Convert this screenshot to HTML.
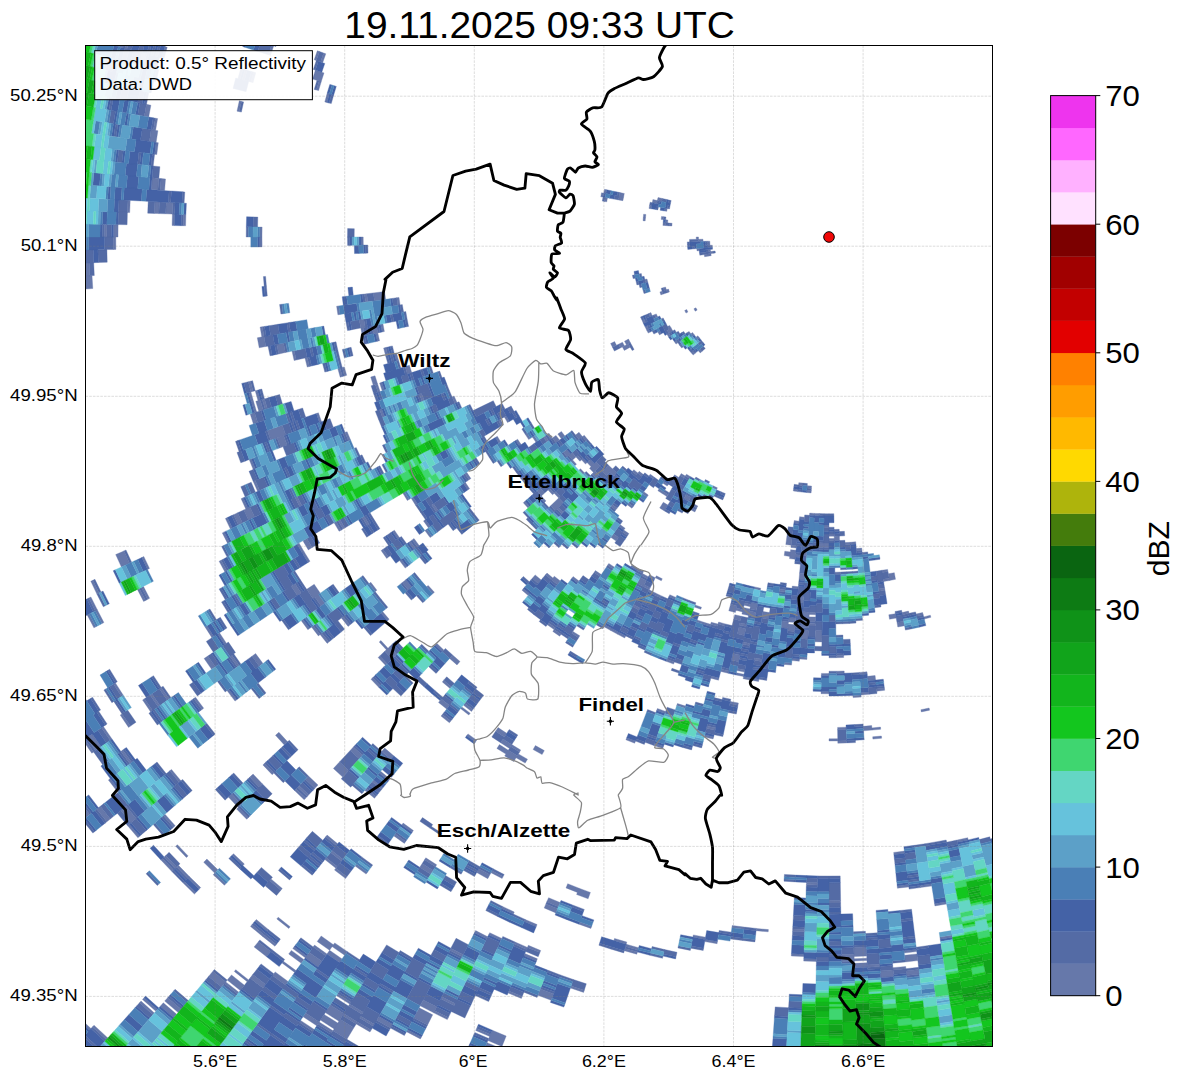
<!DOCTYPE html>
<html><head><meta charset="utf-8"><title>Radar 19.11.2025 09:33 UTC</title>
<style>html,body{margin:0;padding:0;background:#fff;font-family:"Liberation Sans",sans-serif}svg{display:block}</style>
</head><body>
<svg width="1184" height="1081" viewBox="0 0 1184 1081" font-family="Liberation Sans, sans-serif" fill="#000">
<rect width="1184" height="1081" fill="#fff"/>
<defs><clipPath id="c"><rect x="85.5" y="45.5" width="907.0" height="1001.0"/></clipPath></defs>
<g clip-path="url(#c)">
<g stroke-width="0.35" stroke-linejoin="miter"><path fill="#6678AA" stroke="#6678AA" d="M1011.9 835.2l0.6 2.1 -10.5 3.1 -0.6 -2.1zM930.3 615.2l0.6 2.1 -6.6 1.8 -0.6 -2.2zM922.6 612.5l0.6 2.2 -6.6 1.6 -0.5 -2.2zM967.7 837.7l0.5 2.2 -10.6 2.3 -0.4 -2.2zM908.5 611.1l0.5 2.2 -6.6 1.4 -0.4 -2.2zM929.1 708l0.5 2.2 -8.3 1.7 -0.4 -2.2zM894.3 572.7l1.2 6.6 -5.9 1.2 -1.2 -6.7zM903.7 621.3l0.9 4.4 -6.8 1.3 -0.8 -4.4zM887.6 569.4l0.4 2.2 -5.9 1 -0.3 -2.3zM889.2 578.2l0.4 2.3 -6 1 -0.4 -2.3zM895.4 613.7l0.8 4.4 -6.7 1.1 -0.7 -4.4zM946.2 901.7l0.4 2.3 -11.7 1.9 -0.3 -2.2zM952.1 935l0.4 2.2 -12.3 2 -0.3 -2.2zM884.6 588.1l0.4 2.2 -6.2 1 -0.3 -2.3zM931.4 883.7l0.4 2.2 -11.4 1.7 -0.3 -2.2zM884.4 688.1l0.3 2.2 -8 0.9 -0.2 -2.2zM904.4 851.1l0.3 2.3 -10.8 1.2 -0.2 -2.2zM908.5 884.6l0.3 2.3 -11.4 1.3 -0.2 -2.3zM916.5 949.4l0.2 2.2 -12.4 1.5 -0.3 -2.3zM917 953.9l0.8 6.7 -12.6 1.4 -0.7 -6.7zM918.9 969.5l0.6 4.5 -12.9 1.4 -0.5 -4.4zM861.7 548l0.2 2.3 -5.4 0.5 -0.2 -2.2zM875.1 675.6l0.5 4.5 -7.8 0.7 -0.4 -4.5zM880.5 727.1l0.2 2.2 -8.6 0.8 -0.2 -2.2zM881.4 736l0.3 2.2 -8.8 0.9 -0.2 -2.3zM905.7 966.5l0.2 2.2 -12.8 1.3 -0.2 -2.3zM855.7 541.8l0.2 2.3 -5.4 0.4 -0.2 -2.2zM867 671.8l0.2 2.3 -7.6 0.6 -0.2 -2.3zM868.8 692l0.2 2.3 -8 0.6 -0.1 -2.3zM871.7 725.6l0.4 4.5 -8.6 0.7 -0.3 -4.5zM893.1 970l0.6 6.7 -12.9 1 -0.5 -6.7zM850.3 542.3l0.2 2.2 -5.4 0.3 -0.1 -2.2zM861 694.9l0.2 2.2 -8.1 0.5 -0.1 -2.2zM879.9 964.2l0.1 2.3 -12.7 0.7 -0.1 -2.2zM866.2 947l0.5 9 -12.6 0.6 -0.3 -9zM866.8 958.3l0.1 2.2 -12.6 0.6 -0.1 -2.3zM867 962.8l0.3 4.4 -12.8 0.6 -0.1 -4.5zM839.4 536.1l0.2 4.5 -5.3 0.1 -0.1 -4.5zM840.7 572l0.1 2.3 -5.9 0.1 0 -2.2zM843.6 655.2l0.1 2.3 -7.4 0.2 0 -2.3zM844.2 671l0 2.2 -7.6 0.2 0 -2.2zM846.1 727.2l0.1 2.2 -8.6 0.3 0 -2.3zM846.6 740.7l0.1 2.2 -8.9 0.3 0 -2.3zM854 954.3l0.3 6.8 -12.7 0.3 -0.1 -6.8zM834.2 534l0 2.2 -5.2 0 0 -2.2zM834.3 538.5l0 2.2 -5.3 0.1 0 -2.3zM837.8 738.7l0 2.2 -8.8 0.1 0 -2.2zM840.6 900.6l0 2.3 -11.6 0.1 0 -2.2zM829 525l0 2.2 -5.1 0 0.1 -2.2zM829 543l0 4.5 -5.4 0 0.1 -4.5zM829 673.5l0 2.3 -7.7 -0.1 0.1 -2.3zM829 691.5l0 2.3 -8 -0.1 0.1 -2.3zM823.7 543l-0.1 4.5 -5.4 -0.2 0.1 -4.5zM822.1 630.7l-0.2 11.2 -7 -0.1 0.4 -11.3zM817.7 882.7l0 2.2 -11.3 -0.3 0.1 -2.2zM816.4 959.1l0 2.3 -12.7 -0.3 0.1 -2.3zM819.3 513.6l0 2.2 -4.9 -0.2 0.1 -2.2zM815.9 612.5l-0.1 2.3 -6.6 -0.3 0.1 -2.3zM815.7 617l-0.1 4.5 -6.7 -0.3 0.2 -4.5zM815.5 623.8l-0.1 2.2 -6.8 -0.3 0.1 -2.2zM804.8 929.6l-0.1 2.2 -12.1 -0.5 0.1 -2.2zM804 954.3l-0.1 2.3 -12.6 -0.6 0.1 -2.2zM814.5 513.4l-0.1 2.2 -4.9 -0.3 0.2 -2.2zM812.9 544.8l-0.2 2.3 -5.4 -0.4 0.2 -2.2zM809.3 612.2l-0.3 6.8 -6.7 -0.4 0.5 -6.8zM808.9 621.2l-0.4 6.8 -6.8 -0.5 0.5 -6.7zM808.4 630.2l-0.5 9 -7 -0.4 0.6 -9zM807 657.2l-0.1 2.2 -7.4 -0.4 0.1 -2.3zM811.6 486.1l-0.2 2.3 -4.4 -0.4 0.2 -2.2zM811.3 490.6l-0.2 2.3 -4.5 -0.4 0.2 -2.2zM807 551.2l-0.3 4.5 -5.5 -0.4 0.3 -4.5zM805.5 573.7l-0.5 6.7 -6 -0.5 0.6 -6.7zM803.9 596.1l-0.5 6.8 -6.4 -0.5 0.6 -6.8zM801.8 625.3l-0.1 2.2 -6.8 -0.5 0.2 -2.2zM799.5 659l-0.2 2.2 -7.4 -0.6 0.2 -2.2zM804.5 517.2l-0.2 2.2 -4.9 -0.5 0.2 -2.2zM801.2 555.3l-0.2 2.2 -5.6 -0.5 0.2 -2.3zM798.4 586.7l-0.2 2.2 -6.1 -0.6 0.2 -2.2zM795.7 618l-0.4 4.5 -6.8 -0.6 0.5 -4.5zM795.1 624.8l-0.6 6.7 -6.9 -0.7 0.7 -6.7zM791.7 662.9l-0.2 2.2 -7.4 -0.7 0.2 -2.2zM768.4 929.6l-0.2 2.2 -12.1 -1.1 0.2 -2.3zM803.1 483.1l-0.2 2.3 -4.3 -0.5 0.2 -2.2zM799.1 521.2l-0.2 2.2 -5 -0.5 0.3 -2.3zM796.5 545.8l-0.2 2.2 -5.4 -0.6 0.3 -2.2zM796.1 550.3l-1 8.9 -5.6 -0.6 1.1 -8.9zM788.5 621.9l-0.7 6.7 -6.8 -0.8 0.8 -6.7zM798 489.4l-0.3 2.2 -4.4 -0.6 0.3 -2.2zM792.3 536.3l-1.1 8.9 -5.4 -0.7 1.2 -8.9zM790.3 551.9l-0.5 4.5 -5.6 -0.8 0.6 -4.4zM785.7 589.9l-0.3 2.2 -6.2 -0.8 0.3 -2.3zM744.3 927.1l-0.3 2.2 -12.1 -1.6 0.3 -2.2zM769.5 612.6l-1 6.6 -6.7 -1.1 1.2 -6.6zM762.1 659.2l-0.3 2.3 -7.4 -1.3 0.4 -2.2zM759 679.2l-0.4 2.3 -7.7 -1.3 0.3 -2.3zM717.4 941.5l-0.3 2.2 -12.3 -2.1 0.3 -2.2zM751.2 677.9l-0.3 2.3 -7.8 -1.5 0.5 -2.2zM705.5 937.2l-0.4 2.2 -12.2 -2.3 0.4 -2.2zM760.7 588.2l-0.4 2.2 -6.1 -1.3 0.4 -2.2zM757.7 603.6l-1.3 6.7 -6.5 -1.4 1.4 -6.6zM756 612.5l-0.8 4.4 -6.7 -1.4 1 -4.4zM750 643.4l-0.4 2.2 -7.1 -1.4 0.4 -2.2zM744.9 669.9l-0.5 2.2 -7.6 -1.5 0.5 -2.2zM744 674.3l-0.4 2.2 -7.7 -1.5 0.5 -2.2zM738.4 703l-0.4 2.2 -8.2 -1.6 0.5 -2.2zM750.9 604.5l-0.5 2.2 -6.4 -1.4 0.5 -2.2zM749.9 608.9l-1.4 6.6 -6.6 -1.4 1.6 -6.6zM746.7 624.3l-0.5 2.2 -6.8 -1.5 0.5 -2.1zM745.7 628.7l-1.4 6.7 -6.9 -1.6 1.5 -6.6zM740.1 655.2l-1.4 6.6 -7.4 -1.7 1.5 -6.6zM743 609.7l-0.5 2.2 -6.6 -1.6 0.6 -2.2zM741.4 616.3l-1 4.4 -6.7 -1.6 1.1 -4.4zM728.8 671.1l-0.5 2.2 -7.6 -1.9 0.5 -2.1zM715.6 728.1l-0.5 2.2 -8.6 -2.1 0.6 -2.2zM713.6 736.9l-0.5 2.1 -8.8 -2.1 0.6 -2.1zM737 606l-1.6 6.5 -6.6 -1.7 1.8 -6.5zM719 678l-0.5 2.2 -7.7 -2 0.6 -2.2zM725.3 623.9l-0.5 2.1 -6.8 -1.9 0.6 -2.1zM638.6 947.7l-0.6 2.2 -12.4 -3.5 0.6 -2.2zM637.4 952l-0.6 2.2 -12.5 -3.5 0.7 -2.1zM718 624.1l-0.6 2.2 -6.8 -2 0.6 -2.1zM626.8 942.1l-0.6 2.1 -12.3 -3.6 0.6 -2.2zM710.6 624.3l-0.7 2.2 -6.7 -2.2 0.6 -2.1zM685.6 706.1l-0.7 2.1 -8.2 -2.6 0.7 -2.1zM703.8 622.2l-0.6 2.1 -6.8 -2.2 0.7 -2.2zM663.5 746.3l-0.7 2.1 -8.9 -2.9 0.8 -2.2zM584.3 990.2l-0.7 2.2 -13.2 -4.4 0.8 -2.1zM701.5 607.2l-0.7 2.1 -6.5 -2.3 0.8 -2.1zM665.6 711.4l-0.7 2.1 -8.3 -2.9 0.8 -2.1zM591.7 926.3l-0.8 2.1 -12 -4.2 0.8 -2.2zM674.3 662l-0.7 2.1 -7.5 -2.8 0.8 -2.1zM590.4 892.4l-2.3 6.4 -11.5 -4.3 2.4 -6.3zM553.5 993.9l-2.3 6.4 -13.3 -5 2.4 -6.3zM635.5 741.1l-0.8 2.1 -8.8 -3.4 0.8 -2.1zM579 888.2l-1.6 4.2 -11.4 -4.5 1.7 -4.2zM512.1 1062.5l-0.8 2.1 -14.4 -5.7 0.9 -2zM560.1 902.5l-1.7 4.2 -11.6 -4.9 1.8 -4.1zM557.6 908.7l-1.7 4.2 -11.7 -4.9 1.7 -4.1zM540.7 950.5l-0.8 2.1 -12.4 -5.2 0.8 -2.1zM537.4 958.8l-0.9 2.1 -12.6 -5.2 0.9 -2.1zM522.2 996.4l-0.8 2 -13.3 -5.4 0.9 -2.1zM506.2 1036l-4.2 10.4 -14.1 -5.8 4.4 -10.4zM501.1 1048.5l-1.7 4.2 -14.1 -5.9 1.7 -4.1zM676 597.4l-0.9 2 -6.3 -2.7 1 -2zM537.1 924.6l-0.9 2.1 -11.9 -5.2 0.9 -2.1zM527.5 947.4l-0.9 2.1 -12.4 -5.4 0.9 -2.1zM490.5 1034.4l-0.8 2.1 -14 -6.1 1 -2zM717.4 487.8l-1 2 -4.4 -2 1 -2zM661.6 595.9l-0.9 2 -6.3 -3 1 -2zM514.3 912l-1 2 -11.8 -5.6 1 -2zM501.9 938.5l-1 2 -12.2 -5.8 1 -2zM697.8 506l-1 2 -4.7 -2.4 1 -2zM695.8 510l-0.9 2 -4.8 -2.4 1 -2zM662.3 578.8l-1 2 -6 -3 1.1 -2zM655.4 592.9l-1 2 -6.2 -3.1 1 -2zM487.7 936.7l-1 2 -12.2 -6 1.1 -2.1zM455.2 1003.4l-1 2.1 -13.4 -6.7 1.1 -2zM448.3 1017.6l-1 2 -13.6 -6.8 1 -2zM689.1 511.7l-1.1 2 -4.8 -2.5 1.1 -2zM655.3 577.8l-1 2 -5.9 -3.1 1 -2zM650.2 587.8l-1 2 -6.1 -3.2 1 -1.9zM640 607.9l-1 2 -6.5 -3.4 1.1 -2zM625.7 635.9l-1 2.1 -7 -3.7 1.1 -2zM503.1 876.5l-1 2 -11.1 -5.8 1 -2zM463.3 954.7l-1 2 -12.5 -6.5 1 -2zM436.8 1006.8l-3.1 6 -13.5 -7 3.2 -5.9zM432.7 1014.8l-5.1 10.1 -13.7 -7.2 5.3 -9.9zM421.4 1036.9l-1 2 -13.9 -7.2 1 -2zM690.6 497.2l-2.1 4 -4.6 -2.5 2.2 -3.9zM648.4 576.7l-1.1 2 -5.9 -3.2 1.1 -2zM646.3 580.7l-3.2 5.9 -6.1 -3.3 3.3 -5.9zM618.8 632.3l-1.1 2 -6.9 -3.7 1.1 -2zM489.9 874.7l-2.1 4 -11.1 -6.1 2.1 -3.9zM643.6 571.5l-1.1 2 -5.9 -3.3 1.2 -1.9zM611.9 628.6l-1.1 2 -6.8 -3.9 1.1 -1.9zM544.3 750.6l-2.2 4 -9 -5.1 2.3 -3.9zM392.7 1024.2l-2.2 3.9 -13.8 -7.8 2.3 -3.9zM690.6 476.7l-1.1 1.9 -4.2 -2.5 1.2 -1.9zM682.8 490.3l-1.2 2 -4.4 -2.6 1.2 -2zM637.8 568.3l-1.2 1.9 -5.8 -3.4 1.2 -1.9zM527.5 759.2l-2.3 3.9 -9.1 -5.4 2.3 -3.8zM374.5 1024.2l-1.1 2 -13.7 -8.1 1.1 -1.9zM371.1 1030.1l-1.1 1.9 -13.8 -8.1 1.2 -1.9zM685.3 476.1l-1.2 2 -4.1 -2.6 1.2 -1.9zM667.9 505.1l-3.5 5.8 -4.7 -2.9 3.6 -5.8zM520.7 750l-1.1 1.9 -8.9 -5.4 1.1 -1.9zM517.3 755.8l-3.5 5.8 -9.1 -5.6 3.6 -5.7zM363.1 1012.3l-1.1 1.9 -13.5 -8.2 1.2 -1.9zM357.4 1022l-1.2 1.9 -13.7 -8.4 1.2 -1.9zM353.9 1027.7l-7 11.6 -13.9 -8.5 7.1 -11.5zM678.8 477.4l-1.2 1.9 -4.2 -2.6 1.2 -1.9zM668 494.6l-1.2 1.9 -4.5 -2.9 1.3 -1.9zM579.8 635.8l-1.2 1.9 -6.9 -4.4 1.2 -1.9zM511.8 744.6l-2.3 3.8 -8.9 -5.7 2.4 -3.8zM508.3 750.3l-2.4 3.8 -9 -5.7 2.5 -3.8zM436.7 864.8l-1.2 1.9 -10.9 -7 1.2 -1.9zM433.2 870.5l-2.4 3.8 -11.1 -7 2.5 -3.8zM350.9 1002.2l-1.2 1.9 -13.3 -8.5 1.2 -1.9zM343.7 1013.6l-4.7 7.6 -13.7 -8.6 4.9 -7.6zM337.8 1023.1l-3.6 5.8 -13.8 -8.8 3.7 -5.7zM333 1030.8l-1.2 1.9 -13.8 -8.8 1.2 -1.9zM668.5 484.2l-1.3 1.9 -4.3 -2.9 1.3 -1.8zM663.6 491.7l-1.3 1.9 -4.4 -2.9 1.2 -1.9zM614.5 567.2l-1.2 1.9 -5.7 -3.8 1.2 -1.9zM506.7 733.3l-2.4 3.8 -8.7 -5.8 2.5 -3.7zM319.2 1022l-2.4 3.8 -13.7 -9.1 2.5 -3.7zM314.3 1029.5l-1.2 1.9 -13.8 -9.1 1.3 -1.9zM628.9 533.6l-1.2 1.9 -5.2 -3.6 1.3 -1.8zM601.3 574.6l-1.3 1.9 -5.9 -4.1 1.3 -1.8zM561 634.3l-1.3 1.9 -6.9 -4.8 1.3 -1.8zM347.1 951.4l-2.5 3.8 -12.5 -8.6 2.6 -3.7zM342.1 958.9l-2.5 3.7 -12.6 -8.6 2.6 -3.7zM648.3 495l-1.3 1.9 -4.5 -3.2 1.3 -1.9zM625.1 528.2l-1.3 1.9 -5.1 -3.7 1.3 -1.8zM618.6 537.4l-2.5 3.7 -5.3 -3.8 2.6 -3.6zM555.4 627.7l-1.3 1.9 -6.8 -4.9 1.3 -1.8zM476.7 740.2l-1.3 1.8 -8.8 -6.2 1.4 -1.9zM413.4 830.5l-1.2 1.8 -10.4 -7.3 1.3 -1.9zM405.7 841.5l-1.3 1.9 -10.5 -7.5 1.3 -1.8zM333.4 944.7l-3.8 5.6 -12.4 -8.8 4 -5.5zM327 954l-1.3 1.8 -12.5 -8.9 1.3 -1.8zM321.8 961.3l-3.9 5.6 -12.6 -9.1 4 -5.4zM654.4 477.3l-1.3 1.8 -4.2 -3.1 1.4 -1.8zM633.3 506.4l-1.4 1.8 -4.7 -3.5 1.4 -1.8zM579 581l-1.3 1.9 -6 -4.5 1.4 -1.8zM367.4 872.3l-1.3 1.8 -11 -8.2 1.3 -1.8zM306.6 956l-1.3 1.8 -12.5 -9.2 1.3 -1.8zM304 959.7l-2.7 3.6 -12.6 -9.3 2.7 -3.6zM296 970.6l-1.3 1.8 -12.7 -9.4 1.3 -1.8zM288.1 981.5l-2.7 3.6 -12.9 -9.6 2.7 -3.6zM472.9 709.6l-1.4 1.8 -8.2 -6.3 1.4 -1.8zM470.2 713.2l-1.4 1.8 -8.3 -6.4 1.4 -1.7zM346.9 876.7l-1.3 1.8 -11.1 -8.5 1.4 -1.8zM265.7 984.5l-2.7 3.6 -13 -10 2.7 -3.5zM643.4 474.6l-1.4 1.8 -4.2 -3.3 1.5 -1.8zM617.1 508.3l-1.4 1.7 -4.8 -3.7 1.5 -1.8zM560.3 581l-2.8 3.5 -6 -4.8 2.8 -3.5zM450.8 721l-1.4 1.8 -8.4 -6.7 1.4 -1.7zM342.8 859.3l-1.4 1.8 -10.8 -8.6 1.4 -1.7zM337.2 866.4l-1.3 1.8 -11 -8.7 1.4 -1.8zM290.1 926.7l-1.3 1.8 -12 -9.6 1.4 -1.7zM276.3 944.4l-1.4 1.8 -12.3 -9.8 1.4 -1.7zM270.7 951.5l-4.1 5.3 -12.5 -9.9 4.3 -5.2zM248.6 979.9l-1.4 1.8 -12.9 -10.3 1.4 -1.7zM244.4 985.2l-4.1 5.3 -13.1 -10.4 4.3 -5.2zM238.9 992.3l-1.4 1.8 -13.1 -10.5 1.4 -1.7zM637.8 473.1l-1.4 1.7 -4.1 -3.4 1.5 -1.7zM552.9 578l-1.4 1.7 -6 -4.9 1.5 -1.7zM449.5 705.6l-2.8 3.5 -8.2 -6.7 2.9 -3.5zM390 779.1l-1.4 1.7 -9.4 -7.8 1.5 -1.7zM383 787.8l-1.4 1.8 -9.6 -7.9 1.4 -1.8zM375.9 796.5l-1.4 1.8 -9.8 -8 1.5 -1.7zM337.7 843.8l-1.5 1.7 -10.5 -8.7 1.4 -1.7zM268.3 929.4l-1.4 1.8 -12.1 -9.9 1.5 -1.8zM264 934.7l-1.4 1.7 -12.1 -10 1.4 -1.7zM225.8 981.9l-4.3 5.2 -13 -10.7 4.4 -5.1zM541.2 580l-2.9 3.4 -6 -5.1 2.9 -3.4zM529.6 593.8l-1.4 1.7 -6.2 -5.3 1.4 -1.7zM451.5 686.9l-1.4 1.7 -7.8 -6.7 1.4 -1.7zM393.7 755.8l-2.9 3.5 -9.1 -7.8 3 -3.4zM282.3 888.5l-1.4 1.7 -11.4 -9.6 1.5 -1.7zM181.1 1009.2l-2.9 3.4 -13.5 -11.5 3 -3.4zM176.7 1014.3l-2.9 3.5 -13.5 -11.6 3 -3.4zM460 661.5l-3 3.4 -7.4 -6.5 3 -3.4zM157.4 1009.6l-1.5 1.7 -13.4 -11.8 1.5 -1.7zM154.4 1013l-1.5 1.7 -13.4 -11.9 1.5 -1.7zM616.7 472.8l-3 3.3 -4.1 -3.8 3 -3.3zM362.3 755.3l-3 3.4 -9.1 -8.3 3.1 -3.3zM348.7 770.4l-6 6.7 -9.3 -8.6 6.1 -6.6zM107.8 1037.9l-1.5 1.7 -13.9 -12.7 1.6 -1.7zM86.8 1061.3l-4.5 5 -14.4 -13.1 4.6 -4.9zM612.6 469l-6.1 6.6 -4.1 -3.9 6.2 -6.5zM443.8 650l-1.5 1.7 -7.2 -6.8 1.6 -1.7zM318 785l-3.1 3.3 -9.5 -9.1 3.1 -3.2zM308.8 794.8l-1.5 1.7 -9.7 -9.2 1.5 -1.6zM305.7 798.1l-1.5 1.7 -9.7 -9.3 1.5 -1.6zM244.4 864l-1.6 1.6 -10.9 -10.3 1.6 -1.6zM225.9 883.7l-1.5 1.6 -11.2 -10.6 1.5 -1.6zM90.9 1028.5l-1.5 1.7 -13.8 -13.1 1.6 -1.6zM599.2 474.9l-3.1 3.3 -4.2 -4.1 3.2 -3.2zM563.3 512.1l-1.6 1.7 -4.8 -4.7 1.6 -1.6zM217.9 869.8l-3.2 3.3 -11 -10.8 3.2 -3.2zM200.7 887.6l-1.6 1.7 -11.3 -11.1 1.6 -1.6zM196 892.5l-1.6 1.6 -11.3 -11.2 1.5 -1.5zM599.9 466.1l-6.4 6.4 -4 -4.2 6.4 -6.2zM563.3 502.7l-8 8 -4.7 -4.9 8.1 -7.8zM380.3 685.7l-1.6 1.6 -7.7 -8 1.6 -1.5zM248.3 817.7l-1.6 1.6 -10.1 -10.2 1.6 -1.6zM189.4 876.6l-1.6 1.6 -11.1 -11.3 1.7 -1.6zM594.3 463.6l-3.2 3.2 -4 -4.2 3.3 -3.1zM584.6 473l-1.6 1.6 -4.1 -4.4 1.6 -1.5zM560.3 496.5l-1.6 1.5 -4.5 -4.7 1.6 -1.6zM396.9 654.3l-4.9 4.7 -7.3 -7.7 4.9 -4.6zM387.1 663.7l-1.6 1.6 -7.4 -7.8 1.7 -1.6zM273.8 773.1l-1.6 1.6 -9.3 -9.8 1.7 -1.6zM262.5 784l-3.2 3.2 -9.5 -10.1 3.3 -3zM241.5 804.4l-3.3 3.1 -9.8 -10.4 3.3 -3.1zM188.1 855.9l-1.7 1.6 -10.7 -11.3 1.7 -1.5zM176.7 866.9l-1.6 1.5 -10.9 -11.5 1.6 -1.5zM173.5 870l-1.6 1.6 -11 -11.6 1.7 -1.5zM587.1 462.6l-1.6 1.5 -4 -4.3 1.7 -1.5zM554.2 493.3l-1.7 1.5 -4.4 -4.9 1.7 -1.5zM546 500.9l-1.7 1.6 -4.6 -5 1.7 -1.5zM388 648.2l-1.7 1.6 -7.1 -7.8 1.7 -1.5zM287.6 741.8l-3.3 3.1 -8.8 -9.6 3.4 -3zM701.9 351.4l-1.6 1.5 -2.1 -2.2 1.7 -1.5zM581.5 459.8l-1.6 1.5 -3.9 -4.4 1.7 -1.4zM576.5 464.3l-1.7 1.5 -3.9 -4.4 1.7 -1.5zM544.7 492.9l-3.3 3.1 -4.5 -5.1 3.4 -3zM529.7 506.5l-1.7 1.5 -4.7 -5.3 1.7 -1.5zM434.4 592.3l-1.7 1.5 -6.1 -7 1.6 -1.4zM175.2 825.7l-1.7 1.5 -10.2 -11.6 1.7 -1.4zM694.9 353.6l-1.7 1.5 -2.1 -2.4 1.7 -1.4zM576 456.9l-3.4 3 -3.9 -4.5 3.5 -2.9zM389.2 619.3l-1.7 1.5 -6.6 -7.8 1.7 -1.4zM139.6 836.3l-1.7 1.5 -10.4 -12.2 1.7 -1.4zM587.7 439.5l-1.7 1.4 -3.5 -4.2 1.7 -1.5zM570.5 453.9l-3.5 2.9 -3.8 -4.6 3.5 -2.8zM530.8 487.2l-1.7 1.5 -4.4 -5.3 1.8 -1.4zM411.9 587l-3.5 2.9 -6.1 -7.4 3.5 -2.8zM180.9 780.8l-1.7 1.4 -9.4 -11.4 1.7 -1.4zM136.1 818.4l-5.2 4.3 -10.1 -12.2 5.3 -4.3zM582.5 436.7l-3.5 2.8 -3.5 -4.4 3.5 -2.8zM526.5 482l-1.8 1.4 -4.2 -5.4 1.8 -1.4zM349.9 625l-1.8 1.4 -6.7 -8.5 1.8 -1.3zM328.9 642l-1.7 1.4 -7.1 -8.8 1.8 -1.4zM110.3 819l-3.5 2.8 -10.1 -12.7 3.6 -2.8zM699.6 338.1l-1.8 1.4 -1.8 -2.3 1.8 -1.4zM407 566.7l-1.8 1.4 -5.7 -7.5 1.8 -1.3zM376.9 590.2l-1.8 1.4 -6.1 -8 1.8 -1.3zM320.1 634.6l-1.7 1.3 -6.9 -8.9 1.8 -1.4zM236.8 699.7l-1.8 1.4 -8 -10.5 1.8 -1.3zM119.8 791.1l-1.8 1.4 -9.6 -12.5 1.8 -1.4zM89.6 814.6l-7 5.6 -10.1 -13.1 7.2 -5.4zM683.4 346.7l-1.7 1.3 -2 -2.6 1.9 -1.3zM564.9 436.1l-3.6 2.7 -3.5 -4.7 3.6 -2.7zM559.5 440.1l-3.6 2.7 -3.6 -4.8 3.7 -2.6zM431.9 536.3l-1.8 1.3 -5.2 -7 1.8 -1.3zM419.3 545.7l-1.8 1.4 -5.3 -7.2 1.8 -1.4zM415.7 548.4l-1.8 1.4 -5.4 -7.3 1.8 -1.3zM309.7 628.3l-1.8 1.4 -6.8 -9.2 1.8 -1.3zM263 663.5l-3.6 2.7 -7.4 -10 3.6 -2.6zM203.7 708.2l-1.8 1.4 -8.2 -11 1.8 -1.4zM131.8 762.4l-1.8 1.3 -9.1 -12.2 1.8 -1.4zM694.3 334.9l-1.8 1.3 -1.7 -2.4 1.8 -1.3zM552.3 438l-1.8 1.3 -3.5 -4.8 1.9 -1.3zM548.7 440.7l-1.8 1.3 -3.6 -5 1.9 -1.3zM430.4 526.6l-1.9 1.4 -5 -7.1 1.9 -1.3zM388.5 557l-1.8 1.4 -5.6 -7.8 1.9 -1.3zM324.8 603.3l-3.7 2.7 -6.3 -8.9 3.7 -2.6zM239.2 665.5l-1.8 1.3 -7.4 -10.4 1.8 -1.3zM690.8 333.8l-1.9 1.3 -1.7 -2.5 1.9 -1.2zM677.9 342.8l-1.9 1.3 -1.8 -2.7 1.8 -1.2zM537.8 440.9l-1.9 1.3 -3.5 -5.1 1.9 -1.3zM469.6 488.7l-1.8 1.2 -4.4 -6.3 1.9 -1.3zM438.3 510.6l-1.9 1.3 -4.7 -6.9 1.8 -1.3zM399.6 537.7l-1.9 1.3 -5.2 -7.6 1.9 -1.2zM320.3 593.2l-7.4 5.2 -6.2 -9.1 7.5 -5zM215.3 666.8l-3.7 2.5 -7.5 -10.8 3.7 -2.5zM169.2 699l-1.9 1.3 -8 -11.6 1.9 -1.3zM160 705.5l-1.9 1.3 -8.1 -11.8 1.9 -1.3zM152.6 710.6l-1.9 1.3 -8.1 -11.9 1.8 -1.2zM130.5 726.1l-1.9 1.3 -8.4 -12.3 1.8 -1.2zM112 739l-1.8 1.3 -8.7 -12.6 1.9 -1.3zM101 746.8l-5.6 3.8 -8.8 -12.8 5.6 -3.8zM93.6 751.9l-1.8 1.3 -8.9 -12.9 1.8 -1.3zM530.5 438.3l-1.8 1.3 -3.5 -5.3 1.9 -1.2zM521.2 444.6l-1.8 1.3 -3.6 -5.5 1.8 -1.2zM470.9 478.6l-1.9 1.2 -4.2 -6.3 1.9 -1.2zM301.1 593.1l-3.7 2.5 -6.2 -9.4 3.8 -2.4zM226.5 643.4l-1.9 1.3 -7 -10.7 1.9 -1.2zM71.7 747.8l-1.9 1.3 -8.8 -13.3 1.9 -1.3zM417.6 504.1l-1.9 1.3 -4.6 -7.3 1.9 -1.2zM213.8 636.5l-1.9 1.2 -6.9 -10.8 2 -1.2zM123.3 695.3l-1.9 1.2 -7.9 -12.4 1.9 -1.2zM670.6 336l-1.9 1.2 -1.7 -2.9 1.9 -1.1zM500.8 442.1l-1.9 1.2 -3.6 -5.8 2 -1.2zM409.2 499.3l-1.9 1.2 -4.5 -7.4 1.9 -1.2zM369.1 524.3l-1.9 1.2 -4.9 -8.1 1.9 -1.1zM310 561.3l-1.9 1.2 -5.6 -9.1 1.9 -1.2zM86.7 700.8l-1.9 1.2 -8 -13.1 2 -1.1zM672.8 330.9l-3.9 2.3 -1.6 -2.8 3.9 -2.3zM344.9 527.9l-1.9 1.1 -5 -8.5 1.9 -1.1zM341.1 530.2l-2 1.1 -5 -8.5 1.9 -1.2zM312.1 547.6l-3.8 2.3 -5.4 -9.1 3.9 -2.3zM304.4 552.2l-1.9 1.2 -5.5 -9.3 2 -1.1zM671.2 328.1l-2 1.2 -1.6 -2.9 2 -1zM661.4 333.8l-1.9 1.1 -1.7 -3 2 -1.1zM509.4 421.5l-1.9 1.1 -3.2 -5.6 2 -1.1zM503.6 424.9l-2 1.1 -3.2 -5.7 2 -1.1zM697.2 310.1l-2 1.1 -1.3 -2.4 2 -1zM630.2 347.2l-5.9 3.2 -1.9 -3.5 6 -3.2zM226.8 570.8l-1.9 1.1 -5.8 -10.6 2 -1.1zM687.9 312l-1.9 1.1 -1.3 -2.6 2 -1zM650.2 332.1l-2 1 -1.6 -3.1 2 -1.1zM630.3 342.6l-3.9 2.1 -1.9 -3.5 4 -2.1zM624.4 345.8l-4 2.1 -1.9 -3.6 4 -2.1zM149.6 598.3l-2 1 -6.2 -11.9 2 -1.1zM145.6 600.4l-2 1 -6.2 -12 2 -1zM103.9 622.6l-2 1 -6.6 -12.7 2 -1.1zM95.9 626.8l-2 1 -6.7 -12.9 2 -1zM648.6 328.9l-2 1.1 -1.6 -3.2 2 -1zM616.5 345.3l-4 2 -1.9 -3.8 4 -1.9zM301.7 505.6l-2 1.1 -4.6 -9.3 2 -1zM229.6 542.4l-2 1 -5.3 -10.5 2 -1zM97.3 609.8l-2 1.1 -6.5 -12.9 2.1 -1zM81.2 618l-2 1 -6.5 -13.1 2 -1zM71.2 623.1l-2 1 -6.6 -13.3 2 -1zM254.7 517.1l-6.1 3 -4.8 -10.2 6.1 -2.8zM242.5 523l-4 2 -4.9 -10.3 4 -1.9zM232.4 528l-2 1 -5 -10.5 2 -1zM149.5 568.4l-2 1 -5.7 -11.9 2 -1zM99 593.1l-2.1 1 -6.1 -12.9 2.1 -0.9zM657.7 316.9l-2 0.9 -1.4 -3 2 -0.9zM645.5 322.6l-2.1 0.9 -1.4 -3.2 2 -0.9zM247.8 508l-2 1 -4.7 -10.3 2.1 -0.9zM129.6 563.2l-8.2 3.8 -5.7 -12.4 8.3 -3.7zM652.2 315.7l-2 0.9 -1.4 -3.1 2.1 -0.9zM457 402.6l-2.1 1 -2.8 -6.6 2 -0.9zM259.6 490.5l-2 0.9 -4.4 -10 2.1 -0.9zM350.6 440.1l-2.1 0.9 -3.5 -8.5 2.1 -0.8zM424.3 400.5l-2.1 0.9 -2.8 -7.2 2.1 -0.8zM384.6 416.5l-2 0.9 -3.1 -7.8 2.1 -0.9zM255.3 468.8l-2.1 0.8 -4 -10.1 2.1 -0.8zM287.1 445l-6.3 2.5 -3.6 -9.6 6.3 -2.4zM321.6 421.7l-2.1 0.8 -3.2 -9 2.1 -0.7zM285.6 434.8l-14.8 5.4 -3.4 -9.8 14.9 -5.1zM669.4 291.9l-2.1 0.8 -0.9 -2.9 2.1 -0.7zM663.1 294.1l-2.2 0.8 -1 -3 2.2 -0.7zM384.4 390.1l-2.2 0.7 -2.6 -7.8 2.2 -0.7zM380.1 391.6l-2.1 0.7 -2.7 -7.9 2.2 -0.7zM666.4 289.8l-2.2 0.7 -0.9 -2.8 2.2 -0.7zM411.7 372.6l-4.3 1.4 -2.3 -7.4 4.3 -1.3zM377.5 383.7l-4.3 1.4 -2.5 -8 4.3 -1.3zM257.7 422.6l-4.3 1.4 -3.2 -10 4.3 -1.4zM267.4 408.7l-2.1 0.7 -3 -9.9 2.2 -0.6zM263.1 410l-4.3 1.3 -3 -10 4.4 -1.2zM256.7 412l-2.2 0.6 -3 -10 2.2 -0.6zM398.6 360.4l-2.2 0.6 -2.1 -7.5 2.2 -0.6zM346.7 375.3l-2.2 0.6 -2.3 -8.5 2.1 -0.5zM342.4 376.5l-2.2 0.7 -2.4 -8.6 2.2 -0.6zM260.2 400.1l-2.2 0.6 -2.8 -10 2.2 -0.5zM253.7 402l-2.2 0.6 -2.8 -10.1 2.2 -0.6zM387.8 355.2l-2.2 0.6 -2 -7.8 2.2 -0.5zM253.1 391.3l-2.2 0.6 -2.6 -10.1 2.2 -0.6zM647.8 282.2l-2.2 0.5 -0.8 -3.2 2.2 -0.5zM309.4 366.5l-2.2 0.6 -2.2 -9.1 2.2 -0.5zM379.6 340.8l-2.2 0.5 -1.8 -7.9 2.2 -0.5zM296.3 360l-2.2 0.5 -2.1 -9.4 2.2 -0.4zM384.4 331.5l-2.2 0.5 -1.6 -7.8 2.3 -0.5zM377.8 332.9l-4.4 0.9 -1.6 -7.9 4.4 -0.9zM364.6 335.7l-2.2 0.5 -1.6 -8.2 2.2 -0.4zM285.4 352.5l-6.6 1.5 -2 -9.7 6.7 -1.3zM365.2 327.2l-4.4 0.8 -1.6 -8.2 4.5 -0.8zM265.8 346.5l-6.6 1.3 -1.9 -10 6.7 -1.2zM264 336.6l-2.2 0.4 -1.7 -9.9 2.2 -0.3zM711.2 255.7l-6.6 1 -0.4 -2.2 6.7 -0.9zM400.1 304.9l-2.2 0.4 -1.2 -7.6 2.3 -0.3zM340.1 314.4l-2.2 0.4 -1.3 -8.6 2.2 -0.3zM713.1 253.3l-2.2 0.3 -0.3 -2.1 2.3 -0.2zM385.6 299.3l-11.1 1.6 -1.1 -8 11.2 -1.3zM367.8 301.8l-2.2 0.3 -1.1 -8.1 2.2 -0.2zM710.6 251.5l-2.2 0.3 -0.2 -2.1 2.2 -0.2zM699.2 250.6l-2.2 0.3 -0.2 -2.3 2.2 -0.2zM712.4 247.2l-2.2 0.2 -0.2 -2.1 2.3 -0.1zM710 245.3l-2.2 0.2 -0.1 -2.1 2.2 -0.2zM92.8 288.5l-22.4 1.5 -0.9 -13.2 22.5 -1.2zM68.1 290.2l-2.2 0.2 -0.9 -13.4 2.3 -0.1zM709.9 243.2l-2.2 0.2 -0.1 -2.2 2.2 0zM89.8 275.7l-4.5 0.3 -0.6 -13 4.5 -0.2zM703.1 241.4l-4.5 0.2 -0.1 -2.3 4.5 -0.1zM698.5 239.3l-2.2 0 -0.1 -2.3 2.3 0zM363.3 245.1l-2.2 0.1 -0.1 -8.2 2.2 0zM262.1 246.9l-2.3 0 0 -9.9 2.2 0zM115.9 249.4l-2.3 0.1 -0.1 -12.5 2.3 0zM262 237l-2.2 0 0 -9.9 2.3 0zM118 237l-4.5 0 0.1 -12.5 4.5 0.1zM106.8 237l-2.3 0 0.1 -12.6 2.3 0zM185.6 225.8l-2.3 -0.1 0.3 -11.2 2.3 0zM174.3 225.6l-2.2 -0.1 0.3 -11.4 2.2 0zM172.4 214.1l-6.7 -0.3 0.5 -11.5 6.7 0.3zM158.9 213.6l-4.5 -0.2 0.5 -11.7 4.5 0.2zM129.7 212.6l-2.3 -0.1 0.6 -12.2 2.2 0.1zM671.9 226l-2.3 -0.1 0.3 -2.8 2.2 0.2zM665.2 225.5l-2.3 -0.1 0.2 -2.9 2.3 0.2zM164.6 190.5l-4.5 -0.3 1 -11.6 4.4 0.4zM157.9 190.1l-6.7 -0.5 0.9 -11.8 6.7 0.6zM667.6 222.9l-2.2 -0.2 0.2 -2.9 2.3 0.3zM645.2 220.9l-2.2 -0.2 0.3 -3.2 2.2 0.2zM663.4 219.6l-2.2 -0.2 0.3 -3 2.2 0.3zM645.5 217.7l-2.2 -0.2 0.3 -3.3 2.3 0.3zM156.8 154.5l-2.2 -0.3 1.5 -11.8 2.2 0.3zM156.1 142.4l-6.7 -0.9 1.8 -11.9 6.7 1.1zM666.8 211.3l-2.3 -0.3 0.5 -2.9 2.2 0.4zM651.2 208.8l-2.2 -0.3 0.5 -3.1 2.2 0.3zM606.8 201.8l-2.3 -0.3 0.7 -4 2.2 0.4zM155.6 130.4l-2.2 -0.4 2 -11.8 2.2 0.4zM622.9 200.7l-4.4 -0.8 0.7 -3.7 4.4 0.9zM603 197.1l-2.2 -0.3 0.7 -4 2.2 0.4zM148.7 117.1l-4.4 -0.8 2.2 -12 4.4 0.9zM656.7 203.5l-4.4 -0.8 0.6 -3.1 4.4 0.9zM623.6 197.1l-4.4 -0.9 0.7 -3.6 4.4 0.9zM605.9 193.6l-2.2 -0.4 0.8 -3.9 2.2 0.5zM661.7 201.4l-4.4 -0.9 0.7 -3 4.4 1zM239.2 111.6l-2.2 -0.4 2.3 -10.4 2.2 0.6zM156 81.6l-2.2 -0.5 2.8 -11.8 2.2 0.6zM143.5 66.1l-4.4 -1.1 3.1 -12 4.4 1.1zM327 102.5l-2.2 -0.6 2.4 -8.8 2.2 0.6zM253.1 82.7l-2.2 -0.6 2.8 -10.1 2.1 0.7zM164 58.8l-2.2 -0.6 3.2 -11.6 2.2 0.6zM127 48.9l-2.2 -0.6 3.4 -12.2 2.2 0.6zM122.7 47.7l-4.4 -1.1 3.5 -12.4 4.3 1.2zM318.6 90.6l-2.2 -0.6 2.7 -8.9 2.1 0.7zM165 46.6l-2.2 -0.6 3.5 -11.6 2.1 0.6zM321.2 81.8l-8.6 -2.7 2.8 -9 8.6 2.8zM270.5 55.5l-2.1 -0.7 3.2 -9.7 2.1 0.7zM322.7 62.7l-2.2 -0.8 3.2 -8.8 2.1 0.7zM316.3 60.5l-2.1 -0.8 3.1 -8.9 2.2 0.7z"/><path fill="#546BA5" stroke="#546BA5" d="M1000.8 836.1l0.6 2.2 -10.5 2.9 -0.6 -2.2zM989.7 836.8l1.2 4.4 -10.6 2.7 -1.1 -4.3zM923.2 614.7l0.5 2.2 -6.6 1.6 -0.5 -2.2zM915.5 611.9l0.6 2.2 -6.6 1.4 -0.5 -2.2zM909 613.3l0.5 2.2 -6.7 1.4 -0.4 -2.2zM911.8 626.5l0.5 2.2 -6.9 1.4 -0.4 -2.2zM957.2 840l0.9 4.4 -10.6 2.2 -0.9 -4.4zM901.6 610.3l0.4 2.2 -6.6 1.2 -0.4 -2.2zM902.4 614.7l1.3 6.6 -6.7 1.3 -1.2 -6.7zM946.2 840l0.4 2.2 -10.5 1.9 -0.4 -2.2zM888 571.6l1.2 6.6 -6 1 -1.1 -6.6zM935.7 841.9l0.4 2.2 -10.7 1.8 -0.3 -2.2zM881.8 570.3l1.8 11.2 -6.1 0.9 -1.5 -11.2zM883.9 583.7l0.7 4.4 -6.1 0.9 -0.7 -4.4zM885 590.3l0.7 4.5 -6.3 0.9 -0.6 -4.4zM925.1 843.7l0.3 2.2 -10.6 1.6 -0.3 -2.2zM876.6 575.7l0.6 4.4 -6 0.8 -0.5 -4.4zM879.1 593.5l0.6 4.5 -6.3 0.8 -0.5 -4.5zM880.7 604.6l0.3 2.3 -6.5 0.8 -0.3 -2.2zM915.4 852l1 6.6 -10.9 1.5 -0.8 -6.7zM918.6 874.2l0.3 2.3 -11.2 1.4 -0.3 -2.2zM919.2 878.7l0.3 2.2 -11.3 1.5 -0.2 -2.2zM920.1 885.4l0.3 2.2 -11.3 1.5 -0.3 -2.2zM928.6 945.5l0.3 2.3 -12.4 1.6 -0.3 -2.2zM929.8 954.4l1.3 9 -12.7 1.6 -1.1 -8.9zM867.7 551.9l0.2 2.2 -5.5 0.6 -0.2 -2.2zM884.1 685.9l0.3 2.2 -7.9 0.9 -0.2 -2.2zM905.2 857.8l0.6 4.5 -10.9 1.2 -0.5 -4.4zM911.5 909.2l0.3 2.2 -11.8 1.4 -0.2 -2.3zM912.6 918.1l0.3 2.3 -11.9 1.3 -0.3 -2.2zM914.8 936l0.3 2.2 -12.3 1.4 -0.2 -2.2zM918.7 967.3l0.2 2.2 -12.8 1.5 -0.2 -2.3zM919.5 974l0.3 2.2 -13 1.5 -0.2 -2.3zM861.9 550.3l0.3 2.2 -5.5 0.5 -0.2 -2.2zM875.8 682.3l0.2 2.2 -7.8 0.8 -0.2 -2.3zM876.3 686.8l0.7 6.7 -8 0.8 -0.6 -6.8zM905 959.8l0.2 2.2 -12.7 1.2 -0.2 -2.2zM905.9 968.7l0.5 4.5 -12.9 1.2 -0.4 -4.4zM858.2 571l0.2 2.2 -5.9 0.5 -0.1 -2.3zM862.3 618l0.2 2.3 -6.7 0.5 -0.1 -2.2zM890.4 938.6l0.8 8.9 -12.4 1 -0.7 -9zM892.7 965.5l0.4 4.5 -12.8 1 -0.3 -4.5zM850.5 544.5l0.3 4.5 -5.4 0.3 -0.3 -4.5zM852.4 571.4l0.1 2.3 -5.8 0.3 -0.2 -2.2zM855.8 620.8l0.2 2.3 -6.7 0.4 -0.2 -2.3zM859.4 672.4l0.2 2.3 -7.6 0.4 -0.2 -2.2zM863.1 724.1l0.1 2.2 -8.5 0.5 -0.1 -2.2zM877.7 932.8l0.1 2.2 -12.2 0.8 -0.1 -2.3zM878 937.3l0.1 2.2 -12.2 0.8 -0.2 -2.3zM879.1 953l0.8 11.2 -12.7 0.8 -0.6 -11.2zM880 966.5l0.2 2.2 -12.8 0.8 -0.1 -2.3zM844.4 531.3l0.3 4.5 -5.3 0.3 -0.1 -4.5zM844.9 540.3l0.4 6.8 -5.5 0.2 -0.2 -6.7zM846.3 567.3l0.1 2.2 -5.8 0.3 -0.1 -2.3zM846.5 571.8l0.2 2.2 -5.9 0.3 -0.1 -2.3zM849.1 621.2l0.2 2.3 -6.8 0.3 -0.1 -2.3zM850.1 639.2l0.2 4.5 -7.1 0.3 -0.1 -4.5zM855.4 740.3l0.1 2.3 -8.8 0.3 -0.1 -2.2zM865.4 931.3l0.1 2.2 -12.2 0.6 0 -2.3zM866.1 944.8l0.1 2.2 -12.4 0.6 -0.1 -2.3zM839.2 529.3l0.1 2.3 -5.2 0.1 0 -2.2zM839.4 533.8l0 2.3 -5.2 0.1 0 -2.2zM842.4 621.5l0.1 2.3 -6.7 0.1 -0.1 -2.2zM842.9 635l0.1 2.3 -7 0.1 0 -2.2zM843.5 653l0.1 2.2 -7.3 0.2 0 -2.2zM846.2 729.4l0.4 11.3 -8.8 0.2 -0.2 -11.2zM853.8 947.6l0.2 6.7 -12.5 0.3 -0.1 -6.7zM854.3 961.1l0.1 2.2 -12.7 0.3 -0.1 -2.2zM833.8 513.7l0.1 2.3 -4.9 0 0 -2.2zM834.1 527.2l0 2.3 -5.1 0 0 -2.3zM834.1 531.7l0.1 2.3 -5.2 0 0 -2.2zM834.3 540.7l0 2.3 -5.3 0 0 -2.2zM835.6 614.9l0.1 6.8 -6.7 0.1 0 -6.8zM836.1 646.4l0.2 6.8 -7.3 0 0 -6.7zM836.3 655.4l0 2.3 -7.3 0.1 0 -2.3zM836.6 671.2l0 2.2 -7.6 0.1 0 -2.3zM840.2 875.9l0 2.3 -11.2 0 0 -2.2zM840.3 882.7l0.3 17.9 -11.6 0.2 0 -18zM840.6 902.9l0.1 4.5 -11.7 0.1 0 -4.5zM840.8 911.9l0 2.2 -11.8 0.1 0 -2.2zM841.3 941.1l0.1 4.5 -12.4 0.2 0 -4.6zM841.5 954.6l0.1 2.3 -12.6 0.1 0 -2.2zM829 513.8l0 2.2 -4.9 0 0.1 -2.3zM829 527.2l0 4.6 -5.1 -0.1 0 -4.5zM829 534l0 9 -5.3 0 0.1 -9zM829 547.5l0 2.3 -5.5 -0.1 0.1 -2.2zM829 635.2l0 15.8 -7.2 -0.1 0.2 -15.7zM829 876l0 2.2 -11.2 0 0 -2.3zM829 957l0 4.5 -12.6 -0.1 0 -4.5zM824.2 513.7l-0.1 2.3 -4.8 -0.2 0 -2.2zM823.7 540.7l0 2.3 -5.4 -0.2 0.1 -2.2zM823.6 547.5l-0.1 2.2 -5.4 -0.1 0.1 -2.3zM822.6 603.7l-0.2 9 -6.5 -0.2 0.3 -9zM822.3 621.7l-0.2 9 -6.8 -0.2 0.3 -9zM821.9 646.4l-0.1 4.5 -7.2 -0.2 0.1 -4.4zM817.8 878.2l-0.1 4.5 -11.2 -0.3 0.1 -4.5zM817.7 884.9l0 2.3 -11.4 -0.3 0.1 -2.3zM818.3 542.8l-0.2 6.8 -5.5 -0.3 0.4 -6.7zM816.1 605.8l-0.2 6.7 -6.6 -0.3 0.4 -6.7zM815.6 621.5l-0.1 2.3 -6.8 -0.3 0.2 -2.3zM815.4 626l-0.4 11.3 -7 -0.3 0.6 -11.3zM805.3 916.1l-0.2 4.5 -11.9 -0.5 0.2 -4.5zM804.9 927.3l-0.1 2.3 -12.1 -0.5 0.1 -2.3zM804.7 931.8l-0.1 4.5 -12.2 -0.5 0.2 -4.5zM802.3 1001.5l-0.2 6.8 -13.5 -0.6 0.4 -6.7zM812.7 547.1l-0.2 4.5 -5.5 -0.4 0.3 -4.5zM810.9 583l-0.4 6.8 -6.1 -0.4 0.4 -6.7zM810.4 592l-0.5 9 -6.3 -0.4 0.6 -9zM809.6 607.7l-0.3 4.5 -6.5 -0.4 0.3 -4.5zM809 619l-0.1 2.2 -6.7 -0.4 0.1 -2.2zM808.5 628l-0.1 2.2 -6.9 -0.4 0.2 -2.3zM807.9 639.2l-0.4 9 -7.2 -0.5 0.6 -8.9zM795.6 875.1l-0.2 2.3 -11.1 -0.7 0.1 -2.3zM795.3 879.6l-0.1 2.3 -11.2 -0.7 0.1 -2.3zM788.6 1007.7l-0.5 9 -13.6 -0.9 0.7 -8.9zM785.8 1061.6l-0.3 4.5 -14.4 -0.9 0.3 -4.5zM811.4 488.4l-0.1 2.2 -4.5 -0.3 0.2 -2.3zM809.5 515.3l-0.4 6.8 -5 -0.4 0.6 -6.8zM807.7 542.3l-0.7 8.9 -5.5 -0.4 0.8 -9zM806.7 555.7l-1.2 18 -5.9 -0.5 1.6 -17.9zM804.8 582.7l-0.1 2.2 -6.1 -0.5 0.2 -2.2zM804.5 587.1l-0.6 9 -6.3 -0.5 0.8 -8.9zM803.4 602.9l-0.3 4.4 -6.5 -0.5 0.4 -4.4zM802.8 611.8l-1 13.5 -6.7 -0.5 1.2 -13.5zM801.7 627.5l-0.2 2.3 -6.8 -0.5 0.2 -2.3zM799.8 654.5l-0.2 2.2 -7.3 -0.6 0.2 -2.2zM807.4 483.6l-0.2 2.2 -4.3 -0.4 0.2 -2.3zM802.5 539.6l-0.2 2.2 -5.3 -0.5 0.2 -2.2zM802.1 544.1l-0.2 2.2 -5.4 -0.5 0.3 -2.2zM801.3 553l-0.1 2.3 -5.6 -0.6 0.2 -2.2zM800.6 562l-0.2 2.2 -5.7 -0.5 0.2 -2.2zM797.6 595.6l-0.4 4.5 -6.3 -0.6 0.5 -4.5zM794.5 631.5l-0.2 2.2 -6.9 -0.6 0.2 -2.3zM793.1 647.2l-1 11.2 -7.3 -0.7 1.2 -11.2zM802.9 485.4l-0.2 2.2 -4.4 -0.5 0.3 -2.2zM802.4 489.9l-0.2 2.2 -4.5 -0.5 0.3 -2.2zM797.2 539.1l-0.7 6.7 -5.3 -0.6 0.8 -6.7zM788.8 619.6l-0.3 2.3 -6.7 -0.8 0.3 -2.2zM756.3 928.4l-0.2 2.3 -12.1 -1.4 0.3 -2.2zM755.2 939.6l-0.3 2.3 -12.3 -1.4 0.3 -2.3zM798.6 484.9l-0.3 2.2 -4.4 -0.6 0.3 -2.2zM793.4 527.3l-1.1 9 -5.3 -0.7 1.3 -8.9zM786.5 583.2l-0.3 2.2 -6 -0.8 0.3 -2.2zM785.9 587.6l-0.2 2.3 -6.2 -0.9 0.3 -2.2zM785.4 592.1l-0.3 2.2 -6.2 -0.8 0.3 -2.2zM742.9 938.2l-0.3 2.3 -12.2 -1.6 0.3 -2.3zM776.7 609.1l-1.2 8.9 -6.7 -1 1.4 -8.9zM768.9 664.8l-0.6 4.5 -7.6 -1.2 0.7 -4.4zM767 678.2l-0.3 2.2 -7.7 -1.2 0.3 -2.2zM731.3 932.2l-0.3 2.2 -12.2 -1.8 0.4 -2.2zM774.1 583.7l-0.4 2.2 -6 -1 0.3 -2.2zM768.5 619.2l-0.7 4.5 -6.8 -1.1 0.8 -4.5zM762.8 654.8l-0.7 4.4 -7.3 -1.2 0.7 -4.4zM761.8 661.5l-0.7 4.4 -7.5 -1.2 0.8 -4.5zM760.7 668.1l-0.3 2.2 -7.6 -1.2 0.4 -2.2zM763.8 607l-1.6 8.9 -6.6 -1.2 1.7 -8.9zM761 622.6l-0.4 2.2 -6.7 -1.3 0.4 -2.2zM760.2 627l-2.3 13.3 -7 -1.3 2.5 -13.3zM757.5 642.5l-0.4 2.2 -7.1 -1.3 0.4 -2.2zM755.5 653.6l-1.1 6.6 -7.4 -1.3 1.3 -6.7zM703.6 948.3l-0.4 2.2 -12.4 -2.3 0.4 -2.2zM756.4 610.3l-0.4 2.2 -6.5 -1.4 0.4 -2.2zM755.2 616.9l-0.5 2.2 -6.6 -1.4 0.4 -2.2zM753 627.9l-1.3 6.7 -6.9 -1.5 1.4 -6.6zM750.9 639l-0.9 4.4 -7.1 -1.4 1 -4.4zM749.6 645.6l-0.5 2.2 -7.1 -1.4 0.5 -2.2zM748.7 650l-0.4 2.2 -7.2 -1.4 0.4 -2.2zM747.9 654.4l-0.5 2.2 -7.3 -1.4 0.5 -2.2zM747 658.9l-0.4 2.2 -7.4 -1.5 0.4 -2.2zM745.7 665.5l-0.8 4.4 -7.6 -1.5 0.9 -4.4zM738 705.2l-0.4 2.2 -8.2 -1.6 0.4 -2.2zM736.7 711.9l-0.4 2.2 -8.3 -1.7 0.4 -2.2zM690.8 948.2l-0.5 2.2 -12.4 -2.5 0.5 -2.2zM751.3 602.3l-0.4 2.2 -6.4 -1.4 0.5 -2.2zM748.1 617.7l-1.4 6.6 -6.8 -1.4 1.5 -6.6zM746.2 626.5l-0.5 2.2 -6.8 -1.5 0.5 -2.2zM744.3 635.4l-0.9 4.4 -7 -1.6 1 -4.4zM740.6 653l-0.5 2.2 -7.3 -1.7 0.5 -2.1zM738.7 661.8l-0.9 4.4 -7.5 -1.7 1 -4.4zM730.8 699.2l-0.5 2.2 -8.1 -1.8 0.5 -2.2zM723.3 734.4l-0.5 2.2 -8.7 -1.9 0.5 -2.2zM677 952.3l-1 4.4 -12.5 -2.8 1 -4.4zM745 600.9l-2 8.8 -6.5 -1.6 2.1 -8.7zM740.4 620.7l-4 17.5 -7 -1.7 4.3 -17.4zM729.3 668.9l-0.5 2.2 -7.6 -1.8 0.6 -2.2zM722.2 699.6l-0.5 2.2 -8.1 -2 0.5 -2.2zM716.1 725.9l-0.5 2.2 -8.5 -2.1 0.5 -2.2zM715.1 730.3l-1 4.4 -8.7 -2.1 1.1 -4.4zM664.5 949.5l-0.5 2.2 -12.4 -3 0.5 -2.2zM663 956.1l-0.5 2.2 -12.6 -3 0.6 -2.2zM737.6 603.8l-0.6 2.2 -6.4 -1.7 0.6 -2.2zM732.1 625.6l-0.5 2.2 -6.8 -1.8 0.5 -2.1zM730.5 632.2l-0.6 2.1 -6.9 -1.8 0.6 -2.1zM728.3 640.9l-0.5 2.2 -7.1 -1.9 0.6 -2.1zM702.2 745.7l-0.6 2.2 -8.9 -2.3 0.6 -2.2zM735.2 586.9l-1.7 6.5 -6.2 -1.7 1.9 -6.5zM732.9 595.6l-0.6 2.2 -6.3 -1.8 0.7 -2.1zM724.8 626l-1.2 4.4 -6.9 -1.9 1.3 -4.4zM722.4 634.7l-0.6 2.2 -6.9 -1.9 0.6 -2.2zM711.4 676l-1.2 4.4 -7.7 -2.2 1.2 -4.3zM703.8 704.3l-0.6 2.1 -8.2 -2.2 0.7 -2.2zM692.1 747.7l-0.5 2.2 -9 -2.5 0.7 -2.1zM638 949.9l-0.6 2.1 -12.4 -3.4 0.6 -2.2zM717.4 626.3l-0.7 2.2 -6.8 -2 0.7 -2.2zM704.3 671.7l-0.6 2.2 -7.6 -2.3 0.7 -2.1zM624.3 950.7l-0.6 2.2 -12.4 -3.7 0.6 -2.1zM611.9 947.1l-0.6 2.1 -12.4 -3.9 0.7 -2.1zM701.1 630.7l-0.7 2.2 -6.9 -2.3 0.7 -2.2zM697.6 641.4l-0.7 2.2 -7.1 -2.4 0.8 -2.1zM675.3 709.9l-2 6.4 -8.4 -2.8 2.2 -6.3zM586.3 983.8l-2 6.4 -13.1 -4.3 2.1 -6.4zM699.3 613.6l-0.7 2.1 -6.6 -2.4 0.8 -2.1zM694.9 626.3l-2.2 6.4 -6.8 -2.4 2.3 -6.4zM683.2 660.4l-1.4 4.2 -7.5 -2.6 1.6 -4.3zM679.6 671l-0.8 2.1 -7.6 -2.7 0.8 -2.1zM656.9 736.9l-0.8 2.2 -8.7 -3.1 0.8 -2.1zM655.4 741.2l-1.5 4.3 -8.8 -3.2 1.5 -4.2zM573.3 979.5l-0.7 2.1 -12.9 -4.6 0.7 -2.1zM695.9 602.8l-0.8 2.1 -6.4 -2.4 0.8 -2.1zM680.5 645.1l-0.8 2.1 -7.1 -2.7 0.8 -2.1zM675.1 659.9l-0.8 2.1 -7.4 -2.8 0.8 -2.1zM655.9 712.7l-0.8 2.1 -8.3 -3.1 0.8 -2.1zM645.1 742.3l-0.8 2.1 -8.8 -3.3 0.8 -2.1zM584.3 909.4l-0.8 2.1 -11.7 -4.4 0.8 -2.1zM560.4 974.9l-0.7 2.1 -12.9 -4.8 0.8 -2.1zM554.3 991.8l-0.8 2.1 -13.2 -4.9 0.8 -2.1zM689.5 600.4l-0.8 2.1 -6.4 -2.5 0.9 -2.1zM537.9 995.3l-0.8 2.1 -13.2 -5.2 0.8 -2.1zM511.3 1064.6l-0.8 2.1 -14.4 -5.7 0.8 -2.1zM725.3 493.6l-0.8 2.1 -4.5 -1.9 0.9 -2.1zM723.6 497.8l-0.8 2.1 -4.6 -1.9 0.9 -2.1zM668.9 633.4l-1.7 4.1 -7 -2.8 1.8 -4.2zM558.4 906.7l-0.8 2 -11.7 -4.8 0.9 -2.1zM539.9 952.6l-1.7 4.1 -12.5 -5.2 1.8 -4.1zM523.9 992.2l-1.7 4.2 -13.2 -5.5 1.7 -4.1zM499.4 1052.7l-1.6 4.2 -14.3 -5.9 1.8 -4.2zM719.1 495.9l-0.9 2.1 -4.5 -2 0.9 -2.1zM674.3 601.5l-2.7 6.2 -6.4 -2.8 2.7 -6.1zM669.9 611.9l-0.9 2 -6.6 -2.8 1 -2.1zM664.6 624.3l-3.5 8.3 -6.9 -3 3.7 -8.2zM652.3 653.3l-0.9 2.1 -7.3 -3.2 1 -2zM526.6 949.5l-0.9 2 -12.4 -5.4 0.9 -2zM491.4 1032.3l-0.9 2.1 -13.8 -6 0.9 -2.1zM488.8 1038.5l-0.9 2.1 -14 -6.1 0.9 -2zM483.5 1051l-0.9 2 -14.2 -6.1 0.9 -2.1zM713.7 496l-0.9 2 -4.6 -2 1 -2.1zM667.9 598.8l-0.9 2 -6.3 -2.9 0.9 -2zM661.5 613.2l-2.7 6.1 -6.7 -3 2.9 -6.1zM657 623.4l-2.8 6.2 -6.8 -3.1 2.8 -6.1zM646 648.1l-0.9 2.1 -7.2 -3.3 0.9 -2.1zM525.2 919.4l-0.9 2.1 -11.9 -5.4 0.9 -2.1zM515.1 942l-0.9 2.1 -12.3 -5.6 0.9 -2.1zM492.2 993.4l-0.9 2.1 -13.2 -6 1 -2.1zM489.5 999.6l-0.9 2 -13.3 -6 0.9 -2.1zM708.2 496l-0.9 2 -4.6 -2.1 1 -2.1zM660.7 597.9l-1.9 4.1 -6.4 -3 2 -4.1zM656.9 606.1l-2.9 6.1 -6.5 -3.1 3 -6.1zM648.3 624.4l-2.8 6.2 -6.9 -3.3 3 -6.1zM641.7 638.7l-1 2.1 -7 -3.4 1 -2zM500 942.6l-5.7 12.2 -12.5 -6 5.9 -12.1zM479.1 987.4l-1.9 4.1 -13.1 -6.3 1.9 -4zM474.3 997.6l-2.8 6.1 -13.4 -6.3 3 -6.1zM470.5 1005.8l-5.7 12.2 -13.6 -6.5 6 -12.1zM709.7 481.7l-1 2 -4.3 -2.1 1 -2zM696.8 508l-1 2 -4.7 -2.4 1 -2zM649.5 605.1l-1 2 -6.4 -3.2 1 -2zM647.5 609.1l-1 2 -6.5 -3.2 1 -2zM643.6 617.2l-1 2 -6.7 -3.3 1.1 -2zM637.7 629.3l-1 2 -6.9 -3.4 1 -2zM633.7 637.4l-1 2 -7 -3.5 1 -2zM502.5 906.4l-1 2 -11.6 -5.8 1 -2zM498.6 914.5l-1 2 -11.8 -5.9 1 -2zM457.2 999.4l-2 4 -13.3 -6.6 2 -4zM454.2 1005.5l-3 6 -13.4 -6.7 3 -6zM450.2 1013.6l-1.9 4 -13.6 -6.8 2.1 -4zM696.2 497.6l-3.1 6 -4.6 -2.4 3.2 -5.9zM652.3 583.8l-2.1 4 -6.1 -3.1 2.2 -4zM649.2 589.8l-2 4 -6.2 -3.2 2.1 -4zM642.1 603.9l-2.1 4 -6.4 -3.4 2.1 -3.9zM639 609.9l-2 4 -6.6 -3.4 2.1 -4zM628.8 629.9l-2.1 4 -6.8 -3.5 2.1 -4zM504.2 874.5l-1.1 2 -11.1 -5.8 1.1 -2zM468.4 944.7l-5.1 10 -12.5 -6.5 5.3 -9.9zM462.3 956.7l-1 2 -12.6 -6.5 1.1 -2zM439.8 1000.8l-3 6 -13.4 -6.9 3.1 -6zM427.6 1024.9l-1.1 2 -13.7 -7.2 1.1 -2zM700.1 479.4l-1 2 -4.3 -2.3 1.1 -2zM691.7 495.3l-1.1 1.9 -4.5 -2.4 1.1 -2zM683.2 511.2l-1 1.9 -4.8 -2.6 1.1 -1.9zM647.3 578.7l-1 2 -6 -3.3 1.1 -1.9zM643.1 586.6l-1.1 2 -6.1 -3.3 1.1 -2zM491 872.7l-1.1 2 -11.1 -6 1.1 -2zM446.6 956.2l-3.2 5.9 -12.5 -6.8 3.2 -5.9zM430.8 986l-10.6 19.8 -13.3 -7.2 10.9 -19.7zM411.8 1021.7l-2.2 4 -13.7 -7.4 2.2 -4zM405.4 1033.6l-1 2 -13.9 -7.5 1.1 -2zM686.1 494.8l-3.3 5.9 -4.6 -2.6 3.4 -5.8zM642.5 573.5l-1.1 2 -5.9 -3.3 1.1 -2zM479.9 866.7l-1.1 2 -10.9 -6.2 1.1 -2zM477.8 870.7l-1.1 1.9 -11.1 -6.2 1.1 -2zM475.6 874.6l-1.1 2 -11.1 -6.3 1.1 -2zM425.4 965.1l-7.6 13.8 -12.9 -7.3 7.8 -13.6zM390.5 1028.1l-1.1 2 -13.8 -7.8 1.1 -2zM689.5 478.6l-1.1 2 -4.3 -2.5 1.2 -2zM685 486.4l-2.2 3.9 -4.4 -2.6 2.3 -3.8zM681.6 492.3l-1.1 1.9 -4.5 -2.6 1.2 -1.9zM674.9 504l-2.3 3.8 -4.7 -2.7 2.3 -3.9zM670.4 511.7l-1.2 2 -4.8 -2.8 1.2 -2zM604 626.7l-1.1 2 -6.8 -4 1.1 -2zM462.2 872.2l-1.1 2 -11 -6.5 1.1 -2zM456.6 882l-2.2 3.9 -11.3 -6.7 2.3 -3.8zM452.1 889.8l-1.1 1.9 -11.4 -6.7 1.2 -1.9zM412.7 958l-1.1 1.9 -12.5 -7.4 1.1 -1.9zM393.6 991.1l-1.1 1.9 -13.1 -7.7 1.1 -1.9zM380.1 1014.5l-5.6 9.7 -13.7 -8 5.8 -9.7zM373.4 1026.2l-2.3 3.9 -13.7 -8.1 2.3 -3.9zM361 1047.6l-1.1 1.9 -14.1 -8.3 1.1 -1.9zM356.5 1055.4l-1.1 1.9 -14.3 -8.3 1.2 -2zM684.1 478.1l-5.7 9.6 -4.4 -2.6 6 -9.6zM676 491.6l-5.8 9.6 -4.5 -2.8 5.9 -9.5zM608.8 603.4l-1.1 2 -6.4 -4 1.2 -1.9zM577.5 655.5l-1.1 1.9 -7.3 -4.4 1.2 -1.9zM519.6 751.9l-2.3 3.9 -9 -5.5 2.4 -3.8zM399.1 952.5l-4.7 7.7 -12.5 -7.7 4.7 -7.6zM388.6 969.9l-5.8 9.6 -12.8 -7.9 5.9 -9.5zM379.4 985.3l-3.5 5.8 -13.1 -8 3.6 -5.8zM370.1 1000.7l-7 11.6 -13.4 -8.2 7.1 -11.5zM362 1014.2l-4.6 7.8 -13.7 -8.4 4.8 -7.6zM356.2 1023.9l-2.3 3.8 -13.8 -8.4 2.4 -3.8zM346.9 1039.3l-2.3 3.9 -14 -8.6 2.4 -3.8zM676.4 481.2l-3.6 5.8 -4.3 -2.8 3.6 -5.7zM669.2 492.7l-1.2 1.9 -4.4 -2.9 1.2 -1.8zM584.6 628.2l-1.2 1.9 -6.8 -4.4 1.2 -1.9zM578.6 637.7l-2.4 3.8 -7 -4.5 2.5 -3.7zM573.8 645.3l-1.1 1.9 -7.2 -4.5 1.3 -1.9zM517.8 735l-1.2 1.9 -8.7 -5.5 1.3 -1.9zM514.2 740.7l-2.4 3.9 -8.8 -5.7 2.5 -3.7zM435.5 866.7l-2.3 3.8 -11 -7 2.4 -3.8zM430.8 874.3l-2.4 3.8 -11.1 -7.1 2.4 -3.7zM367.6 975.4l-1.2 1.9 -12.9 -8.1 1.3 -1.9zM352.1 1000.2l-1.2 2 -13.3 -8.5 1.2 -1.9zM348.5 1006l-2.4 3.8 -13.4 -8.6 2.4 -3.7zM344.9 1011.7l-1.2 1.9 -13.5 -8.6 1.3 -1.9zM331.8 1032.7l-1.2 1.9 -13.8 -8.8 1.2 -1.9zM670.9 480.4l-1.2 1.9 -4.3 -2.8 1.3 -1.9zM613.3 569.1l-1.2 1.9 -5.8 -3.8 1.3 -1.9zM574.1 629.5l-3.7 5.7 -6.9 -4.6 3.8 -5.6zM569.2 637l-1.2 1.9 -7 -4.6 1.3 -1.8zM504.3 737.1l-3.7 5.6 -8.8 -5.8 3.8 -5.6zM441.8 833.3l-1.3 1.9 -10.3 -6.9 1.2 -1.9zM359.7 959.7l-1.3 1.9 -12.5 -8.3 1.2 -1.9zM326.6 1010.7l-7.4 11.3 -13.6 -9 7.5 -11.2zM313.1 1031.4l-1.2 1.9 -13.9 -9.1 1.3 -1.9zM665.4 479.5l-1.2 1.9 -4.3 -3 1.3 -1.8zM627.7 535.5l-1.3 1.8 -5.2 -3.6 1.3 -1.8zM625.2 539.2l-5.1 7.4 -5.3 -3.6 5.1 -7.4zM600 576.5l-2.5 3.7 -6 -4.1 2.6 -3.7zM564.8 628.7l-1.3 1.9 -6.8 -4.7 1.3 -1.9zM562.3 632.5l-1.3 1.8 -6.9 -4.7 1.3 -1.9zM432.7 824.6l-2.5 3.7 -10.3 -7 2.6 -3.7zM329.5 977.5l-1.3 1.9 -12.8 -8.8 1.3 -1.9zM310.6 1005.5l-2.5 3.7 -13.4 -9.2 2.6 -3.6zM299.3 1022.3l-2.5 3.7 -13.7 -9.4 2.6 -3.7zM285.5 1042.8l-1.3 1.9 -14 -9.6 1.3 -1.9zM658.6 480.3l-5.1 7.4 -4.4 -3.1 5.3 -7.3zM622.5 531.9l-3.9 5.5 -5.2 -3.7 4 -5.5zM589 579.8l-2.6 3.7 -6 -4.3 2.6 -3.6zM556.7 625.9l-1.3 1.8 -6.8 -4.8 1.3 -1.8zM407 839.7l-1.3 1.8 -10.5 -7.4 1.3 -1.9zM325.7 955.8l-3.9 5.5 -12.5 -8.9 3.9 -5.5zM298.6 994.5l-2.6 3.7 -13.2 -9.4 2.6 -3.7zM284.4 1014.8l-1.3 1.8 -13.5 -9.6 1.3 -1.8zM271.5 1033.2l-1.3 1.9 -13.8 -9.9 1.3 -1.8zM259.9 1049.8l-1.3 1.8 -14.2 -10 1.4 -1.9zM634.6 504.6l-1.3 1.8 -4.7 -3.5 1.3 -1.8zM622.7 521l-1.3 1.8 -5 -3.7 1.4 -1.8zM547.3 624.7l-1.3 1.8 -6.8 -5 1.4 -1.8zM388.6 843.2l-1.3 1.8 -10.6 -7.8 1.4 -1.8zM372.7 865l-1.3 1.8 -10.9 -8.1 1.3 -1.8zM313.2 946.9l-1.3 1.8 -12.3 -9.1 1.3 -1.8zM285.4 985.1l-2.6 3.7 -13 -9.7 2.7 -3.6zM277.5 996.1l-2.6 3.6 -13.3 -9.8 2.7 -3.6zM648.9 476l-1.3 1.8 -4.2 -3.2 1.4 -1.8zM642.1 485l-4 5.4 -4.4 -3.4 4.1 -5.3zM544.6 614.4l-4 5.3 -6.7 -5 4.2 -5.4zM483.7 695.2l-2.7 3.6 -8 -6.1 2.8 -3.6zM479.6 700.6l-2.7 3.6 -8.1 -6.2 2.8 -3.6zM474.2 707.8l-1.3 1.8 -8.2 -6.3 1.4 -1.8zM351 871.3l-4.1 5.4 -11 -8.5 4.1 -5.3zM284.7 959.4l-1.4 1.8 -12.6 -9.7 1.4 -1.7zM273.8 973.7l-1.3 1.8 -12.8 -9.8 1.4 -1.8zM269.8 979.1l-4.1 5.4 -13 -9.9 4.2 -5.3zM263 988.1l-8.1 10.8 -13.2 -10.1 8.3 -10.7zM642 476.4l-2.8 3.5 -4.2 -3.3 2.8 -3.5zM637.8 481.7l-5.5 7.1 -4.4 -3.5 5.7 -7zM618.4 506.5l-1.3 1.8 -4.7 -3.8 1.4 -1.7zM615.7 510l-1.4 1.8 -4.8 -3.8 1.4 -1.7zM557.5 584.5l-1.4 1.8 -6 -4.8 1.4 -1.8zM535.3 612.9l-1.4 1.8 -6.5 -5.3 1.4 -1.7zM477.1 687.3l-1.3 1.8 -7.9 -6.2 1.4 -1.8zM473 692.7l-1.4 1.7 -7.9 -6.3 1.4 -1.7zM459.1 710.4l-1.3 1.8 -8.3 -6.6 1.4 -1.7zM452.2 719.3l-1.4 1.7 -8.4 -6.6 1.5 -1.8zM346.9 854l-4.1 5.3 -10.8 -8.5 4.2 -5.3zM341.4 861.1l-4.2 5.3 -10.9 -8.7 4.3 -5.2zM280.4 939.1l-1.3 1.8 -12.2 -9.7 1.4 -1.8zM277.7 942.7l-1.4 1.7 -12.3 -9.7 1.4 -1.8zM272.1 949.8l-1.4 1.7 -12.3 -9.8 1.4 -1.8zM237.5 994.1l-1.4 1.8 -13.1 -10.5 1.4 -1.8zM636.4 474.8l-1.4 1.8 -4.1 -3.5 1.4 -1.7zM578.4 546.5l-1.4 1.7 -5.4 -4.4 1.4 -1.7zM551.5 579.7l-2.9 3.5 -6 -4.9 2.9 -3.5zM452.4 702.1l-2.9 3.5 -8.1 -6.7 2.9 -3.4zM381.6 789.6l-2.9 3.4 -9.6 -7.9 2.9 -3.4zM377.3 794.8l-1.4 1.7 -9.7 -7.9 1.4 -1.8zM336.2 845.5l-1.4 1.8 -10.5 -8.8 1.4 -1.7zM323.5 861.2l-1.4 1.8 -10.9 -9 1.5 -1.7zM320.7 864.7l-1.4 1.8 -11 -9 1.5 -1.7zM313.6 873.5l-1.4 1.7 -11.1 -9.1 1.5 -1.7zM265.4 932.9l-1.4 1.8 -12.1 -10 1.5 -1.7zM227.2 980.1l-1.4 1.8 -12.9 -10.6 1.4 -1.8zM221.5 987.1l-2.8 3.5 -13 -10.7 2.8 -3.5zM622.2 483.5l-2.9 3.4 -4.3 -3.7 2.9 -3.4zM568.7 547.2l-1.5 1.8 -5.4 -4.6 1.5 -1.7zM538.3 583.4l-1.4 1.8 -6.1 -5.2 1.5 -1.7zM454.4 683.4l-2.9 3.5 -7.8 -6.7 3 -3.4zM442.8 697.2l-1.4 1.7 -8 -6.8 1.5 -1.7zM390.8 759.3l-1.5 1.7 -9 -7.8 1.4 -1.7zM363.3 792l-1.4 1.7 -9.7 -8.2 1.5 -1.7zM322.8 840.3l-5.8 6.9 -10.6 -9.1 6 -6.8zM315.6 848.9l-1.5 1.7 -10.6 -9.1 1.5 -1.7zM311.2 854l-2.9 3.5 -10.7 -9.2 2.9 -3.4zM291 878.2l-1.5 1.7 -11.1 -9.5 1.5 -1.7zM280.9 890.2l-4.4 5.2 -11.4 -9.7 4.4 -5.1zM188.3 1000.6l-1.4 1.7 -13.3 -11.3 1.5 -1.7zM182.5 1007.4l-1.4 1.8 -13.4 -11.5 1.5 -1.7zM626.8 469.6l-1.5 1.7 -4.1 -3.6 1.5 -1.6zM619.4 478.1l-4.4 5.1 -4.3 -3.7 4.5 -5.1zM560.3 546.1l-1.4 1.7 -5.4 -4.8 1.5 -1.7zM529.3 581.7l-1.4 1.7 -6 -5.3 1.5 -1.7zM381.7 751.5l-1.4 1.7 -9 -7.9 1.5 -1.7zM377.3 756.6l-1.5 1.7 -9 -8 1.5 -1.6zM358.1 778.7l-7.4 8.5 -9.5 -8.4 7.5 -8.4zM272.5 877.2l-4.4 5.1 -11.2 -9.9 4.5 -5zM152.9 1014.7l-2.9 3.4 -13.6 -11.9 3.1 -3.4zM105.7 1069.1l-1.5 1.7 -14.4 -12.8 1.5 -1.7zM619.7 469.4l-3 3.4 -4.1 -3.8 3.1 -3.3zM613.7 476.1l-4.5 5 -4.2 -3.9 4.6 -4.9zM452.6 655l-3 3.4 -7.3 -6.7 3.1 -3.3zM437.6 671.7l-1.5 1.7 -7.6 -6.9 1.5 -1.7zM427 683.4l-3 3.4 -7.8 -7.1 3.1 -3.3zM363.8 753.7l-1.5 1.6 -9 -8.2 1.5 -1.6zM359.3 758.7l-10.6 11.7 -9.2 -8.5 10.7 -11.5zM106.3 1039.6l-1.5 1.7 -13.9 -12.8 1.5 -1.6zM98.8 1048l-1.5 1.6 -14.1 -12.9 1.6 -1.6zM91.3 1056.3l-4.5 5 -14.3 -13 4.6 -5zM82.3 1066.3l-3.1 3.4 -14.4 -13.2 3.1 -3.3zM606.5 475.6l-3.1 3.3 -4.2 -4 3.2 -3.2zM413.2 682.9l-1.6 1.7 -7.7 -7.4 1.5 -1.6zM403.9 692.8l-3 3.3 -8 -7.5 3.2 -3.3zM314.9 788.3l-1.5 1.6 -9.6 -9.1 1.6 -1.6zM311.9 791.5l-3.1 3.3 -9.7 -9.1 3.2 -3.3zM307.3 796.5l-1.6 1.6 -9.7 -9.2 1.6 -1.6zM241.3 867.2l-1.5 1.7 -11 -10.4 1.6 -1.6zM608.6 465.2l-3.1 3.2 -4 -3.9 3.2 -3.2zM603.9 470.1l-4.7 4.8 -4.1 -4 4.8 -4.8zM596.1 478.2l-1.5 1.6 -4.2 -4.2 1.5 -1.5zM566.4 508.9l-3.1 3.2 -4.8 -4.6 3.2 -3.2zM561.7 513.8l-1.5 1.6 -4.9 -4.7 1.6 -1.6zM428.9 651.3l-1.6 1.7 -7.2 -7.1 1.6 -1.6zM408.6 672.4l-7.9 8.1 -7.6 -7.6 7.9 -7.9zM397.6 683.7l-4.7 4.9 -7.8 -7.7 4.8 -4.8zM308.5 776l-1.5 1.6 -9.4 -9.2 1.6 -1.6zM606.3 459.7l-6.4 6.4 -4 -4 6.5 -6.3zM590.4 475.6l-1.6 1.6 -4.2 -4.2 1.6 -1.6zM566.5 499.5l-3.2 3.2 -4.6 -4.7 3.2 -3.1zM555.3 510.7l-1.5 1.5 -4.8 -4.8 1.6 -1.6zM537.8 528.2l-1.5 1.5 -5.1 -5.1 1.6 -1.6zM402.6 663.4l-1.6 1.6 -7.4 -7.6 1.6 -1.5zM381.9 684.1l-1.6 1.6 -7.7 -7.9 1.6 -1.6zM284.9 781.1l-1.6 1.6 -9.5 -9.6 1.7 -1.6zM272.2 793.8l-6.4 6.4 -9.8 -9.9 6.5 -6.3zM249.9 816.1l-1.6 1.6 -10.1 -10.2 1.7 -1.6zM187.8 878.2l-1.6 1.6 -11.1 -11.4 1.6 -1.5zM184.6 881.4l-1.5 1.5 -11.2 -11.3 1.6 -1.6zM565.2 491.8l-4.9 4.7 -4.5 -4.8 5 -4.6zM549 507.4l-1.6 1.6 -4.7 -5 1.6 -1.5zM532.8 523l-1.6 1.6 -5 -5.3 1.7 -1.5zM403.3 648.1l-1.6 1.5 -7.1 -7.5 1.6 -1.5zM400.1 651.2l-3.2 3.1 -7.3 -7.6 3.3 -3.1zM392 659l-4.9 4.7 -7.3 -7.8 4.9 -4.6zM298.1 749.7l-1.6 1.5 -8.9 -9.4 1.7 -1.5zM291.7 755.9l-1.7 1.6 -9 -9.5 1.7 -1.5zM281.9 765.3l-4.8 4.7 -9.2 -9.7 4.9 -4.6zM275.5 771.5l-1.7 1.6 -9.2 -9.8 1.6 -1.5zM259.3 787.2l-1.6 1.5 -9.6 -10 1.7 -1.6zM243.1 802.8l-1.6 1.6 -9.8 -10.4 1.6 -1.5zM180 863.8l-3.3 3.1 -10.9 -11.5 3.3 -3.1zM175.1 868.4l-1.6 1.6 -10.9 -11.5 1.6 -1.6zM158.9 884.1l-1.6 1.5 -11.2 -11.8 1.6 -1.5zM590.4 459.5l-1.6 1.5 -3.9 -4.2 1.6 -1.5zM555.8 491.7l-1.6 1.6 -4.4 -4.9 1.6 -1.5zM529.5 516.3l-1.6 1.5 -4.9 -5.3 1.7 -1.5zM243.2 783.3l-1.7 1.5 -9.4 -10.3 1.6 -1.5zM226.7 798.6l-1.6 1.6 -9.8 -10.7 1.7 -1.5zM705.3 348.4l-3.4 3 -2 -2.2 3.4 -3zM583.2 458.3l-1.7 1.5 -3.8 -4.3 1.7 -1.5zM549.8 488.4l-5.1 4.5 -4.4 -5 5.1 -4.4zM541.4 496l-5 4.5 -4.6 -5.2 5.1 -4.4zM424.4 601.3l-1.7 1.5 -6.3 -7.1 1.7 -1.5zM173.5 827.2l-1.6 1.5 -10.3 -11.6 1.7 -1.5zM165.2 834.7l-1.7 1.5 -10.3 -11.7 1.7 -1.5zM696.5 352.1l-1.6 1.5 -2.1 -2.3 1.8 -1.5zM591.3 443.7l-1.7 1.4 -3.6 -4.2 1.7 -1.4zM579.4 454l-3.4 2.9 -3.8 -4.4 3.4 -2.9zM572.6 459.9l-1.7 1.5 -3.9 -4.6 1.7 -1.4zM535.2 492.4l-1.7 1.4 -4.4 -5.1 1.7 -1.5zM413 598.7l-1.7 1.4 -6.3 -7.3 1.7 -1.5zM372.2 634.1l-1.7 1.5 -6.9 -8.1 1.8 -1.5zM192.2 790.5l-1.7 1.5 -9.6 -11.2 1.8 -1.4zM187.1 795l-3.4 2.9 -9.7 -11.3 3.5 -2.9zM146.4 830.4l-5.1 4.4 -10.4 -12.1 5.2 -4.3zM703.2 342.6l-3.5 2.9 -1.8 -2.3 3.5 -2.8zM692.8 351.3l-1.7 1.4 -2 -2.4 1.8 -1.4zM586 440.9l-1.8 1.5 -3.5 -4.3 1.8 -1.4zM567 456.8l-1.7 1.5 -3.8 -4.7 1.7 -1.4zM420.5 579.8l-1.7 1.4 -6 -7.2 1.8 -1.4zM408.4 589.9l-1.7 1.4 -6.1 -7.4 1.7 -1.4zM387.8 607.2l-1.8 1.5 -6.4 -7.8 1.8 -1.4zM179.2 782.2l-3.4 2.9 -9.5 -11.4 3.5 -2.9zM137.8 817l-1.7 1.4 -10 -12.2 1.7 -1.4zM130.9 822.7l-3.4 2.9 -10.2 -12.3 3.5 -2.8zM579 439.5l-1.8 1.4 -3.5 -4.4 1.8 -1.4zM528.2 480.5l-1.7 1.5 -4.2 -5.4 1.7 -1.3zM479.3 520.2l-1.8 1.4 -4.9 -6.2 1.8 -1.4zM463.5 532.9l-1.7 1.5 -5.1 -6.5 1.7 -1.4zM426.8 562.7l-1.7 1.4 -5.7 -7.1 1.8 -1.4zM381.4 599.5l-1.8 1.4 -6.3 -7.9 1.8 -1.4zM351.6 623.6l-1.7 1.4 -6.7 -8.4 1.8 -1.4zM344.6 629.2l-3.5 2.9 -6.8 -8.6 3.6 -2.8zM334.2 637.7l-1.8 1.4 -6.9 -8.7 1.7 -1.4zM330.7 640.6l-1.8 1.4 -7 -8.8 1.8 -1.4zM266 692.9l-1.8 1.5 -7.9 -10 1.8 -1.4zM260.7 697.2l-1.7 1.4 -8 -10 1.8 -1.4zM215.2 734l-1.7 1.4 -8.6 -10.8 1.8 -1.4zM166.3 773.7l-1.8 1.4 -9.2 -11.7 1.7 -1.4zM127.8 804.8l-5.2 4.3 -9.9 -12.5 5.3 -4.1zM113.8 816.1l-3.5 2.9 -10 -12.7 3.5 -2.7zM106.8 821.8l-1.7 1.4 -10.1 -12.7 1.7 -1.4zM94.6 831.7l-1.8 1.4 -10.2 -12.9 1.7 -1.4zM575.5 435.1l-1.8 1.4 -3.5 -4.5 1.8 -1.4zM563 444.8l-1.7 1.4 -3.6 -4.7 1.8 -1.4zM522.3 476.6l-1.8 1.4 -4.2 -5.4 1.8 -1.3zM474.4 514l-1.8 1.4 -4.8 -6.2 1.8 -1.4zM458.4 526.5l-1.7 1.4 -5.1 -6.5 1.8 -1.4zM454.9 529.3l-1.8 1.4 -5 -6.6 1.7 -1.4zM423 554.2l-1.8 1.4 -5.5 -7.2 1.8 -1.3zM343.2 616.6l-8.9 6.9 -6.6 -8.7 8.9 -6.8zM321.9 633.2l-1.8 1.4 -6.8 -9 1.8 -1.3zM91.4 813.3l-1.8 1.3 -9.9 -12.9 1.8 -1.4zM82.6 820.2l-3.6 2.8 -10.1 -13.2 3.6 -2.7zM555.9 442.8l-1.8 1.4 -3.6 -4.9 1.8 -1.3zM518.1 471.3l-1.8 1.3 -4 -5.5 1.8 -1.3zM457 517.3l-12.5 9.5 -5 -6.8 12.7 -9.2zM442.7 528.1l-5.4 4.1 -5.1 -6.9 5.4 -4zM417.5 547.1l-1.8 1.3 -5.4 -7.2 1.9 -1.3zM369 583.6l-1.8 1.4 -6 -8.1 1.8 -1.3zM259.4 666.2l-3.6 2.8 -7.5 -10.1 3.7 -2.7zM227 690.6l-1.8 1.4 -7.8 -10.6 1.8 -1.4zM201.9 709.6l-1.8 1.3 -8.2 -11 1.8 -1.3zM133.6 761l-1.8 1.4 -9.1 -12.3 1.8 -1.3zM130 763.7l-1.8 1.4 -9.1 -12.3 1.8 -1.3zM681.6 344.1l-1.9 1.3 -1.8 -2.6 1.8 -1.3zM550.5 439.3l-1.8 1.4 -3.5 -5 1.8 -1.2zM546.9 442l-3.7 2.6 -3.6 -5 3.7 -2.6zM537.8 448.6l-5.5 4 -3.7 -5.2 5.5 -3.9zM437.6 521.3l-3.6 2.7 -5 -7 3.7 -2.5zM406.7 543.8l-1.8 1.3 -5.3 -7.4 1.8 -1.3zM403.1 546.5l-5.5 3.9 -5.4 -7.5 5.5 -3.9zM392.1 554.4l-3.6 2.6 -5.5 -7.7 3.7 -2.6zM339.3 592.8l-1.8 1.3 -6.1 -8.7 1.8 -1.2zM321.1 606l-1.8 1.3 -6.4 -8.9 1.9 -1.3zM317.5 608.6l-5.5 4 -6.4 -9.1 5.5 -3.9zM290.2 628.5l-1.8 1.3 -6.8 -9.5 1.8 -1.3zM241 664.2l-1.8 1.3 -7.4 -10.4 1.9 -1.3zM237.4 666.8l-1.8 1.3 -7.4 -10.4 1.8 -1.3zM201 693.3l-3.6 2.6 -8 -11.1 3.7 -2.6zM162.8 721l-1.8 1.4 -8.4 -11.8 1.8 -1.3zM159.1 723.7l-1.8 1.3 -8.4 -11.8 1.8 -1.3zM106.3 762l-3.6 2.7 -9.1 -12.8 3.7 -2.6zM679.7 341.5l-1.8 1.3 -1.9 -2.6 1.9 -1.3zM502.8 465.4l-1.9 1.3 -3.9 -5.7 1.8 -1.3zM447.5 504.1l-9.2 6.5 -4.8 -6.9 9.4 -6.3zM436.4 511.9l-1.8 1.3 -4.8 -6.9 1.9 -1.3zM427.2 518.3l-1.8 1.3 -4.9 -7.1 1.9 -1.2zM395.9 540.3l-3.7 2.6 -5.3 -7.7 3.7 -2.5zM390.3 544.2l-1.8 1.2 -5.3 -7.7 1.9 -1.3zM312.9 598.4l-7.3 5.1 -6.4 -9.2 7.5 -5zM235.5 652.6l-5.5 3.8 -7.2 -10.5 5.6 -3.8zM218.9 664.2l-3.6 2.6 -7.5 -10.8 3.8 -2.5zM171 697.7l-1.8 1.3 -8 -11.6 1.9 -1.2zM167.3 700.3l-7.3 5.2 -8.1 -11.8 7.4 -5zM158.1 706.8l-5.5 3.8 -8.2 -11.8 5.6 -3.8zM136 722.2l-5.5 3.9 -8.5 -12.2 5.6 -3.8zM110.2 740.3l-3.7 2.6 -8.7 -12.7 3.7 -2.5zM95.4 750.6l-1.8 1.3 -8.9 -12.9 1.9 -1.2zM685.4 333.9l-1.9 1.2 -1.7 -2.5 1.9 -1.2zM495.1 462.2l-1.9 1.3 -3.9 -5.9 1.9 -1.2zM469 479.8l-1.9 1.3 -4.2 -6.4 1.9 -1.2zM433.5 503.7l-3.7 2.6 -4.6 -7.1 3.8 -2.4zM422.4 511.3l-1.9 1.2 -4.8 -7.1 1.9 -1.3zM306.7 589.3l-1.9 1.2 -6 -9.2 1.8 -1.2zM303 591.8l-1.9 1.3 -6.1 -9.3 1.9 -1.2zM297.4 595.6l-7.5 5 -6.2 -9.4 7.5 -5zM280.6 606.9l-3.7 2.5 -6.5 -9.7 3.8 -2.4zM219 648.4l-5.6 3.8 -7.1 -10.8 5.6 -3.7zM161.2 687.4l-1.9 1.3 -7.7 -11.8 1.9 -1.2zM123.9 712.6l-1.9 1.3 -8.2 -12.5 1.9 -1.2zM107.1 723.9l-1.8 1.3 -8.5 -12.7 1.9 -1.3zM84.7 739l-3.7 2.5 -8.7 -13.1 3.8 -2.5zM75.4 745.3l-3.7 2.5 -8.8 -13.3 3.7 -2.4zM679.9 333.8l-1.9 1.2 -1.6 -2.6 1.9 -1.2zM534.6 428.2l-1.9 1.2 -3.3 -5.2 1.9 -1.2zM527.1 433.1l-1.9 1.2 -3.4 -5.3 1.9 -1.2zM491.2 456.4l-1.9 1.2 -3.8 -6 1.9 -1.2zM479.9 463.7l-1.9 1.2 -3.9 -6.1 1.9 -1.2zM379.9 528.7l-1.9 1.2 -5 -7.9 1.9 -1.2zM374.2 532.3l-1.9 1.3 -5.1 -8.1 1.9 -1.2zM368.6 536l-1.9 1.2 -5.2 -8.1 1.9 -1.2zM300.6 580.1l-1.8 1.2 -6 -9.3 1.9 -1.2zM293.1 585l-7.6 4.9 -6 -9.5 7.6 -4.8zM227 627.9l-1.8 1.2 -6.8 -10.6 1.9 -1.2zM121.4 696.5l-3.8 2.5 -8 -12.5 3.9 -2.4zM113.8 701.4l-1.9 1.3 -8 -12.6 1.9 -1.2zM100.6 710l-1.9 1.2 -8.1 -12.8 1.9 -1.2zM81.7 722.3l-9.4 6.1 -8.5 -13.3 9.6 -5.9zM676.4 332.4l-2 1.2 -1.6 -2.7 1.9 -1.2zM672.5 334.8l-1.9 1.2 -1.7 -2.8 2 -1.2zM487.4 450.4l-1.9 1.2 -3.7 -6 2 -1.2zM374.9 520.8l-1.9 1.2 -4.9 -8 1.9 -1.2zM371.1 523.2l-2 1.1 -4.9 -8 1.9 -1.2zM367.2 525.5l-1.9 1.2 -5 -8.1 2 -1.2zM300.5 567.3l-2 1.2 -5.7 -9.3 2 -1.2zM289 574.4l-9.5 6 -5.9 -9.7 9.6 -5.7zM241.3 604.2l-1.9 1.2 -6.3 -10.3 1.9 -1.2zM229.9 611.4l-2 1.2 -6.4 -10.6 1.9 -1.1zM216.5 619.7l-1.9 1.2 -6.6 -10.8 1.9 -1.1zM117.3 681.7l-1.9 1.2 -7.7 -12.5 1.9 -1.2zM668.9 333.2l-1.9 1.1 -1.7 -2.8 2 -1.1zM487.6 442.1l-1.9 1.2 -3.5 -6 1.9 -1.2zM348.8 525.6l-3.9 2.3 -5 -8.5 3.9 -2.3zM343 529l-1.9 1.2 -5.1 -8.6 2 -1.1zM319.8 542.9l-1.9 1.2 -5.3 -9 2 -1.1zM316 545.3l-3.9 2.3 -5.3 -9.1 3.9 -2.2zM227.3 598.6l-2 1.1 -6.2 -10.6 2 -1.1zM669.2 329.3l-3.9 2.2 -1.6 -2.9 3.9 -2.2zM634.1 349.5l-1.9 1.1 -2 -3.4 2 -1.1zM517.2 417l-1.9 1.1 -3.1 -5.5 1.9 -1.1zM501.6 426l-1.9 1.1 -3.3 -5.8 2 -1zM486.1 435l-3.9 2.3 -3.5 -6.1 4 -2.2zM334.1 522.8l-3.9 2.2 -5 -8.7 4 -2.2zM667.6 326.4l-3.9 2.2 -1.6 -2.9 4 -2.1zM655.8 333l-1.9 1.1 -1.7 -3.1 2 -1zM632.2 346.1l-2 1.1 -1.8 -3.5 1.9 -1.1zM514.1 411.5l-3.9 2.2 -3 -5.6 3.9 -2.1zM506.3 415.9l-5.9 3.3 -3.2 -5.8 6 -3.2zM490.5 424.6l-1.9 1.1 -3.3 -6 2 -1zM325.2 516.3l-5.9 3.2 -4.8 -8.9 5.9 -3.2zM228.8 569.7l-2 1.1 -5.7 -10.6 2 -1zM620.4 347.9l-6 3.2 -1.9 -3.8 6 -3zM505.2 409.2l-2 1 -3 -5.7 2 -1zM495.2 414.5l-1.9 1 -3.1 -5.9 2 -1zM388 471.5l-2 1.1 -4.1 -7.8 2 -1zM384 473.6l-2 1.1 -4.1 -7.9 2 -1zM318.4 508.5l-3.9 2.1 -4.7 -9 4 -2.1zM229 556l-1.9 1.1 -5.5 -10.6 2 -1zM147.6 599.3l-2 1.1 -6.2 -12 2 -1zM664.6 320.8l-2 1 -1.4 -2.9 2 -1zM650.6 327.9l-2 1 -1.6 -3.1 2 -1zM496.2 406.6l-20 10.2 -3.1 -6.2 20.2 -9.9zM305.8 503.6l-4.1 2 -4.6 -9.2 4.1 -2zM299.7 506.7l-4 2 -4.6 -9.3 4 -2zM105.3 605.8l-2 1 -6.4 -12.7 2.1 -1zM95.3 610.9l-2 1 -6.5 -12.9 2 -1zM85.2 616l-4 2 -6.5 -13.1 4 -2zM79.2 619l-8 4.1 -6.6 -13.3 8.1 -3.9zM473.1 410.6l-2 1 -3 -6.3 2 -0.9zM388.1 452l-2 1 -3.7 -7.8 2.1 -0.9zM365.9 462.9l-2 1 -3.9 -8.2 2 -0.9zM295.1 497.4l-2 1 -4.5 -9.4 2.1 -1zM260.7 514.2l-6 2.9 -4.8 -10 6.1 -2.9zM248.6 520.1l-6.1 2.9 -4.9 -10.2 6.2 -2.9zM238.5 525l-2 1 -5 -10.4 2.1 -0.9zM101 592.1l-2 1 -6.1 -12.8 2 -1zM655.7 317.8l-2.1 1 -1.4 -3.1 2.1 -0.9zM647.5 321.6l-2 1 -1.5 -3.2 2.1 -1zM461.9 408.2l-2 0.9 -2.9 -6.5 2 -0.9zM360 455.7l-2.1 1 -3.7 -8.3 2 -0.9zM131.6 562.2l-2 1 -5.6 -12.3 2 -0.9zM650.2 316.6l-4.1 1.8 -1.4 -3.2 4.1 -1.7zM644 319.4l-2 0.9 -1.5 -3.3 2.1 -0.9zM454.9 403.6l-4.1 1.8 -2.9 -6.6 4.2 -1.8zM438.5 410.9l-4.2 1.8 -3 -6.9 4.2 -1.8zM290.5 476.8l-2.1 0.9 -4.1 -9.5 2.1 -0.9zM267.9 486.8l-8.3 3.7 -4.3 -10 8.3 -3.5zM255.5 492.3l-4.1 1.9 -4.4 -10.2 4.2 -1.7zM249.4 495.1l-4.2 1.8 -4.4 -10.2 4.1 -1.8zM452.1 397l-2.1 0.9 -2.8 -6.7 2.1 -0.8zM445.8 399.6l-2 0.9 -2.8 -6.7 2.1 -0.9zM385.8 425.1l-4.2 1.8 -3.2 -7.8 4.2 -1.7zM348.5 441l-2.1 0.8 -3.5 -8.4 2.1 -0.9zM257.4 479.6l-4.2 1.8 -4.2 -10.1 4.2 -1.7zM449.3 390.4l-2.1 0.8 -2.6 -6.6 2.1 -0.8zM432.6 397.1l-8.3 3.4 -2.8 -7.1 8.4 -3.2zM422.2 401.4l-2.1 0.8 -2.8 -7.2 2.1 -0.8zM382.6 417.4l-4.2 1.7 -3.1 -7.9 4.2 -1.6zM297 451.9l-10.4 4.2 -3.7 -9.5 10.5 -4zM429.9 390.2l-10.5 4 -2.7 -7.1 10.6 -3.9zM333.3 427.3l-6.3 2.4 -3.3 -8.8 6.3 -2.3zM289.2 444.2l-2.1 0.8 -3.6 -9.5 2.1 -0.7zM280.8 447.5l-2.1 0.8 -3.6 -9.7 2.1 -0.7zM270.3 451.5l-2.1 0.8 -3.7 -9.8 2.1 -0.8zM245 461.2l-4.2 1.6 -3.8 -10.3 4.2 -1.6zM442.1 377.8l-2.1 0.8 -2.4 -6.8 2.1 -0.7zM382.9 399.4l-2.1 0.7 -2.8 -7.8 2.1 -0.7zM378.7 400.9l-2.2 0.8 -2.8 -7.9 2.2 -0.8zM300.4 429.4l-2.1 0.8 -3.3 -9.3 2.1 -0.8zM296.2 430.9l-2.1 0.8 -3.3 -9.4 2.1 -0.7zM292 432.5l-6.4 2.3 -3.3 -9.5 6.3 -2.2zM270.8 440.2l-2.1 0.7 -3.5 -9.8 2.2 -0.7zM241.2 450.9l-2.1 0.8 -3.6 -10.3 2.1 -0.8zM667.3 292.7l-4.2 1.4 -1 -2.9 4.3 -1.4zM433.3 373.3l-2.1 0.7 -2.4 -7 2.2 -0.7zM424.8 376.2l-2.1 0.7 -2.4 -7.1 2.1 -0.7zM414.2 379.8l-2.2 0.8 -2.4 -7.3 2.1 -0.7zM409.9 381.3l-6.4 2.2 -2.5 -7.4 6.4 -2.1zM378 392.3l-4.3 1.5 -2.6 -8 4.2 -1.4zM305.7 417.2l-4.3 1.5 -3.1 -9.3 4.3 -1.4zM295 420.9l-2.1 0.7 -3.1 -9.4 2.1 -0.7zM290.8 422.3l-2.2 0.8 -3.1 -9.5 2.1 -0.7zM664.2 290.5l-2.1 0.7 -0.9 -2.9 2.1 -0.6zM407.4 374l-2.1 0.7 -2.3 -7.4 2.1 -0.7zM264.1 420.6l-6.4 2 -3.2 -10 6.5 -1.9zM646.1 292.9l-2.1 0.7 -1 -3.3 2.2 -0.6zM400.8 367.9l-2.1 0.7 -2.3 -7.6 2.2 -0.6zM282.5 404.1l-4.3 1.3 -2.9 -9.6 4.3 -1.3zM271.7 407.4l-4.3 1.3 -2.9 -9.8 4.3 -1.3zM265.3 409.4l-2.2 0.6 -2.9 -9.9 2.1 -0.6zM394.3 361.7l-2.2 0.6 -2.1 -7.7 2.2 -0.5zM389.9 362.9l-2.1 0.6 -2.2 -7.7 2.2 -0.6zM344.5 375.9l-2.1 0.6 -2.4 -8.5 2.2 -0.6zM264.5 398.9l-2.2 0.6 -2.7 -9.9 2.2 -0.6zM642.1 287.1l-2.2 0.6 -0.8 -3.3 2.1 -0.6zM394.3 353.5l-2.1 0.6 -2 -7.7 2.2 -0.5zM390 354.6l-2.2 0.6 -2 -7.7 2.2 -0.5zM342.2 367.4l-2.2 0.6 -2.2 -8.5 2.2 -0.6zM327 371.5l-2.2 0.6 -2.3 -8.8 2.2 -0.6zM255.2 390.7l-2.1 0.6 -2.6 -10.1 2.1 -0.5zM250.9 391.9l-4.4 1.2 -2.6 -10.2 4.4 -1.1zM645.6 282.7l-2.2 0.6 -0.7 -3.3 2.1 -0.5zM639.1 284.4l-2.2 0.5 -0.8 -3.4 2.2 -0.5zM353.1 355.7l-2.2 0.5 -2 -8.4 2.2 -0.5zM346.5 357.3l-2.2 0.5 -2 -8.4 2.2 -0.5zM340 358.9l-2.2 0.6 -2.1 -8.6 2.2 -0.5zM311.6 366l-2.2 0.5 -2.2 -9 2.2 -0.5zM366.4 343.8l-2.2 0.5 -1.8 -8.1 2.2 -0.5zM337.9 350.4l-2.2 0.5 -1.9 -8.6 2.2 -0.5zM313.8 355.9l-2.2 0.5 -2 -9 2.2 -0.5zM307.2 357.5l-10.9 2.5 -2.1 -9.3 11 -2.4zM641.9 276.8l-2.2 0.4 -0.6 -3.3 2.2 -0.4zM635.3 278.2l-2.2 0.4 -0.7 -3.4 2.2 -0.4zM408.6 326.4l-2.2 0.4 -1.5 -7.4 2.2 -0.4zM380 332.4l-2.2 0.5 -1.6 -7.9 2.2 -0.4zM373.4 333.8l-2.2 0.5 -1.6 -8 2.2 -0.4zM369 334.8l-4.4 0.9 -1.6 -8.1 4.4 -0.9zM287.6 352.1l-2.2 0.4 -1.9 -9.5 2.2 -0.4zM278.8 354l-2.2 0.4 -2 -9.6 2.2 -0.5zM272.2 355.4l-2.2 0.4 -2 -9.8 2.2 -0.4zM407.1 319l-2.2 0.4 -1.3 -7.4 2.2 -0.4zM393.9 321.6l-2.2 0.4 -1.4 -7.6 2.2 -0.4zM367.4 326.7l-2.2 0.5 -1.5 -8.2 2.2 -0.3zM360.8 328l-8.9 1.7 -1.5 -8.3 8.8 -1.6zM349.7 330.2l-2.2 0.4 -1.5 -8.4 2.2 -0.4zM274.6 344.8l-8.8 1.7 -1.8 -9.9 8.8 -1.5zM403.6 312l-2.3 0.4 -1.2 -7.5 2.2 -0.3zM290.6 331.9l-2.3 0.4 -1.5 -9.4 2.2 -0.4zM279.5 333.9l-8.9 1.6 -1.6 -9.8 8.9 -1.4zM266.2 336.2l-2.2 0.4 -1.7 -9.8 2.2 -0.4zM397.9 305.3l-4.5 0.7 -1.1 -7.6 4.4 -0.7zM715.4 253l-2.3 0.3 -0.2 -2 2.2 -0.3zM710.9 253.6l-11.1 1.6 -0.3 -2.3 11.1 -1.4zM374.5 300.9l-6.7 0.9 -1.1 -8 6.7 -0.9zM365.6 302.1l-2.3 0.3 -1 -8.1 2.2 -0.3zM283.1 313.7l-2.2 0.3 -1.3 -9.5 2.3 -0.3zM708.4 251.8l-2.2 0.3 -0.3 -2.2 2.3 -0.2zM267.3 296l-2.2 0.3 -0.9 -9.9 2.2 -0.2zM710.2 247.4l-2.2 0.2 -0.2 -2.1 2.2 -0.2zM694.5 248.8l-2.2 0.2 -0.2 -2.4 2.2 -0.2zM266.4 286.2l-2.2 0.2 -0.8 -9.8 2.2 -0.2zM707.8 245.5l-2.2 0.1 -0.2 -2.1 2.3 -0.1zM689.8 246.7l-2.2 0.2 -0.2 -2.5 2.3 -0.1zM70.4 290l-2.3 0.2 -0.8 -13.3 2.2 -0.1zM707.7 243.4l-2.3 0.1 -0.1 -2.2 2.3 -0.1zM689.7 244.3l-2.3 0.1 -0.1 -2.5 2.3 0zM94.3 275.5l-4.5 0.2 -0.6 -12.9 4.5 -0.1zM85.3 276l-4.5 0.2 -0.6 -13.1 4.5 -0.1zM78.5 276.3l-2.2 0.1 -0.6 -13.1 2.3 -0.1zM698.6 241.6l-9 0.3 -0.1 -2.5 9 -0.1zM368 253.1l-2.2 0.1 -0.2 -8.1 2.2 -0.1zM107.2 262.2l-9 0.3 -0.3 -12.7 9 -0.2zM93.7 262.7l-9 0.3 -0.3 -13 9 -0.2zM349.8 245.4l-2.2 0 -0.1 -8.4 2.3 0zM113.6 249.5l-9 0.1 -0.1 -12.6 9 0zM354.2 237l-6.7 0 0.1 -8.4 6.7 0.1zM248.5 237l-2.3 0 0.1 -10.2 2.3 0.1zM111.2 237l-4.4 0 0.1 -12.6 4.5 0.1zM104.5 237l-2.3 0 0.2 -12.7 2.2 0.1zM257.6 227l-4.5 -0.1 0.3 -10 4.4 0.2zM183.3 225.7l-2.2 0 0.3 -11.3 2.2 0.1zM127.1 224.7l-9 -0.1 0.3 -12.4 9 0.3zM174.6 214.1l-2.2 0 0.5 -11.5 2.2 0.1zM165.7 213.8l-6.8 -0.2 0.5 -11.7 6.8 0.4zM154.4 213.4l-6.7 -0.2 0.5 -11.9 6.7 0.4zM127.4 212.5l-9 -0.3 0.6 -12.4 9 0.5zM184.1 203.2l-2.2 -0.1 0.7 -11.3 2.2 0.2zM170.7 202.5l-2.3 -0.1 0.7 -11.5 2.3 0.1zM669.6 225.9l-4.4 -0.4 0.2 -2.8 4.5 0.4zM160.1 190.2l-2.2 -0.1 0.9 -11.7 2.3 0.2zM158.8 178.4l-6.7 -0.6 1.1 -11.8 6.7 0.7zM665.6 219.8l-2.2 -0.2 0.3 -2.9 2.3 0.3zM153.2 166l-2.2 -0.3 1.3 -11.8 2.3 0.3zM139.8 164.6l-2.2 -0.3 1.3 -12 2.3 0.2zM121.9 162.7l-4.5 -0.5 1.4 -12.4 4.5 0.6zM149.4 141.5l-8.9 -1.3 1.8 -12 8.9 1.4zM116 136.8l-2.2 -0.3 1.8 -12.5 2.3 0.4zM657.9 209.9l-2.2 -0.4 0.5 -3 2.2 0.4zM604.5 201.5l-2.2 -0.4 0.7 -4 2.2 0.4zM153.4 130l-2.2 -0.4 2 -11.8 2.2 0.4zM113.4 123.7l-4.4 -0.7 2.1 -12.6 4.4 0.8zM669.5 208.9l-2.3 -0.4 0.6 -2.8 2.2 0.4zM651.7 205.7l-2.2 -0.3 0.6 -3.2 2.2 0.5zM618.5 199.9l-4.4 -0.8 0.7 -3.7 4.4 0.8zM144.3 116.3l-6.6 -1.2 2.2 -12 6.6 1.2zM111.1 110.4l-2.2 -0.4 2.3 -12.5 2.2 0.4zM658.9 203.9l-2.2 -0.4 0.6 -3 2.2 0.5zM619.2 196.2l-2.2 -0.4 0.7 -3.7 2.2 0.5zM146.5 104.3l-2.2 -0.4 2.4 -11.9 2.2 0.4zM142.1 103.5l-4.4 -0.9 2.4 -12 4.4 0.9zM126.6 100.5l-6.6 -1.3 2.5 -12.4 6.6 1.4zM670.5 203.3l-2.2 -0.4 0.7 -2.8 2.2 0.5zM666.1 202.4l-4.4 -1 0.7 -2.9 4.4 1zM241.4 112.1l-2.2 -0.5 2.3 -10.2 2.1 0.5zM151.1 92.9l-2.2 -0.5 2.7 -11.8 2.2 0.5zM112.1 71.5l-4.4 -1 3 -12.6 4.4 1.1zM145.7 66.6l-2.2 -0.5 3.1 -12 2.1 0.6zM139.1 65l-8.7 -2.2 3.1 -12.1 8.7 2.3zM126 61.7l-4.3 -1.1 3.1 -12.3 4.4 1.2zM331.3 103.6l-2.2 -0.5 2.4 -8.7 2.2 0.6zM250.9 82.1l-2.2 -0.6 2.8 -10.1 2.2 0.6zM244.4 80.3l-2.2 -0.5 2.8 -10.2 2.2 0.6zM240 79.2l-2.1 -0.6 2.8 -10.3 2.2 0.6zM157.4 57.1l-2.1 -0.6 3.2 -11.8 2.2 0.7zM153.1 55.9l-2.2 -0.6 3.3 -11.8 2.2 0.6zM148.7 54.7l-2.1 -0.6 3.3 -11.8 2.1 0.6zM142.2 53l-4.3 -1.2 3.3 -12 4.3 1.2zM131.4 50.1l-4.4 -1.2 3.4 -12.2 4.3 1.2zM124.8 48.3l-2.1 -0.6 3.4 -12.3 2.1 0.7zM118.3 46.6l-4.3 -1.2 3.4 -12.4 4.4 1.2zM316.4 90l-2.2 -0.6 2.7 -9 2.2 0.7zM162.8 46l-4.3 -1.3 3.5 -11.6 4.3 1.3zM156.4 44.1l-10.9 -3.1 3.6 -11.9 10.7 3.3zM130.4 36.7l-6.5 -1.9 3.7 -12.3 6.4 2zM315.4 70.1l-2.1 -0.7 3 -8.9 2.1 0.7zM268.4 54.8l-10.7 -3.4 3.3 -10 10.6 3.7zM320.5 61.9l-4.2 -1.4 3.2 -9 4.2 1.6zM248.2 37l-2.1 -0.7 3.6 -10.2 2.1 0.8z"/><path fill="#4462A6" stroke="#4462A6" d="M1012.5 837.3l0.7 2.2 -10.5 3.1 -0.7 -2.2zM1001.4 838.3l0.6 2.1 -10.5 3 -0.6 -2.2zM1007.6 859.9l1.3 4.3 -11 3.1 -1.2 -4.4zM923.7 616.9l0.6 2.2 -6.7 1.6 -0.5 -2.2zM925.3 623.4l0.6 2.2 -6.8 1.6 -0.5 -2.2zM978.7 837.4l0.5 2.2 -10.5 2.5 -0.5 -2.2zM916.1 614.1l0.5 2.2 -6.7 1.4 -0.4 -2.2zM968.2 839.9l0.5 2.2 -10.6 2.3 -0.5 -2.2zM909.5 615.5l0.4 2.2 -6.6 1.4 -0.5 -2.2zM958.1 844.4l0.5 2.2 -10.7 2.2 -0.4 -2.2zM959 848.8l1.5 6.6 -10.9 2.2 -1.2 -6.6zM902 612.5l0.4 2.2 -6.6 1.2 -0.4 -2.2zM946.6 842.2l0.9 4.4 -10.7 2 -0.7 -4.5zM936.1 844.1l0.7 4.5 -10.7 1.8 -0.7 -4.5zM941.9 877.4l0.8 4.4 -11.3 1.9 -0.7 -4.5zM945.4 897.3l0.8 4.4 -11.6 2 -0.7 -4.5zM952.5 937.2l0.4 2.2 -12.3 2.1 -0.4 -2.3zM879.7 557l0.3 2.2 -5.6 0.9 -0.3 -2.3zM883.6 581.5l0.3 2.2 -6.1 0.9 -0.3 -2.2zM885.7 594.8l1.4 8.9 -6.4 0.9 -1.3 -8.9zM931.1 881.5l0.3 2.2 -11.3 1.7 -0.3 -2.3zM940.9 943.7l1.8 11.1 -12.6 1.9 -1.5 -11.2zM874.1 557.8l0.3 2.3 -5.6 0.7 -0.3 -2.2zM876 571.2l0.6 4.5 -5.9 0.8 -0.6 -4.5zM877.2 580.1l0.3 2.3 -6 0.8 -0.3 -2.3zM878.8 591.3l0.3 2.2 -6.2 0.8 -0.3 -2.2zM879.7 598l1 6.6 -6.5 0.9 -0.8 -6.7zM914.5 845.3l0.3 2.2 -10.7 1.4 -0.2 -2.2zM915.1 849.7l0.3 2.3 -10.7 1.4 -0.3 -2.3zM918.2 872l0.4 2.2 -11.2 1.5 -0.3 -2.2zM918.9 876.5l0.3 2.2 -11.2 1.5 -0.3 -2.3zM919.8 883.1l0.3 2.3 -11.3 1.5 -0.3 -2.3zM928.9 947.8l0.9 6.6 -12.5 1.7 -0.8 -6.7zM931.1 963.4l0.6 4.4 -12.8 1.7 -0.5 -4.5zM868.2 556.4l0.3 2.2 -5.6 0.6 -0.3 -2.2zM874.8 609.9l0.3 2.3 -6.6 0.7 -0.2 -2.2zM883.3 679.2l0.3 2.2 -7.8 0.9 -0.2 -2.2zM883.8 683.6l0.3 2.3 -7.8 0.9 -0.3 -2.3zM904.7 853.4l0.5 4.4 -10.8 1.3 -0.5 -4.5zM905.8 862.3l0.3 2.2 -11 1.3 -0.2 -2.3zM906.9 871.2l1.1 9 -11.3 1.3 -0.9 -9zM908.2 882.4l0.3 2.2 -11.3 1.3 -0.2 -2.2zM911.8 911.4l0.8 6.7 -11.9 1.4 -0.7 -6.7zM912.9 920.4l1.9 15.6 -12.2 1.4 -1.6 -15.7zM915.1 938.2l0.5 4.5 -12.3 1.4 -0.5 -4.5zM916.2 947.2l0.3 2.2 -12.5 1.4 -0.2 -2.2zM862.2 552.5l0.2 2.2 -5.6 0.6 -0.1 -2.3zM868.5 612.9l0.2 2.3 -6.6 0.6 -0.2 -2.2zM875.6 680.1l0.2 2.2 -7.8 0.7 -0.2 -2.2zM876 684.5l0.3 2.3 -7.9 0.7 -0.2 -2.2zM899.8 910.5l0.2 2.3 -11.8 1.1 -0.2 -2.2zM903.3 944.1l0.7 6.7 -12.4 1.2 -0.6 -6.7zM906.4 973.2l0.2 2.2 -12.9 1.3 -0.2 -2.3zM855.9 544.1l0.9 11.2 -5.5 0.4 -0.8 -11.2zM857.8 566.5l0.2 2.2 -5.8 0.5 -0.1 -2.3zM867.2 674.1l0.4 4.5 -7.7 0.6 -0.3 -4.5zM868.4 687.5l0.4 4.5 -7.9 0.6 -0.4 -4.5zM887.8 909.4l0.2 2.3 -11.8 0.9 -0.1 -2.2zM889.6 929.6l0.2 2.2 -12.1 1 -0.2 -2.2zM890 934.1l0.4 4.5 -12.3 0.9 -0.3 -4.5zM891.2 947.5l0.4 4.5 -12.5 1 -0.3 -4.5zM891.8 954.3l0.3 4.4 -12.6 1 -0.3 -4.5zM892.5 963.2l0.2 2.3 -12.7 1 -0.1 -2.3zM893.7 976.7l0.4 4.5 -13 1 -0.3 -4.5zM850.8 549l0.2 2.2 -5.5 0.4 -0.1 -2.3zM859.6 674.7l0.3 4.5 -7.7 0.4 -0.2 -4.5zM863.2 726.3l0.2 2.2 -8.6 0.6 -0.1 -2.3zM863.5 730.8l0.2 2.2 -8.7 0.6 -0.1 -2.3zM864 737.5l0.2 2.3 -8.8 0.5 -0.1 -2.2zM877.8 935l0.2 2.3 -12.3 0.7 -0.1 -2.2zM878.1 939.5l0.5 6.8 -12.4 0.7 -0.3 -6.7zM878.8 948.5l0.3 4.5 -12.5 0.8 -0.3 -4.5zM880.2 968.7l0.1 2.3 -12.8 0.7 -0.1 -2.2zM880.5 973.2l0.3 4.5 -12.9 0.8 -0.3 -4.5zM845.3 547.1l0.1 2.2 -5.5 0.3 -0.1 -2.3zM850.3 643.7l0.1 2.2 -7.1 0.4 -0.1 -2.3zM850.7 650.4l0.2 4.5 -7.3 0.3 -0.2 -4.5zM851.8 672.9l0.5 9 -7.8 0.3 -0.3 -9zM852.9 693.1l0.1 2.3 -8 0.3 -0.1 -2.2zM854.6 724.6l0.2 4.5 -8.6 0.3 -0.2 -4.4zM855.3 738.1l0.1 2.2 -8.8 0.4 -0.1 -2.3zM865.9 940.3l0.2 4.5 -12.4 0.5 -0.1 -4.5zM867.3 967.2l0.2 4.5 -12.8 0.6 -0.2 -4.5zM867.6 974l0.1 2.2 -12.9 0.6 0 -2.2zM839.3 531.6l0.1 2.2 -5.2 0.2 -0.1 -2.3zM839.6 540.6l0.1 2.2 -5.4 0.2 0 -2.3zM840.8 574.3l0.2 6.7 -6 0.2 -0.1 -6.8zM843.2 644l0.1 2.3 -7.2 0.1 0 -2.2zM843.4 648.5l0.1 4.5 -7.2 0.2 -0.1 -4.5zM844.2 673.2l0.1 2.3 -7.6 0.2 -0.1 -2.3zM844.5 680l0.1 4.5 -7.8 0.2 -0.1 -4.5zM844.9 693.5l0.1 2.2 -8 0.2 0 -2.2zM852.6 913.8l0.3 6.8 -12 0.3 -0.1 -6.8zM853 925.1l0.1 2.2 -12 0.3 -0.1 -2.2zM853.7 945.3l0.1 2.3 -12.4 0.3 0 -2.3zM854.7 972.3l0.2 6.7 -12.9 0.4 -0.2 -6.8zM833.9 516l0.1 6.7 -5 0.1 0 -6.8zM834.1 529.5l0 2.2 -5.1 0.1 0 -2.3zM834.3 543l0.2 6.7 -5.5 0.1 0 -6.8zM834.8 567.7l0.1 6.7 -5.9 0.1 0 -6.7zM835.7 621.7l0.1 6.7 -6.8 0.1 0 -6.7zM836.1 644.2l0 2.2 -7.1 0.1 0 -2.3zM836.3 653.2l0 2.2 -7.3 0.1 0 -2.3zM836.9 686.9l0 2.3 -7.9 0 0 -2.2zM836.9 691.4l0.1 4.5 -8 0.1 0 -4.5zM840.2 878.2l0.1 4.5 -11.3 0.1 0 -4.6zM840.7 907.4l0.1 4.5 -11.8 0.1 0 -4.5zM840.8 914.1l0.3 13.5 -12.1 0.2 0 -13.6zM841.1 932.1l0.1 2.3 -12.2 0.1 0 -2.3zM841.3 938.9l0 2.2 -12.3 0.1 0 -2.2zM841.4 945.6l0 2.3 -12.4 0.1 0 -2.2zM841.4 950.1l0.1 4.5 -12.5 0.2 0 -4.6zM841.6 956.9l0 4.5 -12.6 0.1 0 -4.5zM829 516l0 9 -5 0 0.1 -9zM829 531.8l0 2.2 -5.2 0 0.1 -2.3zM829 549.8l0 2.2 -5.5 0 0 -2.3zM829 608.2l0 6.8 -6.6 -0.1 0.1 -6.7zM829 621.8l0 13.4 -7 0 0.3 -13.5zM829 653.2l0 2.3 -7.3 -0.1 0 -2.2zM829 675.8l0 2.2 -7.7 -0.1 0 -2.2zM829 687l0 4.5 -7.9 -0.1 0 -4.5zM829 878.2l0 13.6 -11.4 -0.1 0.2 -13.5zM829 903l0 2.2 -11.7 -0.1 0.1 -2.2zM829 952.5l0 4.5 -12.6 -0.1 0.1 -4.5zM829 961.5l0 4.5 -12.7 -0.1 0.1 -4.5zM824.1 516l0 2.2 -4.9 -0.1 0.1 -2.3zM824 522.7l0 2.3 -5.1 -0.2 0.1 -2.2zM823.8 536.2l-0.1 4.5 -5.3 -0.1 0.2 -4.5zM823.5 549.7l0 2.3 -5.5 -0.2 0.1 -2.2zM822.7 599.2l-0.1 4.5 -6.4 -0.2 0.2 -4.5zM822.4 612.7l-0.1 9 -6.7 -0.2 0.3 -9zM821.3 677.9l0 2.3 -7.8 -0.2 0.1 -2.3zM821.1 689.2l0 2.2 -8 -0.2 0.1 -2.2zM817.8 875.9l0 2.3 -11.2 -0.3 0.1 -2.3zM817.7 887.2l-0.1 4.5 -11.5 -0.3 0.2 -4.5zM817.3 909.6l-0.1 2.3 -11.8 -0.3 0.1 -2.3zM816.5 952.4l-0.1 6.7 -12.6 -0.3 0.2 -6.7zM816 983.9l-0.2 9 -13.2 -0.4 0.3 -9zM819.3 515.8l-0.3 6.8 -5 -0.2 0.4 -6.8zM818.6 536.1l-0.3 6.7 -5.3 -0.2 0.3 -6.8zM818.1 549.6l-0.1 2.2 -5.5 -0.2 0.1 -2.3zM816.7 590l-0.3 9 -6.4 -0.2 0.5 -9zM816.3 601.3l-0.2 4.5 -6.4 -0.3 0.2 -4.5zM815 637.3l-0.1 2.2 -7 -0.3 0.1 -2.2zM814.8 644l-0.1 2.3 -7.1 -0.4 0.1 -2.2zM814.6 648.5l-0.1 4.5 -7.3 -0.3 0.3 -4.5zM806.7 875.6l-0.1 2.3 -11.2 -0.5 0.2 -2.3zM806.5 880.1l0 2.3 -11.3 -0.5 0.1 -2.3zM805.9 898.1l-0.1 2.2 -11.5 -0.5 0.1 -2.2zM805.7 904.8l-0.4 11.3 -11.9 -0.5 0.6 -11.3zM805.1 920.6l-0.2 6.7 -12.1 -0.5 0.4 -6.7zM804.6 936.3l-0.2 4.5 -12.3 -0.5 0.3 -4.5zM804.3 945.3l-0.3 9 -12.6 -0.5 0.5 -9zM802.5 994.8l0 2.2 -13.3 -0.5 0.1 -2.3zM802.1 1008.3l-0.1 2.2 -13.5 -0.6 0.1 -2.2zM814.4 515.6l-0.1 2.3 -4.9 -0.3 0.1 -2.3zM813 542.6l-0.1 2.2 -5.4 -0.3 0.2 -2.2zM810.5 589.8l-0.1 2.2 -6.2 -0.4 0.2 -2.2zM809.9 601l-0.3 6.7 -6.5 -0.4 0.5 -6.7zM807.5 648.2l-0.4 6.7 -7.3 -0.4 0.5 -6.8zM788.1 1016.7l-0.1 2.2 -13.6 -0.8 0.1 -2.3zM787 1039.1l-0.7 13.5 -14.3 -0.8 1 -13.5zM785.9 1059.4l-0.1 2.2 -14.4 -0.9 0.2 -2.2zM809.1 522.1l-0.2 2.2 -5 -0.4 0.2 -2.2zM808.8 526.5l-0.2 2.3 -5.1 -0.4 0.2 -2.3zM807.8 540l-0.1 2.3 -5.4 -0.5 0.2 -2.2zM805 580.4l-0.2 2.3 -6 -0.5 0.2 -2.3zM804.7 584.9l-0.2 2.2 -6.1 -0.4 0.2 -2.3zM803.1 607.3l-0.3 4.5 -6.5 -0.5 0.3 -4.5zM801.5 629.8l-0.3 4.5 -6.9 -0.6 0.4 -4.4zM800.7 641l-0.1 2.3 -7.1 -0.6 0.2 -2.2zM800.3 647.7l-0.5 6.8 -7.3 -0.6 0.6 -6.7zM799.6 656.7l-0.1 2.3 -7.4 -0.6 0.2 -2.3zM806.8 490.3l-0.2 2.2 -4.4 -0.4 0.2 -2.2zM804.3 519.4l-1 11.2 -5.1 -0.5 1.2 -11.2zM803.1 532.9l-0.6 6.7 -5.3 -0.5 0.8 -6.7zM802.3 541.8l-0.2 2.3 -5.3 -0.5 0.2 -2.3zM801.9 546.3l-0.6 6.7 -5.5 -0.5 0.7 -6.7zM801 557.5l-0.4 4.5 -5.7 -0.5 0.5 -4.5zM798.2 588.9l-0.6 6.7 -6.2 -0.6 0.7 -6.7zM797.2 600.1l-0.4 4.5 -6.4 -0.6 0.5 -4.5zM796.1 613.6l-0.4 4.4 -6.7 -0.6 0.5 -4.5zM794.3 633.7l-0.2 2.3 -7 -0.7 0.3 -2.2zM793.9 638.2l-0.8 9 -7.1 -0.7 0.9 -9zM802.7 487.6l-0.3 2.3 -4.4 -0.5 0.3 -2.3zM798.9 523.4l-0.2 2.3 -5.1 -0.6 0.3 -2.2zM798.2 530.1l-1 9 -5.2 -0.6 1.1 -8.9zM792.1 588.3l-0.3 2.3 -6.1 -0.7 0.2 -2.3zM791.4 595l-0.5 4.5 -6.3 -0.7 0.5 -4.5zM790.2 606.2l-0.2 2.3 -6.5 -0.8 0.3 -2.2zM789 617.4l-0.2 2.2 -6.7 -0.7 0.3 -2.3zM787.8 628.6l-1.4 13.4 -7 -0.8 1.6 -13.4zM785.5 651l-0.7 6.7 -7.4 -0.9 0.9 -6.7zM784.1 664.4l-0.3 2.2 -7.4 -0.8 0.2 -2.3zM756.1 930.7l-0.5 4.5 -12.2 -1.4 0.6 -4.5zM798.3 487.1l-0.3 2.3 -4.4 -0.6 0.3 -2.3zM786.2 585.4l-0.3 2.2 -6.1 -0.8 0.4 -2.2zM783.5 607.7l-1.1 8.9 -6.6 -0.8 1.2 -8.9zM778.8 645.7l-0.3 2.2 -7.1 -0.9 0.3 -2.3zM775.8 670.2l-0.3 2.3 -7.6 -1 0.4 -2.2zM743.4 933.8l-0.5 4.4 -12.2 -1.6 0.6 -4.4zM780.2 584.6l-0.4 2.2 -6.1 -0.9 0.4 -2.2zM777 606.9l-0.3 2.2 -6.5 -1 0.4 -2.2zM775.5 618l-0.4 2.2 -6.6 -1 0.3 -2.2zM774.2 626.9l-0.6 4.5 -6.9 -1.1 0.7 -4.4zM772.6 638.1l-0.6 4.4 -7.1 -1 0.7 -4.5zM770.4 653.7l-1.5 11.1 -7.5 -1.1 1.8 -11.1zM768.3 669.3l-1.3 8.9 -7.7 -1.2 1.4 -8.9zM731 934.4l-0.3 2.2 -12.2 -1.8 0.3 -2.2zM773.7 585.9l-0.3 2.2 -6.1 -1 0.4 -2.2zM770.6 605.9l-0.4 2.2 -6.4 -1.1 0.3 -2.2zM767.8 623.7l-1.8 11.1 -6.9 -1.2 1.9 -11zM761.1 665.9l-0.4 2.2 -7.5 -1.2 0.4 -2.2zM760.4 670.3l-1.4 8.9 -7.8 -1.3 1.6 -8.8zM718.8 932.6l-1.4 8.9 -12.3 -2.1 1.6 -8.8zM764.1 604.8l-0.3 2.2 -6.5 -1.2 0.4 -2.2zM762.2 615.9l-1.2 6.7 -6.7 -1.3 1.3 -6.6zM760.6 624.8l-0.4 2.2 -6.8 -1.3 0.5 -2.2zM757.9 640.3l-0.4 2.2 -7.1 -1.3 0.5 -2.2zM757.1 644.7l-1.6 8.9 -7.2 -1.4 1.7 -8.8zM754.4 660.2l-3.2 17.7 -7.6 -1.4 3.4 -17.6zM705.1 939.4l-1.5 8.9 -12.4 -2.3 1.7 -8.9zM758.2 601.4l-0.5 2.2 -6.4 -1.3 0.5 -2.2zM753.4 625.7l-0.4 2.2 -6.8 -1.4 0.5 -2.2zM751.7 634.6l-0.8 4.4 -7 -1.4 0.9 -4.5zM749.1 647.8l-0.4 2.2 -7.2 -1.4 0.5 -2.2zM748.3 652.2l-0.4 2.2 -7.3 -1.4 0.5 -2.2zM747.4 656.6l-0.4 2.3 -7.4 -1.5 0.5 -2.2zM746.6 661.1l-0.9 4.4 -7.5 -1.5 1 -4.4zM737.6 707.4l-0.9 4.5 -8.3 -1.7 1 -4.4zM692.9 937.1l-0.4 2.3 -12.3 -2.5 0.5 -2.2zM754.6 586.9l-0.4 2.2 -6.2 -1.3 0.5 -2.2zM752.7 595.7l-1.4 6.6 -6.3 -1.4 1.5 -6.5zM743.4 639.8l-0.9 4.4 -7.1 -1.6 1 -4.4zM741.5 648.6l-0.9 4.4 -7.3 -1.6 1.1 -4.4zM736.4 672.8l-0.5 2.2 -7.6 -1.7 0.5 -2.2zM730.3 701.4l-1.9 8.8 -8.2 -1.8 2 -8.8zM726.1 721.2l-2.8 13.2 -8.7 -1.9 3 -13.2zM676 956.7l-0.4 2.2 -12.6 -2.8 0.5 -2.2zM748.5 585.6l-0.5 2.2 -6.1 -1.5 0.6 -2.2zM745.5 598.7l-0.5 2.2 -6.4 -1.5 0.6 -2.2zM736.4 638.2l-0.5 2.2 -7.1 -1.7 0.6 -2.2zM734.4 647l-5.1 21.9 -7.5 -1.8 5.4 -21.8zM721.7 701.8l-1 4.4 -8.2 -2 1.1 -4.4zM716.6 723.7l-0.5 2.2 -8.5 -2.1 0.6 -2.1zM714.1 734.7l-0.5 2.2 -8.7 -2.1 0.5 -2.2zM740.8 590.7l-1.1 4.3 -6.2 -1.6 1.2 -4.3zM738.1 601.6l-0.5 2.2 -6.4 -1.7 0.5 -2.2zM731.6 627.8l-1.1 4.4 -6.9 -1.8 1.2 -4.4zM729.9 634.3l-1.6 6.6 -7 -1.8 1.7 -6.6zM727.8 643.1l-2.8 10.9 -7.2 -1.9 2.9 -10.9zM720.7 671.4l-1.7 6.6 -7.6 -2 1.7 -6.5zM715.2 693.3l-0.5 2.2 -8 -2.1 0.6 -2.2zM713.6 699.8l-0.5 2.2 -8.1 -2.1 0.5 -2.2zM710.9 710.7l-1.7 6.6 -8.3 -2.2 1.7 -6.5zM708.7 719.5l-3.3 13.1 -8.6 -2.3 3.5 -13zM702.7 743.5l-0.5 2.2 -8.9 -2.3 0.6 -2.2zM651.6 948.7l-0.6 2.2 -12.4 -3.2 0.6 -2.2zM650.5 953.1l-0.6 2.2 -12.5 -3.3 0.6 -2.1zM735.8 584.7l-0.6 2.2 -6 -1.7 0.6 -2.1zM733.5 593.4l-0.6 2.2 -6.2 -1.7 0.6 -2.2zM723.6 630.4l-1.2 4.3 -6.9 -1.9 1.2 -4.3zM721.8 636.9l-0.5 2.2 -7 -2 0.6 -2.1zM713.1 669.5l-1.7 6.5 -7.7 -2.1 1.9 -6.5zM710.2 680.4l-0.6 2.1 -7.7 -2.1 0.6 -2.2zM709 684.7l-0.5 2.2 -7.9 -2.2 0.6 -2.2zM701.5 713l-0.6 2.1 -8.3 -2.3 0.6 -2.1zM692.7 745.6l-0.6 2.1 -8.8 -2.4 0.6 -2.2zM716.7 628.5l-3.1 10.8 -7 -2.1 3.3 -10.7zM705 669.6l-0.7 2.1 -7.5 -2.2 0.6 -2.2zM703.7 673.9l-0.6 2.2 -7.6 -2.3 0.6 -2.2zM700 686.9l-0.6 2.1 -7.9 -2.3 0.7 -2.1zM694.4 706.3l-0.6 2.2 -8.2 -2.4 0.6 -2.2zM683.3 745.3l-0.7 2.1 -8.8 -2.6 0.6 -2.2zM626.2 944.2l-1.9 6.5 -12.4 -3.6 2 -6.5zM709.9 626.5l-0.6 2.1 -6.8 -2.1 0.7 -2.2zM707.3 635.1l-2 6.4 -7 -2.2 2.1 -6.4zM704.7 643.7l-0.7 2.1 -7.1 -2.2 0.7 -2.2zM694.1 678.1l-1.3 4.3 -7.7 -2.4 1.4 -4.3zM673.8 744.8l-0.7 2.1 -8.9 -2.7 0.7 -2.2zM613.9 940.6l-2 6.5 -12.3 -3.9 2 -6.5zM701.8 628.6l-0.7 2.1 -6.9 -2.3 0.7 -2.1zM700.4 632.9l-2.8 8.5 -7 -2.3 2.9 -8.5zM696.9 643.6l-0.7 2.1 -7.1 -2.4 0.7 -2.1zM689.2 667.1l-2 6.4 -7.6 -2.5 2.2 -6.4zM686.5 675.7l-0.7 2.1 -7.7 -2.6 0.7 -2.1zM664.2 744.2l-0.7 2.1 -8.8 -3 0.7 -2.1zM698.6 615.7l-1.5 4.2 -6.6 -2.3 1.5 -4.3zM696.4 622.1l-1.5 4.2 -6.7 -2.4 1.5 -4.2zM692.7 632.7l-0.7 2.1 -6.9 -2.4 0.8 -2.1zM690.6 639.1l-1.5 4.2 -7.1 -2.5 1.6 -4.2zM684.7 656.1l-1.5 4.3 -7.3 -2.7 1.5 -4.2zM664.9 713.5l-0.7 2.2 -8.3 -3 0.7 -2.1zM660.5 726.3l-3.6 10.6 -8.7 -3 3.8 -10.6zM656.1 739.1l-0.7 2.1 -8.8 -3.1 0.8 -2.1zM593.9 919.9l-0.8 2.1 -11.9 -4.2 0.8 -2.1zM570.4 988l-5.1 14.9 -13.3 -4.7 5.4 -14.8zM564.6 1005l-0.8 2.1 -13.4 -4.7 0.8 -2.1zM688.9 621.8l-1.5 4.2 -6.8 -2.5 1.6 -4.2zM684.3 634.5l-3.8 10.6 -7.1 -2.7 4 -10.5zM679.7 647.2l-3.1 8.4 -7.3 -2.7 3.3 -8.4zM675.9 657.7l-0.8 2.2 -7.4 -2.8 0.8 -2.1zM646.6 738.1l-1.5 4.2 -8.8 -3.3 1.6 -4.2zM583.5 911.5l-1.5 4.2 -11.8 -4.4 1.6 -4.2zM579.7 922l-0.8 2.2 -12 -4.5 0.8 -2.1zM559.7 977l-0.8 2.1 -12.9 -4.8 0.8 -2.1zM556.6 985.5l-0.8 2.1 -13 -4.9 0.8 -2.1zM555 989.7l-0.7 2.1 -13.2 -4.9 0.8 -2.1zM676.6 634l-4 10.5 -7.1 -2.8 4.2 -10.4zM666.9 659.2l-0.8 2.1 -7.4 -2.9 0.9 -2.1zM637.1 736.9l-1.6 4.2 -8.8 -3.4 1.7 -4.2zM572.6 905l-0.8 2.1 -11.7 -4.6 0.9 -2.1zM567.7 917.6l-0.8 2.1 -11.8 -4.7 0.8 -2.1zM547.6 970.1l-0.8 2.1 -12.8 -5 0.8 -2.1zM510.5 1066.7l-0.8 2.1 -14.5 -5.7 0.9 -2.1zM724.5 495.7l-0.9 2.1 -4.5 -1.9 0.9 -2.1zM681.5 602.1l-0.8 2.1 -6.4 -2.7 0.8 -2.1zM673.9 620.9l-5 12.5 -6.9 -2.9 5.2 -12.4zM536.5 960.9l-0.8 2.1 -12.6 -5.2 0.8 -2.1zM524.7 990.1l-0.8 2.1 -13.2 -5.4 0.9 -2.1zM497.8 1056.9l-0.9 2 -14.3 -5.9 0.9 -2zM720.9 491.7l-1.8 4.2 -4.5 -2 1.8 -4.1zM675.1 599.4l-0.8 2.1 -6.4 -2.7 0.9 -2.1zM671.6 607.7l-1.7 4.2 -6.5 -2.9 1.8 -4.1zM669 613.9l-4.4 10.4 -6.7 -2.9 4.5 -10.3zM661.1 632.6l-0.9 2.1 -6.9 -3 0.9 -2.1zM536.2 926.7l-2.6 6.2 -12.1 -5.3 2.8 -6.1zM525.7 951.5l-5.3 12.5 -12.6 -5.5 5.5 -12.4zM510.7 986.8l-3.5 8.2 -13.1 -5.7 3.6 -8.2zM492.3 1030.2l-0.9 2.1 -13.8 -6 0.9 -2.1zM487.9 1040.6l-0.9 2.1 -14 -6.1 0.9 -2.1zM484.4 1048.9l-0.9 2.1 -14.2 -6.2 1 -2.1zM667 600.8l-0.9 2.1 -6.4 -2.9 1 -2.1zM663.4 609l-1.9 4.2 -6.5 -3 1.9 -4.1zM658.8 619.3l-1.8 4.1 -6.8 -3 1.9 -4.1zM654.2 629.6l-1.8 4.1 -6.9 -3.1 1.9 -4.1zM646.9 646l-0.9 2.1 -7.2 -3.3 1 -2zM522.4 925.6l-0.9 2 -12 -5.4 1 -2.1zM511.4 950.3l-0.9 2 -12.4 -5.7 0.9 -2zM496.8 983.1l-0.9 2.1 -13 -5.9 0.9 -2.1zM495 987.2l-2.8 6.2 -13.1 -6 2.8 -6.1zM491.3 995.5l-1.8 4.1 -13.3 -6.1 1.9 -4zM658.8 602l-1.9 4.1 -6.4 -3.1 1.9 -4zM654 612.2l-1.9 4.1 -6.6 -3.2 2 -4zM645.5 630.6l-1 2 -6.8 -3.3 0.9 -2zM640.7 640.8l-1.9 4 -7.1 -3.3 2 -4.1zM513.3 914l-0.9 2.1 -11.8 -5.7 0.9 -2zM510.5 920.1l-1 2.1 -11.9 -5.7 1 -2zM500.9 940.5l-0.9 2.1 -12.3 -5.9 1 -2zM494.3 954.8l-1 2 -12.5 -5.9 1 -2.1zM477.2 991.5l-2.9 6.1 -13.2 -6.3 3 -6.1zM471.5 1003.7l-1 2.1 -13.3 -6.4 0.9 -2zM702.7 495.9l-0.9 2 -4.6 -2.3 1.1 -2zM654.4 594.9l-1 2.1 -6.2 -3.2 1 -2zM650.5 603l-1 2.1 -6.4 -3.2 1 -2zM648.5 607.1l-1 2 -6.5 -3.2 1.1 -2zM646.5 611.1l-2.9 6.1 -6.6 -3.3 3 -6zM642.6 619.2l-1 2 -6.7 -3.3 1 -2zM639.6 625.3l-1.9 4 -6.9 -3.4 2.1 -4zM636.7 631.3l-3 6.1 -7 -3.5 3.1 -6zM500.6 910.4l-2 4.1 -11.8 -5.9 2 -4zM486.7 938.7l-0.9 2.1 -12.3 -6.1 1 -2zM479.8 952.9l-3.9 8.1 -12.6 -6.3 4.1 -8zM459.1 995.4l-1 2 -13.2 -6.6 1 -2zM451.2 1011.5l-1 2.1 -13.4 -6.8 1 -2zM690.1 509.6l-1 2.1 -4.8 -2.5 1 -2zM654.3 579.8l-2 4 -6 -3.1 2.1 -4zM647.2 593.8l-2.1 4.1 -6.2 -3.3 2.1 -4zM644.1 599.9l-2 4 -6.4 -3.3 2.1 -4zM637 613.9l-3.1 6 -6.7 -3.5 3.2 -5.9zM629.8 627.9l-1 2 -6.8 -3.5 1 -2zM626.7 633.9l-1 2 -6.9 -3.6 1.1 -1.9zM461.3 958.7l-1.1 2 -12.5 -6.5 1 -2zM443.9 992.8l-4.1 8 -13.3 -6.9 4.3 -7.9zM426.5 1026.9l-1 2 -13.7 -7.2 1 -2zM422.5 1034.9l-1.1 2 -13.9 -7.2 1.1 -2zM688.5 501.2l-2.1 4 -4.7 -2.5 2.2 -4zM641 590.6l-1.1 2 -6.2 -3.3 1.1 -2zM622 626.4l-3.2 5.9 -6.9 -3.7 3.3 -5.9zM493.1 868.7l-1.1 2 -11 -5.9 1.1 -2zM450.8 948.2l-1 2 -12.4 -6.7 1.1 -2zM448.7 952.2l-2.1 4 -12.5 -6.8 2.2 -4zM443.4 962.1l-2.1 4 -12.6 -6.9 2.2 -3.9zM440.3 968.1l-1.1 2 -12.7 -6.9 1.1 -2zM431.8 984l-1 2 -13 -7.1 1.1 -2zM417 1011.8l-2.1 4 -13.5 -7.4 2.2 -3.9zM413.9 1017.7l-2.1 4 -13.7 -7.4 2.2 -3.9zM409.6 1025.7l-1 2 -13.7 -7.5 1 -1.9zM406.5 1031.7l-1.1 1.9 -13.8 -7.5 1.1 -1.9zM694.8 479.1l-1.1 1.9 -4.2 -2.4 1.1 -1.9zM687.2 492.8l-1.1 2 -4.5 -2.5 1.2 -2zM682.8 500.7l-2.2 3.9 -4.6 -2.6 2.2 -3.9zM676.3 512.5l-1.1 2 -4.8 -2.8 1.1 -1.9zM613 626.6l-1.1 2 -6.8 -3.8 1.1 -2zM478.8 868.7l-1 2 -11.1 -6.3 1.2 -1.9zM476.7 872.6l-1.1 2 -11.1 -6.3 1.1 -1.9zM430.9 955.3l-1.1 1.9 -12.6 -7 1.2 -2zM427.6 961.2l-2.2 3.9 -12.7 -7.1 2.3 -3.9zM417.8 978.9l-1.1 2 -13 -7.3 1.2 -2zM413.4 986.8l-6.5 11.8 -13.3 -7.5 6.8 -11.7zM393.8 1022.2l-1.1 2 -13.7 -7.8 1.1 -1.9zM389.4 1030.1l-3.3 5.9 -13.9 -7.9 3.4 -5.8zM688.4 480.6l-3.4 5.8 -4.3 -2.5 3.4 -5.8zM680.5 494.2l-2.3 3.9 -4.5 -2.7 2.3 -3.8zM677.1 500.1l-2.2 3.9 -4.7 -2.8 2.4 -3.8zM672.6 507.8l-2.2 3.9 -4.8 -2.8 2.3 -3.8zM636.6 570.2l-1.1 2 -5.8 -3.5 1.1 -1.9zM583.8 661.8l-1.2 1.9 -7.4 -4.3 1.2 -2zM454.4 885.9l-2.3 3.9 -11.3 -6.7 2.3 -3.9zM411.6 959.9l-1.1 2 -12.6 -7.5 1.2 -1.9zM404.9 971.6l-5.7 9.7 -12.9 -7.6 5.8 -9.6zM395.9 987.2l-2.3 3.9 -13.1 -7.7 2.3 -3.9zM392.5 993l-1.1 2 -13.2 -7.8 1.2 -1.9zM386.9 1002.8l-6.8 11.7 -13.5 -8 7 -11.5zM359.9 1049.5l-3.4 5.9 -14.2 -8.4 3.5 -5.8zM355.4 1057.3l-2.3 3.9 -14.3 -8.4 2.3 -3.8zM349.7 1067.1l-2.2 3.9 -14.5 -8.5 2.3 -3.9zM678.4 487.7l-2.4 3.9 -4.4 -2.7 2.4 -3.8zM630.8 566.8l-1.1 1.9 -5.8 -3.5 1.2 -1.9zM610 601.5l-1.2 1.9 -6.3 -3.9 1.2 -1.9zM607.7 605.4l-1.2 1.9 -6.4 -3.9 1.2 -2zM576.4 657.4l-1.2 2 -7.3 -4.5 1.2 -1.9zM451.2 865.7l-1.1 2 -11 -6.7 1.2 -2zM438.5 886.9l-1.2 2 -11.3 -7 1.2 -1.9zM394.4 960.2l-2.3 3.9 -12.6 -7.7 2.4 -3.9zM391 966l-2.4 3.9 -12.7 -7.8 2.4 -3.8zM382.8 979.5l-3.4 5.8 -13 -8 3.6 -5.7zM375.9 991.1l-1.2 1.9 -13.1 -8 1.2 -1.9zM372.4 996.9l-2.3 3.8 -13.3 -8.1 2.4 -3.8zM344.6 1043.2l-1.2 1.9 -14 -8.6 1.2 -1.9zM341.1 1049l-1.1 1.9 -14.2 -8.7 1.2 -1.9zM677.6 479.3l-1.2 1.9 -4.3 -2.7 1.3 -1.8zM622.7 567.1l-1.2 1.9 -5.7 -3.7 1.2 -1.8zM609.6 588.1l-1.2 1.9 -6.1 -3.9 1.2 -1.9zM601.3 601.4l-1.2 2 -6.4 -4.1 1.2 -1.9zM516.6 736.9l-2.4 3.8 -8.7 -5.5 2.4 -3.8zM375.9 962.1l-4.8 7.6 -12.7 -8.1 4.9 -7.5zM368.8 973.5l-1.2 1.9 -12.8 -8.1 1.2 -1.9zM366.4 977.3l-2.4 3.9 -12.9 -8.3 2.4 -3.7zM353.3 998.3l-1.2 1.9 -13.3 -8.4 1.3 -1.9zM346.1 1009.8l-1.2 1.9 -13.4 -8.6 1.2 -1.9zM330.6 1034.6l-1.2 1.9 -13.9 -8.8 1.3 -1.9zM328.2 1038.4l-2.4 3.8 -13.9 -8.9 2.4 -3.8zM318.7 1053.7l-1.2 1.9 -14.2 -9.1 1.2 -1.9zM313.9 1061.3l-1.2 1.9 -14.3 -9.1 1.2 -1.9zM669.7 482.3l-1.2 1.9 -4.3 -2.8 1.2 -1.9zM666 488l-1.2 1.9 -4.4 -2.9 1.3 -1.9zM575.3 627.6l-1.2 1.9 -6.8 -4.5 1.3 -1.9zM570.4 635.2l-1.2 1.8 -6.9 -4.5 1.2 -1.9zM419.7 867.3l-1.2 1.8 -11 -7.2 1.3 -1.9zM416 872.9l-1.2 1.9 -11.1 -7.3 1.3 -1.9zM353.5 969.2l-4.9 7.5 -12.8 -8.5 5 -7.5zM327.8 1008.8l-1.2 1.9 -13.5 -8.9 1.3 -1.9zM311.9 1033.3l-2.5 3.8 -13.9 -9.2 2.5 -3.7zM299.6 1052.2l-2.4 3.8 -14.3 -9.4 2.6 -3.8zM292.3 1063.5l-3.7 5.7 -14.5 -9.6 3.8 -5.6zM661.7 485.1l-2.6 3.7 -4.3 -3 2.6 -3.7zM626.4 537.3l-1.2 1.9 -5.3 -3.6 1.3 -1.9zM597.5 580.2l-2.5 3.8 -6 -4.2 2.5 -3.7zM566 626.9l-1.2 1.8 -6.8 -4.7 1.3 -1.8zM563.5 630.6l-1.2 1.9 -6.9 -4.8 1.3 -1.8zM339.6 962.6l-10.1 14.9 -12.8 -8.8 10.3 -14.7zM328.2 979.4l-2.5 3.7 -12.9 -8.9 2.6 -3.6zM323.2 986.9l-7.5 11.2 -13.2 -9.1 7.7 -11.1zM313.1 1001.8l-2.5 3.7 -13.3 -9.1 2.6 -3.7zM308.1 1009.2l-1.2 1.9 -13.5 -9.2 1.3 -1.9zM303.1 1016.7l-1.3 1.9 -13.5 -9.3 1.3 -1.9zM300.6 1020.4l-1.3 1.9 -13.6 -9.4 1.3 -1.8zM296.8 1026l-3.8 5.6 -13.8 -9.4 3.9 -5.6zM288 1039.1l-2.5 3.7 -14 -9.6 2.6 -3.7zM284.2 1044.7l-7.5 11.2 -14.3 -9.8 7.8 -11zM272.9 1061.5l-1.3 1.8 -14.3 -9.8 1.3 -1.9zM644.5 500.6l-1.3 1.8 -4.6 -3.3 1.3 -1.8zM623.8 530.1l-1.3 1.8 -5.1 -3.7 1.3 -1.8zM586.4 583.5l-1.3 1.8 -6.1 -4.3 1.4 -1.8zM558 624l-1.3 1.9 -6.8 -4.8 1.4 -1.8zM475.4 742l-1.3 1.9 -8.8 -6.3 1.3 -1.8zM412.2 832.3l-1.3 1.9 -10.4 -7.4 1.3 -1.8zM317.9 966.9l-1.2 1.8 -12.7 -9 1.3 -1.9zM310.2 977.9l-3.9 5.6 -12.9 -9.3 3.9 -5.4zM299.9 992.7l-1.3 1.8 -13.2 -9.4 1.4 -1.8zM287 1011.1l-2.6 3.7 -13.5 -9.6 2.6 -3.7zM283.1 1016.6l-11.6 16.6 -13.8 -9.8 11.9 -16.4zM266.3 1040.6l-2.6 3.7 -14 -10 2.7 -3.7zM261.2 1048l-1.3 1.8 -14.1 -10.1 1.3 -1.8zM258.6 1051.6l-1.3 1.9 -14.2 -10.1 1.3 -1.8zM248.3 1066.4l-2.6 3.7 -14.5 -10.3 2.7 -3.7zM653.1 479.1l-4 5.5 -4.3 -3.2 4.1 -5.4zM646.5 488.2l-2.7 3.6 -4.4 -3.2 2.7 -3.6zM621.4 522.8l-1.4 1.8 -4.9 -3.7 1.3 -1.8zM608.1 541l-1.3 1.8 -5.3 -3.9 1.4 -1.8zM604.2 546.4l-1.4 1.9 -5.3 -4 1.3 -1.8zM577.7 582.9l-1.3 1.8 -6 -4.5 1.3 -1.8zM552.6 617.4l-5.3 7.3 -6.7 -5 5.4 -7.1zM401.8 825l-1.3 1.8 -10.2 -7.6 1.3 -1.8zM399.2 828.6l-2.7 3.6 -10.3 -7.6 2.7 -3.6zM391.2 839.5l-2.6 3.7 -10.5 -7.8 2.7 -3.6zM311.9 948.7l-1.3 1.9 -12.4 -9.2 1.4 -1.8zM307.9 954.2l-1.3 1.8 -12.5 -9.2 1.4 -1.8zM282.8 988.8l-5.3 7.3 -13.2 -9.8 5.5 -7.2zM274.9 999.7l-4 5.5 -13.3 -9.9 4 -5.4zM647.6 477.8l-5.5 7.2 -4.3 -3.3 5.6 -7.1zM638.1 490.4l-1.4 1.8 -4.4 -3.4 1.4 -1.8zM627.2 504.7l-1.3 1.8 -4.7 -3.5 1.4 -1.8zM596.1 546.1l-1.4 1.8 -5.3 -4.2 1.3 -1.7zM567.7 583.8l-1.4 1.8 -6 -4.6 1.3 -1.8zM548.7 609l-4.1 5.4 -6.5 -5.1 4.2 -5.3zM481 698.8l-1.4 1.8 -8 -6.2 1.4 -1.7zM476.9 704.2l-2.7 3.6 -8.1 -6.3 2.7 -3.5zM361.8 856.9l-1.3 1.8 -10.8 -8.2 1.4 -1.8zM353.7 867.7l-2.7 3.6 -11 -8.4 2.8 -3.6zM283.3 961.2l-4.1 5.4 -12.6 -9.8 4.1 -5.3zM272.5 975.5l-2.7 3.6 -12.9 -9.8 2.8 -3.6zM254.9 998.9l-1.4 1.8 -13.2 -10.2 1.4 -1.7zM639.2 479.9l-1.4 1.8 -4.2 -3.4 1.4 -1.7zM632.3 488.8l-1.4 1.7 -4.4 -3.5 1.4 -1.7zM621.2 503l-2.8 3.5 -4.6 -3.7 2.8 -3.5zM588 545.5l-1.4 1.8 -5.4 -4.3 1.4 -1.7zM556.1 586.3l-1.4 1.8 -6.1 -4.9 1.5 -1.7zM545 600.5l-4.1 5.3 -6.4 -5.1 4.2 -5.2zM539.5 607.6l-4.2 5.3 -6.5 -5.2 4.3 -5.2zM475.8 689.1l-2.8 3.6 -7.9 -6.3 2.8 -3.5zM457.8 712.2l-2.8 3.5 -8.3 -6.6 2.8 -3.5zM453.6 717.5l-1.4 1.8 -8.3 -6.7 1.4 -1.7zM349.7 850.5l-2.8 3.5 -10.7 -8.5 2.9 -3.5zM279.1 940.9l-1.4 1.8 -12.3 -9.8 1.5 -1.7zM635 476.6l-2.8 3.5 -4.2 -3.5 2.9 -3.5zM629.3 483.5l-4.2 5.3 -4.4 -3.6 4.4 -5.2zM548.6 583.2l-7 8.8 -6.2 -5.1 7.2 -8.6zM537.3 597.2l-1.4 1.8 -6.3 -5.2 1.5 -1.7zM530.2 606l-1.4 1.7 -6.4 -5.3 1.4 -1.7zM469.3 681.1l-4.2 5.3 -7.8 -6.4 4.3 -5.2zM453.8 700.4l-1.4 1.7 -8.1 -6.6 1.4 -1.7zM402.8 763.3l-2.8 3.5 -9.2 -7.5 2.9 -3.5zM394.3 773.8l-2.8 3.5 -9.4 -7.7 2.9 -3.5zM388.6 780.8l-1.4 1.8 -9.4 -7.8 1.4 -1.8zM385.8 784.3l-2.8 3.5 -9.6 -7.9 2.9 -3.4zM378.7 793l-1.4 1.8 -9.7 -8 1.5 -1.7zM334.8 847.3l-2.8 3.5 -10.6 -8.8 2.9 -3.5zM326.3 857.7l-2.8 3.5 -10.8 -8.9 2.9 -3.4zM322.1 863l-1.4 1.7 -10.9 -8.9 1.4 -1.8zM319.3 866.5l-1.5 1.7 -10.9 -9 1.4 -1.7zM316.4 870l-2.8 3.5 -11 -9.1 2.8 -3.5zM266.9 931.2l-1.5 1.7 -12 -9.9 1.4 -1.7zM218.7 990.6l-1.4 1.8 -13.1 -10.8 1.5 -1.7zM632.3 471.4l-2.9 3.5 -4.1 -3.6 2.9 -3.4zM623.6 481.8l-1.4 1.7 -4.3 -3.7 1.5 -1.7zM619.3 486.9l-1.5 1.7 -4.3 -3.7 1.5 -1.7zM536.9 585.2l-2.9 3.4 -6.1 -5.2 2.9 -3.4zM531.1 592.1l-1.5 1.7 -6.2 -5.3 1.5 -1.7zM441.4 698.9l-1.4 1.7 -8.1 -6.8 1.5 -1.7zM377.8 774.8l-1.5 1.7 -9.3 -8 1.4 -1.7zM317 847.2l-1.4 1.7 -10.6 -9.1 1.4 -1.7zM314.1 850.6l-2.9 3.4 -10.7 -9.1 3 -3.4zM308.3 857.5l-7.2 8.6 -10.9 -9.3 7.4 -8.5zM292.4 876.5l-1.4 1.7 -11.1 -9.5 1.5 -1.7zM184 1005.7l-1.5 1.7 -13.3 -11.4 1.4 -1.6zM173.8 1017.8l-1.4 1.7 -13.6 -11.6 1.5 -1.7zM620.9 476.4l-1.5 1.7 -4.2 -3.7 1.5 -1.6zM615 483.2l-3 3.4 -4.3 -3.8 3 -3.3zM527.9 583.4l-1.5 1.7 -6 -5.3 1.5 -1.7zM434.9 690.4l-3 3.4 -7.9 -7 3 -3.4zM378.8 754.9l-1.5 1.7 -9 -7.9 1.5 -1.7zM375.8 758.3l-2.9 3.4 -9.1 -8 3 -3.4zM359.6 777l-1.5 1.7 -9.4 -8.3 1.5 -1.7zM268.1 882.3l-4.5 5.1 -11.2 -10 4.5 -5zM158.8 1007.9l-1.4 1.7 -13.4 -11.8 1.5 -1.7zM150 1018.1l-1.5 1.7 -13.6 -12 1.5 -1.6zM142.6 1026.6l-4.4 5.1 -13.8 -12.2 4.5 -5zM104.2 1070.8l-1.5 1.7 -14.4 -12.8 1.5 -1.7zM609.2 481.1l-3 3.4 -4.3 -4 3.1 -3.3zM550.5 546.3l-1.5 1.7 -5.4 -4.9 1.5 -1.7zM445.1 663.4l-4.5 5 -7.5 -6.8 4.6 -5zM439.1 670.1l-1.5 1.6 -7.6 -6.9 1.6 -1.6zM371.3 745.3l-1.5 1.7 -8.8 -8.1 1.5 -1.7zM365.3 752l-1.5 1.7 -9 -8.2 1.6 -1.7zM253.9 875.7l-3 3.4 -11.1 -10.2 3 -3.3zM104.8 1041.3l-6 6.7 -14 -12.9 6.1 -6.6zM97.3 1049.6l-3 3.4 -14.1 -13 3 -3.3zM79.2 1069.7l-3 3.3 -14.4 -13.2 3 -3.3zM603.4 478.9l-1.5 1.6 -4.2 -4 1.5 -1.6zM569.7 515.1l-4.6 4.9 -4.9 -4.6 4.7 -4.9zM442.3 651.7l-1.5 1.6 -7.2 -6.8 1.5 -1.6zM437.7 656.6l-1.5 1.7 -7.3 -7 1.5 -1.6zM420.8 674.7l-4.6 5 -7.6 -7.3 4.6 -4.9zM407 689.5l-3.1 3.3 -7.8 -7.5 3.1 -3.2zM313.4 789.9l-1.5 1.6 -9.6 -9.1 1.5 -1.6zM242.8 865.6l-1.5 1.6 -10.9 -10.3 1.5 -1.6zM89.4 1030.2l-1.6 1.6 -13.7 -13.1 1.5 -1.6zM77.1 1043.3l-4.6 5 -14 -13.4 4.6 -4.8zM605.5 468.4l-1.6 1.7 -4 -4 1.6 -1.6zM578.9 496l-6.2 6.4 -4.6 -4.5 6.3 -6.3zM568 507.3l-1.6 1.6 -4.7 -4.6 1.6 -1.6zM560.2 515.4l-1.6 1.6 -4.8 -4.8 1.5 -1.5zM538.3 538l-1.6 1.7 -5.2 -5.2 1.6 -1.6zM410.1 670.8l-1.5 1.6 -7.6 -7.4 1.6 -1.6zM400.7 680.5l-3.1 3.2 -7.7 -7.6 3.2 -3.2zM392.9 688.6l-3.1 3.2 -7.9 -7.7 3.2 -3.2zM388.2 693.4l-1.5 1.6 -8 -7.7 1.6 -1.6zM300.7 784.1l-6.2 6.4 -9.6 -9.4 6.3 -6.3zM199.1 889.3l-3.1 3.2 -11.4 -11.1 3.2 -3.2zM574.4 491.6l-1.5 1.5 -4.5 -4.5 1.6 -1.5zM571.3 494.7l-4.8 4.8 -4.6 -4.6 4.9 -4.7zM404.2 661.8l-1.6 1.6 -7.4 -7.5 1.7 -1.6zM401 665l-6.3 6.3 -7.6 -7.6 6.5 -6.3zM391.5 674.5l-4.8 4.8 -7.6 -7.8 4.8 -4.7zM383.5 682.5l-1.6 1.6 -7.7 -7.9 1.6 -1.6zM296 770l-6.3 6.3 -9.4 -9.4 6.5 -6.3zM265.8 800.2l-3.2 3.2 -9.8 -10 3.2 -3.1zM186.2 879.8l-1.6 1.6 -11.1 -11.4 1.6 -1.6zM604 454.3l-9.7 9.3 -3.9 -4.1 9.9 -9.2zM570 487.1l-4.8 4.7 -4.4 -4.7 4.9 -4.6zM534.4 521.5l-1.6 1.5 -4.9 -5.2 1.6 -1.5zM401.7 649.6l-1.6 1.6 -7.2 -7.6 1.7 -1.5zM296.5 751.2l-4.8 4.7 -9 -9.4 4.9 -4.7zM290 757.5l-3.2 3.1 -9.1 -9.5 3.3 -3.1zM283.6 763.7l-1.7 1.6 -9.1 -9.6 1.7 -1.6zM277.1 770l-1.6 1.5 -9.3 -9.7 1.7 -1.5zM257.7 788.7l-1.7 1.6 -9.5 -10.1 1.6 -1.5zM600.3 450.3l-1.7 1.5 -3.7 -4 1.7 -1.5zM592 458l-1.6 1.5 -3.9 -4.2 1.7 -1.5zM588.8 461l-1.7 1.6 -3.9 -4.3 1.7 -1.5zM559.1 488.7l-3.3 3 -4.4 -4.8 3.4 -3zM544.3 502.5l-1.6 1.5 -4.6 -5 1.6 -1.5zM241.5 784.8l-3.3 3.1 -9.5 -10.4 3.4 -3zM231.7 794l-5 4.6 -9.7 -10.6 5 -4.5zM164.2 856.9l-3.3 3.1 -10.8 -11.7 3.4 -3.1zM594.9 447.8l-1.7 1.5 -3.6 -4.2 1.7 -1.4zM586.5 455.3l-3.3 3 -3.8 -4.3 3.4 -3zM553.1 485.4l-3.3 3 -4.4 -4.9 3.4 -2.9zM536.4 500.5l-3.4 3 -4.6 -5.2 3.4 -3zM531.4 505l-1.7 1.5 -4.7 -5.3 1.7 -1.4zM171.9 828.7l-1.7 1.5 -10.3 -11.6 1.7 -1.5zM705 344.8l-1.7 1.4 -1.8 -2.2 1.7 -1.4zM698.2 350.7l-1.7 1.4 -1.9 -2.3 1.7 -1.4zM581.1 452.5l-1.7 1.5 -3.8 -4.4 1.8 -1.4zM548.8 480.6l-10.2 8.8 -4.3 -5.1 10.3 -8.7zM536.9 490.9l-1.7 1.5 -4.4 -5.2 1.7 -1.4zM416.4 595.7l-3.4 3 -6.3 -7.4 3.5 -2.9zM387.5 620.8l-15.3 13.3 -6.8 -8.1 15.5 -13zM190.5 792l-3.4 3 -9.6 -11.3 3.4 -2.9zM183.7 797.9l-1.7 1.5 -9.7 -11.4 1.7 -1.4zM173.5 806.8l-6.8 5.9 -9.9 -11.7 6.9 -5.7zM148.1 828.9l-1.7 1.5 -10.3 -12 1.7 -1.4zM141.3 834.8l-1.7 1.5 -10.4 -12.1 1.7 -1.5zM694.6 349.8l-1.8 1.5 -1.9 -2.4 1.7 -1.5zM584.2 442.4l-1.7 1.4 -3.5 -4.3 1.7 -1.4zM572.2 452.5l-1.7 1.4 -3.8 -4.5 1.8 -1.4zM534.3 484.3l-3.5 2.9 -4.3 -5.2 3.5 -2.9zM413.6 585.6l-1.7 1.4 -6.1 -7.3 1.8 -1.5zM363.6 627.5l-1.7 1.4 -6.8 -8.2 1.8 -1.4zM175.8 785.1l-1.8 1.5 -9.5 -11.5 1.8 -1.4zM144.7 811.2l-6.9 5.8 -10 -12.2 7 -5.7zM701.4 340.4l-1.8 1.4 -1.8 -2.3 1.8 -1.4zM690.9 348.9l-1.8 1.4 -1.9 -2.5 1.7 -1.4zM531.7 477.7l-3.5 2.8 -4.2 -5.2 3.6 -2.8zM472.3 525.9l-8.8 7 -5.1 -6.4 8.9 -6.9zM432.1 558.4l-1.8 1.4 -5.5 -7 1.7 -1.4zM428.6 561.3l-1.8 1.4 -5.6 -7.1 1.8 -1.4zM353.4 622.1l-1.8 1.5 -6.6 -8.4 1.7 -1.4zM341.1 632.1l-6.9 5.6 -7 -8.7 7.1 -5.5zM332.4 639.1l-1.7 1.5 -7 -8.8 1.8 -1.4zM213.5 735.4l-5.2 4.3 -8.7 -10.9 5.3 -4.2zM164.5 775.1l-3.5 2.8 -9.3 -11.7 3.6 -2.8zM122.6 809.1l-7 5.6 -10 -12.5 7.1 -5.6zM105.1 823.2l-3.5 2.8 -10.2 -12.7 3.6 -2.8zM96.3 830.3l-1.7 1.4 -10.3 -12.9 1.8 -1.4zM687.2 347.8l-1.8 1.4 -2 -2.5 1.8 -1.4zM570.1 439.2l-1.7 1.4 -3.5 -4.5 1.7 -1.4zM566.6 442l-3.6 2.8 -3.5 -4.7 3.6 -2.7zM561.3 446.2l-1.8 1.4 -3.6 -4.8 1.8 -1.3zM524 475.3l-1.7 1.3 -4.2 -5.3 1.8 -1.4zM460.2 525.1l-1.8 1.4 -5 -6.5 1.8 -1.4zM456.7 527.9l-1.8 1.4 -5.1 -6.6 1.8 -1.3zM428.3 550.1l-5.3 4.1 -5.5 -7.1 5.4 -4.1zM408.8 565.3l-1.8 1.4 -5.7 -7.4 1.8 -1.4zM345 615.2l-1.8 1.4 -6.6 -8.6 1.8 -1.3zM334.3 623.5l-1.7 1.4 -6.7 -8.8 1.8 -1.3zM275.8 669.2l-1.8 1.4 -7.4 -9.8 1.8 -1.3zM265.2 677.5l-7.1 5.5 -7.7 -10 7.2 -5.4zM238.6 698.3l-1.8 1.4 -8 -10.4 1.8 -1.4zM146.4 770.3l-3.6 2.8 -9.2 -12.1 3.6 -2.7zM121.6 789.7l-1.8 1.4 -9.6 -12.5 1.8 -1.3zM98.5 807.7l-1.8 1.4 -9.8 -12.9 1.8 -1.3zM93.2 811.9l-1.8 1.4 -9.9 -13 1.8 -1.4zM79 823l-1.8 1.3 -10.1 -13.2 1.8 -1.3zM73.7 827.1l-1.8 1.4 -10.2 -13.3 1.8 -1.4zM696 337.2l-1.8 1.4 -1.7 -2.4 1.8 -1.3zM554.1 444.2l-1.8 1.3 -3.6 -4.8 1.8 -1.4zM471.4 506.5l-1.8 1.3 -4.7 -6.3 1.9 -1.3zM458.8 515.9l-1.8 1.4 -4.8 -6.5 1.8 -1.4zM444.5 526.8l-1.8 1.3 -5.1 -6.8 1.9 -1.3zM413.9 549.8l-1.8 1.3 -5.4 -7.3 1.8 -1.3zM401.3 559.3l-5.4 4 -5.6 -7.6 5.5 -3.9zM358.2 591.8l-7.2 5.4 -6.2 -8.4 7.3 -5.3zM325.9 616.1l-3.6 2.8 -6.6 -9 3.6 -2.6zM311.5 627l-1.8 1.3 -6.8 -9.1 1.9 -1.3zM255.8 669l-3.6 2.7 -7.5 -10.2 3.6 -2.6zM200.1 710.9l-1.8 1.4 -8.2 -11.1 1.8 -1.3zM135.4 759.7l-1.8 1.3 -9.1 -12.2 1.9 -1.3zM128.2 765.1l-1.8 1.3 -9.1 -12.3 1.8 -1.3zM112 777.3l-1.8 1.3 -9.3 -12.6 1.8 -1.3zM543.2 444.6l-5.4 4 -3.7 -5.1 5.5 -3.9zM512.3 467.1l-1.9 1.3 -3.9 -5.6 1.8 -1.2zM466.8 500.2l-1.9 1.3 -4.5 -6.4 1.8 -1.3zM455.8 508.1l-5.4 4 -4.8 -6.7 5.6 -3.8zM443.1 517.4l-1.8 1.3 -4.9 -6.8 1.9 -1.3zM439.5 520l-1.9 1.3 -4.9 -6.8 1.9 -1.3zM434 524l-3.6 2.6 -5 -7 3.6 -2.6zM423.1 531.9l-3.7 2.7 -5.1 -7.2 3.7 -2.6zM404.9 545.1l-1.8 1.4 -5.4 -7.5 1.9 -1.3zM395.8 551.8l-3.7 2.6 -5.4 -7.7 3.6 -2.5zM337.5 594.1l-3.6 2.6 -6.2 -8.7 3.7 -2.6zM319.3 607.3l-1.8 1.3 -6.4 -9 1.8 -1.2zM312 612.6l-1.8 1.3 -6.5 -9.1 1.9 -1.3zM297.5 623.2l-7.3 5.3 -6.8 -9.5 7.4 -5.2zM235.6 668.1l-1.8 1.4 -7.5 -10.5 1.9 -1.3zM228.3 673.4l-1.8 1.4 -7.6 -10.6 1.9 -1.3zM204.6 690.6l-3.6 2.7 -7.9 -11.1 3.7 -2.5zM182.8 706.5l-1.8 1.3 -8.1 -11.4 1.8 -1.3zM166.4 718.4l-1.8 1.3 -8.3 -11.7 1.8 -1.2zM161 722.4l-1.9 1.3 -8.4 -11.8 1.9 -1.3zM120.9 751.5l-1.8 1.3 -8.9 -12.5 1.8 -1.3zM108.2 760.7l-1.9 1.3 -9 -12.7 1.8 -1.2zM688.9 335.1l-1.8 1.3 -1.7 -2.5 1.8 -1.3zM681.6 340.2l-1.9 1.3 -1.8 -2.6 1.9 -1.2zM528.6 447.4l-7.4 5.1 -3.7 -5.4 7.5 -5zM467.8 489.9l-3.7 2.6 -4.4 -6.4 3.7 -2.5zM449.3 502.9l-1.8 1.2 -4.6 -6.7 1.8 -1.2zM434.6 513.2l-7.4 5.1 -4.8 -7 7.4 -5zM397.7 539l-1.8 1.3 -5.3 -7.6 1.9 -1.3zM392.2 542.9l-1.9 1.3 -5.2 -7.8 1.8 -1.2zM305.6 603.5l-5.6 3.9 -6.4 -9.3 5.6 -3.8zM281.6 620.3l-1.8 1.3 -6.7 -9.7 1.9 -1.2zM220.8 662.9l-1.9 1.3 -7.3 -10.7 1.8 -1.3zM206 673.2l-1.8 1.3 -7.5 -11 1.8 -1.2zM195 680.9l-1.9 1.3 -7.6 -11.1 1.8 -1.3zM106.5 742.9l-5.5 3.9 -8.8 -12.8 5.6 -3.8zM683.5 335.1l-3.7 2.6 -1.8 -2.7 3.8 -2.4zM676 340.2l-1.8 1.2 -1.8 -2.7 1.9 -1.2zM534.3 435.8l-1.9 1.3 -3.4 -5.3 1.9 -1.2zM519.4 445.9l-1.9 1.2 -3.6 -5.5 1.9 -1.2zM467.1 481.1l-1.8 1.2 -4.3 -6.3 1.9 -1.3zM441 498.7l-7.5 5 -4.5 -6.9 7.5 -4.9zM429.8 506.3l-3.7 2.5 -4.7 -7.1 3.8 -2.5zM304.8 590.5l-1.8 1.3 -6.1 -9.2 1.9 -1.3zM289.9 600.6l-1.8 1.3 -6.3 -9.5 1.9 -1.2zM276.9 609.4l-1.9 1.3 -6.4 -9.7 1.8 -1.3zM239.6 634.6l-1.9 1.2 -6.9 -10.3 1.9 -1.3zM224.6 644.7l-1.8 1.2 -7.1 -10.6 1.9 -1.3zM159.3 688.7l-1.8 1.2 -7.8 -11.7 1.9 -1.3zM150 695l-3.7 2.5 -7.9 -12 3.7 -2.4zM125.8 711.3l-1.9 1.3 -8.2 -12.4 1.9 -1.2zM105.3 725.2l-3.8 2.5 -8.4 -12.8 3.7 -2.4zM94.1 732.7l-9.4 6.3 -8.6 -13.1 9.4 -6.1zM81 741.5l-5.6 3.8 -8.8 -13.2 5.7 -3.7zM672.4 338.7l-1.9 1.2 -1.8 -2.7 1.9 -1.2zM508.2 445.3l-1.9 1.2 -3.6 -5.6 1.9 -1.2zM478 464.9l-1.9 1.3 -3.9 -6.2 1.9 -1.2zM474.2 467.4l-1.8 1.2 -4 -6.3 1.9 -1.1zM421.4 501.7l-3.8 2.4 -4.6 -7.2 3.8 -2.4zM378 529.9l-3.8 2.4 -5.1 -8 3.9 -2.3zM372.3 533.6l-3.7 2.4 -5.2 -8.1 3.8 -2.4zM296.9 582.6l-3.8 2.4 -6 -9.4 3.8 -2.4zM285.5 589.9l-1.8 1.3 -6.1 -9.6 1.9 -1.2zM249.7 613.2l-3.8 2.5 -6.5 -10.3 3.8 -2.4zM232.7 624.2l-1.9 1.3 -6.7 -10.5 1.9 -1.2zM225.2 629.1l-1.9 1.3 -6.8 -10.7 1.9 -1.2zM221.4 631.6l-1.9 1.2 -6.8 -10.7 1.9 -1.2zM217.6 634l-3.8 2.5 -6.8 -10.8 3.8 -2.4zM117.6 699l-1.9 1.2 -8 -12.5 1.9 -1.2zM98.7 711.2l-3.7 2.5 -8.3 -12.9 3.9 -2.4zM72.3 728.4l-1.9 1.2 -8.5 -13.3 1.9 -1.2zM674.4 333.6l-1.9 1.2 -1.6 -2.8 1.9 -1.1zM531.3 423l-1.9 1.2 -3.2 -5.3 1.9 -1.1zM525.6 426.6l-1.9 1.2 -3.3 -5.4 1.9 -1.1zM498.9 443.3l-7.6 4.7 -3.7 -5.9 7.7 -4.6zM489.4 449.2l-2 1.2 -3.6 -6 1.9 -1.1zM485.5 451.6l-1.9 1.2 -3.7 -6.1 1.9 -1.1zM373 522l-1.9 1.2 -5 -8.1 2 -1.1zM365.3 526.7l-1.9 1.2 -5 -8.1 1.9 -1.2zM308.1 562.5l-7.6 4.8 -5.7 -9.3 7.7 -4.6zM298.5 568.5l-3.8 2.3 -5.7 -9.3 3.8 -2.3zM292.8 572l-3.8 2.4 -5.8 -9.4 3.9 -2.4zM279.5 580.4l-1.9 1.2 -6 -9.7 2 -1.2zM239.4 605.4l-1.9 1.2 -6.4 -10.4 2 -1.1zM231.8 610.2l-1.9 1.2 -6.5 -10.5 1.9 -1.2zM115.4 682.9l-1.9 1.2 -7.7 -12.5 1.9 -1.2zM84.8 702l-1.9 1.2 -8 -13.1 1.9 -1.2zM667 334.3l-1.9 1.2 -1.7 -2.9 1.9 -1.1zM522.3 421.3l-5.7 3.4 -3.3 -5.4 5.9 -3.4zM485.7 443.3l-1.9 1.1 -3.6 -6 2 -1.1zM370 512.8l-5.8 3.5 -4.8 -8.2 5.8 -3.3zM352.6 523.2l-1.9 1.2 -4.9 -8.4 1.9 -1.1zM317.9 544.1l-1.9 1.2 -5.3 -9 1.9 -1.2zM302.5 553.4l-3.9 2.3 -5.5 -9.3 3.9 -2.3zM229.2 597.4l-1.9 1.2 -6.2 -10.6 1.9 -1.1zM665.3 331.5l-3.9 2.3 -1.6 -3 3.9 -2.2zM519.2 415.9l-2 1.1 -3.1 -5.5 2 -1.1zM515.3 418.1l-5.9 3.4 -3.1 -5.6 5.9 -3.3zM499.7 427.1l-13.6 7.9 -3.4 -6 13.7 -7.7zM449 456.4l-5.8 3.4 -3.8 -6.8 5.9 -3.3zM361.3 507l-1.9 1.1 -4.7 -8.2 2 -1.1zM330.2 525l-2 1.1 -4.9 -8.8 1.9 -1zM322.4 529.5l-13.7 7.9 -5.1 -9.2 13.7 -7.6zM232.7 581.3l-1.9 1.1 -5.9 -10.5 1.9 -1.1zM226.9 584.6l-2 1.2 -5.9 -10.6 1.9 -1.1zM663.7 328.6l-3.9 2.2 -1.7 -3 4 -2.1zM657.8 331.9l-2 1.1 -1.6 -3 2 -1.1zM510.2 413.7l-3.9 2.2 -3.1 -5.7 4 -2.1zM500.4 419.2l-2 1.1 -3.2 -5.8 2 -1.1zM492.5 423.5l-2 1.1 -3.2 -5.9 2 -1.1zM488.6 425.7l-5.9 3.3 -3.3 -6.1 5.9 -3.2zM331.1 513l-5.9 3.3 -4.8 -8.9 6 -3.2zM319.3 519.5l-2 1.1 -4.8 -9 2 -1zM232.7 567.5l-3.9 2.2 -5.7 -10.5 4 -2.1zM666.1 323.6l-2 1.1 -1.5 -2.9 2 -1zM652.2 331l-2 1.1 -1.6 -3.2 2 -1zM503.2 410.2l-8 4.3 -3 -5.9 8 -4.1zM493.3 415.5l-2 1.1 -3.1 -5.9 2 -1.1zM487.3 418.7l-9.9 5.3 -3.2 -6.2 10 -5.1zM382 474.7l-2 1 -4.1 -7.8 2 -1.1zM320.4 507.4l-2 1.1 -4.6 -9 2 -1zM314.5 510.6l-2 1 -4.7 -9 2 -1zM308.5 513.8l-6 3.1 -4.8 -9.2 6.1 -3.1zM652.6 326.9l-2 1 -1.6 -3.1 2 -1zM476.2 416.8l-2 1 -3.1 -6.2 2 -1zM388 461.7l-2.1 1 -3.8 -7.7 2 -1zM371.9 469.9l-2 1 -4 -8 2 -1zM307.8 502.6l-2 1 -4.6 -9.2 2 -1zM295.7 508.7l-2 1 -4.7 -9.3 2.1 -1zM267.7 523l-10.1 5.1 -5 -10 10.2 -4.9zM255.6 529.1l-2 1.1 -5 -10.1 2 -1zM231.6 541.4l-2 1 -5.3 -10.5 2.1 -1zM109.3 603.7l-2 1 -6.3 -12.6 2 -1zM93.3 611.9l-8.1 4.1 -6.5 -13.1 8.1 -3.9zM661.2 318.9l-2.1 1 -1.4 -3 2 -1zM655.1 321.8l-10.1 5 -1.6 -3.3 10.2 -4.7zM444.8 424.4l-14.2 6.9 -3.3 -7 14.3 -6.6zM363.9 463.9l-4.1 1.9 -3.9 -8.2 4.1 -1.9zM293.1 498.4l-4.1 2 -4.5 -9.5 4.1 -1.9zM262.8 513.2l-2.1 1 -4.7 -10 2 -1zM236.5 526l-4.1 2 -5 -10.5 4.1 -1.9zM147.5 569.4l-4.1 2 -5.7 -12 4.1 -1.9zM121.2 582.2l-2 1 -6 -12.4 2.1 -1zM653.6 318.8l-6.1 2.8 -1.4 -3.2 6.1 -2.7zM459.9 409.1l-2 1 -3 -6.5 2.1 -1zM439.5 418.6l-2 1 -3.2 -6.9 2.1 -0.9zM388.5 442.4l-2 0.9 -3.5 -7.7 2 -0.9zM264.1 500.4l-4 1.9 -4.6 -10 4.1 -1.8zM249.9 507.1l-2.1 0.9 -4.6 -10.2 2 -0.9zM646.1 318.4l-2.1 1 -1.4 -3.3 2.1 -0.9zM450.8 405.4l-12.3 5.5 -3 -6.9 12.4 -5.2zM434.3 412.7l-2 0.9 -3 -6.9 2 -0.9zM387.1 433.8l-2.1 0.9 -3.4 -7.8 2.1 -0.9zM311 467.6l-2 0.9 -4 -9.1 2.1 -0.9zM294.6 474.9l-4.1 1.9 -4.1 -9.5 4.1 -1.7zM288.4 477.7l-2 0.9 -4.2 -9.5 2.1 -0.9zM269.9 485.9l-2 0.9 -4.3 -9.8 2.1 -0.9zM447.9 398.8l-2.1 0.8 -2.7 -6.7 2 -0.8zM443.8 400.5l-10.4 4.4 -2.9 -6.9 10.5 -4.2zM346.4 441.8l-2 0.9 -3.6 -8.5 2.1 -0.8zM288.4 466.5l-6.2 2.6 -3.9 -9.6 6.2 -2.5zM259.4 478.8l-2 0.8 -4.2 -10 2.1 -0.8zM434.7 396.3l-2.1 0.8 -2.7 -6.9 2.1 -0.8zM420.1 402.2l-2.1 0.8 -2.8 -7.2 2.1 -0.8zM386.7 415.7l-2.1 0.8 -3 -7.8 2.1 -0.8zM345 432.5l-2.1 0.9 -3.3 -8.5 2.1 -0.8zM338.8 435.1l-6.3 2.5 -3.4 -8.7 6.3 -2.4zM299.1 451.1l-2.1 0.8 -3.6 -9.3 2.1 -0.8zM276.2 460.4l-2.1 0.8 -3.8 -9.7 2.1 -0.8zM257.4 467.9l-2.1 0.9 -4 -10.1 2.1 -0.8zM446.7 383.8l-4.2 1.6 -2.5 -6.8 4.2 -1.5zM432 389.4l-2.1 0.8 -2.6 -7 2.1 -0.8zM419.4 394.2l-2.1 0.8 -2.7 -7.2 2.1 -0.7zM381.6 408.7l-4.2 1.7 -3 -7.9 4.3 -1.6zM327 429.7l-4.2 1.6 -3.3 -8.8 4.2 -1.6zM320.7 432.1l-2.1 0.8 -3.4 -8.9 2.1 -0.8zM312.3 435.4l-2.1 0.8 -3.4 -9.1 2.1 -0.8zM291.3 443.4l-2.1 0.8 -3.6 -9.4 2.1 -0.8zM272.4 450.7l-2.1 0.8 -3.7 -9.8 2.1 -0.8zM268.2 452.3l-2.1 0.8 -3.7 -9.9 2.1 -0.7zM249.2 459.5l-4.2 1.7 -3.8 -10.3 4.3 -1.5zM425.2 384l-2.1 0.8 -2.6 -7.2 2.2 -0.7zM420.9 385.5l-4.2 1.6 -2.5 -7.3 4.2 -1.4zM380.8 400.1l-2.1 0.8 -2.8 -7.9 2.1 -0.7zM319.5 422.5l-12.7 4.6 -3.3 -9.2 12.8 -4.4zM304.7 427.8l-4.3 1.6 -3.3 -9.3 4.3 -1.4zM298.3 430.2l-2.1 0.7 -3.3 -9.3 2.1 -0.7zM294.1 431.7l-2.1 0.8 -3.4 -9.4 2.2 -0.8zM268.7 440.9l-10.6 3.9 -3.5 -10 10.6 -3.7zM243.3 450.2l-2.1 0.7 -3.6 -10.3 2.1 -0.7zM429 374.7l-4.2 1.5 -2.4 -7.1 4.3 -1.4zM422.7 376.9l-8.5 2.9 -2.5 -7.2 8.6 -2.8zM412 380.6l-2.1 0.7 -2.5 -7.3 2.2 -0.7zM403.5 383.5l-4.2 1.5 -2.6 -7.6 4.3 -1.3zM386.5 389.4l-2.1 0.7 -2.6 -7.8 2.1 -0.7zM301.4 418.7l-6.4 2.2 -3.1 -9.4 6.4 -2.1zM292.9 421.6l-2.1 0.7 -3.2 -9.4 2.2 -0.7zM267.4 430.4l-8.5 2.9 -3.4 -10 8.6 -2.7zM405.3 374.7l-19.3 6.2 -2.4 -7.7 19.4 -5.9zM294 410.8l-6.4 2.1 -3 -9.5 6.5 -1.9zM266.2 419.9l-2.1 0.7 -3.1 -9.9 2.1 -0.7zM396.5 369.2l-10.7 3.3 -2.3 -7.7 10.8 -3.1zM278.2 405.4l-6.5 2 -2.9 -9.8 6.5 -1.8zM254.5 412.6l-2.2 0.7 -2.9 -10.1 2.1 -0.6zM248 414.6l-2.1 0.7 -3 -10.2 2.1 -0.7zM649.5 288.5l-2.2 0.6 -0.9 -3.2 2.2 -0.6zM396.4 361l-2.1 0.7 -2.1 -7.6 2.1 -0.6zM392.1 362.3l-2.2 0.6 -2.1 -7.7 2.2 -0.6zM262.3 399.5l-2.1 0.6 -2.8 -9.9 2.2 -0.6zM251.5 402.6l-2.1 0.6 -2.9 -10.1 2.2 -0.6zM648.6 285.3l-2.2 0.6 -0.8 -3.2 2.2 -0.5zM392.2 354.1l-2.2 0.5 -2 -7.6 2.2 -0.6zM329.1 370.9l-2.1 0.6 -2.3 -8.8 2.2 -0.5zM246.5 393.1l-2.1 0.6 -2.7 -10.3 2.2 -0.5zM643.4 283.3l-4.3 1.1 -0.8 -3.4 4.4 -1zM350.9 356.2l-2.2 0.6 -2 -8.4 2.2 -0.6zM318.1 364.4l-6.5 1.6 -2.2 -9 6.6 -1.6zM644.8 279.5l-2.1 0.5 -0.8 -3.2 2.2 -0.5zM638.3 281l-2.2 0.5 -0.8 -3.3 2.2 -0.5zM377.4 341.3l-2.2 0.5 -1.8 -8 2.2 -0.4zM368.6 343.3l-2.2 0.5 -1.8 -8.1 2.2 -0.5zM335.7 350.9l-2.2 0.5 -1.9 -8.7 2.2 -0.4zM318.2 354.9l-4.4 1 -2 -9 4.4 -0.9zM311.6 356.4l-4.4 1.1 -2 -9.2 4.4 -0.9zM406.4 326.8l-2.2 0.5 -1.5 -7.4 2.2 -0.5zM399.8 328.2l-2.2 0.5 -1.5 -7.6 2.2 -0.4zM382.2 332l-2.2 0.4 -1.6 -7.8 2.2 -0.4zM371.2 334.3l-2.2 0.5 -1.6 -8.1 2.2 -0.4zM276.6 354.4l-4.4 1 -2 -9.8 4.4 -0.8zM639.1 273.9l-4.5 0.9 -0.6 -3.4 4.4 -0.8zM402.7 319.9l-8.8 1.7 -1.4 -7.6 8.8 -1.6zM391.7 322l-4.4 0.9 -1.5 -7.8 4.5 -0.7zM371.8 325.9l-4.4 0.8 -1.5 -8 4.4 -0.8zM351.9 329.7l-2.2 0.5 -1.5 -8.4 2.2 -0.4zM325.4 334.9l-2.2 0.4 -1.6 -8.8 2.2 -0.4zM290.1 341.8l-2.2 0.4 -1.8 -9.5 2.2 -0.4zM279 343.9l-4.4 0.9 -1.8 -9.7 4.5 -0.8zM401.3 312.4l-2.2 0.4 -1.2 -7.5 2.2 -0.4zM361.5 319.4l-2.3 0.4 -1.3 -8.2 2.2 -0.3zM357 320.2l-2.2 0.4 -1.4 -8.3 2.3 -0.3zM352.6 321l-6.6 1.2 -1.5 -8.5 6.7 -1zM297.2 330.8l-6.6 1.1 -1.6 -9.4 6.6 -1zM288.3 332.3l-8.8 1.6 -1.6 -9.6 8.9 -1.4zM270.6 335.5l-4.4 0.7 -1.7 -9.8 4.5 -0.7zM393.4 306l-2.2 0.3 -1.1 -7.6 2.2 -0.3zM384.5 307.4l-2.2 0.3 -1.1 -7.8 2.2 -0.3zM357.9 311.6l-13.4 2.1 -1.2 -8.4 13.3 -1.9zM363.3 302.4l-2.2 0.4 -1.1 -8.2 2.3 -0.3zM347.7 304.6l-4.4 0.7 -1.1 -8.5 4.4 -0.6zM706.2 252.1l-6.7 0.8 -0.3 -2.3 6.7 -0.7zM353.3 295.4l-4.4 0.6 -1 -8.4 4.5 -0.5zM712.6 249.2l-13.4 1.4 -0.2 -2.2 13.4 -1.2zM265.1 296.3l-2.2 0.2 -1 -9.9 2.3 -0.2zM708 247.6l-4.5 0.4 -0.2 -2.2 4.5 -0.3zM696.8 248.6l-2.3 0.2 -0.2 -2.4 2.3 -0.1zM692.3 249l-4.5 0.4 -0.2 -2.5 4.5 -0.3zM705.6 245.6l-2.3 0.2 -0.1 -2.2 2.2 -0.1zM696.6 246.3l-6.8 0.4 -0.1 -2.4 6.7 -0.4zM705.4 243.5l-2.2 0.1 -0.1 -2.2 2.2 -0.1zM700.9 243.7l-11.2 0.6 -0.1 -2.4 11.2 -0.4zM80.8 276.2l-2.3 0.1 -0.5 -13.1 2.2 -0.1zM76.3 276.4l-6.8 0.4 -0.5 -13.3 6.7 -0.2zM365.8 253.2l-2.3 0.1 -0.2 -8.2 2.3 0zM359 253.4l-4.5 0.2 -0.2 -8.3 4.5 -0.1zM98.2 262.5l-4.5 0.2 -0.3 -12.9 4.5 0zM84.7 263l-2.2 0.1 -0.4 -13.1 2.3 0zM75.7 263.3l-6.7 0.2 -0.4 -13.2 6.8 -0.1zM361.1 245.2l-2.3 0 0 -8.2 2.2 0zM352.1 245.3l-2.3 0.1 0 -8.4 2.2 0zM259.8 246.9l-2.2 0.1 -0.1 -10 2.3 0zM104.6 249.6l-15.7 0.3 -0.1 -12.9 15.7 0zM86.6 250l-20.2 0.3 -0.2 -13.3 20.3 0zM113.5 237l-2.3 0 0.2 -12.5 2.2 0zM102.2 237l-2.2 0 0.1 -12.7 2.3 0zM253.1 226.9l-6.8 -0.1 0.3 -10.1 6.8 0.2zM181.1 225.7l-6.8 -0.1 0.3 -11.5 6.8 0.3zM118.1 224.6l-2.2 0 0.3 -12.5 2.2 0.1zM106.9 224.4l-4.5 -0.1 0.3 -12.7 4.5 0.2zM185.9 214.5l-2.3 0 0.5 -11.3 2.3 0.1zM179.1 214.3l-4.5 -0.2 0.5 -11.4 4.5 0.3zM118.4 212.2l-4.5 -0.2 0.6 -12.4 4.5 0.2zM181.9 203.1l-11.2 -0.6 0.7 -11.5 11.2 0.8zM168.4 202.4l-22.5 -1.2 0.8 -11.9 22.4 1.6zM141.4 201l-17.9 -1 0.7 -12.3 18 1.3zM121.2 199.9l-6.7 -0.3 0.7 -12.5 6.8 0.5zM110 199.3l-2.3 -0.1 0.8 -12.6 2.3 0.2zM151.2 189.6l-2.3 -0.2 0.9 -11.8 2.3 0.2zM137.7 188.7l-11.2 -0.8 0.9 -12.3 11.2 1zM99.5 186l-6.7 -0.5 1 -12.8 6.7 0.6zM665.4 222.7l-2.3 -0.2 0.3 -2.9 2.2 0.2zM152.1 177.8l-2.3 -0.2 1.2 -11.9 2.2 0.3zM136.4 176.4l-11.2 -1 1.2 -12.2 11.2 1.1zM151 165.7l-2.3 -0.2 1.4 -11.9 2.2 0.3zM142 164.8l-2.2 -0.2 1.4 -12.1 2.2 0.3zM137.6 164.3l-9 -0.9 1.4 -12.2 8.9 1.1zM124.1 162.9l-2.2 -0.2 1.4 -12.3 2.2 0.2zM117.4 162.2l-2.2 -0.2 1.4 -12.5 2.2 0.3zM154.6 154.2l-2.3 -0.3 1.6 -11.8 2.2 0.3zM150.1 153.6l-15.6 -1.9 1.6 -12.1 15.6 2.2zM140.5 140.2l-8.9 -1.2 1.8 -12.2 8.9 1.4zM118.2 137.1l-2.2 -0.3 1.9 -12.4 2.2 0.3zM113.8 136.5l-2.2 -0.3 1.8 -12.5 2.2 0.3zM664.5 211l-4.4 -0.8 0.5 -2.9 4.4 0.8zM655.7 209.5l-4.5 -0.7 0.5 -3.1 4.5 0.8zM151.2 129.6l-4.4 -0.7 1.9 -11.8 4.5 0.7zM126.8 125.8l-2.3 -0.4 2.1 -12.3 2.2 0.4zM115.6 124l-2.2 -0.3 2.1 -12.5 2.2 0.4zM667.2 208.5l-2.2 -0.4 0.6 -2.9 2.2 0.5zM658.4 206.9l-6.7 -1.2 0.6 -3 6.6 1.2zM614.1 199.1l-4.5 -0.8 0.7 -3.8 4.5 0.9zM605.2 197.5l-2.2 -0.4 0.7 -3.9 2.2 0.4zM137.7 115.1l-2.3 -0.4 2.3 -12.1 2.2 0.5zM126.6 113.1l-4.4 -0.7 2.2 -12.4 4.5 0.9zM117.7 111.6l-6.6 -1.2 2.3 -12.5 6.6 1.3zM108.9 110l-2.3 -0.4 2.4 -12.6 2.2 0.5zM670 206.1l-4.4 -0.9 0.5 -2.8 4.4 0.9zM661.1 204.4l-2.2 -0.5 0.6 -2.9 2.2 0.4zM617 195.8l-4.4 -0.9 0.7 -3.7 4.4 0.9zM610.3 194.5l-4.4 -0.9 0.8 -3.8 4.4 0.9zM144.3 103.9l-2.2 -0.4 2.4 -12 2.2 0.5zM137.7 102.6l-11.1 -2.1 2.5 -12.3 11 2.4zM120 99.2l-4.4 -0.9 2.5 -12.4 4.4 0.9zM668.3 202.9l-2.2 -0.5 0.7 -2.9 2.2 0.6zM142.3 91l-4.4 -0.9 2.7 -12 4.4 1zM113.7 85l-8.8 -1.9 2.8 -12.6 8.8 2zM145 79.1l-4.4 -1 2.9 -12 4.4 1.1zM116.5 72.5l-4.4 -1 3 -12.5 4.4 1.1zM107.7 70.5l-2.2 -0.5 3.1 -12.6 2.1 0.5zM246.1 91.7l-13.1 -3.3 2.7 -10.4 13 3.5zM156.6 69.3l-10.9 -2.7 3 -11.9 10.9 2.9zM130.4 62.8l-4.4 -1.1 3.2 -12.2 4.3 1.2zM121.7 60.6l-4.4 -1 3.2 -12.4 4.3 1.1zM115.1 59l-4.4 -1.1 3.3 -12.5 4.3 1.2zM329.1 103.1l-2.1 -0.6 2.4 -8.8 2.1 0.7zM248.7 81.5l-4.3 -1.2 2.8 -10.1 4.3 1.2zM242.2 79.8l-2.2 -0.6 2.9 -10.3 2.1 0.7zM161.8 58.2l-4.4 -1.1 3.3 -11.7 4.3 1.2zM155.3 56.5l-2.2 -0.6 3.3 -11.8 2.1 0.6zM150.9 55.3l-2.2 -0.6 3.3 -11.8 2.2 0.6zM146.6 54.1l-4.4 -1.1 3.3 -12 4.4 1.3zM137.9 51.8l-6.5 -1.7 3.3 -12.2 6.5 1.9zM114 45.4l-10.9 -2.9 3.5 -12.6 10.8 3.1zM333.7 95l-2.2 -0.6 2.6 -8.7 2.2 0.7zM329.4 93.7l-2.2 -0.6 2.6 -8.7 2.2 0.6zM158.5 44.7l-2.1 -0.6 3.4 -11.7 2.2 0.7zM145.5 41l-15.1 -4.3 3.6 -12.2 15.1 4.6zM123.9 34.8l-8.6 -2.5 3.6 -12.4 8.7 2.6zM166.3 34.4l-4.3 -1.3 3.6 -11.6 4.3 1.4zM321.8 72.2l-6.4 -2.1 3 -8.9 6.4 2.2zM257.7 51.4l-4.3 -1.4 3.3 -10.1 4.3 1.5zM244.8 47.2l-2.1 -0.7 3.4 -10.2 2.1 0.7zM275.9 46.5l-2.2 -0.7 3.5 -9.7 2.1 0.8zM269.5 44.3l-4.3 -1.4 3.5 -9.8 4.2 1.5zM252.5 38.5l-4.3 -1.5 3.6 -10.1 4.2 1.6zM246.1 36.3l-4.3 -1.5 3.7 -10.2 4.2 1.5zM275.1 35.4l-2.2 -0.8 3.7 -9.7 2.1 0.8zM266.6 32.3l-4.2 -1.5 3.7 -9.9 4.2 1.6z"/><path fill="#4A7FB6" stroke="#4A7FB6" d="M1002 840.4l0.7 2.2 -10.6 2.9 -0.6 -2.1zM1008.9 864.2l0.6 2.2 -11 3 -0.6 -2.1zM1010.1 868.5l1.2 4.4 -11.1 3.1 -1.2 -4.4zM990.9 841.2l0.6 2.2 -10.6 2.7 -0.6 -2.2zM924.3 619.1l1 4.3 -6.7 1.6 -1 -4.3zM916.6 616.3l0.5 2.2 -6.7 1.4 -0.5 -2.2zM918.6 625l0.5 2.2 -6.8 1.5 -0.5 -2.2zM968.7 842.1l0.5 2.2 -10.6 2.3 -0.5 -2.2zM911.3 624.3l0.5 2.2 -6.8 1.4 -0.4 -2.2zM958.6 846.6l0.4 2.2 -10.6 2.2 -0.5 -2.2zM960.5 855.4l0.9 4.4 -10.9 2.3 -0.9 -4.5zM947.5 846.6l0.4 2.2 -10.7 2 -0.4 -2.2zM941.5 875.2l0.4 2.2 -11.2 1.8 -0.3 -2.2zM942.7 881.8l2.7 15.5 -11.5 1.9 -2.5 -15.5zM930.7 879.2l0.4 2.3 -11.3 1.6 -0.3 -2.2zM943 957l0.4 2.2 -12.6 1.9 -0.3 -2.2zM873.5 553.4l0.3 2.2 -5.6 0.8 -0.3 -2.3zM877.5 582.4l1.3 8.9 -6.2 0.8 -1.1 -8.9zM914.8 847.5l0.3 2.2 -10.7 1.4 -0.3 -2.2zM916.4 858.6l0.6 4.5 -10.9 1.4 -0.6 -4.4zM917.9 869.8l0.3 2.2 -11.1 1.5 -0.2 -2.3zM919.5 880.9l0.3 2.2 -11.3 1.5 -0.3 -2.2zM934.5 987.9l0.7 4.4 -13.2 1.8 -0.6 -4.5zM867.9 554.1l0.3 2.3 -5.6 0.6 -0.2 -2.3zM868.5 558.6l1.6 13.4 -5.8 0.7 -1.4 -13.5zM870.4 574.2l0.3 2.3 -6 0.6 -0.2 -2.2zM871 578.7l0.2 2.2 -6 0.7 -0.2 -2.2zM871.5 583.2l0.3 2.2 -6.1 0.7 -0.2 -2.3zM874.5 607.7l0.3 2.2 -6.5 0.8 -0.3 -2.2zM883.6 681.4l0.2 2.2 -7.8 0.9 -0.2 -2.2zM906.1 864.5l0.8 6.7 -11.1 1.3 -0.7 -6.7zM908 880.2l0.2 2.2 -11.2 1.3 -0.3 -2.2zM915.9 944.9l0.3 2.3 -12.4 1.4 -0.2 -2.3zM919.8 976.2l0.2 2.2 -12.9 1.5 -0.3 -2.2zM862.4 554.7l0.2 2.3 -5.6 0.5 -0.2 -2.2zM901.9 930.7l0.5 4.5 -12.2 1.1 -0.4 -4.5zM904 950.8l1 9 -12.7 1.2 -0.7 -9zM906.6 975.4l0.2 2.3 -12.9 1.2 -0.2 -2.2zM856.8 555.3l0.2 2.2 -5.6 0.5 -0.1 -2.3zM867.6 678.6l0.8 8.9 -7.9 0.6 -0.6 -8.9zM888.6 918.4l1 11.2 -12.1 1 -0.8 -11.3zM889.8 931.8l0.2 2.3 -12.2 0.9 -0.1 -2.2zM891.6 952l0.2 2.3 -12.6 0.9 -0.1 -2.2zM892.1 958.7l0.4 4.5 -12.6 1 -0.4 -4.5zM852.1 566.9l0.1 2.3 -5.8 0.3 -0.1 -2.2zM855.7 618.6l0.1 2.2 -6.7 0.4 -0.1 -2.2zM859.9 679.2l0.2 2.2 -7.8 0.5 -0.1 -2.3zM860.9 692.6l0.1 2.3 -8 0.5 -0.1 -2.3zM863.4 728.5l0.1 2.3 -8.6 0.5 -0.1 -2.2zM863.7 733l0.3 4.5 -8.7 0.6 -0.3 -4.5zM878.6 946.3l0.2 2.2 -12.5 0.8 -0.1 -2.3zM880.3 971l0.2 2.2 -12.9 0.8 -0.1 -2.3zM845.4 549.3l0.1 2.3 -5.5 0.2 -0.1 -2.2zM849 619l0.1 2.2 -6.7 0.3 -0.1 -2.2zM850.4 645.9l0.3 4.5 -7.3 0.3 -0.1 -4.4zM852.3 681.9l0.1 2.2 -7.8 0.4 -0.1 -2.3zM852.8 690.9l0.1 2.2 -8 0.4 0 -2.3zM854.8 729.1l0.1 2.2 -8.6 0.4 -0.1 -2.3zM855 733.6l0.3 4.5 -8.8 0.3 -0.1 -4.5zM865.6 935.8l0.3 4.5 -12.3 0.5 -0.2 -4.5zM867.5 971.7l0.1 2.3 -12.8 0.6 -0.1 -2.3zM867.7 976.2l0.2 2.3 -13 0.5 -0.1 -2.2zM839.7 542.8l0.1 4.5 -5.4 0.2 -0.1 -4.5zM840.5 565.3l0 2.2 -5.7 0.2 -0.1 -2.3zM841 581l0.1 2.3 -6.1 0.1 0 -2.2zM842.3 619.3l0.1 2.2 -6.7 0.2 0 -2.3zM843 637.3l0.2 6.7 -7.1 0.2 -0.1 -6.8zM843.3 646.3l0.1 2.2 -7.2 0.2 -0.1 -2.3zM844.6 684.5l0.1 2.2 -7.8 0.2 -0.1 -2.2zM852.9 920.6l0.1 4.5 -12 0.3 -0.1 -4.5zM853.1 927.3l0.3 9 -12.2 0.3 -0.1 -9zM853.6 940.8l0.1 4.5 -12.3 0.3 -0.1 -4.5zM854.4 963.3l0 2.3 -12.7 0.3 0 -2.3zM854.6 970.1l0.1 2.2 -12.9 0.3 0 -2.2zM854.9 979l0.1 2.3 -13 0.3 0 -2.2zM834.7 565.4l0.1 2.3 -5.8 0.1 0 -2.3zM834.9 574.4l0.2 11.3 -6.1 0.1 0 -11.3zM835.6 612.7l0 2.2 -6.6 0.1 0 -2.2zM835.8 628.4l0.2 9 -7 0.1 0 -9zM836.1 641.9l0 2.3 -7.1 0 0 -2.2zM836.6 673.4l0.1 2.3 -7.7 0.1 0 -2.3zM836.8 682.4l0.1 4.5 -7.9 0.1 0 -4.5zM836.9 689.2l0 2.2 -7.9 0.1 0 -2.3zM841.1 927.6l0 4.5 -12.1 0.1 0 -4.4zM841.2 934.4l0.1 4.5 -12.3 0.1 0 -4.5zM841.4 947.9l0 2.2 -12.4 0.1 0 -2.2zM841.6 961.4l0.1 4.5 -12.7 0.1 0 -4.5zM841.9 977.1l0.1 6.8 -13 0.1 0 -6.8zM829 567.8l0 4.4 -5.9 0 0.1 -4.5zM829 603.8l0 4.4 -6.5 0 0.1 -4.5zM829 615l0 6.8 -6.7 -0.1 0.1 -6.8zM829 651l0 2.2 -7.3 0 0.1 -2.3zM829 678l0 9 -7.9 -0.1 0.2 -9zM829 891.8l0 2.2 -11.5 -0.1 0.1 -2.2zM829 898.5l0 4.5 -11.6 -0.1 0.1 -4.5zM829 909.8l0 2.2 -11.8 -0.1 0.1 -2.3zM829 950.2l0 2.3 -12.5 -0.1 0.1 -2.3zM829 966l0 4.5 -12.8 -0.1 0.1 -4.5zM824.1 518.2l-0.1 4.5 -5 -0.1 0.2 -4.5zM824 525l-0.2 11.2 -5.2 -0.1 0.3 -11.3zM822.7 596.9l0 2.3 -6.3 -0.2 0 -2.2zM821.3 680.2l-0.1 2.2 -7.7 -0.2 0 -2.2zM817.6 891.7l-0.1 4.4 -11.5 -0.3 0.1 -4.4zM817.4 902.9l-0.1 2.2 -11.6 -0.3 0.1 -2.2zM817.3 907.4l0 2.2 -11.8 -0.3 0.1 -2.2zM817.2 911.9l0 2.2 -11.8 -0.3 0 -2.2zM815.8 992.9l0 2.2 -13.3 -0.3 0.1 -2.3zM819 522.6l-0.3 9 -5.1 -0.3 0.4 -8.9zM817.9 554.1l-0.1 2.2 -5.5 -0.2 0.1 -2.3zM817.2 574.3l-0.1 2.2 -5.9 -0.2 0.1 -2.3zM816.4 599l-0.1 2.3 -6.4 -0.3 0.1 -2.2zM814.9 639.5l-0.1 4.5 -7.1 -0.3 0.2 -4.5zM814.7 646.3l-0.1 2.2 -7.1 -0.3 0.1 -2.3zM806.6 877.9l-0.1 2.2 -11.2 -0.5 0.1 -2.2zM805.8 902.6l-0.1 2.2 -11.7 -0.5 0.1 -2.2zM804.4 940.8l-0.1 4.5 -12.4 -0.5 0.2 -4.5zM802.5 997l-0.2 4.5 -13.3 -0.5 0.2 -4.5zM802 1010.5l-0.1 2.3 -13.5 -0.6 0.1 -2.3zM800.7 1048.8l-0.2 4.5 -14.2 -0.7 0.2 -4.5zM800.3 1057.7l-0.1 4.5 -14.4 -0.6 0.2 -4.5zM800.1 1064.5l-0.1 2.2 -14.5 -0.6 0.2 -2.2zM814.3 517.9l-1.1 20.2 -5.2 -0.3 1.4 -20.2zM813.1 540.3l-0.1 2.3 -5.3 -0.3 0.1 -2.3zM812.5 551.6l-0.2 4.5 -5.6 -0.4 0.3 -4.5zM811 580.8l-0.1 2.2 -6.1 -0.3 0.2 -2.3zM807.1 654.9l-0.1 2.3 -7.4 -0.5 0.2 -2.2zM795.4 877.4l-0.1 2.2 -11.2 -0.7 0.2 -2.2zM788 1018.9l-0.8 15.8 -13.9 -0.9 1.1 -15.7zM787.1 1036.9l-0.1 2.2 -14 -0.8 0.1 -2.3zM786.1 1054.9l-0.2 4.5 -14.3 -0.9 0.3 -4.5zM808.9 524.3l-0.1 2.2 -5.1 -0.4 0.2 -2.2zM808.6 528.8l-0.2 2.2 -5.1 -0.4 0.2 -2.2zM808 537.8l-0.2 2.2 -5.3 -0.4 0.2 -2.2zM801.2 634.3l-0.5 6.7 -7 -0.5 0.6 -6.8zM800.6 643.3l-0.3 4.4 -7.2 -0.5 0.4 -4.5zM807.2 485.8l-0.4 4.5 -4.4 -0.4 0.5 -4.5zM803.3 530.6l-0.2 2.3 -5.1 -0.5 0.2 -2.3zM796.8 604.6l-0.4 4.5 -6.4 -0.6 0.4 -4.5zM796.3 611.3l-0.2 2.3 -6.6 -0.7 0.2 -2.2zM794.1 636l-0.2 2.2 -7 -0.7 0.2 -2.2zM792.1 658.4l-0.4 4.5 -7.4 -0.7 0.5 -4.5zM798.7 525.7l-0.5 4.4 -5.1 -0.5 0.5 -4.5zM791.6 592.8l-0.2 2.2 -6.3 -0.7 0.3 -2.2zM790.9 599.5l-0.2 2.2 -6.4 -0.7 0.3 -2.2zM790 608.5l-1 8.9 -6.6 -0.8 1.1 -8.9zM786.4 642l-0.2 2.3 -7.1 -0.9 0.3 -2.2zM785.7 648.7l-0.2 2.3 -7.2 -0.9 0.2 -2.2zM784.8 657.7l-0.7 6.7 -7.5 -0.9 0.8 -6.7zM755.6 935.2l-0.4 4.4 -12.3 -1.4 0.5 -4.4zM785.1 594.3l-0.2 2.2 -6.3 -0.8 0.3 -2.2zM782.4 616.6l-1.1 9 -6.8 -0.9 1.3 -8.9zM779.6 639l-0.8 6.7 -7.1 -1 0.9 -6.6zM778.5 647.9l-0.5 4.5 -7.2 -1 0.6 -4.4zM777.7 654.6l-0.5 4.5 -7.4 -1 0.6 -4.4zM776.9 661.3l-1.1 8.9 -7.5 -0.9 1.2 -9zM744 929.3l-0.6 4.5 -12.1 -1.6 0.6 -4.5zM779.8 586.8l-0.9 6.7 -6.2 -0.9 1 -6.7zM775.1 620.2l-0.3 2.3 -6.7 -1 0.4 -2.3zM774.5 624.7l-0.3 2.2 -6.8 -1 0.4 -2.2zM773.6 631.4l-1 6.7 -7 -1.1 1.1 -6.7zM772 642.5l-0.3 2.2 -7.1 -1 0.3 -2.2zM770.8 651.4l-0.4 2.3 -7.2 -1.1 0.3 -2.3zM730.7 936.6l-0.7 4.5 -12.2 -1.9 0.7 -4.4zM773.4 588.1l-0.4 2.2 -6.1 -1 0.4 -2.2zM766 634.8l-1.1 6.7 -7 -1.2 1.2 -6.7zM764.2 645.9l-0.3 2.2 -7.2 -1.2 0.4 -2.2zM763.5 650.3l-0.7 4.5 -7.3 -1.2 0.8 -4.5zM766.5 591.5l-0.4 2.2 -6.2 -1.1 0.4 -2.2zM754.7 619.1l-0.4 2.2 -6.7 -1.4 0.5 -2.2zM753.9 623.5l-0.5 2.2 -6.7 -1.4 0.4 -2.2zM692 941.6l-0.4 2.2 -12.3 -2.5 0.5 -2.2zM753.2 593.5l-0.5 2.2 -6.2 -1.3 0.5 -2.2zM742.5 644.2l-1 4.4 -7.1 -1.6 1 -4.4zM737.8 666.2l-1.4 6.6 -7.6 -1.7 1.5 -6.6zM728.4 710.2l-0.4 2.2 -8.3 -1.9 0.5 -2.1zM727 716.8l-0.9 4.4 -8.5 -1.9 1.1 -4.4zM747 592.2l-1.5 6.5 -6.3 -1.5 1.6 -6.5zM735.9 640.4l-1.5 6.6 -7.2 -1.7 1.6 -6.6zM720.7 706.2l-2.5 10.9 -8.4 -2 2.7 -10.9zM717.6 719.3l-1 4.4 -8.4 -2 1 -4.4zM742.5 584.1l-0.6 2.2 -6.1 -1.6 0.6 -2.1zM741.4 588.5l-0.6 2.2 -6.1 -1.6 0.5 -2.2zM739.7 595l-1.6 6.6 -6.4 -1.7 1.8 -6.5zM724.5 656.2l-0.6 2.2 -7.3 -1.9 0.6 -2.2zM722.3 664.9l-1.6 6.5 -7.6 -1.9 1.8 -6.5zM714.7 695.5l-1.1 4.3 -8.1 -2.1 1.2 -4.3zM713.1 702l-1.1 4.4 -8.2 -2.1 1.2 -4.4zM711.4 708.6l-0.5 2.1 -8.3 -2.1 0.6 -2.2zM709.2 717.3l-0.5 2.2 -8.4 -2.2 0.6 -2.2zM703.3 741.3l-0.6 2.2 -8.8 -2.3 0.6 -2.2zM651 950.9l-0.5 2.2 -12.5 -3.2 0.6 -2.2zM721.3 639.1l-0.6 2.1 -7.1 -1.9 0.7 -2.2zM713.7 667.3l-0.6 2.2 -7.5 -2.1 0.6 -2.2zM709.6 682.5l-0.6 2.2 -7.8 -2.2 0.7 -2.1zM703.2 706.4l-1.7 6.6 -8.3 -2.3 1.8 -6.5zM700.9 715.1l-1.2 4.4 -8.4 -2.3 1.3 -4.4zM694.5 739l-1.8 6.6 -8.8 -2.5 1.8 -6.5zM713.6 639.3l-3.1 10.8 -7.1 -2.1 3.2 -10.8zM705.6 667.4l-0.6 2.2 -7.6 -2.3 0.7 -2.1zM703.1 676.1l-0.6 2.1 -7.7 -2.3 0.7 -2.1zM693.8 708.5l-1.2 4.3 -8.3 -2.4 1.3 -4.3zM684.5 740.9l-1.2 4.4 -8.9 -2.7 1.3 -4.3zM709.3 628.6l-2 6.5 -6.9 -2.2 2.1 -6.4zM705.3 641.5l-0.6 2.2 -7.1 -2.3 0.7 -2.1zM697.4 667.3l-1.3 4.3 -7.5 -2.3 1.3 -4.3zM695.5 673.8l-1.4 4.3 -7.6 -2.4 1.4 -4.3zM683.6 712.5l-0.6 2.2 -8.4 -2.6 0.7 -2.2zM703.2 624.3l-1.4 4.3 -6.9 -2.3 1.5 -4.2zM696.2 645.7l-0.7 2.2 -7.1 -2.4 0.7 -2.2zM694.1 652.1l-2.1 6.5 -7.3 -2.5 2.2 -6.4zM689.9 665l-0.7 2.1 -7.4 -2.5 0.7 -2.1zM687.2 673.5l-0.7 2.2 -7.7 -2.6 0.8 -2.1zM665.6 739.9l-1.4 4.3 -8.8 -3 1.5 -4.3zM697.1 619.9l-0.7 2.2 -6.7 -2.4 0.8 -2.1zM692 634.8l-1.4 4.3 -7 -2.5 1.5 -4.2zM689.1 643.3l-1.5 4.3 -7.1 -2.5 1.5 -4.3zM686.2 651.8l-1.5 4.3 -7.3 -2.6 1.5 -4.2zM661.3 724.2l-0.8 2.1 -8.5 -3 0.8 -2.1zM593.1 922l-1.4 4.3 -12 -4.3 1.5 -4.2zM572.6 981.6l-0.7 2.1 -13 -4.6 0.8 -2.1zM571.2 985.9l-0.8 2.1 -13 -4.6 0.7 -2.2zM565.3 1002.9l-0.7 2.1 -13.4 -4.7 0.8 -2.1zM690.5 617.6l-1.6 4.2 -6.7 -2.5 1.7 -4.2zM687.4 626l-3.1 8.5 -6.9 -2.6 3.2 -8.4zM676.6 655.6l-0.7 2.1 -7.4 -2.7 0.8 -2.1zM655.1 714.8l-5.4 14.8 -8.6 -3.2 5.7 -14.7zM648.2 733.9l-1.6 4.2 -8.7 -3.3 1.6 -4.2zM582 915.7l-2.3 6.3 -12 -4.4 2.5 -6.3zM558.9 979.1l-2.3 6.4 -13 -4.9 2.4 -6.3zM555.8 987.6l-0.8 2.1 -13.1 -4.9 0.9 -2.1zM683.1 617.2l-6.5 16.8 -6.9 -2.7 6.7 -16.7zM571.8 907.1l-0.8 2.1 -11.7 -4.6 0.8 -2.1zM568.6 915.5l-0.9 2.1 -11.8 -4.7 0.9 -2.1zM546.8 972.2l-1.6 4.2 -12.9 -5.1 1.7 -4.1zM539.5 991.1l-1.6 4.2 -13.2 -5.2 1.7 -4.2zM683.2 597.9l-0.9 2.1 -6.3 -2.6 0.9 -2.1zM680.7 604.2l-0.9 2.1 -6.4 -2.7 0.9 -2.1zM677.3 612.5l-3.4 8.4 -6.7 -2.8 3.6 -8.3zM667.2 637.5l-0.9 2.1 -7 -2.9 0.9 -2zM659.6 656.3l-0.9 2.1 -7.3 -3 0.9 -2.1zM535.7 963l-1.7 4.2 -12.7 -5.3 1.8 -4.1zM533.2 969.2l-0.9 2.1 -12.8 -5.3 0.9 -2zM525.6 988l-0.9 2.1 -13.1 -5.4 0.9 -2.1zM496.9 1058.9l-0.8 2.1 -14.4 -5.9 0.9 -2.1zM660.2 634.7l-0.9 2 -6.9 -3 0.9 -2zM520.4 964l-1.7 4.1 -12.8 -5.5 1.9 -4.1zM511.6 984.7l-0.9 2.1 -13 -5.7 0.9 -2.1zM487 1042.7l-2.6 6.2 -14.1 -6.2 2.7 -6.1zM666.1 602.9l-2.7 6.1 -6.5 -2.9 2.8 -6.1zM652.4 633.7l-5.5 12.3 -7.1 -3.2 5.7 -12.2zM524.3 921.5l-1.9 4.1 -11.9 -5.5 1.9 -4zM514.2 944.1l-2.8 6.2 -12.4 -5.7 2.9 -6.1zM510.5 952.3l-0.9 2.1 -12.5 -5.7 1 -2.1zM498.6 979l-1.8 4.1 -13 -5.9 1.9 -4.1zM495.9 985.2l-0.9 2 -13.1 -5.9 1 -2zM652.1 616.3l-3.8 8.1 -6.7 -3.2 3.9 -8.1zM644.5 632.6l-2.8 6.1 -7 -3.3 3 -6.1zM512.4 916.1l-1.9 4 -11.9 -5.6 2 -4.1zM493.3 956.8l-1.9 4.1 -12.5 -6 1.9 -4zM484.8 975.2l-2.9 6.1 -12.9 -6.2 2.9 -6zM480 985.4l-0.9 2 -13.1 -6.2 1 -2zM653.4 597l-1 2 -6.2 -3.1 1 -2.1zM651.5 601l-1 2 -6.4 -3.1 1 -2zM641.6 621.2l-1 2.1 -6.7 -3.4 1 -2zM501.5 908.4l-0.9 2 -11.8 -5.8 1.1 -2zM485.8 940.8l-2 4 -12.3 -6.1 2 -4zM480.8 950.9l-1 2 -12.4 -6.2 1 -2zM475.9 961l-1 2 -12.6 -6.3 1 -2zM458.1 997.4l-0.9 2 -13.3 -6.6 1 -2zM697.2 495.6l-1 2 -4.5 -2.3 1 -2zM693.1 503.6l-2 4 -4.7 -2.4 2.1 -4zM645.1 597.9l-1 2 -6.3 -3.3 1.1 -2zM633.9 619.9l-4.1 8 -6.8 -3.5 4.2 -8zM460.2 960.7l-1 2 -12.6 -6.5 1.1 -2zM425.5 1028.9l-3 6 -13.9 -7.2 3.2 -6zM686.4 505.2l-3.2 6 -4.7 -2.6 3.2 -5.9zM642 588.6l-1 2 -6.2 -3.3 1.1 -2zM639.9 592.6l-7.4 13.9 -6.4 -3.5 7.6 -13.7zM623 624.4l-1 2 -6.8 -3.7 1.1 -2zM492 870.7l-1 2 -11.1 -6 1.1 -1.9zM449.8 950.2l-1.1 2 -12.4 -6.8 1.1 -1.9zM441.3 966.1l-1 2 -12.7 -6.9 1.1 -2zM438.2 972.1l-1.1 1.9 -12.8 -6.9 1.1 -2zM436.1 976l-1.1 2 -12.9 -7 1.1 -1.9zM433.9 980l-2.1 4 -12.9 -7.1 2.1 -3.9zM420.2 1005.8l-3.2 6 -13.4 -7.3 3.3 -5.9zM414.9 1015.8l-1 1.9 -13.6 -7.3 1.1 -2zM408.6 1027.7l-1.1 2 -13.7 -7.5 1.1 -2zM680.6 504.6l-4.3 7.9 -4.8 -2.7 4.5 -7.8zM641.4 575.5l-1.1 1.9 -5.9 -3.3 1.1 -1.9zM614.1 624.7l-1.1 1.9 -6.8 -3.8 1.2 -1.9zM429.8 957.2l-2.2 4 -12.6 -7.1 2.2 -3.9zM414.5 984.8l-1.1 2 -13 -7.4 1.1 -1.9zM394.9 1020.2l-1.1 2 -13.7 -7.7 1.1 -2zM678.2 498.1l-1.1 2 -4.5 -2.7 1.1 -2zM605.1 624.8l-1.1 1.9 -6.8 -4 1.2 -1.9zM584.9 659.8l-1.1 2 -7.4 -4.4 1.1 -1.9zM469 860.5l-1.1 2 -10.9 -6.4 1.2 -1.9zM463.4 870.3l-1.2 1.9 -11 -6.5 1.2 -1.9zM410.5 961.9l-2.3 3.9 -12.6 -7.5 2.3 -3.9zM407.1 967.7l-2.2 3.9 -12.8 -7.5 2.3 -3.9zM399.2 981.3l-3.3 5.9 -13.1 -7.7 3.5 -5.8zM391.4 995l-4.5 7.8 -13.3 -7.8 4.6 -7.8zM353.1 1061.2l-1.1 2 -14.3 -8.5 1.1 -1.9zM350.9 1065.1l-1.2 2 -14.4 -8.5 1.2 -1.9zM606.5 607.3l-1.2 1.9 -6.4 -3.9 1.2 -1.9zM454.7 859.9l-1.2 2 -10.8 -6.7 1.2 -1.9zM446.6 873.4l-1.2 2 -11.1 -6.8 1.2 -1.9zM392.1 964.1l-1.1 1.9 -12.7 -7.7 1.2 -1.9zM374.7 993l-2.3 3.9 -13.2 -8.1 2.4 -3.8zM343.4 1045.1l-2.3 3.9 -14.1 -8.7 2.4 -3.8zM340 1050.9l-2.3 3.8 -14.2 -8.7 2.3 -3.8zM334.2 1060.5l-5.8 9.7 -14.5 -8.9 6 -9.5zM610.8 586.2l-1.2 1.9 -6.1 -3.9 1.2 -1.9zM608.4 590l-1.2 1.9 -6.1 -3.9 1.2 -1.9zM606 593.8l-4.7 7.6 -6.4 -4 4.9 -7.5zM600.1 603.4l-1.2 1.9 -6.4 -4.1 1.2 -1.9zM576.2 641.5l-2.4 3.8 -7 -4.5 2.4 -3.8zM428.4 878.1l-1.2 1.9 -11.2 -7.1 1.3 -1.9zM426 881.9l-1.2 1.9 -11.2 -7.1 1.2 -1.9zM371.1 969.7l-2.3 3.8 -12.8 -8.1 2.4 -3.8zM364 981.2l-1.2 1.9 -12.9 -8.3 1.2 -1.9zM354.5 996.4l-1.2 1.9 -13.2 -8.4 1.2 -1.9zM329.4 1036.5l-1.2 1.9 -13.9 -8.9 1.2 -1.8zM325.8 1042.2l-7.1 11.5 -14.2 -9.1 7.4 -11.3zM317.5 1055.6l-3.6 5.7 -14.3 -9.1 3.7 -5.7zM312.7 1063.2l-4.7 7.6 -14.5 -9.2 4.9 -7.5zM664.8 489.9l-1.2 1.8 -4.5 -2.9 1.3 -1.8zM612.1 571l-6.1 9.4 -6 -3.9 6.3 -9.3zM604.7 582.3l-4.9 7.6 -6.1 -4.1 5.1 -7.4zM576.6 625.7l-1.3 1.9 -6.7 -4.5 1.2 -1.8zM418.5 869.1l-2.5 3.8 -11 -7.3 2.5 -3.7zM358.4 961.6l-4.9 7.6 -12.7 -8.5 5.1 -7.4zM348.6 976.7l-1.2 1.9 -12.9 -8.5 1.3 -1.9zM330.2 1005l-2.4 3.8 -13.4 -8.9 2.5 -3.7zM309.4 1037.1l-6.1 9.4 -14.1 -9.3 6.3 -9.3zM302.1 1048.4l-2.5 3.8 -14.1 -9.4 2.5 -3.7zM297.2 1056l-4.9 7.5 -14.4 -9.5 5 -7.4zM288.6 1069.2l-1.2 1.9 -14.5 -9.6 1.2 -1.9zM664.2 481.4l-2.5 3.7 -4.3 -3 2.5 -3.7zM595 584l-5.1 7.4 -6.1 -4.2 5.2 -7.4zM588.7 593.3l-1.3 1.8 -6.2 -4.2 1.3 -1.9zM567.3 625l-1.3 1.9 -6.7 -4.7 1.3 -1.8zM325.7 983.1l-2.5 3.8 -13 -9 2.6 -3.7zM315.7 998.1l-2.6 3.7 -13.2 -9.1 2.6 -3.7zM306.9 1011.1l-3.8 5.6 -13.5 -9.3 3.8 -5.5zM301.8 1018.6l-1.2 1.8 -13.6 -9.3 1.3 -1.8zM293 1031.6l-5 7.5 -13.9 -9.6 5.1 -7.3zM276.7 1055.9l-3.8 5.6 -14.3 -9.9 3.8 -5.5zM271.6 1063.3l-5 7.5 -14.5 -9.9 5.2 -7.4zM647 496.9l-2.5 3.7 -4.6 -3.3 2.6 -3.6zM585.1 585.3l-1.3 1.9 -6.1 -4.3 1.3 -1.9zM568.3 609.3l-1.3 1.8 -6.5 -4.6 1.4 -1.8zM559.3 622.2l-1.3 1.8 -6.7 -4.7 1.3 -1.9zM409.6 836l-2.6 3.7 -10.5 -7.5 2.7 -3.6zM314.1 972.4l-3.9 5.5 -12.9 -9.1 4 -5.5zM306.3 983.5l-1.3 1.8 -12.9 -9.3 1.3 -1.8zM301.2 990.8l-1.3 1.9 -13.1 -9.4 1.3 -1.8zM296 998.2l-1.3 1.8 -13.2 -9.4 1.3 -1.8zM293.4 1001.9l-6.4 9.2 -13.5 -9.6 6.7 -9.1zM270.2 1035.1l-3.9 5.5 -13.9 -10 4 -5.4zM263.7 1044.3l-2.5 3.7 -14.1 -10.1 2.6 -3.6zM257.3 1053.5l-1.3 1.8 -14.2 -10.1 1.3 -1.8zM254.7 1057.2l-3.9 5.5 -14.3 -10.2 4 -5.5zM249.5 1064.5l-1.2 1.9 -14.4 -10.3 1.3 -1.8zM245.7 1070.1l-1.3 1.8 -14.5 -10.3 1.3 -1.8zM649.1 484.6l-2.6 3.6 -4.4 -3.2 2.7 -3.6zM643.8 491.8l-1.3 1.9 -4.4 -3.3 1.3 -1.8zM635.9 502.8l-1.3 1.8 -4.7 -3.5 1.4 -1.7zM610.8 537.3l-2.7 3.7 -5.2 -3.9 2.7 -3.6zM606.8 542.8l-2.6 3.6 -5.4 -3.9 2.7 -3.6zM553.9 615.6l-1.3 1.8 -6.6 -4.8 1.4 -1.8zM400.5 826.8l-1.3 1.8 -10.3 -7.6 1.4 -1.8zM396.5 832.2l-5.3 7.3 -10.4 -7.7 5.4 -7.2zM371.4 866.8l-1.3 1.8 -11 -8.1 1.4 -1.8zM368.8 870.5l-1.4 1.8 -11 -8.2 1.4 -1.8zM310.6 950.6l-2.7 3.6 -12.4 -9.2 2.7 -3.6zM270.9 1005.2l-1.3 1.8 -13.4 -9.9 1.4 -1.8zM227.3 1065.2l-1.4 1.9 -14.4 -10.7 1.4 -1.8zM628.6 502.9l-1.4 1.8 -4.6 -3.5 1.4 -1.8zM619.1 515.5l-1.3 1.8 -4.9 -3.7 1.4 -1.8zM601.5 538.9l-1.3 1.8 -5.3 -4.1 1.4 -1.7zM566.3 585.6l-5.4 7.2 -6.2 -4.7 5.6 -7.1zM550.1 607.2l-1.4 1.8 -6.4 -5 1.3 -1.8zM360.5 858.7l-4.1 5.4 -10.8 -8.3 4.1 -5.3zM355.1 865.9l-1.4 1.8 -10.9 -8.4 1.4 -1.7zM253.5 1000.7l-1.3 1.8 -13.3 -10.2 1.4 -1.8zM614.3 511.8l-1.4 1.8 -4.8 -3.8 1.4 -1.8zM597.7 533.1l-1.4 1.8 -5.2 -4.1 1.4 -1.8zM554.7 588.1l-2.7 3.5 -6.2 -4.9 2.8 -3.5zM546.4 598.7l-1.4 1.8 -6.3 -5 1.4 -1.8zM540.9 605.8l-1.4 1.8 -6.4 -5.1 1.4 -1.8zM471.6 694.4l-1.4 1.8 -7.9 -6.3 1.4 -1.8zM460.5 708.6l-1.4 1.8 -8.2 -6.5 1.5 -1.8zM455 715.7l-1.4 1.8 -8.3 -6.6 1.4 -1.8zM236.1 995.9l-1.4 1.7 -13.2 -10.5 1.5 -1.7zM632.2 480.1l-2.9 3.4 -4.2 -3.5 2.9 -3.4zM625.1 488.8l-1.4 1.7 -4.4 -3.6 1.4 -1.7zM616.6 499.3l-5.7 7 -4.6 -3.9 5.8 -6.9zM541.6 592l-4.3 5.2 -6.2 -5.1 4.3 -5.2zM535.9 599l-1.4 1.7 -6.3 -5.2 1.4 -1.7zM465.1 686.4l-4.3 5.2 -7.8 -6.5 4.3 -5.1zM400 766.8l-1.5 1.8 -9.2 -7.6 1.5 -1.7zM397.1 770.3l-2.8 3.5 -9.3 -7.7 2.9 -3.4zM387.2 782.6l-1.4 1.7 -9.5 -7.8 1.5 -1.7zM332 850.8l-1.4 1.7 -10.7 -8.8 1.5 -1.7zM327.7 856l-1.4 1.7 -10.7 -8.8 1.4 -1.7zM317.8 868.2l-1.4 1.8 -11 -9.1 1.5 -1.7zM629.4 474.9l-1.4 1.7 -4.2 -3.6 1.5 -1.7zM617.8 488.6l-1.4 1.8 -4.4 -3.8 1.5 -1.7zM534 588.6l-2.9 3.5 -6.2 -5.3 3 -3.4zM389.3 761l-1.4 1.7 -9.1 -7.8 1.5 -1.7zM380.7 771.3l-2.9 3.5 -9.4 -8 3 -3.4zM376.3 776.5l-2.9 3.4 -9.4 -8 3 -3.4zM364.7 790.3l-1.4 1.7 -9.6 -8.2 1.5 -1.7zM186.9 1002.3l-2.9 3.4 -13.4 -11.3 3 -3.4zM172.4 1019.5l-1.5 1.7 -13.5 -11.6 1.4 -1.7zM625.3 471.3l-4.4 5.1 -4.2 -3.6 4.5 -5.1zM612 486.6l-1.5 1.7 -4.3 -3.8 1.5 -1.7zM598.7 501.9l-1.5 1.7 -4.6 -4.1 1.5 -1.7zM564.8 541l-4.5 5.1 -5.3 -4.8 4.5 -5zM380.3 753.2l-1.5 1.7 -9 -7.9 1.5 -1.7zM372.9 761.7l-3 3.4 -9.1 -8.1 3 -3.3zM148.5 1019.8l-5.9 6.8 -13.7 -12.1 6 -6.7zM138.2 1031.7l-4.5 5.1 -13.8 -12.3 4.5 -5zM111.6 1062.3l-5.9 6.8 -14.4 -12.8 6 -6.7zM606.2 484.5l-1.5 1.6 -4.3 -3.9 1.5 -1.7zM592.6 499.5l-3 3.4 -4.6 -4.3 3.1 -3.2zM559.5 536.3l-3 3.3 -5.2 -4.8 3 -3.2zM449.6 658.4l-4.5 5 -7.4 -6.8 4.6 -4.9zM440.6 668.4l-1.5 1.7 -7.5 -6.9 1.5 -1.6zM369.8 747l-4.5 5 -8.9 -8.2 4.6 -4.9zM94.3 1053l-3 3.3 -14.2 -13 3.1 -3.3zM601.9 480.5l-1.5 1.7 -4.3 -4 1.6 -1.7zM588.1 495.4l-1.6 1.6 -4.5 -4.3 1.6 -1.6zM546.7 539.8l-4.7 4.9 -5.3 -5 4.7 -4.9zM540.5 546.4l-1.5 1.6 -5.4 -5.1 1.6 -1.6zM440.8 653.3l-3.1 3.3 -7.3 -6.9 3.2 -3.2zM436.2 658.3l-1.6 1.6 -7.3 -6.9 1.6 -1.7zM422.4 673.1l-1.6 1.6 -7.6 -7.2 1.6 -1.6zM411.6 684.6l-4.6 4.9 -7.8 -7.4 4.7 -4.9zM230.5 878.8l-1.5 1.6 -11.1 -10.6 1.5 -1.6zM227.5 882.1l-1.6 1.6 -11.2 -10.6 1.6 -1.6zM87.8 1031.8l-1.5 1.6 -13.8 -13 1.6 -1.7zM84.8 1035.1l-7.7 8.2 -14 -13.2 7.9 -8.1zM572.7 502.4l-1.6 1.7 -4.6 -4.6 1.6 -1.6zM569.5 505.7l-1.5 1.6 -4.7 -4.6 1.6 -1.6zM546.1 530l-1.6 1.6 -5.1 -5 1.6 -1.6zM427.3 653l-1.5 1.6 -7.3 -7.1 1.6 -1.6zM389.8 691.8l-1.6 1.6 -7.9 -7.7 1.6 -1.6zM307 777.6l-6.3 6.5 -9.5 -9.3 6.4 -6.4zM577.6 488.4l-3.2 3.2 -4.4 -4.5 3.3 -3.1zM572.9 493.1l-1.6 1.6 -4.5 -4.5 1.6 -1.6zM553.8 512.2l-1.6 1.6 -4.8 -4.8 1.6 -1.6zM539.4 526.6l-1.6 1.6 -5 -5.2 1.6 -1.5zM416.9 649.1l-1.6 1.6 -7.1 -7.3 1.6 -1.6zM394.7 671.3l-3.2 3.2 -7.6 -7.7 3.2 -3.1zM386.7 679.3l-3.2 3.2 -7.7 -7.9 3.3 -3.1zM289.7 776.3l-4.8 4.8 -9.4 -9.6 4.8 -4.6zM262.6 803.4l-1.6 1.6 -9.8 -10 1.6 -1.6zM251.5 814.5l-1.6 1.6 -10 -10.2 1.6 -1.5zM571.7 485.5l-1.7 1.6 -4.3 -4.6 1.7 -1.5zM547.4 509l-1.6 1.5 -4.8 -5 1.7 -1.5zM286.8 760.6l-3.2 3.1 -9.1 -9.6 3.2 -3zM256 790.3l-1.6 1.6 -9.6 -10.2 1.7 -1.5zM160.6 882.5l-1.7 1.6 -11.2 -11.8 1.7 -1.6zM564.1 484.1l-5 4.6 -4.3 -4.8 5 -4.5zM238.2 787.9l-6.5 6.1 -9.7 -10.5 6.7 -6zM593.2 449.3l-1.6 1.5 -3.7 -4.2 1.7 -1.5zM589.9 452.3l-3.4 3 -3.7 -4.3 3.4 -2.9zM554.8 483.9l-1.7 1.5 -4.3 -4.8 1.7 -1.5zM533 503.5l-1.6 1.5 -4.7 -5.2 1.7 -1.5zM432.7 593.8l-3.3 3 -6.2 -7 3.4 -3zM426 599.8l-1.6 1.5 -6.3 -7.1 1.7 -1.5zM170.2 830.2l-5 4.5 -10.3 -11.7 5 -4.4zM703.3 346.2l-5.1 4.5 -1.9 -2.3 5.2 -4.4zM589.6 445.1l-3.4 3 -3.7 -4.3 3.5 -2.9zM584.5 449.6l-1.7 1.4 -3.7 -4.3 1.7 -1.4zM570.9 461.4l-1.7 1.4 -3.9 -4.5 1.7 -1.5zM550.5 479.1l-1.7 1.5 -4.2 -5 1.7 -1.4zM538.6 489.4l-1.7 1.5 -4.4 -5.1 1.8 -1.5zM426.6 586.8l-3.4 3 -6.1 -7.1 3.4 -2.9zM419.8 592.7l-3.4 3 -6.2 -7.3 3.4 -2.8zM182 799.4l-1.7 1.5 -9.7 -11.4 1.7 -1.5zM175.2 805.3l-1.7 1.5 -9.8 -11.5 1.7 -1.5zM151.5 826l-3.4 2.9 -10.3 -11.9 3.5 -2.9zM699.7 345.5l-5.1 4.3 -2 -2.4 5.3 -4.2zM582.5 443.8l-1.7 1.5 -3.6 -4.4 1.8 -1.4zM579.1 446.7l-1.7 1.5 -3.7 -4.5 1.8 -1.4zM541.2 478.5l-6.9 5.8 -4.3 -5.2 7 -5.6zM418.8 581.2l-1.7 1.5 -6 -7.3 1.7 -1.4zM415.3 584.1l-1.7 1.5 -6 -7.4 1.7 -1.4zM406.7 591.3l-3.4 2.9 -6.2 -7.5 3.5 -2.8zM386 608.7l-6.9 5.8 -6.5 -7.9 7 -5.7zM377.4 615.9l-6.9 5.8 -6.6 -8.1 7 -5.6zM365.4 626l-1.8 1.5 -6.7 -8.2 1.7 -1.4zM174 786.6l-1.7 1.4 -9.5 -11.5 1.7 -1.4zM148.2 808.3l-3.5 2.9 -9.9 -12.1 3.5 -2.8zM692.6 347.4l-1.7 1.5 -2 -2.5 1.8 -1.4zM577.2 440.9l-1.7 1.4 -3.6 -4.4 1.8 -1.4zM568.5 448l-7 5.6 -3.8 -4.7 7.1 -5.5zM535.2 474.9l-3.5 2.8 -4.1 -5.2 3.5 -2.8zM477.5 521.6l-1.7 1.4 -5 -6.2 1.8 -1.4zM474 524.4l-1.7 1.5 -5 -6.3 1.8 -1.4zM430.3 559.8l-1.7 1.5 -5.6 -7.1 1.8 -1.4zM379.6 600.9l-1.7 1.4 -6.3 -7.9 1.7 -1.4zM369.1 609.4l-5.2 4.2 -6.5 -8.1 5.3 -4.2zM355.1 620.7l-1.7 1.4 -6.7 -8.3 1.8 -1.4zM264.2 694.4l-3.5 2.8 -7.9 -10 3.5 -2.8zM208.3 739.7l-5.3 4.2 -8.7 -11 5.3 -4.1zM201.3 745.3l-3.5 2.9 -8.9 -11.1 3.6 -2.8zM161 777.9l-1.7 1.4 -9.4 -11.8 1.8 -1.3zM138.3 796.3l-7 5.7 -9.7 -12.3 7.1 -5.5zM129.6 803.4l-1.8 1.4 -9.8 -12.3 1.8 -1.4zM115.6 814.7l-1.8 1.4 -10 -12.5 1.8 -1.4zM101.6 826l-5.3 4.3 -10.2 -12.9 5.3 -4.1zM697.8 339.5l-1.8 1.4 -1.8 -2.3 1.8 -1.4zM573.7 436.5l-3.6 2.7 -3.5 -4.5 3.6 -2.7zM568.4 440.6l-1.8 1.4 -3.5 -4.6 1.8 -1.3zM559.5 447.6l-7.1 5.5 -3.7 -4.9 7.2 -5.4zM525.8 473.9l-1.8 1.4 -4.1 -5.4 1.8 -1.4zM472.6 515.4l-1.8 1.4 -4.8 -6.3 1.8 -1.3zM462 523.7l-1.8 1.4 -5 -6.5 1.8 -1.3zM421.2 555.6l-1.8 1.4 -5.5 -7.2 1.8 -1.4zM410.6 563.9l-1.8 1.4 -5.7 -7.4 1.8 -1.3zM375.1 591.6l-1.8 1.4 -6.1 -8 1.8 -1.4zM348.5 612.4l-3.5 2.8 -6.6 -8.5 3.6 -2.7zM332.6 624.9l-1.8 1.4 -6.7 -8.8 1.8 -1.4zM323.7 631.8l-1.8 1.4 -6.8 -8.9 1.8 -1.4zM274 670.6l-1.7 1.4 -7.5 -9.8 1.8 -1.4zM267 676.1l-1.8 1.4 -7.6 -9.9 1.8 -1.4zM258.1 683l-8.9 7 -7.8 -10.2 9 -6.8zM247.4 691.4l-1.7 1.3 -7.9 -10.2 1.8 -1.4zM240.4 696.9l-1.8 1.4 -8 -10.4 1.8 -1.3zM142.8 773.1l-3.5 2.8 -9.3 -12.2 3.6 -2.7zM125.1 786.9l-3.5 2.8 -9.6 -12.4 3.6 -2.7zM96.7 809.1l-3.5 2.8 -9.9 -13 3.6 -2.7zM77.2 824.3l-3.5 2.8 -10.2 -13.3 3.6 -2.7zM546.9 449.6l-3.6 2.7 -3.7 -5 3.6 -2.7zM519.9 469.9l-1.8 1.4 -4 -5.5 1.8 -1.3zM460.6 514.6l-1.8 1.3 -4.8 -6.5 1.8 -1.3zM437.3 532.2l-1.8 1.3 -5.1 -6.9 1.8 -1.3zM433.7 534.9l-1.8 1.4 -5.2 -7 1.8 -1.3zM412.1 551.1l-1.8 1.4 -5.4 -7.4 1.8 -1.3zM367.2 585l-1.8 1.4 -6 -8.2 1.8 -1.3zM360 590.4l-1.8 1.4 -6.1 -8.3 1.8 -1.3zM351 597.2l-1.8 1.3 -6.2 -8.4 1.8 -1.3zM331.3 612.1l-5.4 4 -6.6 -8.8 5.5 -4zM313.3 625.6l-1.8 1.4 -6.7 -9.1 1.8 -1.3zM252.2 671.7l-5.4 4 -7.6 -10.2 5.5 -4zM232.4 686.6l-5.4 4 -7.8 -10.6 5.5 -3.9zM198.3 712.3l-1.8 1.3 -8.2 -11.1 1.8 -1.3zM169.5 733.9l-1.8 1.4 -8.6 -11.6 1.9 -1.3zM117.4 773.2l-5.4 4.1 -9.3 -12.6 5.5 -4zM692.5 336.2l-1.8 1.3 -1.8 -2.4 1.9 -1.3zM532.3 452.6l-1.8 1.3 -3.8 -5.3 1.9 -1.2zM515.9 464.5l-1.8 1.3 -4 -5.5 1.9 -1.3zM464.9 501.5l-1.8 1.3 -4.6 -6.4 1.9 -1.3zM450.4 512.1l-3.7 2.6 -4.7 -6.7 3.6 -2.6zM444.9 516.1l-1.8 1.3 -4.8 -6.8 1.8 -1.3zM441.3 518.7l-1.8 1.3 -4.9 -6.8 1.8 -1.3zM424.9 530.6l-1.8 1.3 -5.1 -7.1 1.8 -1.3zM397.6 550.4l-1.8 1.4 -5.5 -7.6 1.9 -1.3zM333.9 596.7l-1.8 1.3 -6.3 -8.7 1.9 -1.3zM326.6 602l-1.8 1.3 -6.3 -8.8 1.8 -1.3zM310.2 613.9l-1.8 1.3 -6.5 -9.1 1.8 -1.3zM299.3 621.9l-1.8 1.3 -6.7 -9.4 1.9 -1.3zM233.8 669.5l-5.5 3.9 -7.5 -10.5 5.5 -3.9zM226.5 674.8l-3.7 2.6 -7.5 -10.6 3.6 -2.6zM186.4 703.8l-3.6 2.7 -8.1 -11.4 3.7 -2.5zM181 707.8l-1.8 1.3 -8.2 -11.4 1.9 -1.3zM168.2 717.1l-1.8 1.3 -8.3 -11.6 1.9 -1.3zM164.6 719.7l-1.8 1.3 -8.4 -11.7 1.9 -1.3zM119.1 752.8l-1.8 1.3 -8.9 -12.5 1.8 -1.3zM687.1 336.4l-1.9 1.3 -1.7 -2.6 1.9 -1.2zM683.4 339l-1.8 1.2 -1.8 -2.5 1.8 -1.3zM464.1 492.5l-1.9 1.3 -4.4 -6.4 1.9 -1.3zM300 607.4l-1.8 1.3 -6.4 -9.3 1.8 -1.3zM283.4 619l-1.8 1.3 -6.6 -9.6 1.9 -1.3zM230 656.4l-1.8 1.3 -7.3 -10.5 1.9 -1.3zM204.2 674.5l-1.9 1.3 -7.5 -11 1.9 -1.3zM200.5 677.1l-5.5 3.8 -7.7 -11.1 5.6 -3.8zM679.8 337.7l-3.8 2.5 -1.7 -2.7 3.7 -2.5zM536.1 434.5l-1.8 1.3 -3.4 -5.2 1.8 -1.2zM532.4 437.1l-1.9 1.2 -3.4 -5.2 1.9 -1.3zM517.5 447.1l-5.6 3.8 -3.7 -5.6 5.7 -3.7zM497 461l-1.9 1.2 -3.9 -5.8 1.9 -1.3zM465.3 482.3l-1.9 1.3 -4.3 -6.4 1.9 -1.2zM426.1 508.8l-3.7 2.5 -4.8 -7.2 3.8 -2.4zM288.1 601.9l-7.5 5 -6.4 -9.6 7.6 -4.9zM275 610.7l-1.9 1.2 -6.4 -9.7 1.9 -1.2zM267.5 615.7l-7.4 5 -6.6 -9.9 7.5 -4.9zM254.5 624.5l-5.6 3.8 -6.8 -10.2 5.7 -3.7zM245.2 630.8l-5.6 3.8 -6.9 -10.4 5.7 -3.6zM222.8 645.9l-3.8 2.5 -7.1 -10.7 3.8 -2.4zM157.5 689.9l-7.5 5.1 -7.9 -11.9 7.6 -4.9zM101.5 727.7l-7.4 5 -8.6 -12.9 7.6 -4.9zM678 335l-1.8 1.3 -1.8 -2.7 2 -1.2zM506.3 446.5l-5.6 3.7 -3.7 -5.7 5.7 -3.6zM496.9 452.7l-5.7 3.7 -3.8 -6 5.8 -3.6zM476.1 466.2l-1.9 1.2 -3.9 -6.2 1.9 -1.2zM472.4 468.6l-3.8 2.5 -4 -6.4 3.8 -2.4zM429 496.8l-7.6 4.9 -4.6 -7.2 7.7 -4.7zM298.8 581.3l-1.9 1.3 -6 -9.4 1.9 -1.2zM283.7 591.2l-1.9 1.2 -6.2 -9.6 2 -1.2zM278 594.8l-5.7 3.7 -6.2 -9.8 5.7 -3.5zM251.6 612l-1.9 1.2 -6.5 -10.2 1.9 -1.2zM245.9 615.7l-1.9 1.2 -6.5 -10.3 1.9 -1.2zM238.4 620.6l-3.8 2.4 -6.7 -10.4 3.9 -2.4zM223.3 630.4l-1.9 1.2 -6.8 -10.7 1.9 -1.2zM219.5 632.8l-1.9 1.2 -6.8 -10.7 1.9 -1.2zM115.7 700.2l-1.9 1.2 -8 -12.5 1.9 -1.2zM95 713.7l-13.3 8.6 -8.3 -13.1 13.3 -8.4zM491.3 448l-1.9 1.2 -3.7 -5.9 1.9 -1.2zM483.6 452.8l-1.9 1.2 -3.7 -6.1 1.9 -1.2zM411.1 498.1l-1.9 1.2 -4.5 -7.4 1.9 -1.1zM294.7 570.8l-1.9 1.2 -5.7 -9.4 1.9 -1.1zM277.6 581.6l-2 1.2 -5.9 -9.7 1.9 -1.2zM243.2 603l-1.9 1.2 -6.3 -10.3 1.9 -1.1zM237.5 606.6l-5.7 3.6 -6.5 -10.5 5.8 -3.5zM214.6 620.9l-1.9 1.2 -6.6 -10.8 1.9 -1.2zM207 625.7l-2 1.2 -6.7 -11 2 -1.1zM113.5 684.1l-5.8 3.6 -7.7 -12.7 5.8 -3.4zM82.9 703.2l-3.8 2.4 -8.1 -13.2 3.9 -2.3zM77.2 706.8l-7.6 4.7 -8.2 -13.3 7.7 -4.6zM454.8 461.8l-9.6 5.8 -4 -6.7 9.8 -5.6zM381.6 505.8l-11.6 7 -4.8 -8 11.7 -6.8zM364.2 516.3l-11.6 6.9 -4.9 -8.3 11.7 -6.8zM350.7 524.4l-1.9 1.2 -5 -8.5 2 -1.1zM298.6 555.7l-5.8 3.5 -5.5 -9.4 5.8 -3.4zM233.1 595.1l-2 1.1 -6.2 -10.4 2 -1.2zM482.2 437.3l-2 1.1 -3.5 -6.1 2 -1.1zM451 455.3l-2 1.1 -3.7 -6.7 1.9 -1.1zM443.2 459.8l-3.9 2.2 -3.9 -6.8 4 -2.2zM363.3 505.9l-2 1.1 -4.6 -8.2 2 -1.1zM359.4 508.1l-2 1.2 -4.6 -8.3 1.9 -1.1zM328.2 526.1l-5.8 3.4 -5.1 -8.9 6 -3.3zM230.8 582.4l-3.9 2.2 -6 -10.5 4 -2.2zM659.8 330.8l-2 1.1 -1.6 -3 1.9 -1.1zM498.4 420.3l-2 1 -3.1 -5.8 1.9 -1zM482.7 429l-2 1.1 -3.3 -6.1 2 -1.1zM476.7 432.3l-3.9 2.1 -3.4 -6.2 4 -2.1zM468.9 436.6l-4 2.2 -3.4 -6.4 3.9 -2.1zM317.3 520.6l-9.8 5.5 -5 -9.2 10 -5.3zM234.7 566.4l-2 1.1 -5.6 -10.4 1.9 -1.1zM662.1 325.7l-2 1.1 -1.5 -3 2 -1zM654.2 330l-2 1 -1.6 -3.1 2 -1zM491.3 416.6l-4 2.1 -3.1 -6 4 -2zM477.4 424l-4 2.1 -3.3 -6.3 4.1 -2zM380 475.7l-2 1.1 -4.1 -7.9 2 -1zM324.4 505.3l-4 2.1 -4.6 -8.9 4 -2zM312.5 511.6l-4 2.2 -4.7 -9.2 4 -2zM233 553.9l-4 2.1 -5.4 -10.5 4 -2.1zM101.9 623.6l-2 1.1 -6.6 -12.8 2 -1zM97.9 625.7l-2 1.1 -6.7 -12.9 2 -1zM654.6 325.9l-2 1 -1.6 -3.1 2.1 -1zM474.2 417.8l-2 1 -3.2 -6.2 2.1 -1zM367.9 471.9l-2 1.1 -4 -8.2 2 -0.9zM353.9 479.1l-2 1 -4.2 -8.4 2 -0.9zM339.8 486.2l-4 2.1 -4.3 -8.7 4.1 -1.9zM327.8 492.4l-6 3 -4.4 -8.9 6 -2.9zM309.8 501.6l-2 1 -4.6 -9.2 2 -0.9zM293.7 509.7l-2 1.1 -4.7 -9.5 2 -0.9zM269.7 522l-2 1 -4.9 -9.8 2 -1zM257.6 528.1l-2 1 -5 -10 2 -1zM253.6 530.2l-4 2 -5 -10.1 4 -2zM247.6 533.2l-2 1.1 -5.1 -10.3 2 -1zM241.6 536.3l-6 3.1 -5.2 -10.4 6.1 -3zM153.4 581.2l-2 1.1 -5.9 -11.9 2 -1zM659.1 319.9l-4 1.9 -1.5 -3 4.1 -1.9zM471.1 411.6l-2.1 1 -3 -6.3 2.1 -1zM446.8 423.4l-2 1 -3.2 -6.7 2 -1zM430.6 431.3l-4 2 -3.4 -7.1 4.1 -1.9zM359.8 465.8l-2 1 -3.9 -8.2 2 -1zM345.7 472.7l-4.1 2 -4 -8.5 4 -1.9zM297.1 496.4l-2 1 -4.4 -9.4 2 -0.9zM289 500.4l-2 0.9 -4.5 -9.5 2 -0.9zM143.4 571.4l-4 1.9 -5.8 -12 4.1 -1.9zM137.4 574.3l-6.1 3 -5.8 -12.2 6.1 -2.9zM457.9 410.1l-2.1 0.9 -3 -6.5 2.1 -0.9zM441.6 417.7l-2.1 0.9 -3.1 -6.8 2.1 -0.9zM437.5 419.6l-8.2 3.8 -3.2 -7 8.2 -3.7zM423.2 426.2l-4.1 1.9 -3.3 -7.2 4.2 -1.8zM390.6 441.4l-2.1 1 -3.5 -7.7 2.1 -0.9zM284.5 490.9l-2 0.9 -4.4 -9.5 2.1 -1zM268.2 498.5l-4.1 1.9 -4.5 -9.9 4.1 -1.8zM260.1 502.3l-2.1 0.9 -4.5 -10 2 -0.9zM251.9 506.1l-2 1 -4.7 -10.2 2.1 -0.9zM432.3 413.6l-2.1 0.9 -3 -6.9 2.1 -0.9zM354.2 448.4l-2.1 0.9 -3.6 -8.3 2.1 -0.9zM315.1 465.8l-4.1 1.8 -3.9 -9.1 4.1 -1.7zM309 468.5l-4.1 1.9 -4 -9.2 4.1 -1.8zM296.6 474l-2 0.9 -4.1 -9.3 2.1 -0.9zM286.4 478.6l-10.3 4.6 -4.2 -9.7 10.3 -4.4zM272 485l-2.1 0.9 -4.2 -9.8 2 -0.9zM251.4 494.2l-2 0.9 -4.5 -10.2 2.1 -0.9zM450 397.9l-2.1 0.9 -2.8 -6.7 2.1 -0.9zM433.4 404.9l-4.1 1.8 -2.9 -7 4.1 -1.7zM394.1 421.6l-4.2 1.8 -3.2 -7.7 4.2 -1.7zM344.4 442.7l-2.1 0.9 -3.5 -8.5 2 -0.9zM338.1 445.4l-2 0.8 -3.6 -8.6 2.1 -0.8zM296.7 462.9l-8.3 3.6 -3.9 -9.5 8.4 -3.4zM282.2 469.1l-2.1 0.9 -3.9 -9.6 2.1 -0.9zM269.8 474.4l-4.1 1.7 -4.1 -9.8 4.1 -1.7zM447.2 391.2l-12.5 5.1 -2.7 -6.9 12.6 -4.8zM418 403l-2.1 0.9 -2.8 -7.2 2.1 -0.9zM403.4 408.9l-4.1 1.7 -3 -7.5 4.2 -1.6zM397.2 411.5l-2.1 0.8 -3 -7.6 2.1 -0.8zM393 413.2l-2.1 0.8 -3 -7.7 2.1 -0.8zM388.8 414.8l-2.1 0.9 -3 -7.8 2.1 -0.8zM342.9 433.4l-4.1 1.7 -3.4 -8.6 4.2 -1.6zM332.5 437.6l-8.4 3.4 -3.4 -8.9 8.4 -3.2zM301.2 450.2l-2.1 0.9 -3.6 -9.3 2.1 -0.8zM274.1 461.2l-4.2 1.7 -3.8 -9.8 4.2 -1.6zM261.6 466.3l-4.2 1.6 -4 -10 4.2 -1.6zM442.5 385.4l-10.5 4 -2.6 -7 10.6 -3.8zM385.8 407.1l-4.2 1.6 -2.9 -7.8 4.2 -1.5zM322.8 431.3l-2.1 0.8 -3.4 -8.9 2.2 -0.7zM318.6 432.9l-6.3 2.5 -3.4 -9.1 6.3 -2.3zM310.2 436.2l-2.1 0.8 -3.4 -9.2 2.1 -0.7zM301.8 439.4l-10.5 4 -3.6 -9.4 10.6 -3.8zM278.7 448.3l-2.1 0.8 -3.7 -9.7 2.2 -0.8zM257.6 456.3l-2.1 0.8 -3.7 -10 2.1 -0.8zM440 378.6l-14.8 5.4 -2.5 -7.1 14.9 -5.1zM423.1 384.8l-2.2 0.7 -2.5 -7.1 2.1 -0.8zM416.7 387.1l-2.1 0.7 -2.6 -7.2 2.2 -0.8zM387.1 397.8l-4.2 1.6 -2.8 -7.8 4.3 -1.5zM306.8 427.1l-2.1 0.7 -3.3 -9.1 2.1 -0.8zM258.1 444.8l-14.8 5.4 -3.6 -10.3 14.9 -5.1zM431.2 374l-2.2 0.7 -2.3 -7 2.1 -0.7zM399.3 385l-2.2 0.7 -2.5 -7.6 2.1 -0.7zM288.6 423.1l-10.6 3.6 -3.2 -9.6 10.7 -3.5zM273.7 428.2l-6.3 2.2 -3.3 -9.8 6.4 -2.1zM258.9 433.3l-6.4 2.2 -3.4 -10.1 6.4 -2.1zM276.9 416.4l-10.7 3.5 -3.1 -9.9 10.8 -3.3zM650.4 291.6l-4.3 1.3 -0.9 -3.2 4.3 -1.2zM398.7 368.6l-2.2 0.6 -2.2 -7.5 2.1 -0.7zM647.3 289.1l-4.3 1.2 -0.9 -3.2 4.3 -1.2zM249.4 403.2l-2.2 0.6 -2.8 -10.1 2.1 -0.6zM646.4 285.9l-4.3 1.2 -0.9 -3.3 4.4 -1.1zM340 368l-2.2 0.6 -2.2 -8.6 2.2 -0.5zM331.3 370.4l-2.2 0.5 -2.2 -8.7 2.2 -0.5zM348.7 356.8l-2.2 0.5 -2 -8.4 2.2 -0.5zM337.8 359.5l-2.2 0.5 -2.1 -8.6 2.2 -0.5zM320.3 363.8l-2.2 0.6 -2.1 -9 2.2 -0.5zM642.7 280l-4.4 1 -0.8 -3.3 4.4 -0.9zM375.2 341.8l-6.6 1.5 -1.8 -8.1 6.6 -1.4zM322.6 353.9l-4.4 1 -2 -8.9 4.4 -0.9zM639.7 277.2l-4.4 1 -0.7 -3.4 4.5 -0.9zM404.2 327.3l-4.4 0.9 -1.5 -7.5 4.4 -0.8zM329.4 343.2l-2.2 0.5 -1.8 -8.8 2.2 -0.4zM314 346.5l-2.2 0.4 -1.8 -9 2.2 -0.4zM309.6 347.4l-6.6 1.4 -1.9 -9.2 6.7 -1.3zM289.8 351.6l-2.2 0.5 -1.9 -9.5 2.2 -0.4zM404.9 319.4l-2.2 0.5 -1.4 -7.5 2.3 -0.4zM387.3 322.9l-2.2 0.4 -1.5 -7.8 2.2 -0.4zM378.4 324.6l-2.2 0.4 -1.4 -7.9 2.2 -0.4zM374 325.4l-2.2 0.5 -1.5 -8 2.2 -0.4zM316.6 336.6l-4.4 0.9 -1.7 -9.1 4.4 -0.8zM307.8 338.3l-8.9 1.7 -1.7 -9.2 8.9 -1.6zM294.5 340.9l-4.4 0.9 -1.8 -9.5 4.5 -0.7zM287.9 342.2l-8.9 1.7 -1.7 -9.6 8.8 -1.6zM399.1 312.8l-6.6 1.2 -1.3 -7.7 6.7 -1zM383.6 315.5l-8.8 1.6 -1.4 -7.9 8.9 -1.5zM372.5 317.5l-2.2 0.4 -1.3 -8 2.2 -0.4zM359.2 319.8l-2.2 0.4 -1.3 -8.2 2.2 -0.4zM354.8 320.6l-2.2 0.4 -1.4 -8.3 2.2 -0.4zM308.3 328.8l-11.1 2 -1.6 -9.3 11.2 -1.8zM391.2 306.3l-6.7 1.1 -1.1 -7.8 6.7 -0.9zM382.3 307.7l-8.9 1.5 -1.2 -8 9 -1.3zM360.1 311.3l-2.2 0.3 -1.3 -8.2 2.3 -0.3zM344.5 313.7l-4.4 0.7 -1.3 -8.5 4.5 -0.6zM361.1 302.8l-13.4 1.8 -1.1 -8.4 13.4 -1.6zM289.8 312.8l-2.2 0.3 -1.3 -9.5 2.3 -0.2zM285.3 313.4l-2.2 0.3 -1.2 -9.5 2.2 -0.3zM703.5 248l-6.7 0.6 -0.2 -2.3 6.7 -0.5zM703.3 245.8l-6.7 0.5 -0.2 -2.4 6.8 -0.3zM703.2 243.6l-2.3 0.1 -0.1 -2.2 2.3 -0.1zM69.5 276.8l-2.2 0.1 -0.6 -13.3 2.3 -0.1zM363.5 253.3l-4.5 0.1 -0.2 -8.2 4.5 -0.1zM82.5 263.1l-2.3 0 -0.3 -13 2.2 -0.1zM78 263.2l-2.3 0.1 -0.3 -13.1 2.2 -0.1zM69 263.5l-2.3 0.1 -0.3 -13.3 2.2 0zM257.6 247l-6.8 0.1 0 -10.1 6.7 0zM88.9 249.9l-2.3 0.1 -0.1 -13 2.3 0zM259.8 237l-2.3 0 0.1 -10 2.2 0.1zM253 237l-4.5 0 0.1 -10.1 4.5 0zM100 237l-11.2 0 0.1 -12.9 11.2 0.2zM79.8 237l-4.6 0 0.2 -13.2 4.5 0.1zM115.9 224.6l-9 -0.2 0.3 -12.6 9 0.3zM102.4 224.3l-2.3 0 0.3 -12.7 2.3 0zM181.4 214.4l-2.3 -0.1 0.5 -11.3 2.3 0.1zM113.9 212l-6.7 -0.2 0.5 -12.6 6.8 0.4zM145.9 201.2l-4.5 -0.2 0.8 -12 4.5 0.3zM123.5 200l-2.3 -0.1 0.8 -12.3 2.2 0.1zM114.5 199.6l-4.5 -0.3 0.8 -12.5 4.4 0.3zM107.7 199.2l-2.2 -0.1 0.8 -12.6 2.2 0.1zM148.9 189.4l-11.2 -0.7 0.9 -12.1 11.2 1zM126.5 187.9l-9 -0.7 1 -12.4 8.9 0.8zM115.2 187.1l-4.4 -0.3 0.9 -12.6 4.5 0.4zM101.8 186.1l-2.3 -0.1 1 -12.7 2.3 0.2zM149.8 177.6l-2.2 -0.2 1.1 -11.9 2.3 0.2zM140.9 176.8l-4.5 -0.4 1.2 -12.1 4.4 0.5zM125.2 175.4l-11.2 -1 1.2 -12.4 11.2 1.2zM148.7 165.5l-6.7 -0.7 1.4 -12 6.7 0.8zM128.6 163.4l-4.5 -0.5 1.4 -12.3 4.5 0.6zM115.2 162l-2.3 -0.3 1.5 -12.4 2.2 0.2zM152.3 153.9l-2.2 -0.3 1.6 -11.8 2.2 0.3zM134.5 151.7l-9 -1.1 1.6 -12.2 9 1.2zM131.6 139l-2.2 -0.3 1.8 -12.2 2.2 0.3zM120.5 137.4l-2.3 -0.3 1.9 -12.4 2.2 0.4zM111.6 136.2l-2.3 -0.3 1.9 -12.6 2.2 0.4zM98.2 134.3l-4.5 -0.6 1.9 -12.9 4.5 0.8zM146.8 128.9l-8.9 -1.4 2 -12 8.8 1.6zM129 126.1l-2.2 -0.3 2 -12.3 2.2 0.4zM124.5 125.4l-4.4 -0.7 2.1 -12.3 4.4 0.7zM117.9 124.4l-2.3 -0.4 2.1 -12.4 2.2 0.4zM109 123l-2.2 -0.4 2.1 -12.6 2.2 0.4zM665 208.1l-6.6 -1.2 0.5 -3 6.7 1.3zM609.6 198.3l-4.4 -0.8 0.7 -3.9 4.4 0.9zM135.4 114.7l-4.4 -0.8 2.3 -12.1 4.4 0.8zM128.8 113.5l-2.2 -0.4 2.3 -12.2 2.2 0.4zM122.2 112.4l-4.5 -0.8 2.3 -12.4 4.4 0.8zM665.6 205.2l-4.5 -0.8 0.6 -3 4.4 1zM612.6 194.9l-2.3 -0.4 0.8 -3.8 2.2 0.5zM115.6 98.3l-4.4 -0.8 2.5 -12.5 4.4 0.9zM137.9 90.1l-6.6 -1.4 2.7 -12.1 6.6 1.5zM115.9 85.4l-2.2 -0.4 2.8 -12.5 2.2 0.5zM153.8 81.1l-2.2 -0.5 2.8 -11.8 2.2 0.5zM149.4 80.1l-4.4 -1 2.9 -11.9 4.3 1.1zM140.6 78.1l-2.2 -0.5 2.9 -12.1 2.2 0.6zM105.5 70l-2.2 -0.5 3.1 -12.7 2.2 0.6zM117.3 59.6l-2.2 -0.6 3.2 -12.4 2.2 0.6zM110.7 57.9l-15.2 -3.8 3.3 -12.8 15.2 4.1zM103.1 42.5l-2.2 -0.6 3.5 -12.7 2.2 0.7zM331.5 94.4l-2.1 -0.7 2.6 -8.7 2.1 0.7zM162 33.1l-4.3 -1.3 3.7 -11.7 4.2 1.4zM253.4 50l-8.6 -2.8 3.4 -10.2 8.5 2.9zM273.7 45.8l-4.2 -1.5 3.4 -9.7 4.3 1.5zM265.2 42.9l-12.7 -4.4 3.5 -10 12.7 4.6zM272.9 34.6l-6.3 -2.3 3.7 -9.8 6.3 2.4z"/><path fill="#5CA0C8" stroke="#5CA0C8" d="M1013.2 839.5l0.7 2.1 -10.6 3.2 -0.6 -2.2zM1015.8 848.1l0.7 2.1 -10.7 3.2 -0.7 -2.2zM1002.7 842.6l3.1 10.8 -10.8 3 -2.9 -10.9zM1007 857.7l0.6 2.2 -10.9 3 -0.6 -2.2zM1009.5 866.4l0.6 2.1 -11.1 3.1 -0.5 -2.2zM1011.3 872.9l0.7 2.1 -11.2 3.1 -0.6 -2.1zM991.5 843.4l5.2 19.5 -10.9 2.9 -4.9 -19.7zM1011.9 919.4l0.5 2.2 -11.9 3.1 -0.6 -2.2zM979.2 839.6l0.6 2.1 -10.6 2.6 -0.5 -2.2zM982.5 852.7l1.1 4.3 -10.9 2.6 -1 -4.4zM917.1 618.5l1.5 6.5 -6.8 1.5 -1.4 -6.6zM969.2 844.3l0.5 2.2 -10.7 2.3 -0.4 -2.2zM973.8 864l2.5 11 -11.2 2.4 -2.3 -11zM909.9 617.7l0.5 2.2 -6.7 1.4 -0.4 -2.2zM910.9 622.1l0.4 2.2 -6.7 1.4 -0.5 -2.2zM961.4 859.8l1.4 6.6 -11 2.3 -1.3 -6.6zM947.9 848.8l0.5 2.2 -10.8 2 -0.4 -2.2zM950.5 862.1l1.7 8.8 -11.1 2 -1.5 -8.8zM958.2 901.8l1.3 6.6 -11.7 2.2 -1.2 -6.6zM936.8 848.6l0.4 2.2 -10.7 1.8 -0.4 -2.2zM940.7 870.7l0.8 4.5 -11.1 1.8 -0.7 -4.4zM951.3 930.6l0.8 4.4 -12.2 2 -0.7 -4.4zM879.3 554.8l0.4 2.2 -5.6 0.8 -0.3 -2.2zM925.4 845.9l2.5 15.6 -10.9 1.6 -2.2 -15.6zM942.7 954.8l0.3 2.2 -12.5 1.9 -0.4 -2.2zM943.4 959.2l0.7 4.5 -12.7 1.9 -0.6 -4.5zM949.7 999.2l0.4 2.3 -13.4 2 -0.3 -2.3zM952.2 1014.8l1 6.7 -13.7 2 -0.9 -6.7zM873.8 555.6l0.3 2.2 -5.6 0.8 -0.3 -2.2zM917 863.1l0.9 6.7 -11 1.4 -0.8 -6.7zM931.7 967.8l0.6 4.5 -12.8 1.7 -0.6 -4.5zM933.9 983.4l0.6 4.5 -13.1 1.7 -0.5 -4.5zM935.2 992.3l0.3 2.3 -13.3 1.7 -0.2 -2.2zM870.1 572l0.3 2.2 -5.9 0.7 -0.2 -2.2zM870.7 576.5l0.3 2.2 -6 0.7 -0.3 -2.3zM871.2 580.9l0.3 2.3 -6 0.6 -0.3 -2.2zM871.8 585.4l0.8 6.7 -6.2 0.7 -0.7 -6.7zM872.9 594.3l0.2 2.2 -6.2 0.8 -0.3 -2.3zM873.4 598.8l1.1 8.9 -6.5 0.8 -0.9 -9zM915.6 942.7l0.3 2.2 -12.3 1.4 -0.3 -2.2zM920 978.4l0.9 6.7 -13.1 1.5 -0.7 -6.7zM921.4 989.6l0.8 6.7 -13.2 1.5 -0.7 -6.7zM862.6 557l0.3 2.2 -5.7 0.6 -0.2 -2.3zM863.6 565.9l0.7 6.8 -5.9 0.5 -0.6 -6.7zM868.3 610.7l0.2 2.2 -6.6 0.7 -0.2 -2.3zM900 912.8l1.4 13.4 -12 1.2 -1.2 -13.5zM901.7 928.4l0.2 2.3 -12.1 1.1 -0.2 -2.2zM902.4 935.2l0.2 2.2 -12.2 1.2 -0.2 -2.3zM902.8 939.6l0.5 4.5 -12.3 1.2 -0.4 -4.5zM906.8 977.7l0.8 6.7 -13.1 1.2 -0.6 -6.7zM857 557.5l0.2 2.3 -5.6 0.4 -0.2 -2.2zM857.6 564.2l0.2 2.3 -5.7 0.4 -0.2 -2.2zM860 591.1l0.2 2.3 -6.2 0.5 -0.2 -2.3zM862.1 615.8l0.2 2.2 -6.6 0.6 -0.2 -2.3zM888 911.7l0.6 6.7 -11.9 0.9 -0.5 -6.7zM894.1 981.2l0.2 2.2 -13 1 -0.2 -2.2zM851 551.2l0.3 4.5 -5.6 0.4 -0.2 -4.5zM855.5 616.3l0.2 2.3 -6.7 0.4 -0.1 -2.3zM860.1 681.4l0.3 4.5 -7.8 0.5 -0.3 -4.5zM860.5 688.1l0.4 4.5 -8 0.5 -0.2 -4.5zM880.8 977.7l0.2 2.2 -13 0.8 -0.1 -2.2zM845.5 551.6l0.3 6.7 -5.6 0.3 -0.2 -6.8zM846.7 574l0.1 2.3 -5.9 0.2 -0.1 -2.2zM848.3 605.5l0.1 2.2 -6.4 0.3 -0.1 -2.2zM848.9 616.7l0.1 2.3 -6.7 0.3 0 -2.3zM852.4 684.1l0.4 6.8 -7.9 0.3 -0.3 -6.7zM854.9 731.3l0.1 2.3 -8.6 0.3 -0.1 -2.2zM865.5 933.5l0.1 2.3 -12.2 0.5 -0.1 -2.2zM839.8 547.3l0.1 2.3 -5.4 0.1 -0.1 -2.2zM840.1 554.1l0.1 2.2 -5.6 0.2 -0.1 -2.3zM841.1 583.3l0.1 4.5 -6.1 0.1 -0.1 -4.5zM841.6 599l0.4 11.3 -6.5 0.1 -0.2 -11.2zM844.3 675.5l0.2 4.5 -7.8 0.2 0 -4.5zM844.7 686.7l0.2 6.8 -7.9 0.2 -0.1 -6.8zM853.4 936.3l0.2 4.5 -12.3 0.3 -0.1 -4.5zM854.4 965.6l0.2 4.5 -12.8 0.3 -0.1 -4.5zM855 981.3l0.1 2.2 -13.1 0.4 0 -2.3zM834.5 549.7l0.1 6.8 -5.6 0 0 -6.7zM835.1 585.7l0 2.2 -6.1 0.1 0 -2.2zM835.4 603.7l0.2 9 -6.6 0.1 0 -9zM836 637.4l0.1 4.5 -7.1 0.1 0 -4.5zM836.7 675.7l0.1 6.7 -7.8 0.1 0 -6.7zM841.7 965.9l0.1 2.2 -12.8 0.1 0 -2.2zM841.9 974.9l0 2.2 -12.9 0.1 0 -2.2zM829 552l0 2.2 -5.5 0 0 -2.2zM829 572.2l0 4.6 -5.9 -0.1 0 -4.5zM829 588l0 6.8 -6.2 -0.1 0.1 -6.8zM829 597l0 6.8 -6.4 -0.1 0.1 -6.8zM829 894l0 4.5 -11.5 -0.1 0 -4.5zM829 905.2l0 4.6 -11.7 -0.2 0 -4.5zM829 912l0 4.5 -11.9 -0.1 0.1 -4.5zM829 939l0 11.2 -12.4 -0.1 0.1 -11.2zM829 975l0 6.8 -13 -0.2 0.1 -6.7zM823.5 552l0 2.2 -5.6 -0.1 0.1 -2.3zM822.8 590.2l0 2.2 -6.2 -0.1 0.1 -2.3zM822.8 594.7l-0.1 2.2 -6.3 -0.1 0.1 -2.3zM821.2 682.4l0 2.3 -7.8 -0.2 0.1 -2.3zM821.1 686.9l0 2.3 -7.9 -0.2 0.1 -2.3zM817.5 896.1l-0.1 6.8 -11.6 -0.3 0.2 -6.8zM817.3 905.1l0 2.3 -11.7 -0.3 0.1 -2.3zM817.2 914.1l-0.1 2.3 -11.8 -0.3 0.1 -2.3zM817 923.1l-0.1 9 -12.2 -0.3 0.4 -9zM816.6 950.1l-0.1 2.3 -12.5 -0.3 0.1 -2.3zM818.7 531.6l-0.1 4.5 -5.3 -0.3 0.3 -4.5zM818 551.8l-0.1 2.3 -5.5 -0.3 0.1 -2.2zM817.8 556.3l-0.4 13.5 -5.8 -0.3 0.7 -13.4zM817.3 572l-0.1 2.3 -5.9 -0.3 0.2 -2.2zM816.8 587.8l-0.1 2.2 -6.2 -0.2 0.1 -2.3zM805.8 900.3l0 2.3 -11.7 -0.5 0.2 -2.3zM801.3 1030.8l-0.1 2.2 -13.9 -0.6 0.1 -2.2zM800.7 1046.5l0 2.3 -14.2 -0.7 0.1 -2.2zM800.5 1053.3l-0.2 4.4 -14.3 -0.6 0.3 -4.5zM800.2 1062.2l-0.1 2.3 -14.4 -0.6 0.1 -2.3zM813.2 538.1l-0.1 2.2 -5.3 -0.3 0.2 -2.2zM812.3 556.1l-0.1 2.2 -5.6 -0.3 0.1 -2.3zM811.6 569.5l-0.4 6.8 -5.9 -0.4 0.5 -6.7zM811.1 578.5l-0.1 2.3 -6 -0.4 0.1 -2.2zM787.2 1034.7l-0.1 2.2 -14 -0.9 0.2 -2.2zM786.3 1052.6l-0.2 2.3 -14.2 -0.9 0.1 -2.2zM808.4 531l-0.1 2.3 -5.2 -0.4 0.2 -2.3zM808.1 535.5l-0.1 2.3 -5.3 -0.4 0.2 -2.3zM796.4 609.1l-0.1 2.2 -6.6 -0.6 0.3 -2.2zM791.8 590.6l-0.2 2.2 -6.2 -0.7 0.3 -2.2zM790.7 601.7l-0.5 4.5 -6.4 -0.7 0.5 -4.5zM786.2 644.3l-0.5 4.4 -7.2 -0.8 0.6 -4.5zM783.8 605.5l-0.3 2.2 -6.5 -0.8 0.3 -2.3zM781.3 625.6l-0.6 4.4 -6.8 -0.9 0.6 -4.4zM780.5 632.3l-0.9 6.7 -7 -0.9 1 -6.7zM778 652.4l-0.3 2.2 -7.3 -0.9 0.4 -2.3zM777.2 659.1l-0.3 2.2 -7.4 -1 0.3 -2.2zM777.3 604.6l-0.3 2.3 -6.4 -1 0.3 -2.2zM774.8 622.5l-0.3 2.2 -6.7 -1 0.3 -2.2zM771.7 644.7l-0.9 6.7 -7.3 -1.1 1.1 -6.6zM773 590.3l-0.3 2.3 -6.2 -1.1 0.4 -2.2zM770.9 603.7l-0.3 2.2 -6.5 -1.1 0.4 -2.2zM764.9 641.5l-0.7 4.4 -7.1 -1.2 0.8 -4.4zM763.9 648.1l-0.4 2.2 -7.2 -1.2 0.4 -2.2zM766.1 593.7l-0.8 4.5 -6.3 -1.2 0.9 -4.4zM764.5 602.6l-0.4 2.2 -6.4 -1.2 0.5 -2.2zM759 597l-0.8 4.4 -6.4 -1.3 0.9 -4.4zM754.3 621.3l-0.4 2.2 -6.8 -1.4 0.5 -2.2zM692.5 939.4l-0.5 2.2 -12.2 -2.5 0.4 -2.2zM691.6 943.8l-0.8 4.4 -12.4 -2.5 0.9 -4.4zM754.2 589.1l-1 4.4 -6.2 -1.3 1 -4.4zM728 712.4l-1 4.4 -8.3 -1.9 1 -4.4zM748 587.8l-1 4.4 -6.2 -1.5 1.1 -4.4zM718.2 717.1l-0.6 2.2 -8.4 -2 0.6 -2.2zM664 951.7l-1 4.4 -12.5 -3 1.1 -4.4zM741.9 586.3l-0.5 2.2 -6.2 -1.6 0.6 -2.2zM725 654l-0.5 2.2 -7.3 -1.9 0.6 -2.2zM723.9 658.4l-1.6 6.5 -7.4 -1.9 1.7 -6.5zM712 706.4l-0.6 2.2 -8.2 -2.2 0.6 -2.1zM705.4 732.6l-1.1 4.3 -8.7 -2.2 1.2 -4.4zM703.8 739.1l-0.5 2.2 -8.8 -2.3 0.6 -2.1zM720.7 641.2l-2.9 10.9 -7.3 -2 3.1 -10.8zM714.3 665.1l-0.6 2.2 -7.5 -2.1 0.6 -2.1zM710.5 650.1l-1.8 6.5 -7.3 -2.2 2 -6.4zM707.4 660.9l-1.8 6.5 -7.5 -2.2 2 -6.5zM702.5 678.2l-0.6 2.2 -7.8 -2.3 0.7 -2.2zM700.6 684.7l-0.6 2.2 -7.8 -2.3 0.6 -2.2zM692.6 712.8l-0.7 2.2 -8.3 -2.5 0.7 -2.1zM704 645.8l-3.3 10.8 -7.3 -2.3 3.5 -10.7zM698.1 665.2l-0.7 2.1 -7.5 -2.3 0.7 -2.2zM696.1 671.6l-0.6 2.2 -7.6 -2.4 0.7 -2.1zM684.9 708.2l-1.3 4.3 -8.3 -2.6 1.4 -4.3zM683 714.7l-0.7 2.1 -8.3 -2.6 0.6 -2.1zM674.4 742.6l-0.6 2.2 -8.9 -2.8 0.7 -2.1zM695.5 647.9l-1.4 4.2 -7.2 -2.4 1.5 -4.2zM692 658.6l-2.1 6.4 -7.4 -2.5 2.2 -6.4zM673.3 716.3l-0.7 2.2 -8.4 -2.8 0.7 -2.2zM667 735.6l-1.4 4.3 -8.7 -3 1.4 -4.2zM687.6 647.6l-1.4 4.2 -7.3 -2.5 1.6 -4.2zM664.2 715.7l-0.8 2.1 -8.3 -3 0.8 -2.1zM571.9 983.7l-0.7 2.2 -13.1 -4.7 0.8 -2.1zM649.7 729.6l-1.5 4.3 -8.7 -3.3 1.6 -4.2zM683.9 615.1l-0.8 2.1 -6.7 -2.6 0.9 -2.1zM672.6 644.5l-0.8 2.1 -7.2 -2.8 0.9 -2.1zM667.7 657.1l-0.8 2.1 -7.3 -2.9 0.8 -2.1zM571 909.2l-0.8 2.1 -11.8 -4.6 0.9 -2.1zM569.4 913.4l-0.8 2.1 -11.8 -4.7 0.8 -2.1zM545.2 976.4l-0.8 2.1 -12.9 -5.1 0.8 -2.1zM541.1 986.9l-1.6 4.2 -13.1 -5.2 1.7 -4.1zM682.3 600l-0.8 2.1 -6.4 -2.7 0.9 -2zM678.1 610.4l-0.8 2.1 -6.5 -2.7 0.8 -2.1zM660.4 654.2l-0.8 2.1 -7.3 -3 0.9 -2.1zM534 967.2l-0.8 2 -12.8 -5.2 0.9 -2.1zM532.3 971.3l-2.5 6.3 -12.9 -5.3 2.6 -6.3zM527.3 983.8l-1.7 4.2 -13.1 -5.4 1.8 -4.1zM496.1 1061l-0.9 2.1 -14.3 -5.9 0.8 -2.1zM657.6 640.9l-1.8 4.1 -7.1 -3.1 1.8 -4.1zM654.9 647.1l-0.8 2.1 -7.2 -3.2 0.9 -2zM653.2 651.2l-0.9 2.1 -7.2 -3.1 0.9 -2.1zM518.7 968.1l-0.9 2.1 -12.8 -5.6 0.9 -2zM514.3 978.5l-1.8 4.1 -13 -5.6 1.9 -4.1zM509.6 954.4l-1.8 4.1 -12.6 -5.7 1.9 -4.1zM505 964.6l-2.7 6.2 -12.8 -5.8 2.9 -6.1zM500.5 974.9l-1.9 4.1 -12.9 -5.9 1.9 -4zM491.4 960.9l-1.9 4.1 -12.6 -6 2 -4.1zM485.7 973.1l-0.9 2.1 -12.9 -6.1 1 -2.1zM481 983.3l-1 2.1 -13 -6.2 1 -2zM652.4 599l-0.9 2 -6.4 -3.1 1.1 -2zM640.6 623.3l-1 2 -6.7 -3.4 1 -2zM483.8 944.8l-3 6.1 -12.4 -6.2 3.1 -6zM474.9 963l-1 2 -12.6 -6.3 1 -2zM461.1 991.3l-2 4.1 -13.2 -6.6 2.1 -4zM704.4 481.6l-1 2 -4.3 -2.2 1 -2zM691.1 507.6l-1 2 -4.8 -2.4 1.1 -2zM459.2 962.7l-3 6 -12.8 -6.6 3.2 -5.9zM444.9 990.8l-1 2 -13.1 -6.8 1 -2zM692.7 493.3l-1 2 -4.5 -2.5 1.1 -1.9zM632.5 606.5l-1 2 -6.5 -3.5 1.1 -2zM627.2 616.4l-4.2 8 -6.7 -3.7 4.4 -7.8zM439.2 970.1l-1 2 -12.8 -7 1.1 -1.9zM437.1 974l-1 2 -12.9 -6.9 1.1 -2zM435 978l-1.1 2 -12.9 -7 1.1 -2zM407.5 1029.7l-1 2 -13.8 -7.5 1.1 -2zM689.4 488.9l-2.2 3.9 -4.4 -2.5 2.2 -3.9zM640.3 577.4l-1.1 2 -6 -3.4 1.2 -1.9zM628.3 599.1l-1.1 2 -6.3 -3.6 1.1 -2zM615.2 622.7l-1.1 2 -6.7 -3.8 1.1 -2zM416.7 980.9l-2.2 3.9 -13 -7.3 2.2 -3.9zM406.9 998.6l-2.2 3.9 -13.3 -7.5 2.2 -3.9zM403.6 1004.5l-3.3 5.9 -13.4 -7.6 3.3 -5.9zM399.2 1012.4l-4.3 7.8 -13.7 -7.7 4.5 -7.8zM618.6 601.4l-3.4 5.8 -6.4 -3.8 3.5 -5.7zM614.1 609.2l-1.1 1.9 -6.5 -3.8 1.2 -1.9zM611.9 613.1l-6.8 11.7 -6.7 -4 6.9 -11.6zM467.9 862.5l-4.5 7.8 -11 -6.5 4.6 -7.7zM408.2 965.8l-1.1 1.9 -12.7 -7.5 1.2 -1.9zM352 1063.2l-1.1 1.9 -14.4 -8.4 1.2 -2zM614.6 593.8l-2.3 3.9 -6.3 -3.9 2.4 -3.8zM611.1 599.6l-1.1 1.9 -6.3 -3.9 1.1 -1.9zM594.9 626.6l-1.1 1.9 -6.8 -4.2 1.2 -1.9zM453.5 861.9l-2.3 3.8 -10.9 -6.7 2.4 -3.8zM445.4 875.4l-2.3 3.8 -11.1 -6.8 2.3 -3.8zM337.7 1054.7l-3.5 5.8 -14.3 -8.7 3.6 -5.8zM621.5 569l-1.2 1.9 -5.8 -3.7 1.3 -1.9zM612 584.3l-1.2 1.9 -6.1 -3.9 1.3 -1.9zM607.2 591.9l-1.2 1.9 -6.2 -3.9 1.3 -1.9zM585.8 626.3l-1.2 1.9 -6.8 -4.4 1.2 -1.9zM427.2 880l-1.2 1.9 -11.2 -7.1 1.2 -1.9zM362.8 983.1l-1.2 1.9 -13 -8.3 1.3 -1.9zM606 580.4l-1.3 1.9 -5.9 -3.9 1.2 -1.9zM594.9 597.4l-1.2 1.9 -6.3 -4.2 1.3 -1.8zM347.4 978.6l-1.2 1.9 -12.9 -8.6 1.2 -1.8zM345 982.4l-1.3 1.9 -12.9 -8.6 1.2 -1.9zM341.3 988l-3.7 5.7 -13.1 -8.7 3.7 -5.6zM336.4 995.6l-6.2 9.4 -13.3 -8.8 6.3 -9.3zM303.3 1046.5l-1.2 1.9 -14.1 -9.3 1.2 -1.9zM589.9 591.4l-1.2 1.9 -6.2 -4.3 1.3 -1.8zM587.4 595.1l-1.2 1.9 -6.3 -4.3 1.3 -1.8zM576.1 611.9l-1.3 1.9 -6.5 -4.5 1.3 -1.8zM572.3 617.5l-1.2 1.9 -6.7 -4.6 1.3 -1.8zM583.8 587.2l-5.2 7.4 -6.2 -4.5 5.3 -7.2zM560.6 620.4l-1.3 1.8 -6.7 -4.8 1.3 -1.8zM410.9 834.2l-1.3 1.8 -10.4 -7.4 1.3 -1.8zM316.7 968.7l-2.6 3.7 -12.8 -9.1 2.7 -3.6zM305 985.3l-1.3 1.8 -13 -9.2 1.4 -1.9zM302.5 989l-1.3 1.8 -13.1 -9.3 1.3 -1.8zM294.7 1000l-1.3 1.9 -13.2 -9.5 1.3 -1.8zM256 1055.3l-1.3 1.9 -14.2 -10.2 1.3 -1.8zM250.8 1062.7l-1.3 1.8 -14.3 -10.2 1.3 -1.8zM620 524.6l-5.2 7.3 -5.2 -3.8 5.5 -7.2zM612.1 535.5l-1.3 1.8 -5.2 -3.8 1.3 -1.8zM576.4 584.7l-2.6 3.6 -6.1 -4.5 2.7 -3.6zM555.2 613.8l-1.3 1.8 -6.5 -4.8 1.3 -1.8zM370.1 868.6l-1.3 1.9 -11 -8.2 1.3 -1.8zM269.6 1007l-1.3 1.8 -13.4 -9.9 1.3 -1.8zM266.9 1010.6l-5.3 7.3 -13.5 -10 5.4 -7.2zM233.9 1056.1l-6.6 9.1 -14.4 -10.6 6.8 -9zM225.9 1067.1l-2.6 3.6 -14.5 -10.7 2.7 -3.6zM636.7 492.2l-1.3 1.8 -4.5 -3.5 1.4 -1.7zM617.8 517.3l-2.7 3.6 -5 -3.8 2.8 -3.5zM606.9 531.7l-5.4 7.2 -5.2 -4 5.5 -7.1zM600.2 540.7l-4.1 5.4 -5.4 -4.1 4.2 -5.4zM560.9 592.8l-1.4 1.8 -6.2 -4.8 1.4 -1.7zM554.1 601.8l-1.3 1.8 -6.4 -4.9 1.4 -1.8zM551.4 605.4l-1.3 1.8 -6.5 -5 1.4 -1.7zM356.4 864.1l-1.3 1.8 -10.9 -8.3 1.4 -1.8zM245.4 1011.5l-1.4 1.8 -13.4 -10.4 1.4 -1.7zM622.6 501.2l-1.4 1.8 -4.6 -3.7 1.4 -1.8zM612.9 513.6l-1.4 1.8 -4.8 -3.9 1.4 -1.7zM608.7 518.9l-2.7 3.6 -5 -4 2.9 -3.5zM600.4 529.5l-2.7 3.6 -5.2 -4.1 2.9 -3.5zM596.3 534.9l-2.8 3.5 -5.2 -4.1 2.8 -3.5zM590.7 542l-2.7 3.5 -5.4 -4.2 2.9 -3.5zM552 591.6l-5.6 7.1 -6.3 -5 5.7 -7zM470.2 696.2l-1.4 1.8 -8 -6.4 1.5 -1.7zM461.9 706.9l-1.4 1.7 -8.1 -6.5 1.4 -1.7zM234.7 997.6l-2.7 3.6 -13.3 -10.6 2.8 -3.5zM610.9 506.3l-1.4 1.7 -4.7 -3.8 1.5 -1.8zM605.3 513.3l-9.9 12.2 -5 -4.1 10.1 -12.1zM579.8 544.7l-1.4 1.8 -5.4 -4.4 1.5 -1.7zM534.5 600.7l-1.4 1.8 -6.4 -5.3 1.5 -1.7zM531.6 604.2l-1.4 1.8 -6.4 -5.3 1.5 -1.7zM460.8 691.6l-1.4 1.8 -7.9 -6.5 1.5 -1.8zM455.2 698.6l-1.4 1.8 -8.1 -6.6 1.5 -1.8zM398.5 768.6l-1.4 1.7 -9.2 -7.6 1.4 -1.7zM330.6 852.5l-2.9 3.5 -10.7 -8.8 2.9 -3.5zM217.3 992.4l-1.4 1.7 -13.1 -10.8 1.4 -1.7zM210.2 1001.1l-1.4 1.8 -13.3 -11 1.5 -1.7zM163.5 1058.8l-4.3 5.3 -14.3 -11.8 4.4 -5.2zM157.8 1065.8l-1.4 1.8 -14.4 -11.9 1.5 -1.7zM155 1069.3l-1.4 1.8 -14.5 -11.9 1.5 -1.8zM628 476.6l-4.4 5.2 -4.2 -3.7 4.4 -5.1zM604.8 504.2l-1.4 1.7 -4.7 -4 1.5 -1.7zM600.5 509.3l-1.5 1.8 -4.7 -4.1 1.5 -1.7zM593.3 517.9l-4.4 5.2 -4.9 -4.2 4.4 -5.1zM570.1 545.5l-1.4 1.7 -5.4 -4.5 1.5 -1.7zM387.9 762.7l-1.5 1.7 -9.1 -7.8 1.5 -1.7zM382.1 769.6l-1.4 1.7 -9.3 -7.9 1.5 -1.7zM373.4 779.9l-4.3 5.2 -9.5 -8.1 4.4 -5.1zM366.2 788.6l-1.5 1.7 -9.5 -8.2 1.4 -1.7zM170.9 1021.2l-2.8 3.5 -13.7 -11.7 3 -3.4zM162.3 1031.6l-10.2 12 -13.9 -11.9 10.3 -11.9zM146.4 1050.5l-4.4 5.2 -14.2 -12.1 4.5 -5.1zM610.5 488.3l-1.4 1.7 -4.4 -3.9 1.5 -1.6zM600.2 500.2l-1.5 1.7 -4.6 -4.1 1.5 -1.6zM597.2 503.6l-1.4 1.7 -4.7 -4.1 1.5 -1.7zM592.8 508.7l-4.4 5.1 -4.8 -4.3 4.5 -5zM584 518.9l-1.5 1.7 -4.9 -4.4 1.5 -1.6zM566.2 539.3l-1.4 1.7 -5.3 -4.7 1.5 -1.7zM369.9 765.1l-1.5 1.7 -9.1 -8.1 1.5 -1.7zM361.1 775.3l-1.5 1.7 -9.4 -8.3 1.5 -1.7zM133.7 1036.8l-1.4 1.7 -13.9 -12.3 1.5 -1.7zM117.5 1055.5l-5.9 6.8 -14.3 -12.7 6 -6.7zM594.1 497.8l-1.5 1.7 -4.5 -4.1 1.5 -1.7zM589.6 502.9l-1.5 1.6 -4.6 -4.2 1.5 -1.7zM556.5 539.6l-1.5 1.7 -5.3 -4.8 1.6 -1.7zM553.5 543l-3 3.3 -5.4 -4.9 3.1 -3.3zM589.6 493.7l-1.5 1.7 -4.5 -4.3 1.6 -1.6zM586.5 497l-3 3.3 -4.6 -4.3 3.1 -3.3zM571.2 513.5l-1.5 1.6 -4.8 -4.6 1.5 -1.6zM565.1 520l-1.6 1.7 -4.9 -4.7 1.6 -1.6zM552.8 533.2l-1.5 1.6 -5.2 -4.8 1.6 -1.7zM542 544.7l-1.5 1.7 -5.3 -5.1 1.5 -1.6zM229 880.4l-1.5 1.7 -11.2 -10.6 1.6 -1.7zM86.3 1033.4l-1.5 1.7 -13.8 -13.1 1.5 -1.6zM594.6 479.8l-1.6 1.6 -4.2 -4.2 1.6 -1.6zM580.5 494.3l-1.6 1.7 -4.5 -4.4 1.6 -1.6zM571.1 504.1l-1.6 1.6 -4.6 -4.6 1.6 -1.6zM558.6 517l-1.6 1.6 -4.8 -4.8 1.6 -1.6zM547.7 528.3l-1.6 1.7 -5.1 -5 1.6 -1.6zM544.5 531.6l-1.5 1.6 -5.2 -5 1.6 -1.6zM411.7 669.1l-1.6 1.7 -7.5 -7.4 1.6 -1.6zM588.8 477.2l-1.6 1.6 -4.2 -4.2 1.6 -1.6zM552.2 513.8l-1.6 1.6 -4.8 -4.9 1.6 -1.5zM541 525l-1.6 1.6 -5 -5.1 1.6 -1.6zM261 805l-9.5 9.5 -10 -10.1 9.7 -9.4zM573.3 484l-1.6 1.5 -4.3 -4.5 1.6 -1.5zM536 519.9l-1.6 1.6 -4.9 -5.2 1.7 -1.6zM254.4 791.9l-1.6 1.5 -9.6 -10.1 1.6 -1.6zM251.2 795l-1.6 1.5 -9.7 -10.2 1.6 -1.5zM244.7 801.2l-1.6 1.6 -9.8 -10.3 1.7 -1.5zM598.6 451.8l-1.6 1.6 -3.8 -4.1 1.7 -1.5zM593.7 456.4l-1.7 1.6 -3.8 -4.2 1.7 -1.5zM565.7 482.5l-1.6 1.6 -4.3 -4.7 1.7 -1.5zM542.7 504l-3.3 3.1 -4.7 -5.1 3.4 -3zM591.6 450.8l-1.7 1.5 -3.7 -4.2 1.7 -1.5zM556.5 482.4l-1.7 1.5 -4.3 -4.8 1.7 -1.5zM429.4 596.8l-1.7 1.5 -6.2 -7 1.7 -1.5zM586.2 448.1l-1.7 1.5 -3.7 -4.3 1.7 -1.5zM582.8 451l-1.7 1.5 -3.7 -4.3 1.7 -1.5zM569.2 462.8l-1.7 1.5 -3.9 -4.6 1.7 -1.4zM423.2 589.8l-3.4 2.9 -6.2 -7.1 3.5 -2.9zM180.3 800.9l-1.7 1.5 -9.7 -11.5 1.7 -1.4zM176.9 803.8l-1.7 1.5 -9.8 -11.5 1.7 -1.4zM166.7 812.7l-3.4 2.9 -10 -11.7 3.5 -2.9zM161.6 817.1l-10.1 8.9 -10.2 -11.9 10.3 -8.7zM580.8 445.3l-1.7 1.4 -3.6 -4.4 1.7 -1.4zM577.4 448.2l-5.2 4.3 -3.7 -4.5 5.2 -4.3zM565.3 458.3l-3.5 2.9 -3.8 -4.7 3.5 -2.9zM417.1 582.7l-1.8 1.4 -6 -7.3 1.8 -1.4zM379.1 614.5l-1.7 1.4 -6.5 -7.9 1.7 -1.4zM370.5 621.7l-5.1 4.3 -6.8 -8.1 5.3 -4.3zM172.3 788l-3.4 2.9 -9.6 -11.6 3.5 -2.8zM163.7 795.3l-3.5 2.9 -9.6 -11.8 3.4 -2.8zM149.9 806.8l-1.7 1.5 -9.9 -12 1.8 -1.4zM699.6 341.8l-1.7 1.4 -1.9 -2.3 1.8 -1.4zM570.2 446.6l-1.7 1.4 -3.7 -4.6 1.8 -1.4zM561.5 453.6l-1.8 1.5 -3.7 -4.8 1.7 -1.4zM537 473.5l-1.8 1.4 -4.1 -5.2 1.8 -1.4zM475.8 523l-1.8 1.4 -4.9 -6.2 1.7 -1.4zM377.9 602.3l-8.8 7.1 -6.4 -8.1 8.9 -6.9zM358.6 617.9l-3.5 2.8 -6.6 -8.3 3.6 -2.8zM203 743.9l-1.7 1.4 -8.8 -11 1.8 -1.4zM159.3 779.3l-3.5 2.8 -9.4 -11.8 3.5 -2.8zM148.8 787.8l-10.5 8.5 -9.6 -12.1 10.6 -8.3zM131.3 802l-1.7 1.4 -9.8 -12.3 1.8 -1.4zM552.4 453.1l-3.5 2.8 -3.8 -5 3.6 -2.7zM527.6 472.5l-1.8 1.4 -4.1 -5.4 1.8 -1.3zM470.8 516.8l-3.5 2.8 -4.9 -6.4 3.6 -2.7zM463.8 522.4l-1.8 1.3 -5 -6.4 1.8 -1.4zM419.4 557l-1.7 1.4 -5.6 -7.3 1.8 -1.3zM412.3 562.5l-1.7 1.4 -5.7 -7.3 1.8 -1.4zM366.2 598.5l-5.3 4.2 -6.3 -8.2 5.4 -4.1zM330.8 626.3l-1.8 1.3 -6.7 -8.7 1.8 -1.4zM272.3 672l-5.3 4.1 -7.6 -9.9 5.4 -4zM249.2 690l-1.8 1.4 -7.8 -10.3 1.8 -1.3zM245.7 692.7l-3.6 2.8 -7.9 -10.3 3.6 -2.7zM206.7 723.2l-1.8 1.4 -8.4 -11 1.8 -1.3zM196 731.5l-7.1 5.6 -8.6 -11.3 7.2 -5.4zM139.3 775.9l-1.8 1.3 -9.3 -12.1 1.8 -1.4zM126.9 785.6l-1.8 1.3 -9.5 -12.3 1.8 -1.4zM694.2 338.6l-1.8 1.3 -1.7 -2.4 1.8 -1.3zM685.2 345.3l-1.8 1.4 -1.8 -2.6 1.8 -1.3zM552.3 445.5l-5.4 4.1 -3.7 -5 5.5 -3.9zM543.3 452.3l-1.8 1.4 -3.7 -5.1 1.8 -1.3zM521.7 468.5l-1.8 1.4 -4 -5.4 1.8 -1.3zM469.6 507.8l-1.8 1.4 -4.7 -6.4 1.8 -1.3zM462.4 513.2l-1.8 1.4 -4.8 -6.5 1.9 -1.3zM435.5 533.5l-1.8 1.4 -5.2 -6.9 1.9 -1.4zM404.9 556.6l-3.6 2.7 -5.5 -7.5 3.6 -2.7zM365.4 586.4l-5.4 4 -6.1 -8.2 5.5 -4zM349.2 598.5l-1.8 1.4 -6.2 -8.5 1.8 -1.3zM333 610.7l-1.7 1.4 -6.5 -8.8 1.8 -1.3zM322.3 618.9l-1.8 1.3 -6.6 -8.9 1.8 -1.4zM246.8 675.7l-10.8 8.1 -7.7 -10.4 10.9 -7.9zM234.2 685.2l-1.8 1.4 -7.7 -10.5 1.8 -1.3zM126.4 766.4l-1.8 1.4 -9.2 -12.4 1.9 -1.3zM121 770.5l-3.6 2.7 -9.2 -12.5 3.6 -2.6zM683.4 342.8l-1.8 1.3 -1.9 -2.6 1.9 -1.3zM530.5 453.9l-1.8 1.3 -3.8 -5.3 1.8 -1.3zM517.7 463.2l-1.8 1.3 -3.9 -5.5 1.8 -1.3zM514.1 465.8l-1.8 1.3 -4 -5.5 1.8 -1.3zM463.1 502.8l-1.8 1.3 -4.6 -6.4 1.8 -1.3zM459.5 505.5l-3.7 2.6 -4.6 -6.5 3.7 -2.6zM446.7 514.7l-1.8 1.4 -4.8 -6.8 1.9 -1.3zM332.1 598l-5.5 4 -6.3 -8.8 5.5 -3.9zM308.4 615.2l-1.8 1.4 -6.6 -9.2 1.9 -1.3zM222.8 677.4l-9.1 6.6 -7.7 -10.8 9.3 -6.4zM206.5 689.3l-1.9 1.3 -7.8 -10.9 1.9 -1.3zM179.2 709.1l-3.7 2.7 -8.2 -11.5 3.7 -2.6zM173.7 713.1l-1.8 1.3 -8.3 -11.5 1.9 -1.3zM170.1 715.8l-1.9 1.3 -8.2 -11.6 1.8 -1.3zM117.3 754.1l-1.9 1.3 -8.9 -12.5 1.9 -1.3zM110 759.4l-1.8 1.3 -9.1 -12.6 1.9 -1.3zM685.2 337.7l-1.8 1.3 -1.8 -2.6 1.9 -1.3zM547 434.5l-1.8 1.2 -3.5 -4.9 1.9 -1.3zM539.6 439.6l-1.8 1.3 -3.5 -5.1 1.8 -1.3zM521.2 452.5l-1.8 1.3 -3.8 -5.4 1.9 -1.3zM504.6 464.1l-1.8 1.3 -4 -5.7 1.9 -1.3zM462.2 493.8l-3.7 2.6 -4.4 -6.5 3.7 -2.5zM298.2 608.7l-1.9 1.3 -6.4 -9.4 1.9 -1.2zM292.7 612.5l-9.3 6.5 -6.5 -9.6 9.3 -6.3zM222.6 661.6l-1.8 1.3 -7.4 -10.7 1.9 -1.3zM202.3 675.8l-1.8 1.3 -7.6 -11.1 1.9 -1.2zM511.9 450.9l-1.9 1.2 -3.7 -5.6 1.9 -1.2zM498.8 459.7l-1.8 1.3 -3.9 -5.9 1.9 -1.2zM463.4 483.6l-1.9 1.3 -4.2 -6.5 1.8 -1.2zM444.7 496.2l-3.7 2.5 -4.5 -6.8 3.8 -2.5zM273.1 611.9l-5.6 3.8 -6.5 -9.8 5.7 -3.7zM260.1 620.7l-5.6 3.8 -6.7 -10.1 5.7 -3.6zM248.9 628.3l-3.7 2.5 -6.8 -10.2 3.7 -2.5zM131.4 707.6l-1.9 1.2 -8.1 -12.3 1.9 -1.2zM127.6 710.1l-1.8 1.2 -8.2 -12.3 1.9 -1.2zM674.3 337.5l-1.9 1.2 -1.8 -2.7 1.9 -1.2zM532.7 429.4l-5.6 3.7 -3.4 -5.3 5.7 -3.6zM500.7 450.2l-3.8 2.5 -3.7 -5.9 3.8 -2.3zM468.6 471.1l-3.8 2.4 -4.1 -6.4 3.9 -2.4zM459.1 477.2l-1.8 1.2 -4.2 -6.5 1.9 -1.2zM440.3 489.4l-11.3 7.4 -4.5 -7 11.4 -7.2zM281.8 592.4l-3.8 2.4 -6.2 -9.6 3.8 -2.4zM272.3 598.5l-1.9 1.2 -6.2 -9.8 1.9 -1.2zM268.6 601l-1.9 1.2 -6.3 -9.9 1.9 -1.2zM244 616.9l-1.9 1.2 -6.5 -10.3 1.9 -1.2zM240.3 619.3l-1.9 1.3 -6.6 -10.4 1.9 -1.2zM234.6 623l-1.9 1.2 -6.7 -10.4 1.9 -1.2zM481.7 454l-3.8 2.4 -3.8 -6.2 3.9 -2.3zM462.6 465.9l-19 11.9 -4.2 -6.7 19.3 -11.6zM275.6 582.8l-9.5 5.9 -6 -9.8 9.6 -5.8zM212.7 622.1l-1.9 1.2 -6.7 -10.8 2 -1.2zM79.1 705.6l-1.9 1.2 -8.1 -13.2 1.9 -1.2zM483.8 444.4l-3.9 2.3 -3.6 -6.1 3.9 -2.2zM456.8 460.7l-2 1.1 -3.8 -6.5 1.9 -1.2zM445.2 467.6l-9.6 5.8 -4.1 -6.9 9.7 -5.6zM383.5 504.7l-1.9 1.1 -4.7 -7.8 2 -1.1zM235 593.9l-1.9 1.2 -6.2 -10.5 1.9 -1.1zM231.1 596.2l-1.9 1.2 -6.2 -10.5 1.9 -1.1zM480.2 438.4l-5.8 3.4 -3.6 -6.3 5.9 -3.2zM470.5 444l-7.8 4.5 -3.7 -6.4 7.9 -4.4zM452.9 454.1l-1.9 1.2 -3.8 -6.7 2 -1.1zM365.2 504.8l-1.9 1.1 -4.6 -8.2 1.9 -1.1zM357.4 509.3l-1.9 1.1 -4.7 -8.3 2 -1.1zM349.7 513.8l-2 1.1 -4.8 -8.5 2 -1.1zM336 521.6l-1.9 1.2 -4.9 -8.7 1.9 -1.1zM308.7 537.4l-11.7 6.7 -5.2 -9.3 11.8 -6.6zM234.7 580.1l-2 1.2 -5.9 -10.5 2 -1.1zM496.4 421.3l-3.9 2.2 -3.2 -5.9 4 -2.1zM480.7 430.1l-4 2.2 -3.3 -6.2 4 -2.1zM472.8 434.4l-3.9 2.2 -3.5 -6.3 4 -2.1zM464.9 438.8l-5.9 3.3 -3.5 -6.5 6 -3.2zM457.1 443.2l-2 1.1 -3.6 -6.6 2 -1.1zM402 473.7l-4 2.2 -4.1 -7.6 4 -2.1zM394.1 478.1l-5.9 3.2 -4.2 -7.7 6 -3.2zM346.9 504.3l-7.9 4.3 -4.7 -8.6 8 -4.2zM333.1 511.9l-2 1.1 -4.7 -8.8 2 -1zM307.5 526.1l-2 1.1 -4.9 -9.2 1.9 -1.1zM664.1 324.7l-2 1 -1.5 -2.9 2 -1zM660.1 326.8l-5.9 3.2 -1.6 -3.1 6 -3.1zM473.4 426.1l-6 3.1 -3.3 -6.3 6 -3.1zM459.5 433.5l-13.9 7.4 -3.5 -6.8 14 -7.1zM378 476.8l-3.9 2.1 -4.2 -8 4 -2zM338.3 497.9l-2 1.1 -4.5 -8.7 2 -1zM334.3 500l-3.9 2.1 -4.6 -8.7 4 -2.1zM326.4 504.2l-2 1.1 -4.6 -8.8 2 -1.1zM302.5 516.9l-1.9 1.1 -4.9 -9.3 2 -1zM294.6 521.1l-6 3.2 -4.9 -9.5 6 -3zM235 552.8l-2 1.1 -5.4 -10.5 2 -1zM99.9 624.7l-2 1 -6.7 -12.8 2.1 -1zM662.6 321.8l-8 4.1 -1.5 -3.1 8.1 -3.9zM472.2 418.8l-4.1 2.1 -3.1 -6.4 4 -1.9zM448.1 431.1l-8 4.1 -3.4 -6.9 8.1 -3.9zM438.1 436.2l-2 1 -3.5 -6.9 2.1 -1zM394 458.7l-4 2 -3.9 -7.7 4.1 -2zM369.9 470.9l-2 1 -4 -8 2 -1zM351.9 480.1l-2 1 -4.2 -8.4 2 -1zM343.8 484.2l-4 2 -4.2 -8.5 4 -2zM335.8 488.3l-2 1 -4.3 -8.7 2 -1zM329.8 491.3l-2 1.1 -4.4 -8.8 2.1 -1zM321.8 495.4l-2 1.1 -4.5 -9 2.1 -1zM311.8 500.5l-2 1.1 -4.6 -9.1 2.1 -1zM291.7 510.8l-2 1 -4.7 -9.5 2 -1zM249.6 532.2l-2 1 -5.1 -10.2 2.1 -0.9zM245.6 534.3l-4 2 -5.1 -10.3 4 -2zM235.6 539.4l-4 2 -5.2 -10.5 4 -1.9zM107.3 604.7l-2 1.1 -6.3 -12.7 2 -1zM469 412.6l-2 1 -3 -6.4 2 -0.9zM426.6 433.3l-2.1 1 -3.3 -7.1 2 -1zM392.2 450l-4.1 2 -3.6 -7.7 4 -1.9zM357.8 466.8l-2 1 -4 -8.3 2.1 -0.9zM347.7 471.7l-2 1 -4.1 -8.4 2.1 -1zM341.6 474.7l-2 1 -4.1 -8.6 2.1 -0.9zM287 501.3l-4 2 -4.6 -9.6 4.1 -1.9zM264.8 512.2l-2 1 -4.8 -10 2.1 -0.9zM139.4 573.3l-2 1 -5.8 -12.1 2 -0.9zM131.3 577.3l-4 2 -5.9 -12.3 4.1 -1.9zM455.8 411l-6.1 2.9 -3 -6.7 6.1 -2.7zM447.7 414.8l-6.1 2.9 -3.1 -6.8 6.1 -2.8zM429.3 423.4l-6.1 2.8 -3.2 -7.1 6.1 -2.7zM419.1 428.1l-2 1 -3.3 -7.2 2 -1zM394.7 439.5l-4.1 1.9 -3.5 -7.6 4.1 -1.9zM357.9 456.7l-2 0.9 -3.8 -8.3 2.1 -0.9zM343.7 463.3l-2.1 1 -3.9 -8.6 2.1 -0.9zM300.8 483.3l-8.1 3.8 -4.3 -9.4 8.2 -3.7zM286.6 489.9l-2.1 1 -4.3 -9.6 2 -0.9zM282.5 491.8l-4.1 1.9 -4.4 -9.6 4.1 -1.8zM270.3 497.5l-2.1 1 -4.5 -9.8 2.1 -0.9zM258 503.2l-2 1 -4.6 -10 2.1 -1zM253.9 505.2l-2 0.9 -4.6 -10.1 2.1 -0.9zM430.2 414.5l-4.1 1.9 -3 -7.1 4.1 -1.7zM420 419.1l-4.2 1.8 -3.1 -7.2 4.1 -1.8zM401.5 427.4l-2.1 0.9 -3.3 -7.6 2.1 -0.8zM389.1 432.8l-2 1 -3.4 -7.8 2.1 -0.9zM352.1 449.3l-10.2 4.6 -3.8 -8.5 10.4 -4.4zM323.4 462.1l-2.1 0.9 -3.9 -8.9 2.1 -0.8zM319.2 464l-4.1 1.8 -3.9 -9 4.2 -1.8zM304.9 470.4l-8.3 3.6 -4 -9.3 8.3 -3.5zM276.1 483.2l-4.1 1.8 -4.3 -9.8 4.2 -1.7zM429.3 406.7l-2.1 0.9 -2.9 -7.1 2.1 -0.8zM418.9 411.1l-10.3 4.4 -3.1 -7.4 10.4 -4.2zM396.1 420.7l-2 0.9 -3.2 -7.6 2.1 -0.8zM389.9 423.4l-4.1 1.7 -3.2 -7.7 4.1 -1.7zM342.3 443.6l-4.2 1.8 -3.5 -8.6 4.2 -1.7zM336.1 446.2l-8.3 3.6 -3.7 -8.8 8.4 -3.4zM298.8 462.1l-2.1 0.8 -3.8 -9.3 2 -0.8zM280.1 470l-10.3 4.4 -4.1 -9.8 10.5 -4.2zM265.7 476.1l-6.3 2.7 -4.1 -10 6.3 -2.5zM415.9 403.9l-2 0.8 -2.9 -7.2 2.1 -0.8zM409.7 406.4l-6.3 2.5 -2.9 -7.4 6.3 -2.4zM399.3 410.6l-2.1 0.9 -3 -7.6 2.1 -0.8zM395.1 412.3l-2.1 0.9 -3 -7.7 2.1 -0.8zM390.9 414l-2.1 0.8 -3 -7.7 2.1 -0.8zM324.1 441l-4.1 1.7 -3.5 -9 4.2 -1.6zM317.9 443.5l-8.4 3.4 -3.5 -9.1 8.4 -3.2zM303.3 449.4l-2.1 0.8 -3.6 -9.2 2.1 -0.8zM269.9 462.9l-8.3 3.4 -4 -10 8.5 -3.2zM417.3 395l-10.5 4.1 -2.8 -7.4 10.6 -3.9zM308.1 437l-6.3 2.4 -3.5 -9.2 6.4 -2.4zM276.6 449.1l-4.2 1.6 -3.7 -9.8 4.2 -1.5zM266.1 453.1l-2.1 0.8 -3.7 -9.9 2.1 -0.8zM259.7 455.5l-2.1 0.8 -3.7 -10 2.1 -0.8zM255.5 457.1l-6.3 2.4 -3.7 -10.1 6.3 -2.3zM414.6 387.8l-2.1 0.8 -2.6 -7.3 2.1 -0.7zM391.3 396.3l-4.2 1.5 -2.7 -7.7 4.2 -1.5zM390.8 387.9l-4.3 1.5 -2.6 -7.8 4.3 -1.4zM278 426.7l-4.3 1.5 -3.2 -9.7 4.3 -1.4zM287.6 412.9l-2.1 0.7 -3 -9.5 2.1 -0.7zM279.1 415.7l-2.2 0.7 -3 -9.7 2.1 -0.6zM252.3 413.3l-4.3 1.3 -3 -10.2 4.4 -1.2zM322.5 363.3l-2.2 0.5 -2.1 -8.9 2.2 -0.5zM333.5 351.4l-2.2 0.5 -1.9 -8.7 2.2 -0.5zM316.2 346l-2.2 0.5 -1.8 -9 2.2 -0.5zM311.8 346.9l-2.2 0.5 -1.8 -9.1 2.2 -0.4zM303 348.8l-2.2 0.5 -1.9 -9.3 2.2 -0.4zM296.4 350.2l-6.6 1.4 -1.9 -9.4 6.6 -1.3zM380.6 324.2l-2.2 0.4 -1.4 -7.9 2.2 -0.4zM376.2 325l-2.2 0.4 -1.5 -7.9 2.3 -0.4zM323.2 335.3l-6.6 1.3 -1.7 -9 6.7 -1.1zM312.2 337.5l-4.4 0.8 -1.7 -9.1 4.4 -0.8zM298.9 340l-4.4 0.9 -1.7 -9.3 4.4 -0.8zM392.5 314l-8.9 1.5 -1.3 -7.8 8.9 -1.4zM374.8 317.1l-2.3 0.4 -1.3 -8 2.2 -0.3zM363.7 319l-2.2 0.4 -1.4 -8.1 2.2 -0.4zM373.4 309.2l-13.3 2.1 -1.2 -8.2 13.3 -1.9zM287.6 313.1l-2.3 0.3 -1.2 -9.5 2.2 -0.3zM80.2 263.1l-2.2 0.1 -0.4 -13.1 2.3 0zM358.8 245.2l-2.2 0 -0.1 -8.2 2.3 0zM354.3 245.3l-2.2 0 -0.1 -8.3 2.2 0zM257.5 237l-4.5 0 0.1 -10.1 4.5 0.1zM88.8 237l-9 0 0.1 -13.1 9 0.2zM75.2 237l-4.4 0 0.1 -13.2 4.5 0zM68.5 237l-2.3 0 0.2 -13.3 2.2 0zM100.1 224.3l-2.2 -0.1 0.3 -12.7 2.2 0.1zM68.6 223.7l-2.2 0 0.3 -13.3 2.3 0.1zM183.6 214.5l-2.2 -0.1 0.5 -11.3 2.2 0.1zM107.2 211.8l-9 -0.3 0.6 -12.8 8.9 0.5zM96.5 198.6l-6.7 -0.3 0.8 -12.9 6.7 0.4zM117.5 187.2l-2.3 -0.1 1 -12.5 2.3 0.2zM110.8 186.8l-2.3 -0.2 1 -12.5 2.2 0.1zM104 186.3l-2.2 -0.2 1 -12.6 2.2 0.2zM92.8 185.5l-2.2 -0.1 1 -12.9 2.2 0.2zM147.6 177.4l-6.7 -0.6 1.1 -12 6.7 0.7zM114 174.4l-2.3 -0.2 1.2 -12.5 2.3 0.3zM96 172.9l-2.2 -0.2 1.2 -12.8 2.3 0.2zM112.9 161.7l-2.2 -0.2 1.4 -12.5 2.3 0.3zM125.5 150.6l-17.8 -2.2 1.6 -12.5 17.8 2.5zM129.4 138.7l-8.9 -1.3 1.8 -12.3 8.9 1.4zM109.3 135.9l-2.2 -0.4 1.9 -12.5 2.2 0.3zM100.4 134.6l-2.2 -0.3 1.9 -12.7 2.2 0.3zM137.9 127.5l-8.9 -1.4 2 -12.2 8.9 1.6zM120.1 124.7l-2.2 -0.3 2 -12.4 2.3 0.4zM106.8 122.6l-2.3 -0.3 2.1 -12.7 2.3 0.4zM131 113.9l-2.2 -0.4 2.3 -12.2 2.2 0.5zM106.6 109.6l-2.2 -0.4 2.4 -12.6 2.2 0.4zM111.2 97.5l-6.6 -1.3 2.5 -12.6 6.6 1.4zM148.9 92.4l-6.6 -1.4 2.7 -11.9 6.6 1.5zM131.3 88.7l-8.8 -1.9 2.8 -12.3 8.7 2.1zM104.9 83.1l-2.2 -0.5 2.8 -12.6 2.2 0.5zM151.6 80.6l-2.2 -0.5 2.8 -11.8 2.2 0.5zM138.4 77.6l-8.8 -2.1 3 -12.1 8.7 2.1zM127.5 75l-2.2 -0.5 2.9 -12.2 2.2 0.5zM123.1 74l-6.6 -1.5 3 -12.4 6.5 1.6zM103.3 69.5l-2.2 -0.5 3.1 -12.7 2.2 0.5zM95.5 54.1l-2.2 -0.5 3.3 -12.8 2.2 0.5zM100.9 41.9l-2.1 -0.6 3.5 -12.7 2.1 0.6z"/><path fill="#66C2DC" stroke="#66C2DC" d="M1013.9 841.6l1.9 6.5 -10.7 3.1 -1.8 -6.4zM1016.5 850.2l0.6 2.2 -10.7 3.2 -0.6 -2.2zM1005.8 853.4l1.2 4.3 -10.9 3 -1.1 -4.3zM1012 875l0.6 2.2 -11.2 3.1 -0.6 -2.2zM996.7 862.9l2.9 10.9 -11.1 2.9 -2.7 -10.9zM1007.2 902l3.5 13.1 -11.9 3 -3.2 -13.1zM1012.4 921.6l1.2 4.3 -12 3.2 -1.1 -4.4zM979.8 841.7l1.6 6.6 -10.7 2.6 -1.5 -6.6zM982 850.5l0.5 2.2 -10.8 2.5 -0.5 -2.2zM983.6 857l0.5 2.2 -10.9 2.6 -0.5 -2.2zM969.7 846.5l4.1 17.5 -11 2.4 -3.8 -17.6zM976.3 875l0.5 2.2 -11.2 2.4 -0.5 -2.2zM983.9 907.9l1.5 6.5 -11.8 2.7 -1.5 -6.6zM910.4 619.9l0.5 2.2 -6.8 1.4 -0.4 -2.2zM962.8 866.4l0.5 2.2 -11.1 2.3 -0.4 -2.2zM948.4 851l0.4 2.2 -10.8 2 -0.4 -2.2zM950.1 859.8l0.4 2.3 -10.9 2 -0.4 -2.2zM952.2 870.9l0.4 2.2 -11.1 2.1 -0.4 -2.3zM954.4 881.9l2.1 11.1 -11.5 2.1 -1.9 -11.1zM957.8 899.6l0.4 2.2 -11.6 2.2 -0.4 -2.3zM959.5 908.4l1.3 6.7 -11.9 2.2 -1.1 -6.7zM963.4 928.3l0.8 4.4 -12.1 2.3 -0.8 -4.4zM937.2 850.8l0.4 2.2 -10.8 1.8 -0.3 -2.2zM938 855.2l0.8 4.4 -10.9 1.9 -0.7 -4.5zM940 866.3l0.7 4.4 -11 1.9 -0.7 -4.5zM952.9 939.4l0.3 2.2 -12.3 2.1 -0.3 -2.2zM927.9 861.5l2.8 17.7 -11.2 1.7 -2.5 -17.8zM944.1 963.7l0.7 4.4 -12.8 1.9 -0.6 -4.4zM945.9 974.8l0.7 4.4 -13 2 -0.6 -4.5zM949.4 997l0.3 2.2 -13.3 2 -0.3 -2.2zM950.1 1001.5l0.3 2.2 -13.4 2 -0.3 -2.2zM951.1 1008.1l1.1 6.7 -13.6 2 -0.9 -6.6zM953.2 1021.5l0.4 2.2 -13.7 2 -0.4 -2.2zM932.3 972.3l0.7 4.4 -13 1.7 -0.5 -4.4zM933.6 981.2l0.3 2.2 -13 1.7 -0.3 -2.2zM935.5 994.6l0.3 2.2 -13.3 1.7 -0.3 -2.2zM872.6 592.1l0.3 2.2 -6.3 0.7 -0.2 -2.2zM873.1 596.5l0.3 2.3 -6.3 0.7 -0.2 -2.2zM920.9 985.1l0.5 4.5 -13.1 1.5 -0.5 -4.5zM922.2 996.3l0.3 2.2 -13.3 1.5 -0.2 -2.2zM862.9 559.2l0.7 6.7 -5.8 0.6 -0.6 -6.7zM865.7 586.1l0.9 8.9 -6.2 0.6 -0.8 -8.9zM901.4 926.2l0.3 2.2 -12.1 1.2 -0.2 -2.2zM902.6 937.4l0.2 2.2 -12.2 1.2 -0.2 -2.2zM907.6 984.4l0.4 4.5 -13.1 1.2 -0.4 -4.5zM857.2 559.8l0.4 4.4 -5.7 0.5 -0.3 -4.5zM858.4 573.2l0.2 2.3 -5.9 0.4 -0.2 -2.2zM859.4 584.4l0.6 6.7 -6.2 0.5 -0.5 -6.7zM860.2 593.4l0.2 2.2 -6.3 0.5 -0.1 -2.2zM861.9 613.6l0.2 2.2 -6.6 0.5 -0.1 -2.2zM851.3 555.7l0.1 2.3 -5.6 0.3 -0.1 -2.2zM853.5 587.1l0.5 6.8 -6.3 0.4 -0.3 -6.8zM855.4 614.1l0.1 2.2 -6.6 0.4 -0.1 -2.2zM860.4 685.9l0.1 2.2 -7.8 0.5 -0.1 -2.2zM847.1 583l0.4 6.8 -6.2 0.2 -0.2 -6.7zM848.2 603.2l0.1 2.3 -6.4 0.3 -0.1 -2.3zM867.9 978.5l0.1 2.2 -13 0.6 -0.1 -2.3zM839.9 549.6l0.1 2.2 -5.5 0.2 0 -2.3zM840.2 556.3l0 2.3 -5.6 0.1 0 -2.2zM840.4 563.1l0.1 2.2 -5.8 0.1 0 -2.2zM841.2 587.8l0.2 4.5 -6.2 0.1 -0.1 -4.5zM841.6 596.8l0 2.2 -6.3 0.2 0 -2.3zM842 610.3l0.2 4.5 -6.6 0.1 -0.1 -4.5zM842.3 617l0 2.3 -6.6 0.1 -0.1 -2.2zM834.6 556.5l0 2.2 -5.6 0.1 0 -2.3zM834.7 563.2l0 2.2 -5.7 0.1 0 -2.3zM835.1 587.9l0.1 2.3 -6.2 0 0 -2.2zM835.2 594.7l0.2 9 -6.4 0.1 0 -9zM841.8 968.1l0.1 6.8 -12.9 0.1 0 -6.8zM842 983.9l0.1 2.2 -13.1 0.1 0 -2.2zM829 554.2l0 2.3 -5.6 0 0.1 -2.3zM829 565.5l0 2.3 -5.8 -0.1 0.1 -2.3zM829 576.8l0 11.2 -6.1 -0.1 0.2 -11.2zM829 594.8l0 2.2 -6.3 -0.1 0.1 -2.2zM829 916.5l0 6.7 -12 -0.1 0.1 -6.7zM829 936.8l0 2.2 -12.3 -0.1 0.1 -2.3zM829 970.5l0 4.5 -12.9 -0.1 0.1 -4.5zM829 981.8l0 9 -13.2 -0.2 0.2 -9zM823.5 554.2l-0.4 22.5 -6 -0.2 0.8 -22.4zM822.9 587.9l-0.1 2.3 -6.1 -0.2 0.1 -2.2zM822.8 592.4l0 2.3 -6.3 -0.2 0.1 -2.2zM821.2 684.7l-0.1 2.2 -7.8 -0.2 0.1 -2.2zM817.1 918.6l-0.1 4.5 -11.9 -0.3 0.1 -4.5zM816.9 932.1l-0.2 9 -12.3 -0.3 0.3 -9zM815.8 995.1l-0.1 4.5 -13.3 -0.3 0.1 -4.5zM817.4 569.8l-0.1 2.2 -5.8 -0.2 0.1 -2.3zM817.1 576.5l0 2.3 -6 -0.3 0.1 -2.2zM801.9 1012.8l-0.1 2.2 -13.5 -0.6 0.1 -2.2zM801.6 1021.8l-0.3 9 -13.9 -0.6 0.5 -9zM801.2 1033l-0.5 13.5 -14.1 -0.6 0.7 -13.5zM812.2 558.3l-0.6 11.2 -5.8 -0.3 0.8 -11.2zM808.3 533.3l-0.2 2.2 -5.2 -0.4 0.2 -2.2zM784 603.2l-0.2 2.3 -6.5 -0.9 0.3 -2.2zM780.7 630l-0.2 2.3 -6.9 -0.9 0.3 -2.3zM778.9 593.5l-1.6 11.1 -6.4 -0.9 1.8 -11.1zM772 597l-1.1 6.7 -6.4 -1.1 1.2 -6.6zM765.3 598.2l-0.8 4.4 -6.3 -1.2 0.8 -4.4zM760.3 590.4l-1.3 6.6 -6.3 -1.3 1.5 -6.6zM704.3 736.9l-0.5 2.2 -8.7 -2.2 0.5 -2.2zM717.8 652.1l-0.6 2.2 -7.3 -2 0.6 -2.2zM716 658.6l-1.7 6.5 -7.5 -2 1.9 -6.5zM699.7 719.5l-0.6 2.2 -8.4 -2.4 0.6 -2.1zM695.1 736.9l-0.6 2.1 -8.8 -2.4 0.7 -2.1zM708.7 656.6l-1.3 4.3 -7.3 -2.2 1.3 -4.3zM701.9 680.4l-1.3 4.3 -7.8 -2.3 1.3 -4.3zM691.9 715l-0.6 2.2 -8.3 -2.5 0.6 -2.2zM685.7 736.6l-1.2 4.3 -8.8 -2.6 1.3 -4.3zM700.7 656.6l-2.6 8.6 -7.5 -2.4 2.8 -8.5zM675.1 740.5l-0.7 2.1 -8.8 -2.7 0.7 -2.2zM663.4 717.8l-2.1 6.4 -8.5 -3 2.3 -6.4zM695.1 604.9l-0.8 2.1 -6.4 -2.4 0.8 -2.1zM671.8 646.6l-4.1 10.5 -7.3 -2.9 4.2 -10.4zM570.2 911.3l-0.8 2.1 -11.8 -4.7 0.8 -2zM544.4 978.5l-0.8 2.1 -13 -5.1 0.9 -2.1zM679.8 606.3l-0.8 2 -6.5 -2.6 0.9 -2.1zM661.3 652.1l-0.9 2.1 -7.2 -3 0.9 -2zM529.8 977.6l-2.5 6.2 -13 -5.3 2.6 -6.2zM495.2 1063.1l-2.5 6.3 -14.5 -6 2.7 -6.2zM658.4 638.8l-0.8 2.1 -7.1 -3.1 1 -2zM655.8 645l-0.9 2.1 -7.1 -3.1 0.9 -2.1zM654.1 649.2l-0.9 2 -7.2 -3.1 0.9 -2.1zM517.8 970.2l-0.9 2.1 -12.8 -5.6 0.9 -2.1zM515.1 976.4l-0.8 2.1 -12.9 -5.6 0.9 -2.1zM512.5 982.6l-0.9 2.1 -13 -5.7 0.9 -2zM716.4 489.8l-0.9 2.1 -4.4 -2 0.9 -2.1zM714.6 493.9l-0.9 2.1 -4.5 -2.1 0.9 -2zM507.8 958.5l-2.8 6.1 -12.6 -5.7 2.8 -6.1zM502.3 970.8l-1.8 4.1 -12.9 -5.8 1.9 -4.1zM713 485.8l-1 2 -4.3 -2.1 1 -2zM489.5 965l-0.9 2 -12.7 -6 1 -2zM486.7 971.1l-1 2 -12.8 -6.1 1 -2zM481.9 981.3l-0.9 2 -13 -6.1 1 -2.1zM708.7 483.7l-1 2 -4.3 -2.1 1 -2zM703.7 493.8l-1 2.1 -4.4 -2.3 1 -2zM466 981.2l-2.9 6.1 -13.1 -6.5 3.1 -6zM698.3 493.6l-1.1 2 -4.5 -2.3 1.1 -2zM455.1 970.7l-1 2 -12.8 -6.6 1.1 -2zM445.9 988.8l-1 2 -13.1 -6.8 1.1 -2zM693.8 491.3l-1.1 2 -4.4 -2.4 1.1 -2zM631.5 608.5l-2.1 4 -6.6 -3.6 2.2 -3.9zM628.3 614.5l-1.1 1.9 -6.5 -3.5 1 -2zM691.6 485l-2.2 3.9 -4.4 -2.5 2.2 -3.9zM639.2 579.4l-1.1 2 -6 -3.4 1.1 -2zM629.4 597.1l-1.1 2 -6.3 -3.6 1.1 -1.9zM621.7 610.9l-3.2 5.9 -6.6 -3.7 3.3 -5.9zM616.3 620.7l-1.1 2 -6.7 -3.8 1.1 -1.9zM404.7 1002.5l-1.1 2 -13.4 -7.6 1.2 -1.9zM400.3 1010.4l-1.1 2 -13.5 -7.7 1.2 -1.9zM635.5 572.2l-1.1 1.9 -5.9 -3.4 1.2 -2zM619.8 599.4l-1.2 2 -6.3 -3.7 1.2 -2zM615.2 607.2l-1.1 2 -6.4 -3.8 1.1 -2zM613 611.1l-1.1 2 -6.6 -3.9 1.2 -1.9zM629.7 568.7l-1.2 2 -5.8 -3.6 1.2 -1.9zM615.8 591.9l-1.2 1.9 -6.2 -3.8 1.2 -1.9zM612.3 597.7l-1.2 1.9 -6.3 -3.9 1.2 -1.9zM605.3 609.2l-1.1 2 -6.5 -4 1.2 -1.9zM443.1 879.2l-1.2 2 -11.1 -6.9 1.2 -1.9zM439.6 885l-1.1 1.9 -11.3 -6.9 1.2 -1.9zM620.3 570.9l-1.1 1.9 -5.9 -3.7 1.2 -1.9zM598.9 605.3l-1.2 1.9 -6.4 -4.1 1.2 -1.9zM355.6 994.5l-1.1 1.9 -13.2 -8.4 1.2 -1.9zM599.8 589.9l-1.2 1.9 -6.1 -4.1 1.2 -1.9zM597.4 593.6l-2.5 3.8 -6.2 -4.1 2.5 -3.8zM593.7 599.3l-1.2 1.9 -6.3 -4.2 1.2 -1.9zM577.8 623.8l-1.2 1.9 -6.8 -4.4 1.3 -1.9zM346.2 980.5l-1.2 1.9 -13 -8.6 1.3 -1.9zM343.7 984.3l-2.4 3.7 -13.1 -8.6 2.6 -3.7zM337.6 993.7l-1.2 1.9 -13.2 -8.7 1.3 -1.9zM569.6 607.5l-1.3 1.8 -6.4 -4.6 1.3 -1.8zM303.7 987.1l-1.2 1.9 -13.1 -9.3 1.3 -1.8zM642.5 493.7l-1.3 1.8 -4.5 -3.3 1.4 -1.8zM637.2 500.9l-1.3 1.9 -4.6 -3.4 1.4 -1.8zM614.8 531.9l-2.7 3.6 -5.2 -3.8 2.7 -3.6zM573.8 588.3l-4 5.5 -6.2 -4.6 4.1 -5.4zM557.9 610.2l-2.7 3.6 -6.5 -4.8 2.7 -3.6zM268.3 1008.8l-1.4 1.8 -13.4 -9.9 1.4 -1.8zM261.6 1017.9l-1.3 1.8 -13.6 -10 1.4 -1.8zM251.1 1032.5l-4 5.4 -13.9 -10.3 4.1 -5.3zM243.1 1043.4l-1.3 1.8 -14 -10.4 1.3 -1.8zM236.5 1052.5l-2.6 3.6 -14.2 -10.5 2.7 -3.6zM629.9 501.1l-1.3 1.8 -4.6 -3.5 1.4 -1.8zM559.5 594.6l-5.4 7.2 -6.3 -4.9 5.5 -7.1zM552.8 603.6l-1.4 1.8 -6.4 -4.9 1.4 -1.8zM252.2 1002.5l-6.8 9 -13.4 -10.3 6.9 -8.9zM244 1013.3l-2.7 3.6 -13.5 -10.4 2.8 -3.6zM630.9 490.5l-1.4 1.8 -4.4 -3.5 1.4 -1.8zM624 499.4l-1.4 1.8 -4.6 -3.7 1.4 -1.7zM611.5 515.4l-2.8 3.5 -4.8 -3.9 2.8 -3.5zM606 522.5l-1.4 1.7 -5 -3.9 1.4 -1.8zM601.8 527.8l-1.4 1.7 -5 -4 1.4 -1.7zM593.5 538.4l-2.8 3.6 -5.2 -4.2 2.8 -3.5zM468.8 698l-2.7 3.5 -8.1 -6.4 2.8 -3.5zM464.7 703.3l-2.8 3.6 -8.1 -6.5 2.8 -3.5zM232 1001.2l-2.8 3.5 -13.3 -10.6 2.8 -3.5zM177.9 1070.3l-1.3 1.8 -14.5 -11.5 1.4 -1.8zM619.4 495.8l-2.8 3.5 -4.5 -3.8 2.9 -3.4zM609.5 508l-4.2 5.3 -4.8 -4 4.3 -5.1zM593.9 527.3l-1.4 1.7 -5 -4.2 1.4 -1.7zM533.1 602.5l-1.5 1.7 -6.3 -5.2 1.4 -1.8zM459.4 693.4l-1.4 1.7 -7.9 -6.5 1.4 -1.7zM214.5 995.9l-4.3 5.2 -13.2 -10.9 4.3 -5.2zM208.8 1002.9l-4.2 5.2 -13.4 -11 4.3 -5.2zM172 1048.3l-1.4 1.8 -14.1 -11.6 1.4 -1.7zM169.2 1051.8l-1.5 1.8 -14.1 -11.7 1.4 -1.7zM166.3 1055.3l-2.8 3.5 -14.2 -11.7 2.8 -3.5zM159.2 1064.1l-1.4 1.7 -14.3 -11.8 1.4 -1.7zM156.4 1067.6l-1.4 1.7 -14.4 -11.9 1.4 -1.7zM616.4 490.4l-1.4 1.7 -4.5 -3.8 1.5 -1.7zM613.5 493.8l-4.3 5.2 -4.6 -3.9 4.5 -5.1zM607.7 500.7l-2.9 3.5 -4.6 -4 3 -3.4zM603.4 505.9l-2.9 3.4 -4.7 -4 2.9 -3.4zM599 511.1l-5.7 6.8 -4.9 -4.1 5.9 -6.8zM588.9 523.1l-4.3 5.2 -5.1 -4.3 4.5 -5.1zM571.6 543.8l-1.5 1.7 -5.3 -4.5 1.4 -1.7zM386.4 764.4l-1.4 1.7 -9.2 -7.8 1.5 -1.7zM383.5 767.9l-1.4 1.7 -9.2 -7.9 1.5 -1.7zM369.1 785.1l-2.9 3.5 -9.6 -8.2 3 -3.4zM168.1 1024.7l-5.8 6.9 -13.8 -11.8 5.9 -6.8zM152.1 1043.6l-1.4 1.8 -14 -12 1.5 -1.7zM147.8 1048.8l-1.4 1.7 -14.1 -12 1.4 -1.7zM142 1055.7l-2.9 3.5 -14.2 -12.2 2.9 -3.4zM609.1 490l-1.5 1.7 -4.4 -3.9 1.5 -1.7zM594.3 507l-1.5 1.7 -4.7 -4.2 1.5 -1.6zM588.4 513.8l-4.4 5.1 -4.9 -4.3 4.5 -5.1zM582.5 520.6l-4.4 5.1 -5 -4.4 4.5 -5.1zM132.3 1038.5l-3 3.4 -13.9 -12.3 3 -3.4zM119 1053.8l-1.5 1.7 -14.2 -12.6 1.5 -1.6zM604.7 486.1l-1.5 1.7 -4.4 -4 1.6 -1.6zM588.1 504.5l-4.5 5 -4.7 -4.3 4.6 -4.9zM574.6 519.6l-3 3.3 -5 -4.5 3.1 -3.3zM561 534.6l-1.5 1.7 -5.2 -4.7 1.6 -1.7zM555 541.3l-1.5 1.7 -5.3 -4.9 1.5 -1.6zM600.4 482.2l-1.6 1.6 -4.2 -4 1.5 -1.6zM583.5 500.3l-4.6 4.9 -4.7 -4.4 4.7 -4.8zM572.7 511.8l-1.5 1.7 -4.8 -4.6 1.6 -1.6zM563.5 521.7l-1.5 1.6 -5 -4.7 1.6 -1.6zM551.3 534.8l-4.6 5 -5.3 -5 4.7 -4.8zM434.6 659.9l-1.5 1.7 -7.3 -7 1.5 -1.6zM423.9 671.4l-1.5 1.7 -7.6 -7.2 1.6 -1.6zM543 533.2l-4.7 4.8 -5.2 -5.1 4.7 -4.7zM579.2 486.8l-1.6 1.6 -4.3 -4.4 1.6 -1.6zM405.8 660.2l-1.6 1.6 -7.3 -7.5 1.6 -1.5zM574.9 482.4l-1.6 1.6 -4.3 -4.5 1.6 -1.6zM545.8 510.5l-1.7 1.6 -4.7 -5 1.6 -1.6zM252.8 793.4l-1.6 1.6 -9.7 -10.2 1.7 -1.5zM249.6 796.5l-1.6 1.6 -9.8 -10.2 1.7 -1.6zM597 453.4l-3.3 3 -3.8 -4.1 3.3 -3zM578.9 470.2l-1.7 1.6 -4 -4.5 1.6 -1.5zM531.2 514.7l-1.7 1.6 -4.8 -5.3 1.7 -1.5zM574.8 465.8l-1.6 1.5 -4 -4.5 1.7 -1.4zM558.1 480.9l-1.6 1.5 -4.3 -4.8 1.7 -1.5zM427.7 598.3l-1.7 1.5 -6.2 -7.1 1.7 -1.4zM567.5 464.3l-1.7 1.5 -4 -4.6 1.8 -1.5zM552.2 477.6l-1.7 1.5 -4.2 -4.9 1.8 -1.5zM178.6 802.4l-1.7 1.4 -9.8 -11.4 1.8 -1.5zM163.3 815.6l-1.7 1.5 -10 -11.7 1.7 -1.5zM542.9 477.1l-1.7 1.4 -4.2 -5 1.7 -1.4zM168.9 790.9l-5.2 4.4 -9.7 -11.7 5.3 -4.3zM160.2 798.2l-1.7 1.4 -9.7 -11.8 1.8 -1.4zM151.6 805.4l-1.7 1.4 -9.8 -11.9 1.7 -1.4zM697.9 343.2l-1.8 1.4 -1.8 -2.3 1.7 -1.4zM694.4 346l-1.8 1.4 -1.9 -2.4 1.8 -1.3zM575.5 442.3l-5.3 4.3 -3.6 -4.6 5.3 -4.1zM559.7 455.1l-3.5 2.8 -3.8 -4.8 3.6 -2.8zM538.7 472.1l-1.7 1.4 -4.1 -5.2 1.8 -1.4zM363.9 613.6l-5.3 4.3 -6.5 -8.3 5.3 -4.1zM155.8 782.1l-7 5.7 -9.5 -11.9 7.1 -5.6zM696 340.9l-1.7 1.4 -1.9 -2.4 1.8 -1.3zM688.9 346.4l-1.7 1.4 -2 -2.5 1.8 -1.3zM548.9 455.9l-1.8 1.4 -3.8 -5 1.8 -1.4zM531.1 469.7l-3.5 2.8 -4.1 -5.3 3.6 -2.7zM467.3 519.6l-3.5 2.8 -5 -6.5 3.6 -2.7zM414.1 561.1l-1.8 1.4 -5.6 -7.3 1.8 -1.3zM373.3 593l-1.7 1.4 -6.2 -8 1.8 -1.4zM369.8 595.8l-3.6 2.7 -6.2 -8.1 3.6 -2.7zM329 627.6l-1.8 1.4 -6.7 -8.8 1.8 -1.3zM242.1 695.5l-1.7 1.4 -8 -10.3 1.8 -1.4zM197.8 730.1l-1.8 1.4 -8.5 -11.1 1.8 -1.3zM188.9 737.1l-1.7 1.4 -8.7 -11.3 1.8 -1.4zM178.3 745.4l-1.8 1.4 -8.8 -11.5 1.8 -1.4zM137.5 777.2l-1.8 1.4 -9.3 -12.2 1.8 -1.3zM134 780l-1.8 1.4 -9.4 -12.2 1.8 -1.4zM525.3 465.8l-3.6 2.7 -4 -5.3 3.7 -2.7zM467.8 509.2l-5.4 4 -4.7 -6.4 5.4 -4zM410.3 552.5l-5.4 4.1 -5.5 -7.5 5.5 -4zM347.4 599.9l-10.8 8.1 -6.4 -8.6 11 -8zM334.8 609.4l-1.8 1.3 -6.4 -8.7 1.8 -1.3zM315.1 624.3l-1.8 1.3 -6.7 -9 1.8 -1.4zM236 683.8l-1.8 1.4 -7.7 -10.4 1.8 -1.4zM124.6 767.8l-3.6 2.7 -9.2 -12.4 3.6 -2.7zM690.7 337.5l-1.9 1.3 -1.7 -2.4 1.8 -1.3zM519.6 461.8l-1.9 1.4 -3.9 -5.5 1.9 -1.3zM461.3 504.1l-1.8 1.4 -4.6 -6.5 1.8 -1.3zM306.6 616.6l-7.3 5.3 -6.6 -9.4 7.3 -5.1zM213.7 684l-7.2 5.3 -7.8 -10.9 7.3 -5.2zM175.5 711.8l-1.8 1.3 -8.2 -11.5 1.8 -1.3zM171.9 714.4l-1.8 1.4 -8.3 -11.6 1.8 -1.3zM115.4 755.4l-1.8 1.3 -8.9 -12.5 1.8 -1.3zM111.8 758.1l-1.8 1.3 -9 -12.6 1.8 -1.3zM458.5 496.4l-9.2 6.5 -4.6 -6.7 9.4 -6.3zM296.3 610l-3.6 2.5 -6.5 -9.4 3.7 -2.5zM543.6 429.5l-1.9 1.3 -3.3 -5.1 1.9 -1.2zM502.6 457.2l-3.8 2.5 -3.8 -5.8 3.8 -2.4zM461.5 484.9l-16.8 11.3 -4.4 -6.8 17 -11zM129.5 708.8l-1.9 1.3 -8.1 -12.3 1.9 -1.3zM676.2 336.3l-1.9 1.2 -1.8 -2.7 1.9 -1.2zM464.8 473.5l-5.7 3.7 -4.1 -6.5 5.7 -3.6zM457.3 478.4l-1.9 1.2 -4.2 -6.5 1.9 -1.2zM270.4 599.7l-1.8 1.3 -6.3 -9.9 1.9 -1.2zM266.7 602.2l-1.9 1.2 -6.3 -9.9 1.9 -1.2zM242.1 618.1l-1.8 1.2 -6.6 -10.3 1.9 -1.2zM529.4 424.2l-3.8 2.4 -3.3 -5.3 3.9 -2.4zM477.9 456.4l-1.9 1.2 -3.8 -6.2 1.9 -1.2zM464.6 464.7l-2 1.2 -3.9 -6.4 1.9 -1.2zM413 496.9l-1.9 1.2 -4.5 -7.3 2 -1.2zM210.8 623.3l-3.8 2.4 -6.7 -10.9 3.8 -2.3zM479.9 446.7l-7.7 4.7 -3.7 -6.3 7.8 -4.5zM458.7 459.5l-1.9 1.2 -3.9 -6.6 2 -1.1zM385.4 503.5l-1.9 1.2 -4.6 -7.8 1.9 -1.1zM292.8 559.2l-1.9 1.1 -5.5 -9.4 1.9 -1.1zM474.4 441.8l-3.9 2.2 -3.6 -6.3 3.9 -2.2zM462.7 448.5l-5.9 3.4 -3.7 -6.6 5.9 -3.2zM454.9 453l-2 1.1 -3.7 -6.6 2 -1.1zM439.3 462l-3.9 2.3 -3.9 -7 3.9 -2.1zM429.5 467.6l-3.9 2.3 -4 -7.1 4 -2.2zM371.1 501.4l-5.9 3.4 -4.6 -8.2 5.9 -3.3zM355.5 510.4l-5.8 3.4 -4.8 -8.5 5.9 -3.2zM347.7 514.9l-1.9 1.1 -4.8 -8.5 1.9 -1.1zM297 544.1l-1.9 1.2 -5.3 -9.4 2 -1.1zM459 442.1l-1.9 1.1 -3.6 -6.6 2 -1zM427.5 459.5l-1.9 1.1 -3.9 -7.1 2 -1zM403.9 472.6l-1.9 1.1 -4.1 -7.5 2 -1zM398 475.9l-3.9 2.2 -4.1 -7.7 3.9 -2.1zM348.8 503.2l-1.9 1.1 -4.6 -8.5 2 -1.1zM339 508.6l-5.9 3.3 -4.7 -8.7 5.9 -3.2zM305.5 527.2l-11.8 6.5 -5.1 -9.4 12 -6.3zM236.7 565.3l-2 1.1 -5.7 -10.4 2 -1.1zM467.4 429.2l-7.9 4.3 -3.4 -6.5 8 -4.1zM390 470.4l-2 1.1 -4.1 -7.7 2 -1.1zM374.1 478.9l-2 1.1 -4.2 -8.1 2 -1zM342.3 495.8l-4 2.1 -4.5 -8.6 4 -2zM336.3 499l-2 1 -4.5 -8.7 2 -1zM330.4 502.1l-4 2.1 -4.6 -8.8 4 -2zM300.6 518l-2 1 -4.9 -9.3 2 -1zM296.6 520.1l-2 1 -4.9 -9.3 2 -1zM468.1 420.9l-20 10.2 -3.3 -6.7 20.2 -9.9zM440.1 435.2l-2 1 -3.4 -6.9 2 -1zM436.1 437.2l-2 1 -3.5 -6.9 2 -1zM390 460.7l-2 1 -3.9 -7.7 2 -1zM365.9 473l-2 1 -4.1 -8.2 2.1 -1zM355.9 478.1l-2 1 -4.2 -8.3 2 -1zM349.9 481.1l-6.1 3.1 -4.2 -8.5 6.1 -3zM333.8 489.3l-4 2 -4.3 -8.7 4 -2zM319.8 496.5l-2 1 -4.5 -9 2 -1zM315.8 498.5l-4 2 -4.5 -9 4 -2zM289.7 511.8l-2 1 -4.7 -9.5 2 -1zM151.4 582.3l-10 5.1 -6 -12.1 10.1 -4.9zM127.3 594.5l-2 1 -6.1 -12.3 2 -1zM467 413.6l-8.1 3.9 -3.1 -6.5 8.2 -3.8zM396.2 448.1l-4 1.9 -3.7 -7.6 4.1 -1.9zM355.8 467.8l-8.1 3.9 -4 -8.4 8.1 -3.8zM339.6 475.7l-2 1 -4.1 -8.6 2 -1zM127.3 579.3l-6.1 2.9 -5.9 -12.4 6.1 -2.8zM449.7 413.9l-2 0.9 -3.1 -6.7 2.1 -0.9zM402.8 435.7l-4.1 1.9 -3.4 -7.5 4.1 -1.8zM355.9 457.6l-2 1 -3.8 -8.4 2 -0.9zM347.8 461.4l-4.1 1.9 -3.9 -8.5 4.1 -1.8zM341.6 464.3l-2 0.9 -3.9 -8.6 2 -0.9zM319.2 474.7l-2 1 -4.1 -9 2 -0.9zM302.9 482.3l-2.1 1 -4.2 -9.3 2.1 -0.9zM292.7 487.1l-6.1 2.8 -4.4 -9.5 6.2 -2.7zM278.4 493.7l-4.1 1.9 -4.4 -9.7 4.1 -1.8zM272.3 496.6l-2 0.9 -4.5 -9.7 2.1 -1zM256 504.2l-2.1 1 -4.5 -10.1 2 -0.9zM426.1 416.4l-6.1 2.7 -3.2 -7.2 6.3 -2.6zM415.8 420.9l-2 1 -3.2 -7.3 2.1 -0.9zM399.4 428.3l-10.3 4.5 -3.3 -7.7 10.3 -4.4zM341.9 453.9l-4.2 1.8 -3.7 -8.6 4.1 -1.7zM321.3 463l-2.1 1 -3.8 -9 2 -0.9zM427.2 407.6l-2.1 0.8 -2.9 -7 2.1 -0.9zM421 410.2l-2.1 0.9 -3 -7.2 2.1 -0.9zM398.2 419.9l-2.1 0.8 -3.1 -7.5 2.1 -0.9zM327.8 449.8l-4.2 1.7 -3.6 -8.8 4.1 -1.7zM319.5 453.3l-2.1 0.8 -3.7 -8.9 2.1 -0.9zM413.9 404.7l-4.2 1.7 -2.9 -7.3 4.2 -1.6zM320 442.7l-2.1 0.8 -3.5 -8.9 2.1 -0.9zM309.5 446.9l-6.2 2.5 -3.6 -9.2 6.3 -2.4zM406.8 399.1l-21 8 -2.9 -7.7 21.1 -7.7zM264 453.9l-4.3 1.6 -3.7 -10 4.3 -1.5zM412.5 388.6l-8.5 3.1 -2.6 -7.5 8.5 -2.9zM393.5 395.5l-2.2 0.8 -2.7 -7.7 2.2 -0.7zM397.1 385.7l-2.1 0.7 -2.5 -7.6 2.1 -0.7zM337.8 368.6l-6.5 1.8 -2.2 -8.7 6.5 -1.7zM335.6 360l-2.2 0.6 -2.1 -8.7 2.2 -0.5zM300.8 349.3l-4.4 0.9 -1.9 -9.3 4.4 -0.9zM385.1 323.3l-4.5 0.9 -1.4 -7.9 4.4 -0.8zM370.3 317.9l-6.6 1.1 -1.4 -8.1 6.7 -1zM356.6 245.2l-2.3 0.1 -0.1 -8.3 2.3 0zM70.8 237l-2.3 0 0.1 -13.3 2.3 0.1zM97.9 224.2l-2.3 0 0.3 -12.8 2.3 0.1zM93.4 224.2l-6.8 -0.2 0.4 -12.9 6.7 0.2zM84.4 224l-4.5 -0.1 0.3 -13 4.5 0.1zM70.9 223.8l-2.3 -0.1 0.4 -13.2 2.2 0zM98.2 211.5l-9 -0.3 0.6 -12.9 9 0.4zM87 211.1l-13.5 -0.5 0.5 -13.2 13.5 0.7zM105.5 199.1l-9 -0.5 0.8 -12.8 9 0.7zM108.5 186.6l-4.5 -0.3 1 -12.6 4.5 0.4zM74.8 184.3l-2.2 -0.2 1 -13.2 2.3 0.2zM111.7 174.2l-2.2 -0.1 1.2 -12.6 2.2 0.2zM107.3 173.9l-4.5 -0.4 1.2 -12.7 4.5 0.5zM93.8 172.7l-2.2 -0.2 1.2 -12.9 2.2 0.3zM110.7 161.5l-6.7 -0.7 1.4 -12.6 6.7 0.8zM99.5 160.3l-6.7 -0.7 1.5 -12.8 6.7 0.8zM107.7 148.4l-4.5 -0.5 1.7 -12.7 4.4 0.7zM101 147.6l-6.7 -0.8 1.7 -12.8 6.6 0.9zM107.1 135.5l-2.2 -0.3 1.9 -12.6 2.2 0.4zM102.6 134.9l-2.2 -0.3 1.9 -12.7 2.2 0.4zM93.7 133.7l-2.2 -0.3 1.9 -12.9 2.2 0.3zM104.5 122.3l-11.1 -1.8 2.2 -12.8 11 1.9zM104.4 109.2l-2.2 -0.4 2.4 -12.6 2.2 0.4zM100 108.5l-4.4 -0.8 2.3 -12.8 4.5 0.9zM104.6 96.2l-8.9 -1.7 2.6 -12.8 8.8 1.9zM122.5 86.8l-6.6 -1.4 2.8 -12.4 6.6 1.5zM96.1 81.2l-2.2 -0.4 2.9 -12.9 2.2 0.6zM129.6 75.5l-2.1 -0.5 2.9 -12.2 2.2 0.6zM125.3 74.5l-2.2 -0.5 2.9 -12.3 2.2 0.6zM99 68.5l-2.2 -0.6 3 -12.7 2.2 0.5zM94.6 67.4l-2.2 -0.5 3.1 -12.8 2.1 0.6zM98.8 41.3l-2.2 -0.5 3.5 -12.8 2.2 0.6zM94.4 40.2l-2.2 -0.6 3.6 -12.8 2.2 0.6zM72.7 34.3l-2.2 -0.5 3.7 -13.2 2.1 0.6z"/><path fill="#64D6C4" stroke="#64D6C4" d="M1016.9 892.3l0.6 2.2 -11.5 3.2 -0.6 -2.2zM999.6 873.8l0.6 2.2 -11.2 2.9 -0.5 -2.2zM1010.7 915.1l1.2 4.3 -12 3.1 -1.1 -4.4zM1013.6 925.9l1.2 4.4 -12.2 3.1 -1 -4.3zM1016.5 936.8l0.6 2.2 -12.3 3.2 -0.5 -2.2zM981.4 848.3l0.6 2.2 -10.8 2.5 -0.5 -2.1zM984.1 859.2l2.2 8.7 -11 2.7 -2.1 -8.8zM987.4 872.3l0.5 2.2 -11.1 2.7 -0.5 -2.2zM995 902.9l2.2 8.7 -11.8 2.8 -2 -8.7zM1000.5 924.7l1.1 4.4 -12.2 2.9 -1 -4.4zM1003.7 937.8l1.1 4.4 -12.3 2.9 -1 -4.4zM1005.9 946.5l1.1 4.4 -12.5 3 -1 -4.4zM982.9 903.5l1 4.4 -11.8 2.6 -0.9 -4.4zM985.4 914.4l0.5 2.2 -11.9 2.7 -0.4 -2.2zM986.4 918.8l2.5 11 -12.1 2.7 -2.3 -11zM1012.2 1030.6l0.5 2.2 -13.9 3.1 -0.5 -2.2zM963.3 868.6l2.3 11 -11.2 2.3 -2.2 -11zM969.8 899.5l2.3 11 -11.7 2.4 -2.2 -11.1zM973.1 914.9l0.9 4.4 -11.9 2.4 -0.9 -4.4zM975.4 925.9l1 4.4 -12.2 2.4 -0.8 -4.4zM948.8 853.2l0.4 2.2 -10.8 2 -0.4 -2.2zM949.6 857.6l0.5 2.2 -10.9 2.1 -0.4 -2.3zM952.6 873.1l0.5 2.2 -11.2 2.1 -0.4 -2.2zM953.5 877.5l0.9 4.4 -11.3 2.1 -0.8 -4.4zM956.5 893l1.3 6.6 -11.6 2.1 -1.2 -6.6zM960.8 915.1l0.4 2.2 -11.9 2.2 -0.4 -2.2zM962.5 923.9l0.9 4.4 -12.1 2.3 -0.8 -4.5zM964.2 932.7l0.5 2.2 -12.2 2.3 -0.4 -2.2zM981.8 1023.3l0.5 2.2 -13.8 2.5 -0.4 -2.2zM937.6 853l0.4 2.2 -10.8 1.8 -0.4 -2.2zM938.8 859.6l1.2 6.7 -11 1.8 -1.1 -6.6zM953.2 941.6l1.6 8.9 -12.5 2.1 -1.4 -8.9zM957.9 968.2l0.4 2.2 -12.8 2.2 -0.3 -2.2zM944.8 968.1l1.1 6.7 -12.9 1.9 -1 -6.7zM946.6 979.2l0.7 4.5 -13.1 1.9 -0.6 -4.4zM949 994.8l0.4 2.2 -13.3 2 -0.3 -2.2zM950.4 1003.7l0.7 4.4 -13.4 2.1 -0.7 -4.5zM953.6 1023.7l0.4 2.2 -13.8 2.1 -0.3 -2.3zM957.5 1048.1l0.3 2.3 -14.2 2.1 -0.3 -2.2zM933 976.7l0.6 4.5 -13 1.7 -0.6 -4.5zM935.8 996.8l1.2 8.9 -13.4 1.8 -1.1 -9zM941.1 1034.7l0.3 2.2 -14 1.8 -0.2 -2.2zM945.2 1063.6l0.3 2.3 -14.5 1.9 -0.3 -2.3zM922.5 998.5l0.3 2.3 -13.4 1.5 -0.2 -2.3zM864.3 572.7l0.2 2.2 -5.9 0.6 -0.2 -2.3zM865.5 583.8l0.2 2.3 -6.1 0.6 -0.2 -2.3zM866.6 595l0.3 2.3 -6.3 0.6 -0.2 -2.3zM868 608.5l0.3 2.2 -6.6 0.6 -0.1 -2.2zM861.7 611.3l0.2 2.3 -6.5 0.5 -0.2 -2.3zM894.3 983.4l0.2 2.2 -13.1 1.1 -0.1 -2.3zM895.7 999.1l0.4 4.5 -13.4 1 -0.3 -4.5zM852.5 573.7l0.2 2.2 -5.9 0.4 -0.1 -2.3zM853.3 584.9l0.2 2.2 -6.1 0.4 -0.1 -2.2zM854 593.9l0.1 2.2 -6.3 0.4 -0.1 -2.2zM855.2 611.8l0.2 2.3 -6.6 0.4 -0.1 -2.3zM881 979.9l0.1 2.3 -13 0.8 -0.1 -2.3zM881.7 991.2l0.2 2.2 -13.2 0.8 -0.1 -2.2zM846.2 565l0.1 2.3 -5.8 0.2 0 -2.2zM847 580.8l0.1 2.2 -6 0.3 -0.1 -2.3zM847.5 589.8l0.1 2.2 -6.2 0.3 -0.1 -2.3zM848.1 601l0.1 2.2 -6.4 0.3 -0.1 -2.2zM848.4 607.7l0.5 9 -6.6 0.3 -0.3 -9zM840 551.8l0.1 2.3 -5.6 0.1 0 -2.2zM840.2 558.6l0.2 4.5 -5.7 0.1 -0.1 -4.5zM841.4 592.3l0.2 4.5 -6.3 0.1 -0.1 -4.5zM842.2 614.8l0.1 2.2 -6.7 0.2 0 -2.3zM855.1 983.5l0 2.3 -13 0.3 -0.1 -2.2zM834.6 558.7l0.1 4.5 -5.7 0 0 -4.4zM835.2 590.2l0 4.5 -6.2 0.1 0 -4.6zM829 923.2l0 4.6 -12.1 -0.2 0.1 -4.5zM829 934.5l0 2.3 -12.2 -0.2 0 -2.2zM829 990.8l0 2.2 -13.2 -0.1 0 -2.3zM823.1 576.7l-0.1 2.2 -5.9 -0.1 0 -2.3zM817.1 916.4l0 2.2 -11.9 -0.3 0.1 -2.2zM816.7 941.1l-0.1 4.5 -12.3 -0.3 0.1 -4.5zM816.6 947.9l0 2.2 -12.5 -0.3 0.1 -2.2zM815.7 999.6l-0.1 2.3 -13.3 -0.4 0.1 -2.2zM816.8 585.5l0 2.3 -6.2 -0.3 0.1 -2.2zM801.8 1015l-0.2 6.8 -13.7 -0.6 0.4 -6.8zM811.2 576.3l-0.1 2.2 -6 -0.3 0.2 -2.3zM784.9 596.5l-0.3 2.3 -6.3 -0.8 0.3 -2.3zM772.7 592.6l-0.7 4.4 -6.3 -1 0.8 -4.5zM717.2 654.3l-1.2 4.3 -7.3 -2 1.2 -4.3zM699.1 721.7l-0.5 2.1 -8.5 -2.3 0.6 -2.2zM698 726l-2.9 10.9 -8.7 -2.4 3.1 -10.9zM691.3 717.2l-0.6 2.1 -8.4 -2.5 0.7 -2.1zM686.4 734.5l-0.7 2.1 -8.7 -2.6 0.7 -2.1zM682.3 716.8l-0.7 2.2 -8.3 -2.7 0.7 -2.1zM677.7 731.9l-2.6 8.6 -8.8 -2.8 2.8 -8.5zM672.6 718.5l-0.7 2.1 -8.5 -2.8 0.8 -2.1zM669.1 729.2l-2.1 6.4 -8.7 -2.9 2.2 -6.4zM694.3 607l-0.7 2.1 -6.5 -2.4 0.8 -2.1zM691.3 615.5l-0.8 2.1 -6.6 -2.5 0.8 -2.1zM688.7 602.5l-0.8 2.1 -6.4 -2.5 0.8 -2.1zM543.6 980.6l-2.5 6.3 -13 -5.1 2.5 -6.3zM679 608.3l-0.9 2.1 -6.5 -2.7 0.9 -2zM666.3 639.6l-0.8 2.1 -7.1 -2.9 0.9 -2.1zM662.1 650.1l-0.8 2 -7.2 -2.9 0.8 -2.1zM659.3 636.7l-0.9 2.1 -6.9 -3 0.9 -2.1zM516.9 972.3l-1.8 4.1 -12.8 -5.6 1.8 -4.1zM715.5 491.9l-0.9 2 -4.5 -2 1 -2zM709.2 493.9l-1 2.1 -4.5 -2.2 1 -2zM488.6 967l-1.9 4.1 -12.8 -6.1 2 -4zM704.7 491.8l-1 2 -4.4 -2.2 1 -2zM473.9 965l-1 2 -12.7 -6.3 1.1 -2zM469 975.1l-3 6.1 -12.9 -6.4 3.1 -6.1zM463.1 987.3l-2 4 -13.1 -6.5 2 -4zM456.2 968.7l-1.1 2 -12.7 -6.6 1 -2zM454.1 972.7l-2 4.1 -12.9 -6.7 2.1 -4zM451.1 978.8l-5.2 10 -13 -6.8 5.3 -9.9zM699.1 481.4l-1.1 1.9 -4.3 -2.3 1.1 -1.9zM694.8 489.3l-1 2 -4.4 -2.4 1.1 -2zM629.4 612.5l-1.1 2 -6.6 -3.6 1.1 -2zM693.7 481l-2.1 4 -4.4 -2.5 2.3 -3.9zM638.1 581.4l-1.1 1.9 -6 -3.4 1.1 -1.9zM630.5 595.2l-1.1 1.9 -6.3 -3.5 1.1 -2zM627.2 601.1l-5.5 9.8 -6.5 -3.7 5.7 -9.7zM618.5 616.8l-2.2 3.9 -6.7 -3.7 2.3 -3.9zM622 595.5l-2.2 3.9 -6.3 -3.7 2.3 -3.8zM604.2 611.2l-1.2 1.9 -6.5 -4 1.2 -1.9zM596.1 624.7l-1.2 1.9 -6.7 -4.2 1.1 -1.9zM441.9 881.2l-2.3 3.8 -11.2 -6.9 2.4 -3.8zM619.2 572.8l-1.2 1.9 -5.9 -3.7 1.2 -1.9zM613.2 582.4l-1.2 1.9 -6 -3.9 1.2 -1.9zM597.7 607.2l-3.6 5.7 -6.5 -4.2 3.7 -5.6zM587 624.3l-1.2 2 -6.8 -4.4 1.2 -1.8zM361.6 985l-1.2 1.9 -13 -8.3 1.2 -1.9zM356.8 992.6l-1.2 1.9 -13.1 -8.4 1.2 -1.8zM598.6 591.8l-1.2 1.8 -6.2 -4.1 1.3 -1.8zM592.5 601.2l-1.2 1.9 -6.4 -4.2 1.3 -1.9zM579 621.9l-1.2 1.9 -6.7 -4.4 1.2 -1.9zM586.2 597l-1.3 1.9 -6.3 -4.3 1.3 -1.9zM571.1 619.4l-3.8 5.6 -6.7 -4.6 3.8 -5.6zM578.6 594.6l-1.3 1.8 -6.2 -4.4 1.3 -1.9zM561.9 618.5l-1.3 1.9 -6.7 -4.8 1.3 -1.8zM569.8 593.8l-1.3 1.8 -6.3 -4.6 1.4 -1.8zM559.2 608.3l-1.3 1.9 -6.5 -4.8 1.4 -1.8zM260.3 1019.7l-2.6 3.7 -13.7 -10.1 2.7 -3.6zM252.4 1030.6l-1.3 1.9 -13.8 -10.2 1.3 -1.8zM247.1 1037.9l-4 5.5 -14 -10.4 4.1 -5.4zM241.8 1045.2l-5.3 7.3 -14.1 -10.5 5.4 -7.2zM615.1 520.9l-1.4 1.8 -5 -3.8 1.4 -1.8zM603.2 526l-1.4 1.8 -5 -4 1.4 -1.8zM466.1 701.5l-1.4 1.8 -8.1 -6.4 1.4 -1.8zM229.2 1004.7l-2.8 3.6 -13.3 -10.7 2.8 -3.5zM179.3 1068.5l-1.4 1.8 -14.4 -11.5 1.4 -1.7zM623.7 490.5l-1.4 1.8 -4.5 -3.7 1.5 -1.7zM620.9 494l-1.5 1.8 -4.4 -3.7 1.4 -1.7zM595.4 525.5l-1.5 1.8 -5 -4.2 1.5 -1.7zM592.5 529l-2.8 3.5 -5.1 -4.2 2.9 -3.5zM458 695.1l-2.8 3.5 -8 -6.6 2.9 -3.4zM215.9 994.1l-1.4 1.8 -13.2 -10.9 1.5 -1.7zM204.6 1008.1l-2.9 3.5 -13.4 -11 2.9 -3.5zM174.8 1044.8l-2.8 3.5 -14.1 -11.5 2.9 -3.5zM170.6 1050.1l-1.4 1.7 -14.2 -11.6 1.5 -1.7zM167.7 1053.6l-1.4 1.7 -14.2 -11.7 1.5 -1.7zM615 492.1l-1.5 1.7 -4.4 -3.8 1.4 -1.7zM609.2 499l-1.5 1.7 -4.5 -3.9 1.4 -1.7zM573 542.1l-1.4 1.7 -5.4 -4.5 1.5 -1.7zM385 766.1l-1.5 1.8 -9.1 -7.9 1.4 -1.7zM150.7 1045.4l-2.9 3.4 -14.1 -12 3 -3.4zM139.1 1059.2l-2.9 3.4 -14.3 -12.2 3 -3.4zM595.8 505.3l-1.5 1.7 -4.7 -4.1 1.5 -1.7zM578.1 525.7l-1.5 1.7 -5 -4.5 1.5 -1.6zM368.4 766.8l-1.4 1.7 -9.2 -8.1 1.5 -1.7zM362.5 773.6l-1.4 1.7 -9.4 -8.3 1.5 -1.6zM129.3 1041.9l-1.5 1.7 -13.9 -12.4 1.5 -1.6zM583.6 509.5l-6 6.7 -4.9 -4.4 6.2 -6.6zM576.1 517.9l-1.5 1.7 -4.9 -4.5 1.5 -1.6zM571.6 522.9l-1.6 1.7 -4.9 -4.6 1.5 -1.6zM578.9 505.2l-1.6 1.7 -4.6 -4.5 1.5 -1.6zM554.3 531.6l-1.5 1.6 -5.1 -4.9 1.5 -1.6zM431.6 663.2l-7.7 8.2 -7.5 -7.1 7.8 -8.1zM582 492.7l-1.5 1.6 -4.5 -4.3 1.6 -1.6zM549.2 526.7l-1.5 1.6 -5.1 -4.9 1.6 -1.6zM587.2 478.8l-1.6 1.6 -4.2 -4.3 1.6 -1.5zM550.6 515.4l-1.6 1.6 -4.9 -4.9 1.7 -1.6zM583 474.6l-1.6 1.5 -4.2 -4.3 1.7 -1.6zM576.5 480.8l-1.6 1.6 -4.3 -4.5 1.7 -1.5zM537.7 518.3l-1.7 1.6 -4.8 -5.2 1.6 -1.5zM248 798.1l-3.3 3.1 -9.7 -10.2 3.2 -3.1zM539.4 507.1l-1.7 1.5 -4.7 -5.1 1.7 -1.5zM559.8 479.4l-1.7 1.5 -4.2 -4.8 1.7 -1.4zM561.8 461.2l-1.7 1.4 -3.9 -4.7 1.8 -1.4zM544.6 475.6l-1.7 1.5 -4.2 -5 1.8 -1.5zM158.5 799.6l-1.7 1.4 -9.7 -11.8 1.7 -1.4zM696.1 344.6l-1.7 1.4 -1.9 -2.3 1.8 -1.4zM556.2 457.9l-1.7 1.4 -3.9 -4.8 1.8 -1.4zM547.1 457.3l-1.8 1.3 -3.8 -4.9 1.8 -1.4zM532.9 468.3l-1.8 1.4 -4 -5.2 1.8 -1.4zM417.7 558.4l-3.6 2.7 -5.6 -7.2 3.6 -2.8zM371.6 594.4l-1.8 1.4 -6.2 -8.1 1.8 -1.3zM360.9 602.7l-1.8 1.4 -6.3 -8.3 1.8 -1.3zM350.3 611l-1.8 1.4 -6.5 -8.4 1.8 -1.4zM325.5 630.4l-1.8 1.4 -6.8 -8.9 1.8 -1.3zM201.3 727.4l-3.5 2.7 -8.5 -11 3.6 -2.8zM135.7 778.6l-1.7 1.4 -9.4 -12.2 1.8 -1.4zM132.2 781.4l-5.3 4.2 -9.5 -12.4 5.4 -4zM692.4 339.9l-1.8 1.4 -1.8 -2.5 1.9 -1.3zM336.6 608l-1.8 1.4 -6.4 -8.7 1.8 -1.3zM320.5 620.2l-1.8 1.4 -6.7 -9 1.9 -1.3zM196.5 713.6l-1.8 1.4 -8.3 -11.2 1.9 -1.3zM171.3 732.6l-1.8 1.3 -8.5 -11.5 1.8 -1.4zM113.6 756.7l-1.8 1.4 -9 -12.6 1.9 -1.3zM545.2 435.7l-5.6 3.9 -3.5 -5.1 5.6 -3.7zM519.4 453.8l-1.9 1.3 -3.7 -5.5 1.8 -1.2zM506.5 462.8l-1.9 1.3 -3.9 -5.7 1.9 -1.2zM228.2 657.7l-5.6 3.9 -7.3 -10.7 5.6 -3.7zM538 433.3l-1.9 1.2 -3.4 -5.1 1.9 -1.2zM510 452.1l-1.8 1.3 -3.8 -5.6 1.9 -1.3zM455.4 479.6l-1.9 1.3 -4.2 -6.6 1.9 -1.2zM442.2 488.2l-1.9 1.2 -4.4 -6.8 1.9 -1.2zM253.5 610.8l-1.9 1.2 -6.5 -10.2 1.9 -1.1zM472.2 460l-3.8 2.3 -3.9 -6.3 3.8 -2.3zM466.5 463.5l-1.9 1.2 -4 -6.4 2 -1.1zM443.6 477.8l-3.9 2.4 -4.1 -6.8 3.8 -2.3zM434 483.8l-1.9 1.2 -4.3 -7 2 -1.1zM472.2 451.4l-1.9 1.1 -3.7 -6.2 1.9 -1.2zM460.6 458.3l-1.9 1.2 -3.8 -6.5 1.9 -1.1zM435.6 473.4l-3.9 2.3 -4.1 -6.9 3.9 -2.3zM393.1 498.9l-7.7 4.6 -4.6 -7.7 7.8 -4.5zM236.9 592.8l-1.9 1.1 -6.2 -10.4 2 -1.1zM456.8 451.9l-1.9 1.1 -3.7 -6.6 1.9 -1.1zM435.4 464.3l-5.9 3.3 -3.9 -7 5.9 -3.3zM425.6 469.9l-1.9 1.1 -4 -7.1 1.9 -1.1zM373 500.3l-1.9 1.1 -4.6 -8.1 2 -1zM295.1 545.3l-2 1.1 -5.3 -9.4 2 -1.1zM455.1 444.3l-3.9 2.1 -3.6 -6.6 3.9 -2.1zM433.5 456.3l-6 3.2 -3.8 -7 6 -3.2zM425.6 460.6l-4 2.2 -3.8 -7.1 3.9 -2.2zM415.7 466.1l-1.9 1.1 -4 -7.3 2 -1.1zM405.9 471.5l-2 1.1 -4 -7.4 2 -1.1zM388.2 481.3l-2 1.1 -4.2 -7.7 2 -1.1zM445.6 440.9l-2 1 -3.5 -6.7 2 -1.1zM399.9 465.2l-2 1 -3.9 -7.5 2 -1.1zM372.1 480l-2 1 -4.2 -8 2 -1.1zM368.1 482.1l-6 3.1 -4.2 -8.2 6 -3zM298.6 519l-2 1.1 -4.9 -9.3 2 -1.1zM272.7 532.8l-5.9 3.1 -5.1 -9.8 6 -3.1zM264.8 537l-2 1 -5.2 -9.9 2 -1zM258.8 540.2l-3.9 2.1 -5.3 -10.1 4 -2zM237 551.8l-2 1 -5.4 -10.4 2 -1zM434.1 438.2l-2 1.1 -3.5 -7 2 -1zM426 442.3l-4 2.1 -3.5 -7.2 4 -1.9zM396 457.6l-2 1.1 -3.8 -7.7 2 -1zM363.9 474l-2 1 -4.1 -8.2 2 -1zM317.8 497.5l-2 1 -4.5 -9 2 -1zM271.7 521l-2 1 -4.9 -9.8 2 -1zM141.4 587.4l-2 1 -6.1 -12.1 2.1 -1zM458.9 417.5l-4 2 -3.2 -6.6 4.1 -1.9zM448.8 422.4l-2 1 -3.2 -6.7 2 -0.9zM424.5 434.3l-2 1 -3.4 -7.2 2.1 -0.9zM337.6 476.7l-6.1 2.9 -4.1 -8.7 6.1 -2.8zM323.4 483.6l-2 1 -4.2 -8.9 2 -1zM283 503.3l-2 1 -4.6 -9.6 2 -1zM404.8 434.8l-2 0.9 -3.4 -7.4 2.1 -0.9zM398.7 437.6l-4 1.9 -3.5 -7.6 4.1 -1.8zM353.9 458.6l-2.1 0.9 -3.8 -8.4 2.1 -0.9zM323.3 472.8l-4.1 1.9 -4.1 -8.9 4.1 -1.8zM317.2 475.7l-2.1 0.9 -4.1 -9 2.1 -0.9zM274.3 495.6l-2 1 -4.4 -9.8 2 -0.9zM337.7 455.7l-2 0.9 -3.8 -8.6 2.1 -0.9zM325.4 461.2l-2 0.9 -3.9 -8.8 2.1 -0.9zM425.1 408.4l-4.1 1.8 -3 -7.2 4.2 -1.6zM400.3 419l-2.1 0.9 -3.1 -7.6 2.1 -0.8zM323.6 451.5l-4.1 1.8 -3.7 -9 4.2 -1.6zM317.4 454.1l-2 0.9 -3.8 -9 2.1 -0.8zM302.9 460.3l-4.1 1.8 -3.9 -9.3 4.2 -1.7zM404 391.7l-2.1 0.7 -2.6 -7.4 2.1 -0.8zM395 386.4l-4.2 1.5 -2.6 -7.7 4.3 -1.4zM281.2 415l-2.1 0.7 -3.1 -9.6 2.2 -0.7zM324.7 362.7l-2.2 0.6 -2.1 -8.9 2.2 -0.5zM324.8 353.4l-2.2 0.5 -2 -8.8 2.2 -0.5zM318.4 345.5l-2.2 0.5 -1.8 -9 2.2 -0.4zM95.6 224.2l-2.2 0 0.3 -12.9 2.2 0.1zM86.6 224l-2.2 0 0.3 -13 2.3 0.1zM79.9 223.9l-2.3 0 0.4 -13.1 2.2 0.1zM73.1 223.8l-2.2 0 0.3 -13.3 2.3 0.1zM89.2 211.2l-2.2 -0.1 0.5 -13 2.3 0.2zM73.5 210.6l-6.8 -0.2 0.6 -13.3 6.7 0.3zM89.8 198.3l-2.3 -0.2 0.8 -12.9 2.3 0.2zM81.6 184.7l-6.8 -0.4 1.1 -13.2 6.7 0.6zM72.6 184.1l-2.2 -0.1 1 -13.3 2.2 0.2zM109.5 174.1l-2.2 -0.2 1.2 -12.6 2.2 0.2zM102.8 173.5l-6.8 -0.6 1.3 -12.8 6.7 0.7zM91.6 172.5l-2.3 -0.2 1.3 -12.9 2.2 0.2zM104 160.8l-4.5 -0.5 1.5 -12.7 4.4 0.6zM103.2 147.9l-2.2 -0.3 1.6 -12.7 2.3 0.3zM94.3 146.8l-2.3 -0.3 1.7 -12.8 2.3 0.3zM104.9 135.2l-2.3 -0.3 1.9 -12.6 2.3 0.3zM102.2 108.8l-2.2 -0.3 2.4 -12.7 2.2 0.4zM95.6 107.7l-2.3 -0.4 2.4 -12.8 2.2 0.4zM95.7 94.5l-2.2 -0.5 2.6 -12.8 2.2 0.5zM102.7 82.6l-6.6 -1.4 2.9 -12.7 6.5 1.5zM101.1 69l-2.1 -0.5 3 -12.8 2.2 0.6zM96.8 67.9l-2.2 -0.5 3 -12.7 2.2 0.5zM93.3 53.6l-2.2 -0.6 3.3 -12.8 2.2 0.6zM96.6 40.8l-2.2 -0.6 3.6 -12.8 2.1 0.6zM70.5 33.8l-2.2 -0.6 3.7 -13.3 2.2 0.7z"/><path fill="#3FD670" stroke="#3FD670" d="M1013.8 881.5l3.1 10.8 -11.5 3.2 -2.9 -10.8zM1001.4 880.3l2.3 8.7 -11.4 2.9 -2.2 -8.7zM1006.6 899.9l0.6 2.1 -11.6 3 -0.6 -2.1zM1014.8 930.3l1.7 6.5 -12.2 3.2 -1.7 -6.6zM1017.1 939l0.6 2.2 -12.3 3.1 -0.6 -2.1zM986.3 867.9l1.1 4.4 -11.1 2.7 -1 -4.4zM987.9 874.5l0.6 2.2 -11.2 2.7 -0.5 -2.2zM994.5 900.7l0.5 2.2 -11.6 2.8 -0.5 -2.2zM997.2 911.6l1.6 6.5 -11.9 2.9 -1.5 -6.6zM999.4 920.3l1.1 4.4 -12.1 2.9 -1 -4.4zM1003.2 935.6l0.5 2.2 -12.2 2.9 -0.5 -2.2zM1004.8 942.2l1.1 4.3 -12.4 3 -1 -4.4zM976.8 877.2l0.5 2.2 -11.2 2.4 -0.5 -2.2zM982.4 901.3l0.5 2.2 -11.7 2.6 -0.5 -2.2zM985.9 916.6l0.5 2.2 -11.9 2.7 -0.5 -2.2zM988.9 929.8l1.6 6.6 -12.3 2.7 -1.4 -6.6zM1011.7 1028.4l0.5 2.2 -13.9 3.1 -0.4 -2.2zM1012.7 1032.8l0.5 2.2 -13.9 3.1 -0.5 -2.2zM965.6 879.6l1.4 6.6 -11.4 2.4 -1.2 -6.7zM969.3 897.2l0.5 2.3 -11.6 2.3 -0.4 -2.2zM972.1 910.5l1 4.4 -11.9 2.4 -0.8 -4.4zM974 919.3l0.5 2.2 -12 2.4 -0.4 -2.2zM975 923.7l0.4 2.2 -12 2.4 -0.5 -2.2zM976.4 930.3l0.4 2.2 -12.1 2.4 -0.5 -2.2zM983.8 965.5l1.4 6.6 -12.8 2.6 -1.3 -6.6zM991.3 1000.7l1.4 6.6 -13.4 2.7 -1.3 -6.6zM949.2 855.4l0.4 2.2 -10.8 2 -0.4 -2.2zM953.1 875.3l0.4 2.2 -11.2 2.1 -0.4 -2.2zM961.2 917.3l1.3 6.6 -12 2.2 -1.2 -6.6zM980.6 1016.7l1.2 6.6 -13.7 2.5 -1.2 -6.6zM982.3 1025.5l0.8 4.4 -13.8 2.6 -0.8 -4.5zM954.8 950.5l0.4 2.2 -12.5 2.1 -0.4 -2.2zM955.6 954.9l2.3 13.3 -12.7 2.2 -2.2 -13.4zM958.3 970.4l0.4 2.3 -12.8 2.1 -0.4 -2.2zM966.5 1017l0.4 2.2 -13.7 2.3 -0.3 -2.3zM968.1 1025.8l0.4 2.2 -13.8 2.4 -0.4 -2.3zM972.4 1050.2l0.4 2.2 -14.3 2.4 -0.3 -2.2zM947.3 983.7l1.7 11.1 -13.2 2 -1.6 -11.2zM954 1025.9l1.4 8.9 -14 2.1 -1.2 -8.9zM955.7 1037l0.4 2.2 -14.1 2.1 -0.3 -2.2zM956.4 1041.5l1.1 6.6 -14.2 2.2 -0.9 -6.7zM957.8 1050.4l0.7 4.4 -14.3 2.1 -0.6 -4.4zM959.2 1059.3l1.1 6.6 -14.5 2.2 -0.9 -6.7zM937 1005.7l1.6 11.1 -13.6 1.8 -1.4 -11.1zM939.9 1025.7l1.2 9 -13.9 1.8 -1.1 -8.9zM941.4 1036.9l0.6 4.4 -14 1.9 -0.6 -4.5zM943 1048l1.2 8.9 -14.3 1.9 -1.1 -8.9zM944.9 1061.4l0.3 2.2 -14.5 1.9 -0.2 -2.2zM925 1018.6l0.8 6.7 -13.8 1.6 -0.7 -6.7zM864.5 574.9l0.2 2.2 -5.9 0.6 -0.2 -2.2zM867.8 606.2l0.2 2.3 -6.4 0.6 -0.2 -2.3zM908 988.9l0.5 4.4 -13.2 1.3 -0.4 -4.5zM911.1 1017.9l0.7 6.8 -13.8 1.3 -0.6 -6.7zM915.1 1056l0.2 2.2 -14.3 1.4 -0.2 -2.2zM858.6 575.5l0.2 2.2 -5.9 0.5 -0.2 -2.3zM859.2 582.2l0.2 2.2 -6.1 0.5 -0.1 -2.2zM860.4 595.6l0.2 2.3 -6.3 0.5 -0.2 -2.3zM894.5 985.6l0.6 6.8 -13.2 1 -0.5 -6.7zM895.3 994.6l0.4 4.5 -13.3 1 -0.4 -4.5zM896.1 1003.6l0.4 4.5 -13.5 1 -0.3 -4.5zM853.2 582.7l0.1 2.2 -6 0.4 -0.2 -2.3zM855.1 609.6l0.1 2.2 -6.5 0.4 -0.2 -2.2zM881.6 988.9l0.1 2.3 -13.1 0.8 -0.2 -2.3zM845.8 558.3l0.2 2.3 -5.7 0.2 -0.1 -2.2zM846.8 576.3l0.2 4.5 -6 0.2 -0.1 -4.5zM847.6 592l0.1 2.3 -6.2 0.2 -0.1 -2.2zM868 980.7l0.1 2.3 -13 0.5 -0.1 -2.2zM842.1 986.1l0 2.3 -13.1 0.1 0 -2.3zM842.3 997.4l0.1 4.5 -13.4 0.1 0 -4.5zM842.4 1004.1l0 2.3 -13.4 0.1 0 -2.3zM842.5 1008.6l0.2 11.3 -13.7 0.1 0 -11.2zM829 556.5l0 2.3 -5.6 -0.1 0 -2.2zM829 563.2l0 2.3 -5.7 -0.1 0 -2.2zM829 927.8l0 6.7 -12.2 -0.1 0.1 -6.8zM829 993l0 4.5 -13.3 -0.1 0.1 -4.5zM829 1060.5l0 2.3 -14.4 -0.2 0 -2.2zM816.6 945.6l0 2.3 -12.4 -0.3 0.1 -2.3zM815.6 1001.9l0 2.2 -13.4 -0.3 0.1 -2.3zM817.1 578.8l-0.1 2.2 -6 -0.2 0.1 -2.3zM784.6 598.8l-0.6 4.4 -6.4 -0.8 0.7 -4.4zM698.6 723.8l-0.6 2.2 -8.5 -2.4 0.6 -2.1zM690.7 719.3l-0.6 2.2 -8.5 -2.5 0.7 -2.2zM687 732.3l-0.6 2.2 -8.7 -2.6 0.7 -2.2zM681.6 719l-0.6 2.1 -8.4 -2.6 0.7 -2.2zM669.8 727l-0.7 2.2 -8.6 -2.9 0.8 -2.1zM665.5 641.7l-3.4 8.4 -7.2 -3 3.5 -8.3zM710.1 491.9l-0.9 2 -4.5 -2.1 1 -2zM707.7 485.7l-3 6.1 -4.4 -2.2 3.1 -6zM470 973.1l-1 2 -12.8 -6.4 1 -2zM703.4 483.6l-1.1 2 -4.3 -2.3 1.1 -1.9zM699.3 491.6l-1 2 -4.5 -2.3 1 -2zM452.1 976.8l-1 2 -12.9 -6.7 1 -2zM632.7 591.2l-2.2 4 -6.3 -3.6 2.3 -3.9zM629.9 581.9l-2.3 3.9 -6 -3.6 2.3 -3.8zM628.5 570.7l-1.1 1.9 -5.9 -3.6 1.2 -1.9zM616.9 589.9l-1.1 2 -6.2 -3.8 1.2 -1.9zM603 613.1l-2.3 3.8 -6.6 -4 2.4 -3.8zM597.2 622.7l-1.1 2 -6.8 -4.2 1.2 -1.9zM618 574.7l-1.2 1.9 -5.9 -3.7 1.2 -1.9zM614.4 580.5l-1.2 1.9 -6 -3.9 1.2 -1.8zM594.1 612.9l-1.2 1.9 -6.5 -4.2 1.2 -1.9zM590.5 618.6l-3.5 5.7 -6.8 -4.2 3.7 -5.7zM360.4 986.9l-3.6 5.7 -13.1 -8.3 3.7 -5.7zM591.3 603.1l-6.2 9.4 -6.5 -4.3 6.3 -9.3zM583.7 600.7l-3.8 5.6 -6.4 -4.4 3.8 -5.5zM567 611.1l-1.3 1.9 -6.5 -4.7 1.3 -1.8zM563.1 616.7l-1.2 1.8 -6.7 -4.7 1.4 -1.8zM257.7 1023.4l-5.3 7.2 -13.8 -10.1 5.4 -7.2zM631.3 499.4l-1.4 1.7 -4.5 -3.5 1.4 -1.7zM613.7 522.7l-1.4 1.8 -4.9 -3.8 1.3 -1.8zM608.3 529.9l-1.4 1.8 -5.1 -3.9 1.4 -1.8zM218.3 1047.4l-1.3 1.8 -14.1 -10.8 1.4 -1.8zM208.8 1060l-4 5.4 -14.4 -11 4.2 -5.4zM604.6 524.2l-1.4 1.8 -5 -4 1.4 -1.7zM215.3 1022.4l-1.3 1.8 -13.7 -10.8 1.4 -1.8zM204.3 1036.6l-9.7 12.4 -14.1 -11.2 9.9 -12.2zM589.7 532.5l-1.4 1.8 -5.2 -4.3 1.5 -1.7zM581.2 543l-1.4 1.7 -5.3 -4.3 1.4 -1.8zM201.7 1011.6l-1.4 1.8 -13.4 -11.1 1.4 -1.7zM584.6 528.3l-1.5 1.7 -5 -4.3 1.4 -1.7zM576.6 527.4l-1.5 1.7 -5.1 -4.5 1.6 -1.7zM567.7 537.6l-1.5 1.7 -5.2 -4.7 1.5 -1.6zM367 768.5l-4.5 5.1 -9.3 -8.2 4.6 -5zM127.8 1043.6l-1.4 1.7 -14 -12.4 1.5 -1.7zM603.2 487.8l-1.5 1.7 -4.4 -4 1.5 -1.7zM577.6 516.2l-1.5 1.7 -4.9 -4.4 1.5 -1.7zM564 531.3l-3 3.3 -5.1 -4.7 3 -3.3zM598.8 483.8l-1.5 1.7 -4.3 -4.1 1.6 -1.6zM591.2 492.1l-1.6 1.6 -4.4 -4.2 1.5 -1.6zM575.8 508.5l-3.1 3.3 -4.7 -4.5 3.1 -3.2zM433.1 661.6l-1.5 1.6 -7.4 -7 1.6 -1.6zM583.6 491.1l-1.6 1.6 -4.4 -4.3 1.6 -1.6zM557 518.6l-1.5 1.6 -4.9 -4.8 1.6 -1.6zM552.4 523.5l-3.2 3.2 -5 -4.9 3.2 -3.2zM425.8 654.6l-1.6 1.6 -7.3 -7.1 1.6 -1.6zM585.6 480.4l-1.6 1.6 -4.3 -4.3 1.7 -1.6zM582.4 483.6l-3.2 3.2 -4.3 -4.4 3.2 -3.1zM542.6 523.4l-1.6 1.6 -5 -5.1 1.7 -1.6zM415.3 650.7l-1.5 1.5 -7.2 -7.3 1.6 -1.5zM581.4 476.1l-4.9 4.7 -4.2 -4.4 4.9 -4.6zM544.1 512.1l-6.4 6.2 -4.9 -5.1 6.6 -6.1zM567.4 481l-1.7 1.5 -4.2 -4.6 1.6 -1.5zM537.7 508.6l-6.5 6.1 -4.8 -5.2 6.6 -6zM573.2 467.3l-1.7 1.6 -4 -4.6 1.7 -1.5zM565.8 465.8l-1.7 1.5 -4 -4.7 1.7 -1.4zM557.3 473.2l-1.7 1.5 -4.1 -4.9 1.7 -1.4zM553.9 476.1l-1.7 1.5 -4.1 -4.9 1.7 -1.4zM546.3 474.2l-1.7 1.4 -4.1 -5 1.7 -1.4zM156.8 801l-1.7 1.5 -9.8 -11.9 1.8 -1.4zM153.3 803.9l-1.7 1.5 -9.8 -11.9 1.8 -1.4zM554.5 459.3l-1.8 1.4 -3.8 -4.8 1.7 -1.4zM540.5 470.6l-1.8 1.5 -4 -5.2 1.8 -1.3zM694.3 342.3l-1.8 1.4 -1.9 -2.4 1.8 -1.4zM690.7 345l-1.8 1.4 -1.9 -2.4 1.8 -1.4zM327.2 629l-1.7 1.4 -6.8 -8.8 1.8 -1.4zM204.9 724.6l-3.6 2.8 -8.4 -11.1 3.6 -2.7zM541.5 453.7l-7.2 5.4 -3.8 -5.2 7.3 -5.3zM528.9 463.1l-3.6 2.7 -3.9 -5.3 3.6 -2.6zM194.7 715l-3.6 2.7 -8.3 -11.2 3.6 -2.7zM189.3 719.1l-1.8 1.3 -8.3 -11.3 1.8 -1.3zM180.3 725.8l-1.8 1.4 -8.4 -11.4 1.8 -1.4zM173.1 731.2l-1.8 1.4 -8.5 -11.6 1.8 -1.3zM685.2 341.5l-1.8 1.3 -1.8 -2.6 1.8 -1.2zM528.7 455.2l-3.7 2.7 -3.8 -5.4 3.7 -2.6zM523.2 459.2l-3.6 2.6 -3.9 -5.4 3.7 -2.6zM508.3 461.6l-1.8 1.2 -3.9 -5.6 1.8 -1.3zM504.4 455.9l-1.8 1.3 -3.8 -5.7 1.9 -1.3zM453.5 480.9l-1.9 1.2 -4.2 -6.6 1.9 -1.2zM444.1 487l-1.9 1.2 -4.4 -6.8 1.9 -1.2zM264.8 603.4l-1.9 1.2 -6.3 -9.9 1.9 -1.2zM259.1 607.1l-5.6 3.7 -6.5 -10.1 5.8 -3.6zM476 457.6l-3.8 2.4 -3.9 -6.3 3.9 -2.3zM468.4 462.3l-1.9 1.2 -3.9 -6.3 1.9 -1.2zM439.7 480.2l-5.7 3.6 -4.2 -6.9 5.8 -3.5zM432.1 485l-3.8 2.4 -4.3 -7 3.8 -2.4zM414.9 495.7l-1.9 1.2 -4.4 -7.3 1.9 -1.1zM266.1 588.7l-1.9 1.2 -6.1 -9.9 2 -1.1zM245.1 601.8l-1.9 1.2 -6.3 -10.2 1.9 -1.2zM470.3 452.5l-2 1.2 -3.7 -6.3 2 -1.1zM466.4 454.9l-5.8 3.4 -3.8 -6.4 5.9 -3.4zM431.7 475.7l-5.8 3.5 -4.1 -7.1 5.8 -3.3zM398.9 495.4l-5.8 3.5 -4.5 -7.6 5.9 -3.4zM246.6 587l-3.9 2.3 -6.1 -10.3 3.9 -2.2zM238.8 591.6l-1.9 1.2 -6.1 -10.4 1.9 -1.1zM423.7 471l-1.9 1.1 -4.1 -7.1 2 -1.1zM412 477.8l-7.8 4.5 -4.2 -7.5 7.9 -4.4zM384.7 493.5l-11.7 6.8 -4.5 -8 11.8 -6.6zM338 520.5l-2 1.1 -4.9 -8.6 2 -1.1zM293.1 546.4l-1.9 1.1 -5.3 -9.4 1.9 -1.1zM236.6 579l-1.9 1.1 -5.9 -10.4 2 -1.1zM451.2 446.4l-2 1.1 -3.6 -6.6 2 -1.1zM443.3 450.8l-2 1.1 -3.7 -6.8 2 -1.1zM435.4 455.2l-1.9 1.1 -3.8 -7 2 -1zM419.7 463.9l-4 2.2 -3.9 -7.3 4 -2.1zM413.8 467.2l-7.9 4.3 -4 -7.4 7.9 -4.2zM356.7 498.8l-2 1.1 -4.5 -8.3 2 -1.1zM350.8 502.1l-2 1.1 -4.5 -8.5 1.9 -1zM293.7 533.7l-1.9 1.1 -5.2 -9.4 2 -1.1zM266.2 549l-4 2.2 -5.4 -10 4 -2.1zM443.6 441.9l-6 3.2 -3.5 -6.9 6 -3zM397.9 466.2l-4 2.1 -3.9 -7.6 4 -2zM391.9 469.4l-1.9 1 -4.1 -7.7 2.1 -1zM370.1 481l-2 1.1 -4.2 -8.1 2 -1zM362.1 485.2l-7.9 4.3 -4.3 -8.4 8 -4.1zM288.6 524.3l-2 1.1 -4.9 -9.5 2 -1.1zM276.7 530.7l-4 2.1 -5 -9.8 4 -2zM266.8 535.9l-2 1.1 -5.2 -9.9 2.1 -1zM262.8 538l-4 2.2 -5.2 -10 4 -2.1zM254.9 542.3l-6 3.1 -5.3 -10.1 6 -3.1zM432.1 439.3l-6.1 3 -3.5 -7 6.1 -3zM422 444.4l-6 3 -3.6 -7.2 6.1 -3zM357.9 477l-2 1.1 -4.2 -8.3 2.1 -1zM139.4 588.4l-2 1 -6.1 -12.1 2 -1zM398.3 447.1l-2.1 1 -3.6 -7.6 2.1 -1zM331.5 479.6l-8.1 4 -4.2 -8.9 8.2 -3.8zM321.4 484.6l-2 1 -4.3 -9 2.1 -0.9zM299.2 495.4l-2.1 1 -4.4 -9.3 2 -1zM281 504.3l-4.1 2 -4.6 -9.7 4.1 -1.9zM266.8 511.2l-2 1 -4.7 -9.9 2 -1zM351.8 459.5l-4 1.9 -3.9 -8.4 4.1 -1.9zM339.6 465.2l-2 1 -4 -8.6 2.1 -1zM325.3 471.9l-2 0.9 -4.1 -8.8 2.1 -1zM304.9 481.4l-2 0.9 -4.2 -9.2 2 -0.9zM413.8 421.9l-2.1 0.9 -3.1 -7.3 2 -0.9zM403.5 426.4l-2 1 -3.3 -7.5 2.1 -0.9zM408.6 415.5l-2.1 0.8 -3.1 -7.4 2.1 -0.8zM402.3 418.1l-2 0.9 -3.1 -7.5 2.1 -0.9zM305 459.4l-2.1 0.9 -3.8 -9.2 2.1 -0.9zM395.6 394.8l-2.1 0.7 -2.7 -7.6 2.1 -0.7zM285.5 413.6l-4.3 1.4 -3 -9.6 4.3 -1.3zM326.9 362.2l-2.2 0.5 -2.1 -8.8 2.2 -0.5zM77.6 223.9l-4.5 -0.1 0.4 -13.2 4.5 0.2zM90.6 185.4l-2.3 -0.2 1 -12.9 2.3 0.2zM86.1 185l-4.5 -0.3 1 -13 4.5 0.4zM92 146.5l-8.9 -1.1 1.7 -13 8.9 1.3zM91.5 133.4l-20.1 -2.9 2 -13.2 20 3.2zM93.4 120.5l-2.2 -0.4 2.1 -12.8 2.3 0.4zM69 116.6l-4.5 -0.7 2.3 -13.3 4.4 0.8zM93.9 80.8l-2.2 -0.5 2.9 -12.9 2.2 0.5zM92.4 66.9l-2.2 -0.5 3.1 -12.8 2.2 0.5zM91.1 53l-2.2 -0.5 3.3 -12.9 2.2 0.6zM92.2 39.6l-6.5 -1.8 3.6 -12.9 6.5 1.9zM74.9 34.9l-2.2 -0.6 3.6 -13.1 2.2 0.6zM68.3 33.2l-2.1 -0.6 3.6 -13.3 2.2 0.6z"/><path fill="#13C61E" stroke="#13C61E" d="M1012.6 877.2l1.2 4.3 -11.3 3.2 -1.1 -4.4zM1000.2 876l1.2 4.3 -11.3 2.9 -1.1 -4.3zM1003.7 889l1.2 4.3 -11.5 3 -1.1 -4.4zM1006 897.7l0.6 2.2 -11.6 3 -0.5 -2.2zM1017.7 941.2l0.6 2.1 -12.4 3.2 -0.5 -2.2zM988.5 876.7l0.5 2.2 -11.2 2.6 -0.5 -2.1zM990.1 883.2l2.7 10.9 -11.5 2.8 -2.5 -11zM993.9 898.5l0.6 2.2 -11.6 2.8 -0.5 -2.2zM998.8 918.1l0.6 2.2 -12 2.9 -0.5 -2.2zM1001.6 929.1l0.5 2.1 -12.1 3 -0.6 -2.2zM1007 950.9l0.5 2.2 -12.5 3 -0.5 -2.2zM1017.3 992.4l0.6 2.2 -13.3 3.1 -0.5 -2.2zM981.9 899.1l0.5 2.2 -11.7 2.6 -0.4 -2.2zM990.5 936.4l1 4.3 -12.3 2.8 -1 -4.4zM992 942.9l2 8.8 -12.5 2.8 -1.9 -8.8zM1006.1 1004.3l1.6 6.6 -13.6 3 -1.4 -6.6zM1008.2 1013.1l2 8.8 -13.7 3 -1.9 -8.8zM1011.2 1026.2l0.5 2.2 -13.8 3.1 -0.5 -2.2zM1013.2 1035l1.6 6.6 -14.1 3.1 -1.4 -6.6zM967 886.2l2.3 11 -11.5 2.4 -2.2 -11zM974.5 921.5l0.5 2.2 -12.1 2.4 -0.4 -2.2zM976.8 932.5l0.5 2.2 -12.2 2.4 -0.4 -2.2zM979.2 943.5l2.3 11 -12.5 2.5 -2.2 -11zM983.4 963.3l0.4 2.2 -12.7 2.6 -0.4 -2.2zM985.2 972.1l0.5 2.2 -12.9 2.6 -0.4 -2.2zM990.9 998.5l0.4 2.2 -13.3 2.7 -0.5 -2.2zM992.7 1007.3l0.5 2.2 -13.5 2.7 -0.4 -2.2zM995.1 1018.3l1.4 6.6 -13.8 2.8 -1.3 -6.6zM964.7 934.9l0.4 2.2 -12.2 2.3 -0.4 -2.2zM965.5 939.4l1.3 6.6 -12.4 2.3 -1.2 -6.7zM968.5 954.8l0.5 2.2 -12.6 2.4 -0.4 -2.3zM969.4 959.2l0.4 2.2 -12.6 2.4 -0.4 -2.2zM971.1 968.1l0.4 2.2 -12.8 2.4 -0.4 -2.3zM972.8 976.9l0.5 2.2 -13 2.4 -0.4 -2.2zM977.1 999l1.3 6.6 -13.4 2.5 -1.2 -6.6zM979.7 1012.2l0.9 4.5 -13.7 2.5 -0.8 -4.4zM983.1 1029.9l1.7 8.8 -14 2.6 -1.5 -8.8zM955.2 952.7l0.4 2.2 -12.6 2.1 -0.3 -2.2zM958.7 972.7l0.8 4.4 -12.9 2.1 -0.7 -4.4zM962.6 994.8l0.4 2.2 -13.3 2.2 -0.3 -2.2zM963.4 999.2l0.4 2.3 -13.4 2.2 -0.3 -2.2zM964.2 1003.7l2.3 13.3 -13.6 2.2 -2.1 -13.3zM966.9 1019.2l1.2 6.6 -13.8 2.3 -1.1 -6.6zM968.5 1028l1.9 11.1 -14 2.4 -1.7 -11.1zM972 1048l0.4 2.2 -14.2 2.4 -0.4 -2.2zM972.8 1052.4l0.8 4.5 -14.4 2.4 -0.7 -4.5zM955.4 1034.8l0.3 2.2 -14 2.1 -0.3 -2.2zM956.1 1039.2l0.3 2.3 -14 2.1 -0.4 -2.3zM958.5 1054.8l0.7 4.5 -14.3 2.1 -0.7 -4.5zM938.6 1016.8l1.3 8.9 -13.8 1.9 -1.1 -9zM942 1041.3l1 6.7 -14.2 1.9 -0.8 -6.7zM944.2 1056.9l0.7 4.5 -14.4 1.9 -0.6 -4.5zM922.8 1000.8l0.3 2.2 -13.4 1.5 -0.3 -2.2zM923.6 1007.5l1.4 11.1 -13.7 1.6 -1.2 -11.2zM925.8 1025.3l0.3 2.3 -13.8 1.5 -0.3 -2.2zM927.2 1036.5l0.8 6.7 -14.1 1.6 -0.7 -6.7zM864.7 577.1l0.8 6.7 -6.1 0.6 -0.6 -6.7zM866.9 597.3l0.7 6.7 -6.4 0.6 -0.6 -6.7zM908.5 993.3l0.7 6.7 -13.3 1.3 -0.6 -6.7zM909.4 1002.3l0.7 6.7 -13.4 1.3 -0.6 -6.7zM910.8 1015.7l0.3 2.2 -13.7 1.4 -0.2 -2.3zM911.8 1024.7l0.5 4.4 -13.9 1.4 -0.4 -4.5zM912.5 1031.4l0.9 8.9 -14 1.4 -0.8 -9zM915.3 1058.2l0.7 6.7 -14.4 1.4 -0.6 -6.7zM859 579.9l0.2 2.3 -6 0.5 -0.2 -2.3zM861.6 609.1l0.1 2.2 -6.5 0.5 -0.1 -2.2zM895.1 992.4l0.2 2.2 -13.3 1 -0.1 -2.2zM897 1014.8l0.8 8.9 -13.7 1.1 -0.6 -9zM899 1037.2l0.2 2.2 -14 1.1 -0.2 -2.2zM899.8 1046.2l0.4 4.4 -14.2 1.2 -0.3 -4.5zM851.4 558l0.2 2.2 -5.6 0.4 -0.2 -2.3zM851.9 564.7l0.2 2.2 -5.8 0.4 -0.1 -2.3zM853 580.4l0.2 2.3 -6.1 0.3 -0.1 -2.2zM854.1 596.1l0.2 2.3 -6.3 0.4 -0.2 -2.3zM881.1 982.2l0.2 2.2 -13.1 0.8 -0.1 -2.2zM881.4 986.7l0.2 2.2 -13.2 0.8 -0.1 -2.2zM881.9 993.4l0.3 4.5 -13.3 0.8 -0.2 -4.5zM882.4 1000.1l0.1 2.3 -13.3 0.8 -0.2 -2.2zM846 560.6l0.2 4.4 -5.7 0.3 -0.2 -4.5zM847.7 594.3l0.1 2.2 -6.2 0.3 -0.1 -2.3zM848 598.8l0.1 2.2 -6.4 0.3 -0.1 -2.3zM868.7 994.2l0.3 6.8 -13.3 0.5 -0.2 -6.7zM855.1 985.8l0.1 2.2 -13.1 0.4 0 -2.3zM855.5 994.8l0.1 4.5 -13.3 0.3 -0.1 -4.5zM842.1 988.4l0.1 2.2 -13.2 0.2 0 -2.3zM842.2 995.1l0.1 2.3 -13.3 0.1 0 -2.3zM842.4 1001.9l0 2.2 -13.4 0.1 0 -2.2zM842.4 1006.4l0.1 2.2 -13.5 0.2 0 -2.3zM843 1037.9l0.1 6.7 -14.1 0.2 0 -6.8zM829 558.8l0 2.2 -5.7 0 0.1 -2.3zM829 997.5l0 4.5 -13.4 -0.1 0.1 -4.5zM829 1017.8l0 6.7 -13.7 -0.1 0.1 -6.8zM829 1035.8l0 4.4 -14 -0.1 0.1 -4.5zM829 1056l0 4.5 -14.4 -0.1 0.1 -4.5zM829 1062.8l0 2.2 -14.5 -0.1 0.1 -2.3zM823 578.9l0 2.3 -6 -0.2 0.1 -2.2zM822.9 585.7l0 2.2 -6.1 -0.1 0 -2.3zM815.6 1004.1l0 2.3 -13.5 -0.4 0.1 -2.2zM814.5 1064.9l0 2.2 -14.5 -0.4 0.1 -2.2zM817 581l-0.2 4.5 -6.1 -0.2 0.3 -4.5zM690.1 721.5l-0.6 2.1 -8.5 -2.5 0.6 -2.1zM688.8 725.8l-1.2 4.3 -8.6 -2.5 1.3 -4.3zM681 721.1l-1.3 4.3 -8.5 -2.6 1.4 -4.3zM678.4 729.7l-0.7 2.2 -8.6 -2.7 0.7 -2.2zM671.9 720.6l-2.1 6.4 -8.5 -2.8 2.1 -6.4zM693.6 609.1l-0.8 2.1 -6.5 -2.4 0.8 -2.1zM687.9 604.6l-0.8 2.1 -6.4 -2.5 0.8 -2.1zM684.7 613l-0.8 2.1 -6.6 -2.6 0.8 -2.1zM712 487.8l-1.9 4.1 -4.4 -2.1 2 -4.1zM472.9 967l-1 2.1 -12.7 -6.4 1 -2zM702.3 485.6l-2 4 -4.4 -2.3 2.1 -4zM698 483.3l-3.2 6 -4.3 -2.4 3.2 -5.9zM637 583.3l-2.2 4 -6 -3.5 2.2 -3.9zM633.7 589.3l-1 1.9 -6.2 -3.5 1.1 -1.9zM634.4 574.1l-1.2 1.9 -5.8 -3.4 1.1 -1.9zM627.6 585.8l-1.1 1.9 -6.1 -3.5 1.2 -2zM623.1 593.6l-1.1 1.9 -6.2 -3.6 1.1 -2zM621.6 582.2l-4.7 7.7 -6.1 -3.7 4.8 -7.6zM600.7 616.9l-3.5 5.8 -6.7 -4.1 3.6 -5.7zM616.8 576.6l-2.4 3.9 -6 -3.8 2.5 -3.8zM592.9 614.8l-2.4 3.8 -6.6 -4.2 2.5 -3.8zM585.1 612.5l-2.4 3.8 -6.6 -4.4 2.5 -3.7zM580.2 620.1l-1.2 1.8 -6.7 -4.4 1.3 -1.8zM584.9 598.9l-1.2 1.8 -6.4 -4.3 1.3 -1.8zM579.9 606.3l-3.8 5.6 -6.5 -4.4 3.9 -5.6zM565.7 613l-2.6 3.7 -6.5 -4.7 2.6 -3.7zM638.6 499.1l-1.4 1.8 -4.5 -3.3 1.3 -1.8zM568.5 595.6l-1.4 1.8 -6.2 -4.6 1.3 -1.8zM563.2 602.9l-1.3 1.8 -6.4 -4.7 1.3 -1.8zM560.5 606.5l-1.3 1.8 -6.4 -4.7 1.3 -1.8zM635.4 494l-1.4 1.8 -4.5 -3.5 1.4 -1.8zM612.3 524.5l-4 5.4 -5.1 -3.9 4.2 -5.3zM241.3 1016.9l-1.3 1.8 -13.6 -10.4 1.4 -1.8zM227.8 1034.8l-1.4 1.8 -13.8 -10.6 1.4 -1.8zM221 1043.8l-2.7 3.6 -14 -10.8 2.7 -3.5zM217 1049.2l-1.4 1.8 -14.1 -10.8 1.4 -1.8zM211.5 1056.4l-2.7 3.6 -14.2 -11 2.7 -3.5zM204.8 1065.4l-1.4 1.8 -14.4 -11.1 1.4 -1.7zM202.1 1069l-1.4 1.8 -14.5 -11.1 1.4 -1.8zM226.4 1008.3l-1.4 1.7 -13.4 -10.6 1.5 -1.8zM218.1 1018.9l-2.8 3.5 -13.6 -10.8 2.9 -3.5zM214 1024.2l-2.8 3.6 -13.7 -10.9 2.8 -3.5zM209.8 1029.5l-5.5 7.1 -13.9 -11 5.7 -7zM194.6 1049l-1.4 1.8 -14.1 -11.2 1.4 -1.8zM190.4 1054.4l-1.4 1.7 -14.2 -11.3 1.4 -1.7zM182.1 1065l-2.8 3.5 -14.4 -11.4 2.8 -3.5zM622.3 492.3l-1.4 1.7 -4.5 -3.6 1.4 -1.8zM588.3 534.3l-1.4 1.7 -5.2 -4.3 1.4 -1.7zM200.3 1013.4l-2.8 3.5 -13.5 -11.2 2.9 -3.4zM191.8 1023.9l-4.2 5.2 -13.8 -11.3 4.4 -5.2zM186.1 1030.9l-4.2 5.2 -13.8 -11.4 4.3 -5.2zM177.7 1041.3l-2.9 3.5 -14 -11.5 2.9 -3.4zM136.2 1062.6l-1.4 1.7 -14.3 -12.2 1.4 -1.7zM607.6 491.7l-1.5 1.7 -4.4 -3.9 1.5 -1.7zM601.7 498.5l-1.5 1.7 -4.6 -4 1.5 -1.7zM575.1 529.1l-7.4 8.5 -5.2 -4.6 7.5 -8.4zM120.5 1052.1l-1.5 1.7 -14.2 -12.5 1.5 -1.7zM570 524.6l-1.5 1.7 -5 -4.6 1.6 -1.7zM597.3 485.5l-1.5 1.6 -4.4 -4.1 1.6 -1.6zM592.7 490.4l-1.5 1.7 -4.5 -4.2 1.6 -1.6zM577.3 506.9l-1.5 1.6 -4.7 -4.4 1.6 -1.7zM562 523.3l-1.5 1.7 -5 -4.8 1.5 -1.6zM555.9 529.9l-1.6 1.7 -5.1 -4.9 1.6 -1.6zM593 481.4l-3.1 3.2 -4.3 -4.2 3.2 -3.2zM588.3 486.3l-1.6 1.6 -4.3 -4.3 1.6 -1.6zM553.9 521.9l-1.5 1.6 -5 -4.9 1.6 -1.6zM422.6 657.8l-3.1 3.3 -7.3 -7.3 3.1 -3.1zM416.4 664.3l-4.7 4.8 -7.5 -7.3 4.8 -4.8zM584 482l-1.6 1.6 -4.3 -4.3 1.6 -1.6zM549 517l-6.4 6.4 -4.9 -5.1 6.4 -6.2zM413.8 652.2l-3.2 3.2 -7.3 -7.3 3.3 -3.2zM577.2 471.8l-1.6 1.5 -4.1 -4.4 1.7 -1.6zM573.9 474.8l-1.6 1.6 -4.1 -4.5 1.6 -1.5zM571.5 468.9l-5 4.5 -4.1 -4.6 5.1 -4.5zM561.5 477.9l-1.7 1.5 -4.2 -4.7 1.7 -1.5zM564.1 467.3l-1.7 1.5 -4 -4.7 1.7 -1.5zM559 471.7l-1.7 1.5 -4.1 -4.8 1.7 -1.4zM555.6 474.7l-1.7 1.4 -4.1 -4.8 1.7 -1.5zM560.1 462.6l-1.7 1.5 -3.9 -4.8 1.7 -1.4zM548.1 472.7l-1.8 1.5 -4.1 -5 1.8 -1.4zM155.1 802.5l-1.8 1.4 -9.7 -11.8 1.7 -1.5zM552.7 460.7l-3.5 2.9 -3.9 -5 3.6 -2.7zM547.5 465l-7 5.6 -4 -5 7 -5.6zM692.5 343.7l-1.8 1.3 -1.9 -2.4 1.8 -1.3zM545.3 458.6l-1.8 1.4 -3.8 -5 1.8 -1.3zM536.5 465.6l-3.6 2.7 -4 -5.2 3.6 -2.7zM352.1 609.6l-1.8 1.4 -6.5 -8.4 1.8 -1.4zM187.2 738.5l-8.9 6.9 -8.8 -11.5 9 -6.7zM690.6 341.3l-1.8 1.3 -1.8 -2.4 1.8 -1.4zM687 344l-1.8 1.3 -1.8 -2.5 1.8 -1.3zM532.5 460.4l-3.6 2.7 -3.9 -5.2 3.7 -2.7zM316.9 622.9l-1.8 1.4 -6.7 -9.1 1.8 -1.3zM191.1 717.7l-1.8 1.4 -8.3 -11.3 1.8 -1.3zM187.5 720.4l-1.8 1.4 -8.4 -11.3 1.9 -1.4zM178.5 727.2l-5.4 4 -8.5 -11.5 5.5 -3.9zM688.8 338.8l-1.8 1.4 -1.8 -2.5 1.9 -1.3zM525 457.9l-1.8 1.3 -3.8 -5.4 1.8 -1.3zM517.5 455.1l-3.7 2.6 -3.8 -5.6 3.8 -2.5zM510.1 460.3l-1.8 1.3 -3.9 -5.7 1.9 -1.2zM541.7 430.8l-1.8 1.2 -3.4 -5.1 1.9 -1.2zM508.2 453.4l-1.9 1.3 -3.8 -5.7 1.9 -1.2zM451.6 482.1l-7.5 4.9 -4.4 -6.8 7.7 -4.7zM261 605.9l-1.9 1.2 -6.3 -10 1.9 -1.2zM428.3 487.4l-3.8 2.4 -4.4 -7.1 3.9 -2.3zM416.8 494.5l-1.9 1.2 -4.4 -7.2 1.9 -1.2zM247 600.7l-1.9 1.1 -6.3 -10.2 2 -1.2zM468.3 453.7l-1.9 1.2 -3.7 -6.4 1.9 -1.1zM425.9 479.2l-1.9 1.2 -4.2 -7.1 2 -1.2zM410.5 488.5l-5.8 3.4 -4.4 -7.4 5.9 -3.4zM400.8 494.3l-1.9 1.1 -4.4 -7.5 1.9 -1.1zM273.6 570.7l-2 1.2 -5.7 -9.8 1.9 -1.1zM250.4 584.7l-3.8 2.3 -6.1 -10.2 3.9 -2.3zM242.7 589.3l-3.9 2.3 -6.1 -10.3 3.9 -2.3zM421.8 472.1l-3.9 2.3 -4.1 -7.2 3.9 -2.2zM415.9 475.5l-3.9 2.3 -4.1 -7.4 3.9 -2.1zM404.2 482.3l-1.9 1.1 -4.3 -7.5 2 -1.1zM388.6 491.3l-3.9 2.2 -4.4 -7.8 4 -2.2zM345.8 516l-2 1.1 -4.8 -8.5 2 -1.1zM341.9 518.3l-3.9 2.2 -4.9 -8.6 3.9 -2.2zM291.2 547.5l-3.9 2.3 -5.4 -9.6 4 -2.1zM242.5 575.6l-5.9 3.4 -5.8 -10.4 5.9 -3.3zM449.2 447.5l-5.9 3.3 -3.7 -6.8 6 -3.1zM441.3 451.9l-1.9 1.1 -3.8 -6.9 2 -1zM421.6 462.8l-1.9 1.1 -3.9 -7.2 2 -1zM386.2 482.4l-1.9 1.1 -4.3 -7.8 2 -1zM370.5 491.2l-13.8 7.6 -4.5 -8.3 13.9 -7.4zM354.7 499.9l-3.9 2.2 -4.6 -8.4 4 -2.1zM291.8 534.8l-2 1.1 -5.1 -9.5 1.9 -1zM280 541.3l-2 1.1 -5.3 -9.6 2 -1.1zM274.1 544.6l-7.9 4.4 -5.4 -9.9 8 -4.2zM262.2 551.2l-5.9 3.2 -5.4 -10 5.9 -3.2zM437.6 445.1l-3.9 2.1 -3.6 -6.9 4 -2.1zM427.7 450.4l-6 3.1 -3.7 -7.1 6 -3.1zM401.9 464.1l-2 1.1 -3.9 -7.6 2 -1zM393.9 468.3l-2 1.1 -3.9 -7.7 2 -1zM354.2 489.5l-6 3.1 -4.4 -8.4 6.1 -3.1zM346.2 493.7l-3.9 2.1 -4.5 -8.5 4 -2.1zM248.9 545.4l-4 2.2 -5.3 -10.3 4 -2zM416 447.4l-2 1 -3.6 -7.2 2 -1zM410 450.5l-4 2 -3.7 -7.4 4 -2zM361.9 475l-4 2 -4.1 -8.2 4 -2zM287.7 512.8l-2 1 -4.7 -9.5 2 -1zM283.7 514.8l-2 1.1 -4.8 -9.6 2 -1zM273.7 519.9l-2 1.1 -4.9 -9.8 2 -1zM137.4 589.4l-2 1 -6.1 -12.1 2 -1zM422.5 435.3l-6 2.9 -3.5 -7.2 6.1 -2.9zM400.3 446.1l-2 1 -3.6 -7.6 2 -0.9zM319.4 485.6l-2 0.9 -4.3 -8.9 2 -1zM313.3 488.5l-6 3 -4.4 -9.2 6.1 -2.8zM276.9 506.3l-2 1 -4.6 -9.8 2 -0.9zM417.1 429.1l-2.1 0.9 -3.3 -7.2 2.1 -0.9zM406.9 433.8l-2.1 1 -3.3 -7.4 2 -1zM327.4 470.9l-2.1 1 -4 -8.9 2.1 -0.9zM411.7 422.8l-4.1 1.8 -3.2 -7.4 4.2 -1.7zM405.6 425.5l-2.1 0.9 -3.2 -7.4 2 -0.9zM406.5 416.3l-4.2 1.8 -3 -7.5 4.1 -1.7zM315.4 455l-2.1 0.9 -3.8 -9 2.1 -0.9zM307.1 458.5l-2.1 0.9 -3.8 -9.2 2.1 -0.8zM401.9 392.4l-6.3 2.4 -2.7 -7.6 6.4 -2.2zM333.4 360.6l-6.5 1.6 -2.1 -8.8 6.5 -1.5zM331.3 351.9l-2.2 0.5 -1.9 -8.7 2.2 -0.5zM327.2 343.7l-2.2 0.4 -1.8 -8.8 2.2 -0.4zM87.5 198.1l-2.2 -0.1 0.8 -13 2.2 0.2zM78.5 197.7l-6.7 -0.4 0.8 -13.2 6.7 0.5zM88.3 185.2l-2.2 -0.2 1 -12.9 2.2 0.2zM70.4 184l-2.3 -0.2 1.1 -13.3 2.2 0.2zM89.3 172.3l-4.5 -0.4 1.3 -13 4.5 0.5zM82.6 171.7l-6.7 -0.6 1.2 -13.1 6.8 0.7zM92.8 159.6l-2.2 -0.2 1.4 -12.9 2.3 0.3zM86.1 158.9l-6.7 -0.7 1.5 -13.1 6.7 0.9zM68.2 157l-2.2 -0.2 1.5 -13.3 2.2 0.3zM83.1 145.4l-8.9 -1.1 1.7 -13.1 8.9 1.2zM67.5 143.5l-2.3 -0.3 1.8 -13.3 2.2 0.3zM71.4 130.5l-6.6 -0.9 2 -13.3 6.6 1zM91.2 120.1l-11.1 -1.7 2.2 -13.1 11 2zM71.2 117l-2.2 -0.4 2.2 -13.2 2.2 0.4zM75.6 104.2l-6.6 -1.2 2.4 -13.3 6.7 1.3zM66.8 102.6l-2.3 -0.4 2.5 -13.3 2.2 0.4zM91.7 80.3l-2.2 -0.5 2.9 -12.9 2.2 0.5zM90.2 66.4l-2.2 -0.5 3.1 -12.9 2.2 0.6zM81.4 64.4l-4.4 -1 3.2 -13.1 4.3 1.1zM88.9 52.5l-4.4 -1.1 3.4 -13 4.3 1.2zM85.7 37.8l-10.8 -2.9 3.6 -13.1 10.8 3.1z"/><path fill="#12B51C" stroke="#12B51C" d="M1004.9 893.3l1.1 4.4 -11.5 3 -1.1 -4.4zM989 878.9l1.1 4.3 -11.3 2.7 -1 -4.4zM992.8 894.1l1.1 4.4 -11.5 2.8 -1.1 -4.4zM1002.1 931.2l1.1 4.4 -12.2 2.9 -1 -4.3zM1007.5 953.1l0.6 2.2 -12.6 3 -0.5 -2.2zM1010.3 964l2.7 10.9 -12.9 3.1 -2.6 -11zM1016.8 990.2l0.5 2.2 -13.2 3.1 -0.5 -2.1zM1017.9 994.6l0.5 2.1 -13.3 3.2 -0.5 -2.2zM977.3 879.4l1.5 6.5 -11.3 2.5 -1.4 -6.6zM979.3 888.1l0.5 2.2 -11.4 2.5 -0.5 -2.2zM980.3 892.5l0.5 2.2 -11.5 2.5 -0.4 -2.2zM981.3 896.9l0.6 2.2 -11.6 2.6 -0.5 -2.2zM991.5 940.7l0.5 2.2 -12.4 2.8 -0.4 -2.2zM994 951.7l1.5 6.6 -12.6 2.8 -1.4 -6.6zM998.6 971.4l1.5 6.6 -13 2.9 -1.4 -6.6zM1002.1 986.8l0.5 2.2 -13.1 2.9 -0.5 -2.2zM1005.6 1002.1l0.5 2.2 -13.4 3 -0.4 -2.2zM1007.7 1010.9l0.5 2.2 -13.6 3 -0.5 -2.2zM1010.2 1021.9l0.5 2.1 -13.8 3.1 -0.4 -2.2zM1014.8 1041.6l2 8.8 -14.2 3.1 -1.9 -8.8zM1018.8 1059.1l0.5 2.2 -14.4 3.2 -0.5 -2.2zM977.3 934.7l1.9 8.8 -12.4 2.5 -1.7 -8.9zM981.5 954.5l0.5 2.2 -12.6 2.5 -0.4 -2.2zM982.9 961.1l0.5 2.2 -12.7 2.6 -0.5 -2.3zM985.7 974.3l1.9 8.8 -13.1 2.6 -1.7 -8.8zM989 989.7l0.5 2.2 -13.2 2.7 -0.5 -2.2zM996.5 1024.9l0.9 4.4 -13.8 2.8 -0.9 -4.4zM999.7 1040.3l1.9 8.8 -14.2 2.9 -1.7 -8.8zM1003.5 1057.9l0.5 2.2 -14.4 2.9 -0.5 -2.2zM965.1 937.1l0.4 2.3 -12.3 2.2 -0.3 -2.2zM966.8 946l1.7 8.8 -12.5 2.3 -1.6 -8.8zM969 957l0.4 2.2 -12.6 2.4 -0.4 -2.2zM970.2 963.6l0.9 4.5 -12.8 2.3 -0.8 -4.4zM971.5 970.3l1.3 6.6 -12.9 2.4 -1.2 -6.6zM973.3 979.1l1.2 6.6 -13 2.5 -1.2 -6.7zM978.4 1005.6l1.3 6.6 -13.6 2.6 -1.1 -6.7zM988.7 1058.6l0.4 2.2 -14.4 2.7 -0.4 -2.2zM959.5 977.1l0.8 4.4 -13 2.2 -0.7 -4.5zM961.8 990.4l0.4 2.2 -13.2 2.2 -0.3 -2.2zM963 997l0.4 2.2 -13.3 2.3 -0.4 -2.3zM963.8 1001.5l0.4 2.2 -13.4 2.2 -0.4 -2.2zM970.4 1039.1l0.4 2.2 -14 2.4 -0.4 -2.2zM971.6 1045.8l0.4 2.2 -14.2 2.4 -0.3 -2.3zM973.6 1056.9l1.5 8.8 -14.5 2.4 -1.4 -8.8zM923.1 1003l0.5 4.5 -13.5 1.5 -0.4 -4.5zM926.1 1027.6l0.2 2.2 -13.8 1.6 -0.2 -2.3zM926.9 1034.3l0.3 2.2 -14 1.6 -0.2 -2.3zM928 1043.2l1.1 8.9 -14.3 1.7 -0.9 -9zM867.6 604l0.2 2.2 -6.4 0.6 -0.2 -2.2zM909.2 1000l0.2 2.3 -13.3 1.3 -0.2 -2.3zM910.1 1009l0.7 6.7 -13.6 1.3 -0.5 -6.7zM912.3 1029.1l0.2 2.3 -13.9 1.3 -0.2 -2.2zM913.4 1040.3l1 9 -14.2 1.3 -0.8 -8.9zM914.8 1053.8l0.3 2.2 -14.3 1.4 -0.2 -2.3zM858.8 577.7l0.2 2.2 -6 0.5 -0.1 -2.2zM860.6 597.9l0.2 2.2 -6.4 0.5 -0.1 -2.2zM861.2 604.6l0.4 4.5 -6.5 0.5 -0.4 -4.5zM896.5 1008.1l0.5 6.7 -13.5 1 -0.5 -6.7zM897.8 1023.7l0.4 4.5 -13.8 1.1 -0.3 -4.5zM898.4 1030.5l0.6 6.7 -14 1.1 -0.4 -6.7zM899.2 1039.4l0.6 6.8 -14.1 1.1 -0.5 -6.8zM900.2 1050.6l0.4 4.5 -14.3 1.1 -0.3 -4.4zM851.6 560.2l0.3 4.5 -5.7 0.3 -0.2 -4.4zM852.7 575.9l0.2 2.3 -6 0.3 -0.1 -2.2zM854.3 598.4l0.4 6.7 -6.4 0.4 -0.3 -6.7zM881.3 984.4l0.1 2.3 -13.1 0.8 -0.1 -2.3zM882.2 997.9l0.2 2.2 -13.4 0.9 -0.1 -2.3zM882.5 1002.4l0.3 4.5 -13.4 0.8 -0.2 -4.5zM883.6 1018.1l0.2 2.2 -13.7 0.9 -0.1 -2.3zM847.8 596.5l0.2 2.3 -6.4 0.2 0 -2.2zM868.1 983l0.6 11.2 -13.2 0.6 -0.4 -11.3zM869 1001l0.2 2.2 -13.4 0.6 -0.1 -2.3zM855.3 990.3l0.2 4.5 -13.3 0.3 0 -4.5zM855.6 999.3l0.3 9 -13.4 0.3 -0.2 -9zM856.4 1021.8l0.6 18 -14 0.3 -0.3 -18zM842.2 990.6l0 4.5 -13.2 0.1 0 -4.4zM842.7 1019.9l0 4.5 -13.7 0.1 0 -4.5zM842.9 1035.6l0.1 2.3 -14 0.1 0 -2.2zM829 561l0 2.2 -5.7 0 0 -2.2zM829 1002l0 4.5 -13.4 -0.1 0 -4.5zM829 1011l0 6.8 -13.6 -0.2 0.1 -6.7zM829 1024.5l0 11.3 -13.9 -0.2 0.2 -11.2zM829 1040.2l0 2.3 -14.1 -0.1 0.1 -2.3zM829 1051.5l0 4.5 -14.3 -0.1 0.1 -4.5zM823 581.2l-0.1 4.5 -6.1 -0.2 0.2 -4.5zM815.6 1006.4l-0.1 4.5 -13.5 -0.4 0.1 -4.5zM814.7 1055.9l-0.2 9 -14.4 -0.4 0.3 -9zM689.5 723.6l-0.7 2.2 -8.5 -2.5 0.7 -2.2zM687.6 730.1l-0.6 2.2 -8.6 -2.6 0.6 -2.1zM679.7 725.4l-1.3 4.3 -8.6 -2.7 1.4 -4.2zM692.8 611.2l-1.5 4.3 -6.6 -2.5 1.6 -4.2zM471.9 969.1l-1.9 4 -12.8 -6.4 2 -4zM700.3 489.6l-1 2 -4.5 -2.3 1.1 -2zM634.8 587.3l-1.1 2 -6.1 -3.5 1.2 -2zM633.2 576l-1.1 2 -5.9 -3.5 1.2 -1.9zM631 579.9l-1.1 2 -6 -3.5 1.1 -2zM626.5 587.7l-1.1 2 -6.1 -3.6 1.1 -1.9zM624.2 591.6l-1.1 2 -6.2 -3.7 1.2 -1.9zM623.9 578.4l-2.3 3.8 -6 -3.6 2.4 -3.9zM582.7 616.3l-2.5 3.8 -6.6 -4.4 2.5 -3.8zM577.3 596.4l-2.5 3.7 -6.3 -4.5 2.6 -3.6zM573.5 601.9l-1.3 1.9 -6.4 -4.6 1.3 -1.8zM570.9 605.6l-1.3 1.9 -6.4 -4.6 1.3 -1.8zM641.2 495.5l-1.3 1.8 -4.5 -3.3 1.3 -1.8zM567.1 597.4l-3.9 5.5 -6.4 -4.7 4.1 -5.4zM561.9 604.7l-1.4 1.8 -6.4 -4.7 1.4 -1.8zM634 495.8l-2.7 3.6 -4.5 -3.5 2.7 -3.6zM240 1018.7l-1.4 1.8 -13.6 -10.5 1.4 -1.7zM229.1 1033l-1.3 1.8 -13.8 -10.6 1.3 -1.8zM226.4 1036.6l-1.3 1.8 -13.9 -10.6 1.4 -1.8zM215.6 1051l-4.1 5.4 -14.2 -10.9 4.2 -5.3zM203.4 1067.2l-1.3 1.8 -14.5 -11.1 1.4 -1.8zM629.5 492.3l-1.4 1.8 -4.4 -3.6 1.4 -1.7zM625.4 497.6l-1.4 1.8 -4.6 -3.6 1.5 -1.8zM225 1010l-6.9 8.9 -13.5 -10.8 7 -8.7zM211.2 1027.8l-1.4 1.7 -13.7 -10.9 1.4 -1.7zM193.2 1050.8l-2.8 3.6 -14.2 -11.3 2.9 -3.5zM189 1056.1l-6.9 8.9 -14.4 -11.4 7.1 -8.8zM586.9 536l-5.7 7 -5.3 -4.4 5.8 -6.9zM197.5 1016.9l-5.7 7 -13.6 -11.3 5.8 -6.9zM187.6 1029.1l-1.5 1.8 -13.7 -11.4 1.4 -1.7zM181.9 1036.1l-4.2 5.2 -14 -11.4 4.4 -5.2zM583.1 530l-1.4 1.7 -5.1 -4.3 1.5 -1.7zM574.5 540.4l-1.5 1.7 -5.3 -4.5 1.5 -1.7zM134.8 1064.3l-1.5 1.8 -14.3 -12.3 1.5 -1.7zM606.1 493.4l-4.4 5.1 -4.6 -4 4.6 -5zM126.4 1045.3l-1.5 1.7 -14 -12.4 1.5 -1.7zM121.9 1050.4l-1.4 1.7 -14.2 -12.5 1.5 -1.7zM601.7 489.5l-1.5 1.7 -4.4 -4.1 1.5 -1.6zM595.6 496.2l-1.5 1.6 -4.5 -4.1 1.6 -1.6zM568.5 526.3l-4.5 5 -5.1 -4.7 4.6 -4.9zM595.8 487.1l-3.1 3.3 -4.4 -4.1 3.1 -3.3zM560.5 525l-4.6 4.9 -5.1 -4.8 4.7 -4.9zM589.9 484.6l-1.6 1.7 -4.3 -4.3 1.6 -1.6zM586.7 487.9l-3.1 3.2 -4.4 -4.3 3.2 -3.2zM555.5 520.2l-1.6 1.7 -4.9 -4.9 1.6 -1.6zM424.2 656.2l-1.6 1.6 -7.3 -7.1 1.6 -1.6zM419.5 661.1l-3.1 3.2 -7.4 -7.3 3.2 -3.2zM410.6 655.4l-4.8 4.8 -7.3 -7.4 4.8 -4.7zM575.6 473.3l-1.7 1.5 -4.1 -4.4 1.7 -1.5zM572.3 476.4l-4.9 4.6 -4.3 -4.6 5.1 -4.5zM566.5 473.4l-5 4.5 -4.2 -4.7 5.1 -4.4zM562.4 468.8l-3.4 2.9 -4.1 -4.7 3.5 -2.9zM558.4 464.1l-1.7 1.4 -4 -4.8 1.8 -1.4zM553.2 468.4l-5.1 4.3 -4.1 -4.9 5.2 -4.2zM549.2 463.6l-1.7 1.4 -4 -5 1.8 -1.4zM543.5 460l-7 5.6 -4 -5.2 7.2 -5.4zM359.1 604.1l-3.5 2.8 -6.4 -8.4 3.6 -2.7zM353.8 608.2l-1.7 1.4 -6.5 -8.4 1.8 -1.3zM688.8 342.6l-1.8 1.4 -1.8 -2.5 1.8 -1.3zM534.3 459.1l-1.8 1.3 -3.8 -5.2 1.8 -1.3zM318.7 621.6l-1.8 1.3 -6.7 -9 1.8 -1.3zM185.7 721.8l-1.8 1.3 -8.4 -11.3 1.8 -1.3zM182.1 724.5l-1.8 1.3 -8.4 -11.4 1.8 -1.3zM687 340.2l-1.8 1.3 -1.8 -2.5 1.8 -1.3zM513.8 457.7l-3.7 2.6 -3.8 -5.6 3.7 -2.6zM539.9 432l-1.9 1.3 -3.4 -5.1 1.9 -1.3zM506.3 454.7l-1.9 1.2 -3.7 -5.7 1.8 -1.2zM262.9 604.6l-1.9 1.3 -6.3 -10 1.9 -1.2zM424.5 489.8l-1.9 1.2 -4.4 -7.2 1.9 -1.1zM418.8 493.3l-2 1.2 -4.4 -7.2 1.9 -1.2zM262.3 591.1l-5.7 3.6 -6.2 -10 5.8 -3.5zM254.7 595.9l-7.7 4.8 -6.2 -10.3 7.7 -4.6zM424 480.4l-13.5 8.1 -4.3 -7.4 13.6 -7.8zM404.7 491.9l-3.9 2.4 -4.4 -7.5 3.9 -2.3zM290.9 560.3l-1.9 1.2 -5.6 -9.5 2 -1.1zM277.4 568.4l-3.8 2.3 -5.8 -9.7 3.9 -2.2zM271.6 571.9l-9.6 5.8 -5.9 -9.9 9.8 -5.7zM260.1 578.9l-2 1.1 -5.9 -10 2 -1.1zM256.2 581.2l-1.9 1.1 -6 -10 2 -1.2zM252.3 583.5l-1.9 1.2 -6 -10.2 2 -1.1zM417.9 474.4l-2 1.1 -4.1 -7.2 2 -1.1zM402.3 483.4l-5.9 3.4 -4.3 -7.6 5.9 -3.3zM394.5 487.9l-5.9 3.4 -4.3 -7.8 5.9 -3.2zM343.8 517.1l-1.9 1.2 -4.9 -8.6 2 -1.1zM287.3 549.8l-9.7 5.6 -5.5 -9.7 9.8 -5.5zM265.9 562.1l-2 1.2 -5.6 -10 2 -1.1zM244.4 574.5l-1.9 1.1 -5.8 -10.3 1.9 -1.1zM439.4 453l-4 2.2 -3.7 -6.9 3.9 -2.2zM384.3 483.5l-13.8 7.7 -4.4 -8.1 13.9 -7.4zM289.8 535.9l-3.9 2.2 -5.2 -9.6 4 -2.1zM283.9 539.2l-3.9 2.1 -5.3 -9.6 4 -2.1zM278 542.4l-3.9 2.2 -5.3 -9.7 3.9 -2.1zM256.3 554.4l-1.9 1.1 -5.5 -10.1 2 -1zM246.5 559.9l-3.9 2.2 -5.6 -10.3 4 -2.1zM238.6 564.2l-1.9 1.1 -5.7 -10.4 2 -1zM431.7 448.3l-4 2.1 -3.7 -7.1 4 -2zM421.7 453.5l-1.9 1.1 -3.8 -7.2 2 -1zM415.8 456.7l-2 1.1 -3.8 -7.3 2 -1zM403.9 463.1l-2 1 -3.9 -7.5 2 -1zM348.2 492.6l-2 1.1 -4.4 -8.5 2 -1zM286.6 525.4l-1.9 1 -5 -9.5 2 -1zM278.7 529.6l-2 1.1 -5 -9.7 2 -1.1zM244.9 547.6l-7.9 4.2 -5.4 -10.4 8 -4.1zM414 448.4l-4 2.1 -3.7 -7.4 4.1 -1.9zM406 452.5l-10 5.1 -3.8 -7.6 10.1 -4.9zM285.7 513.8l-2 1 -4.8 -9.5 2.1 -1zM281.7 515.9l-8 4 -4.9 -9.7 8.1 -3.9zM135.4 590.4l-4.1 2.1 -6.1 -12.3 4.1 -1.9zM129.3 593.5l-2 1 -6.1 -12.3 2 -1zM454.9 419.5l-2 1 -3.2 -6.6 2 -1zM408.4 442.2l-8.1 3.9 -3.6 -7.5 8.1 -3.8zM317.4 486.5l-4.1 2 -4.3 -9 4.1 -1.9zM307.3 491.5l-4.1 1.9 -4.4 -9.2 4.1 -1.9zM301.2 494.4l-2 1 -4.5 -9.3 2.1 -0.9zM274.9 507.3l-2 0.9 -4.7 -9.7 2.1 -1zM268.8 510.2l-2 1 -4.7 -9.9 2 -0.9zM413 431l-6.1 2.8 -3.4 -7.4 6.2 -2.7zM337.6 466.2l-10.2 4.7 -4 -8.8 10.2 -4.5zM315.1 476.6l-2 1 -4.1 -9.1 2 -0.9zM309 479.5l-4.1 1.9 -4.2 -9.2 4.2 -1.8zM407.6 424.6l-2 0.9 -3.3 -7.4 2.1 -0.9zM335.7 456.6l-2.1 1 -3.7 -8.7 2 -0.9zM327.5 460.3l-2.1 0.9 -3.8 -8.8 2 -0.9zM313.3 455.9l-4.2 1.8 -3.7 -9.1 4.1 -1.7zM329.1 352.4l-4.3 1 -2 -8.8 4.4 -0.9zM320.6 345.1l-2.2 0.4 -1.8 -8.9 2.2 -0.4zM85.3 198l-6.8 -0.3 0.8 -13.1 6.8 0.4zM71.8 197.3l-6.8 -0.3 0.9 -13.4 6.7 0.5zM68.1 183.8l-2.2 -0.2 1 -13.3 2.3 0.2zM84.8 171.9l-2.2 -0.2 1.3 -13 2.2 0.2zM75.9 171.1l-9 -0.8 1.3 -13.3 8.9 1zM90.6 159.4l-4.5 -0.5 1.5 -12.9 4.4 0.5zM79.4 158.2l-4.5 -0.5 1.5 -13.1 4.5 0.5zM70.4 157.3l-2.2 -0.3 1.5 -13.2 2.2 0.2zM74.2 144.3l-2.3 -0.3 1.8 -13.2 2.2 0.4zM80.1 118.4l-2.2 -0.4 2.2 -13.1 2.2 0.4zM73.4 117.3l-2.2 -0.3 2.2 -13.2 2.2 0.4zM93.3 107.3l-6.6 -1.2 2.4 -12.9 6.6 1.3zM80.1 104.9l-4.5 -0.7 2.5 -13.2 4.4 0.9zM69 103l-2.2 -0.4 2.4 -13.3 2.2 0.4zM93.5 94l-2.2 -0.4 2.6 -12.8 2.2 0.4zM86.9 92.7l-6.6 -1.2 2.6 -13.1 6.6 1.4zM89.5 79.8l-2.2 -0.4 2.9 -13 2.2 0.5zM80.7 77.9l-6.6 -1.4 2.9 -13.1 6.6 1.5zM71.9 76.1l-6.6 -1.4 3 -13.3 6.5 1.5zM88 65.9l-6.6 -1.5 3.1 -13 6.6 1.6zM77 63.4l-2.2 -0.5 3.2 -13.1 2.2 0.5zM73.6 48.7l-6.5 -1.7 3.4 -13.2 6.5 1.7z"/><path fill="#11A41B" stroke="#11A41B" d="M1008.1 955.3l2.2 8.7 -12.8 3 -2 -8.7zM1013 974.9l3.8 15.3 -13.2 3.2 -3.5 -15.4zM978.8 885.9l0.5 2.2 -11.4 2.5 -0.4 -2.2zM979.8 890.3l0.5 2.2 -11.4 2.5 -0.5 -2.2zM980.8 894.7l0.5 2.2 -11.5 2.6 -0.5 -2.3zM995.5 958.3l3.1 13.1 -12.9 2.9 -2.8 -13.2zM1000.1 978l0.5 2.2 -13 2.9 -0.5 -2.2zM1001.1 982.4l1 4.4 -13.1 2.9 -0.9 -4.4zM1002.6 989l0.5 2.2 -13.2 2.9 -0.4 -2.2zM1003.6 993.4l0.5 2.1 -13.2 3 -0.5 -2.2zM1004.6 997.7l1 4.4 -13.3 3 -1 -4.4zM1010.7 1024l0.5 2.2 -13.8 3.1 -0.5 -2.2zM1016.8 1050.4l2 8.7 -14.4 3.2 -1.8 -8.8zM982 956.7l0.9 4.4 -12.7 2.5 -0.8 -4.4zM987.6 983.1l0.5 2.2 -13.1 2.6 -0.5 -2.2zM988.5 987.5l0.5 2.2 -13.2 2.7 -0.4 -2.2zM989.5 991.9l1.4 6.6 -13.4 2.7 -1.2 -6.6zM993.2 1009.5l0.5 2.2 -13.6 2.7 -0.4 -2.2zM994.6 1016.1l0.5 2.2 -13.7 2.8 -0.4 -2.2zM997.4 1029.3l2.3 11 -14 2.9 -2.1 -11.1zM1001.6 1049.1l1.9 8.8 -14.4 2.9 -1.7 -8.8zM1004 1060.1l0.4 2.2 -14.4 2.9 -0.4 -2.2zM969.8 961.4l0.4 2.2 -12.7 2.4 -0.3 -2.2zM974.5 985.7l1.3 6.7 -13.2 2.4 -1.1 -6.6zM976.3 994.6l0.8 4.4 -13.3 2.5 -0.8 -4.5zM984.8 1038.7l0.9 4.5 -14.1 2.6 -0.8 -4.5zM986.1 1045.4l2.6 13.2 -14.4 2.7 -2.3 -13.3zM989.1 1060.8l0.9 4.4 -14.5 2.7 -0.8 -4.4zM960.3 981.5l1.5 8.9 -13.1 2.2 -1.4 -8.9zM962.2 992.6l0.4 2.2 -13.2 2.2 -0.4 -2.2zM970.8 1041.3l0.8 4.5 -14.1 2.3 -0.7 -4.4zM926.3 1029.8l0.6 4.5 -13.9 1.5 -0.5 -4.4zM929.1 1052.1l0.3 2.3 -14.3 1.6 -0.3 -2.2zM930.5 1063.3l0.2 2.2 -14.4 1.7 -0.3 -2.3zM914.4 1049.3l0.4 4.5 -14.2 1.3 -0.4 -4.5zM860.8 600.1l0.4 4.5 -6.5 0.5 -0.3 -4.5zM898.2 1028.2l0.2 2.3 -13.8 1.1 -0.2 -2.3zM900.6 1055.1l0.4 4.5 -14.4 1.1 -0.3 -4.5zM901.2 1061.8l0.4 4.5 -14.5 1.2 -0.3 -4.5zM852.9 578.2l0.1 2.2 -6 0.4 -0.1 -2.3zM854.7 605.1l0.4 4.5 -6.6 0.4 -0.2 -4.5zM882.8 1006.9l0.3 4.5 -13.5 0.8 -0.2 -4.5zM883.5 1015.8l0.1 2.3 -13.6 0.8 -0.1 -2.2zM883.8 1020.3l0.4 6.8 -13.7 0.8 -0.4 -6.7zM869.5 1009.9l0.1 2.3 -13.5 0.6 -0.1 -2.3zM869.7 1014.4l0.5 9 -13.7 0.6 -0.3 -9zM855.2 988l0.1 2.3 -13.1 0.3 -0.1 -2.2zM855.9 1008.3l0.5 13.5 -13.7 0.3 -0.2 -13.5zM857 1039.8l0.2 4.5 -14.1 0.3 -0.1 -4.5zM857.5 1053.3l0.5 13.4 -14.5 0.4 -0.2 -13.5zM842.7 1024.4l0.2 6.7 -13.9 0.1 0 -6.7zM842.9 1033.4l0 2.2 -13.9 0.2 0 -2.3zM843.1 1044.6l0 2.3 -14.1 0.1 0 -2.2zM829 1006.5l0 4.5 -13.5 -0.1 0.1 -4.5zM829 1042.5l0 2.3 -14.1 -0.2 0 -2.2zM829 1049.2l0 2.3 -14.2 -0.1 0 -2.3zM815.5 1010.9l-0.1 4.5 -13.6 -0.4 0.2 -4.5zM815.4 1017.6l-0.2 9 -13.8 -0.3 0.4 -9zM815.1 1033.4l-0.3 15.7 -14.1 -0.3 0.5 -15.8zM814.8 1051.4l-0.1 4.5 -14.3 -0.4 0.2 -4.5zM687.1 606.7l-2.4 6.3 -6.6 -2.6 2.6 -6.2zM632.1 578l-1.1 1.9 -6 -3.5 1.2 -1.9zM625.4 589.7l-1.2 1.9 -6.1 -3.6 1.2 -1.9zM627.4 572.6l-1.2 1.9 -5.9 -3.6 1.2 -1.9zM625 576.4l-1.1 2 -5.9 -3.7 1.2 -1.9zM574.8 600.1l-1.3 1.8 -6.4 -4.5 1.4 -1.8zM572.2 603.8l-1.3 1.8 -6.4 -4.5 1.3 -1.9zM639.9 497.3l-1.3 1.8 -4.6 -3.3 1.4 -1.8zM238.6 1020.5l-2.7 3.6 -13.6 -10.5 2.7 -3.6zM230.5 1031.2l-1.4 1.8 -13.8 -10.6 1.4 -1.7zM225.1 1038.4l-4.1 5.4 -14 -10.7 4.2 -5.3zM626.8 495.9l-1.4 1.7 -4.5 -3.6 1.4 -1.7zM581.7 531.7l-7.2 8.7 -5.3 -4.5 7.4 -8.5zM124.9 1047l-1.5 1.7 -14 -12.4 1.5 -1.7zM600.2 491.2l-1.5 1.6 -4.5 -4 1.6 -1.7zM556.7 465.5l-3.5 2.9 -4 -4.8 3.5 -2.9zM355.6 606.9l-1.8 1.3 -6.4 -8.3 1.8 -1.4zM183.9 723.1l-1.8 1.4 -8.4 -11.4 1.8 -1.3zM422.6 491l-3.8 2.3 -4.5 -7.2 3.9 -2.3zM264.2 589.9l-1.9 1.2 -6.1 -9.9 1.9 -1.2zM256.6 594.7l-1.9 1.2 -6.2 -10.1 1.9 -1.1zM289 561.5l-11.6 6.9 -5.7 -9.6 11.7 -6.8zM262 577.7l-1.9 1.2 -5.9 -10 1.9 -1.1zM258.1 580l-1.9 1.2 -5.9 -10.1 1.9 -1.1zM254.3 582.3l-2 1.2 -5.9 -10.1 1.9 -1.1zM396.4 486.8l-1.9 1.1 -4.3 -7.6 1.9 -1.1zM277.6 555.4l-3.9 2.2 -5.5 -9.7 3.9 -2.2zM267.8 561l-1.9 1.1 -5.6 -9.9 1.9 -1zM263.9 563.3l-5.8 3.3 -5.7 -10 5.9 -3.3zM254.2 568.9l-5.9 3.4 -5.7 -10.2 5.9 -3.3zM246.4 573.4l-2 1.1 -5.8 -10.3 2 -1zM285.9 538.1l-2 1.1 -5.2 -9.6 2 -1.1zM254.4 555.5l-7.9 4.4 -5.5 -10.2 7.9 -4.3zM242.6 562.1l-4 2.1 -5.6 -10.3 4 -2.1zM433.7 447.2l-2 1.1 -3.7 -7 2.1 -1zM419.8 454.6l-4 2.1 -3.8 -7.2 4 -2.1zM413.8 457.8l-4 2.1 -3.8 -7.4 4 -2zM407.8 460.9l-2 1.1 -3.8 -7.4 2 -1zM284.7 526.4l-2 1.1 -5 -9.6 2 -1zM280.7 528.5l-2 1.1 -5 -9.7 2 -1zM131.3 592.5l-2 1 -6.1 -12.3 2 -1zM452.9 420.5l-4.1 1.9 -3.2 -6.6 4.1 -1.9zM416.5 438.2l-8.1 4 -3.6 -7.4 8.2 -3.8zM303.2 493.4l-2 1 -4.4 -9.2 2 -1zM272.9 508.2l-4.1 2 -4.7 -9.8 4.1 -1.9zM415 430l-2 1 -3.3 -7.3 2 -0.9zM313.1 477.6l-4.1 1.9 -4.1 -9.1 4.1 -1.9zM333.6 457.6l-2 0.9 -3.8 -8.7 2.1 -0.9zM329.5 459.4l-2 0.9 -3.9 -8.8 2.1 -0.9zM309.1 457.7l-2 0.8 -3.8 -9.1 2.1 -0.8zM325 344.1l-4.4 1 -1.8 -8.9 4.4 -0.9zM66.9 170.3l-2.2 -0.2 1.3 -13.3 2.2 0.2zM74.9 157.7l-4.5 -0.4 1.5 -13.3 4.5 0.6zM71.9 144l-4.4 -0.5 1.7 -13.3 4.5 0.6zM77.9 118l-4.5 -0.7 2.2 -13.1 4.5 0.7zM86.7 106.1l-6.6 -1.2 2.4 -13 6.6 1.3zM91.3 93.6l-4.4 -0.9 2.6 -12.9 4.4 1zM80.3 91.5l-8.9 -1.8 2.7 -13.2 8.8 1.9zM67 88.9l-2.2 -0.4 2.7 -13.4 2.2 0.5zM87.3 79.4l-6.6 -1.5 2.9 -13 6.6 1.5zM74.1 76.5l-2.2 -0.4 2.9 -13.2 2.2 0.5zM74.8 62.9l-10.9 -2.5 3.2 -13.4 10.9 2.8zM84.5 51.4l-4.3 -1.1 3.3 -13 4.4 1.1zM78 49.8l-4.4 -1.1 3.4 -13.2 4.4 1.2zM67.1 47l-2.2 -0.5 3.4 -13.3 2.2 0.6z"/><path fill="#0F9218" stroke="#0F9218" d="M1000.6 980.2l0.5 2.2 -13 2.9 -0.5 -2.2zM1003.1 991.2l0.5 2.2 -13.2 2.9 -0.5 -2.2zM1004.1 995.5l0.5 2.2 -13.3 3 -0.4 -2.2zM988.1 985.3l0.4 2.2 -13.1 2.7 -0.4 -2.3zM993.7 1011.7l0.9 4.4 -13.6 2.8 -0.9 -4.5zM1004.4 1062.3l0.5 2.2 -14.5 3 -0.4 -2.3zM975.8 992.4l0.5 2.2 -13.3 2.4 -0.4 -2.2zM985.7 1043.2l0.4 2.2 -14.1 2.6 -0.4 -2.2zM929.4 1054.4l1.1 8.9 -14.5 1.6 -0.9 -8.9zM901 1059.6l0.2 2.2 -14.4 1.2 -0.2 -2.3zM883.1 1011.4l0.4 4.4 -13.6 0.9 -0.3 -4.5zM884.2 1027.1l0.4 4.5 -13.9 0.8 -0.2 -4.5zM886 1051.8l0.3 4.4 -14.3 0.9 -0.3 -4.5zM886.4 1058.5l0.4 4.5 -14.5 0.9 -0.2 -4.5zM869.2 1003.2l0.3 6.7 -13.5 0.6 -0.2 -6.7zM869.6 1012.2l0.1 2.2 -13.5 0.6 -0.1 -2.2zM870.2 1023.4l1.1 20.2 -14.1 0.7 -0.7 -20.3zM871.4 1045.9l0.7 13.5 -14.4 0.6 -0.4 -13.5zM857.2 1044.3l0.1 2.2 -14.2 0.4 0 -2.3zM857.3 1048.8l0.2 4.5 -14.2 0.3 -0.1 -4.5zM842.9 1031.1l0 2.3 -13.9 0.1 0 -2.3zM843.1 1046.9l0.1 4.5 -14.2 0.1 0 -4.5zM843.3 1053.6l0.2 11.3 -14.5 0.1 0 -11.2zM829 1044.8l0 4.4 -14.2 -0.1 0.1 -4.5zM815.4 1015.4l0 2.2 -13.6 -0.3 0 -2.3zM815.2 1026.6l-0.1 6.8 -13.9 -0.4 0.2 -6.7zM814.8 1049.1l0 2.3 -14.2 -0.4 0.1 -2.2zM626.2 574.5l-1.2 1.9 -5.8 -3.6 1.1 -1.9zM235.9 1024.1l-2.7 3.5 -13.7 -10.5 2.8 -3.5zM231.8 1029.4l-1.3 1.8 -13.8 -10.5 1.4 -1.8zM628.1 494.1l-1.3 1.8 -4.5 -3.6 1.4 -1.8zM133.3 1066.1l-1.4 1.7 -14.4 -12.3 1.5 -1.7zM123.4 1048.7l-1.5 1.7 -14.1 -12.5 1.6 -1.6zM598.7 492.8l-3.1 3.4 -4.4 -4.1 3 -3.3zM273.7 557.6l-5.9 3.4 -5.6 -9.8 6 -3.3zM258.1 566.6l-3.9 2.3 -5.7 -10.1 3.9 -2.2zM248.3 572.3l-1.9 1.1 -5.8 -10.2 2 -1.1zM409.8 459.9l-2 1 -3.8 -7.3 2 -1.1zM405.8 462l-1.9 1.1 -3.9 -7.5 2 -1zM282.7 527.5l-2 1 -5 -9.6 2 -1zM331.6 458.5l-2.1 0.9 -3.8 -8.8 2.1 -0.8zM71.4 89.7l-4.4 -0.8 2.7 -13.3 4.4 0.9zM80.2 50.3l-2.2 -0.5 3.4 -13.1 2.1 0.6z"/><path fill="#0D7B14" stroke="#0D7B14" d="M884.6 1031.6l0.1 2.2 -13.9 0.9 -0.1 -2.3zM885 1038.3l1 13.5 -14.3 0.8 -0.7 -13.5zM886.3 1056.2l0.1 2.3 -14.3 0.9 -0.1 -2.3zM886.8 1063l0.1 2.2 -14.4 0.9 -0.2 -2.2zM871.3 1043.6l0.1 2.3 -14.1 0.6 -0.1 -2.2zM872.1 1059.4l0.4 6.7 -14.5 0.6 -0.3 -6.7zM857.3 1046.5l0 2.3 -14.1 0.3 -0.1 -2.2zM843.2 1051.4l0.1 2.2 -14.3 0.2 0 -2.3zM233.2 1027.6l-1.4 1.8 -13.7 -10.5 1.4 -1.8zM131.9 1067.8l-4.3 5.1 -14.5 -12.3 4.4 -5.1z"/><path fill="#0A6511" stroke="#0A6511" d="M884.7 1033.8l0.3 4.5 -14 0.8 -0.2 -4.4z"/></g>
<path d="M372.8 355.0C373.3 355.1 376.5 356.4 378.2 356.3C379.9 356.2 388.2 354.3 390.1 354.0C392.0 353.7 395.7 353.7 397.2 353.3C398.7 352.9 403.8 351.0 405.3 350.5C406.8 350.0 410.9 349.0 412.1 348.5C413.3 348.0 416.4 346.2 417.2 345.2C418.0 344.2 419.9 339.7 420.5 338.1C421.1 336.5 423.1 330.8 423.0 329.2C422.9 327.6 419.8 322.8 420.0 321.6C420.2 320.4 423.6 318.1 425.5 317.3C427.4 316.5 437.2 313.9 439.5 313.2C441.8 312.5 446.7 310.6 448.3 310.7C449.9 310.8 454.6 312.8 455.9 314.0C457.2 315.2 460.2 321.0 461.0 322.9C461.8 324.8 462.9 331.5 464.0 333.0C465.1 334.5 470.2 337.1 472.4 338.1C474.6 339.1 483.9 342.3 486.3 343.1C488.7 343.9 494.5 345.8 496.5 345.7C498.5 345.6 504.6 342.5 506.1 342.6C507.6 342.7 511.3 345.6 511.7 346.9C512.1 348.2 511.7 354.2 510.4 355.8C509.1 357.4 500.7 361.4 499.0 362.9C497.3 364.4 494.0 369.1 493.4 371.0C492.8 372.9 492.8 380.4 493.4 382.4C494.0 384.4 498.2 389.3 499.0 391.3C499.8 393.3 501.4 400.4 501.5 402.7C501.6 405.0 500.2 412.0 500.3 414.1C500.4 416.2 503.2 422.4 502.8 424.2C502.4 426.0 498.1 430.0 496.5 431.8C494.9 433.6 487.7 440.1 486.3 441.9C484.9 443.7 482.9 447.7 482.5 449.5C482.1 451.3 483.4 457.7 482.5 459.7C481.6 461.7 475.1 468.7 473.7 469.8C472.3 470.9 469.1 471.0 468.6 471.1M501.5 402.7C502.0 402.3 505.2 400.0 506.6 398.9C508.0 397.8 513.5 394.3 515.5 391.3C517.5 388.3 524.9 371.6 526.9 368.5C528.9 365.4 534.3 360.9 535.7 360.4C537.1 359.9 539.7 363.6 540.8 363.9C541.9 364.2 545.8 362.7 547.1 363.4C548.4 364.1 551.6 369.9 553.5 371.0C555.4 372.1 564.2 374.9 566.2 374.8C568.2 374.8 572.9 369.7 573.8 370.5C574.7 371.3 574.4 380.1 575.0 382.4C575.6 384.7 578.7 392.2 580.1 393.3C581.5 394.4 588.1 393.8 589.0 393.8M538.8 362.9C538.8 364.7 538.7 377.0 538.3 381.1C537.9 385.2 534.7 400.1 534.5 403.9C534.3 407.7 535.7 416.8 536.5 419.1C537.3 421.4 541.2 425.3 542.1 426.7C543.0 428.1 544.9 432.1 545.9 433.1C546.9 434.1 551.6 436.5 552.2 436.9M336.6 470.4C337.9 471.0 346.8 476.6 349.6 476.9C352.5 477.2 362.5 474.6 365.1 473.0C367.7 471.4 373.9 463.2 375.5 461.3C377.1 459.4 379.8 454.0 380.7 453.6C381.6 453.2 383.3 456.7 384.6 457.5C385.9 458.3 392.7 460.9 393.6 461.3M409.1 462.2C409.5 463.5 411.5 472.2 412.9 474.9C414.3 477.6 420.9 487.5 423.0 488.8C425.1 490.1 432.4 488.5 434.4 487.6C436.4 486.7 442.4 480.8 443.3 480.0M627.0 452.1C627.1 452.6 630.1 456.2 628.2 457.1C626.3 458.0 610.5 459.6 608.0 460.9C605.5 462.2 604.2 468.4 602.9 469.8C601.6 471.2 596.1 474.4 595.3 474.9M453.4 500.2C453.8 501.7 456.4 512.5 457.2 515.4C458.0 518.3 459.4 528.5 461.0 529.4C462.6 530.3 471.0 525.1 473.7 524.3C476.4 523.5 486.0 521.4 487.6 521.8C489.2 522.2 489.2 528.1 490.1 528.1C491.0 528.1 494.3 522.9 496.5 521.8C498.7 520.7 509.4 517.5 511.7 517.4C514.0 517.3 517.8 519.7 519.3 520.5C520.8 521.3 525.4 524.5 526.9 525.6C528.4 526.7 532.5 530.9 534.5 531.9C536.5 532.9 545.8 535.3 547.1 535.7M487.6 521.8C487.7 523.2 489.3 533.4 488.9 535.7C488.5 538.0 484.3 544.2 483.8 545.1M557.3 528.1C558.3 527.7 564.4 524.5 567.4 524.3C570.4 524.0 584.9 525.6 587.7 525.6C590.5 525.6 594.3 522.8 595.3 523.8C596.3 524.8 597.3 533.6 597.8 535.7C598.3 537.8 600.1 544.2 600.4 545.1M651.0 501.5C650.2 503.1 643.6 515.0 643.4 518.0C643.2 521.0 649.2 529.2 649.0 531.9C648.8 534.6 641.7 543.8 640.9 545.1M483.8 545.0C483.5 546.0 482.2 553.5 480.8 555.1C479.4 556.8 471.2 560.0 469.9 561.5C468.5 563.0 467.4 568.4 467.3 570.3C467.2 572.2 469.1 578.9 468.6 580.5C468.1 582.1 463.0 585.4 462.3 586.8C461.6 588.2 461.0 592.5 461.5 594.4C462.0 596.3 466.1 603.5 467.3 605.8C468.5 608.1 473.4 615.1 473.7 617.2C474.0 619.4 470.7 624.8 470.6 627.3C470.6 629.8 472.8 640.1 473.2 642.5C473.6 644.9 473.6 650.4 474.9 651.4C476.2 652.4 484.1 652.2 486.3 652.7C488.5 653.2 494.5 656.5 496.5 656.5C498.5 656.5 504.8 653.5 506.6 652.7C508.4 651.9 512.7 648.8 514.2 648.9C515.7 649.0 520.1 653.1 521.8 653.4C523.4 653.6 529.2 651.0 530.7 651.4C532.2 651.8 536.9 655.9 537.0 657.0C537.1 658.1 532.5 661.1 531.9 662.8C531.3 664.5 530.8 672.1 531.4 674.2C532.0 676.3 537.7 681.3 538.3 683.8C538.9 686.3 538.9 697.5 537.8 699.0C536.7 700.5 528.6 699.6 527.4 699.0C526.2 698.4 526.4 694.0 525.6 693.2C524.8 692.4 520.7 691.1 519.3 691.4C517.9 691.6 513.1 694.1 511.7 695.7C510.3 697.3 506.2 704.8 505.3 707.1C504.4 709.4 503.7 716.5 502.8 718.5C501.9 720.5 498.0 725.6 496.5 727.4C495.0 729.2 489.2 735.2 487.6 736.3C486.0 737.4 481.3 738.4 480.0 738.8C478.7 739.2 474.7 739.5 474.2 740.6C473.7 741.7 474.3 748.2 474.9 750.2C475.5 752.2 479.6 758.8 480.0 760.4C480.4 762.0 480.3 765.7 479.2 766.7C478.1 767.7 471.1 769.3 468.6 770.0C466.2 770.7 457.0 772.6 454.7 773.5C452.4 774.4 448.2 778.4 445.8 779.4C443.4 780.4 433.9 782.2 430.6 783.2C427.3 784.2 415.0 787.8 412.9 789.0C410.8 790.2 410.1 794.5 409.8 795.1M470.6 627.3C469.4 627.6 460.9 629.3 458.5 629.9C456.1 630.5 449.8 632.0 447.1 633.7C444.4 635.4 434.3 645.9 431.9 646.8C429.5 647.7 425.2 643.6 423.0 642.5C420.8 641.4 412.4 636.0 410.3 635.7C408.2 635.4 403.0 638.9 402.2 639.2M537.0 657.0C538.0 657.1 544.8 657.2 547.1 657.7C549.4 658.2 557.3 661.5 559.8 662.1C562.3 662.7 570.0 663.5 572.5 663.6C575.0 663.7 582.9 662.8 585.2 662.8C587.5 662.8 593.5 664.2 595.3 664.1C597.1 664.0 601.1 662.1 602.9 662.1C604.7 662.1 611.0 664.0 613.0 664.1C615.0 664.2 620.4 663.4 623.2 663.6C626.0 663.8 638.4 665.3 640.9 666.1C643.4 666.9 647.1 670.0 648.5 671.7C649.9 673.4 653.7 680.6 654.8 683.1C655.9 685.6 658.9 694.6 659.9 697.0C660.9 699.4 663.6 704.6 665.0 707.1C666.4 709.6 673.7 719.8 673.8 722.3C673.9 724.8 667.8 730.5 666.2 732.5C664.6 734.5 658.5 741.1 657.4 742.6C656.3 744.1 654.2 747.1 654.8 747.7C655.4 748.3 662.4 748.2 663.7 749.0C665.1 749.8 668.3 754.0 668.3 755.3C668.3 756.6 665.7 761.8 663.7 762.4C661.7 763.0 651.0 760.3 648.5 760.9C646.0 761.5 640.4 766.4 638.4 768.0C636.4 769.6 629.8 775.7 628.2 776.8C626.6 777.9 623.2 778.3 622.6 779.4C622.0 780.5 623.1 786.6 622.6 788.2C622.1 789.8 618.6 794.4 618.1 795.1M585.2 662.8C585.9 661.7 591.4 654.4 592.2 651.4C593.0 648.4 591.7 634.8 592.8 632.4C593.9 630.0 601.4 628.7 602.9 627.3C604.4 625.9 606.5 620.3 608.0 618.5C609.5 616.7 616.3 611.2 618.1 609.6C619.9 608.0 623.9 603.8 625.7 602.8C627.5 601.8 633.3 600.3 635.8 599.5C638.3 598.7 649.2 595.8 651.0 594.4C652.8 593.0 653.8 587.6 653.6 585.5C653.4 583.4 650.5 574.5 649.0 572.9C647.5 571.3 640.2 570.1 638.4 569.1C636.6 568.1 631.8 564.9 630.8 563.2C629.8 561.6 629.2 554.0 628.2 552.6C627.2 551.2 622.1 549.0 620.6 548.8C619.1 548.6 614.6 551.0 613.0 550.6C611.4 550.2 605.7 545.6 604.9 545.0M630.8 563.2C631.2 562.3 633.6 555.7 634.6 553.9C635.6 552.1 639.8 545.9 640.4 545.0M635.8 599.5C637.3 599.9 648.0 602.3 651.0 603.3C654.0 604.3 663.7 608.2 666.2 609.6C668.7 611.0 674.5 615.4 676.4 617.2C678.3 619.0 684.1 626.3 685.0 627.3M480.0 760.4C481.1 760.3 489.0 760.1 491.4 759.8C493.8 759.5 501.6 757.6 504.1 757.8C506.6 758.0 514.7 760.8 516.7 761.6C518.7 762.4 522.8 764.8 523.8 765.4C524.8 766.0 525.8 767.4 526.9 768.0C528.0 768.6 533.5 770.8 534.5 771.8C535.5 772.8 536.4 777.6 537.0 778.1C537.6 778.6 540.3 776.3 540.8 776.8C541.3 777.3 541.2 782.6 542.1 783.2C543.0 783.8 547.7 782.2 549.7 782.6C551.7 783.0 559.4 785.8 562.3 787.0C565.2 788.2 577.1 794.3 578.8 795.1M673.8 722.3C674.9 722.0 683.9 720.0 685.0 719.8M385.0 776.8C385.8 777.1 391.1 778.6 392.6 779.4C394.1 780.2 399.3 782.8 400.2 784.4C401.1 786.0 401.4 794.0 401.5 795.1M685.0 620.9C686.0 620.4 692.9 616.4 695.5 615.7C698.1 615.1 708.9 615.2 711.2 614.4C713.6 613.6 718.0 609.2 719.0 607.8C720.0 606.4 720.7 601.0 721.7 600.0C722.8 599.0 727.9 597.3 729.5 597.4C731.1 597.5 735.8 600.0 737.4 601.3C739.0 602.6 743.4 608.9 745.2 610.5C747.0 612.1 753.1 616.6 755.7 617.0C758.3 617.4 768.0 614.8 771.4 614.4C774.8 614.0 787.1 613.0 789.7 613.1C792.3 613.2 796.8 615.4 797.6 615.7M685.0 712.6C685.8 713.9 691.1 723.4 692.9 725.7C694.7 728.1 701.2 734.3 703.3 736.1C705.4 737.9 712.2 742.4 713.8 744.0C715.4 745.6 719.1 750.6 719.0 751.9C718.9 753.2 712.8 756.5 712.5 757.1C712.2 757.8 716.0 758.3 716.4 758.4M400.2 795.0C400.6 795.2 403.0 797.4 404.0 797.5C405.0 797.6 409.7 796.8 410.3 796.3C410.9 795.8 409.9 793.3 409.8 793.0M578.8 793.0C578.3 793.2 573.5 794.0 573.8 795.0C574.1 796.0 580.8 800.8 581.4 802.6C582.0 804.4 580.5 810.8 580.1 812.7C579.7 814.6 577.7 820.1 577.6 821.6C577.5 823.1 577.8 828.0 578.8 827.9C579.8 827.8 585.3 821.6 587.7 820.3C590.1 819.0 599.6 816.6 602.9 815.3C606.2 814.0 619.1 809.7 620.6 807.7C622.1 805.7 618.4 796.3 618.1 795.0M620.6 807.7C621.1 809.5 624.9 822.6 625.7 825.4C626.5 828.2 628.0 834.5 628.2 835.5" fill="none" stroke="#858585" stroke-width="1.3" stroke-linejoin="round"/>
<path d="M385.0 279.4L392.6 272.3L402.2 268.5L405.3 255.3L409.8 236.8L444.0 211.5L452.9 175.5L465.6 171.2L476.2 169.1L490.1 164.1L493.9 180.5L504.1 185.1L516.7 189.4L523.1 188.4L524.9 188.2L526.2 173.6L539.4 175.7L552.6 183.3L555.4 194.4L549.1 209.7L557.5 213.1L564.4 213.1M385.9 280.0L383.3 293.0L382.0 313.7L375.5 326.6L362.5 334.4L361.2 342.2L367.7 351.2L372.9 360.3L371.6 369.4L356.1 374.6L352.2 384.9L341.8 383.1L332.0 388.3L330.2 406.9L321.1 432.8L310.2 443.2L308.1 448.4L318.5 458.8L336.6 469.1L335.3 473.0L330.2 477.4L317.2 479.0L314.6 492.4L310.7 509.3L313.3 515.8L310.7 528.7L315.9 536.5L317.2 549.4L331.5 550.7L341.8 560.1L351.9 582.0L361.3 600.9L364.5 621.3L384.9 621.3L392.8 627.6L403.1 637.0L394.3 644.9L391.2 655.9L394.3 666.9L405.3 674.8L417.0 681.1L412.6 692.1L413.2 707.2L397.5 710.9L395.9 721.9L391.2 731.4L390.6 740.8L380.2 748.7L378.6 756.5L392.8 761.3L392.1 773.8L380.2 784.8L366.0 794.3L354.1 802.1L356.6 808.4L368.6 805.3L373.0 817.9L366.7 821.0L367.6 830.4L378.6 839.9L389.6 846.8L403.8 849.3L416.4 845.5L438.4 847.7L447.8 854.0L455.7 857.2L456.6 877.6L464.8 887.5L461.5 895.1L473.7 891.8L490.1 892.5L492.7 896.3L501.5 898.4L510.4 882.4L520.5 882.4L530.7 891.3L539.5 893.8L538.3 881.1L543.3 875.6L553.5 872.3L558.5 857.1L567.4 858.8L574.5 854.5L576.3 843.1L587.7 839.3L590.2 840.6L614.3 840.1L615.6 837.6L627.0 838.6L630.8 835.0L651.0 841.9L655.6 849.5L659.9 860.4L667.5 861.4L665.0 865.9L678.9 869.7L685.0 874.8L685.0 873.6L690.2 878.3L696.8 879.3L700.7 878.3L705.9 884.0L711.2 887.2L712.5 880.1M564.4 213.1C564.3 214.0 563.6 221.0 563.0 222.2C562.4 223.4 558.8 224.0 558.2 224.9C557.7 225.8 557.2 230.4 557.5 231.2C557.8 232.0 560.6 232.7 560.9 233.3C561.2 233.9 560.1 236.4 560.2 237.4C560.3 238.4 562.1 242.2 561.6 243.0C561.1 243.8 556.1 245.0 555.4 245.7C554.7 246.4 554.3 249.1 554.7 249.9C555.1 250.7 559.8 253.0 559.5 253.4C559.2 253.8 552.7 253.2 551.9 254.1C551.1 255.0 551.0 261.2 551.2 262.4C551.4 263.6 553.8 265.2 554.0 265.9C554.2 266.6 552.9 268.6 553.3 269.3C553.6 270.0 557.4 272.0 557.5 272.8C557.6 273.6 555.5 277.0 554.7 277.0C553.9 277.0 549.9 272.7 549.8 272.8C549.7 272.9 553.5 277.4 553.3 278.3C553.1 279.2 548.5 280.9 547.8 281.8C547.1 282.7 546.1 286.5 546.4 287.4C546.7 288.3 550.4 290.0 551.2 290.8C552.0 291.6 553.4 294.8 554.0 295.7C554.6 296.6 556.5 299.8 556.8 300.0C557.1 300.2 556.4 297.2 556.8 298.1C557.2 299.0 559.9 306.4 560.7 308.5C561.5 310.6 564.7 317.0 564.6 318.9C564.5 320.8 559.0 326.7 559.4 327.9C559.8 329.1 567.4 329.3 568.5 330.5C569.6 331.7 570.9 337.7 570.6 339.6C570.3 341.5 565.6 348.0 565.9 349.4C566.2 350.8 571.8 352.4 573.7 353.8C575.6 355.2 584.5 361.1 585.3 362.9C586.1 364.7 581.5 369.9 581.5 372.0C581.5 374.1 584.4 381.7 585.3 383.6C586.2 385.5 589.9 391.5 590.5 391.4C591.1 391.3 591.0 383.5 591.8 382.3C592.6 381.1 597.5 378.9 598.3 379.7C599.1 380.5 599.2 388.3 599.6 390.1C600.0 391.9 601.3 397.6 602.2 397.9C603.1 398.2 607.2 392.7 608.7 392.7C610.2 392.7 616.9 396.5 617.7 397.9C618.5 399.3 616.0 405.3 616.4 406.9C616.8 408.4 621.6 411.9 621.6 413.4C621.6 414.9 616.1 420.4 616.4 422.0C616.7 423.6 623.7 427.5 624.2 429.0C624.7 430.5 621.5 434.8 621.6 436.7C621.7 438.6 624.3 446.4 625.5 448.4C626.7 450.3 631.6 454.5 633.3 456.2C635.0 457.9 640.0 463.8 642.3 465.2C644.6 466.6 654.1 469.0 656.6 470.4C659.1 471.8 665.1 478.7 666.9 479.5C668.7 480.3 673.5 477.4 674.7 478.2C675.9 479.0 678.0 485.1 678.6 487.3C679.2 489.5 680.9 498.1 681.2 500.2C681.5 502.3 681.4 506.9 682.0 508.0C682.6 509.1 686.6 511.4 687.7 511.1C688.8 510.8 692.0 506.6 692.8 505.4C693.6 504.2 693.7 499.7 695.4 498.9C697.1 498.1 707.6 497.1 709.7 497.6C711.8 498.1 714.0 501.4 716.2 504.1C718.4 506.8 729.4 522.2 731.7 524.8C734.0 527.4 737.7 529.4 739.5 530.0C741.3 530.6 748.5 530.6 749.8 531.3C751.1 532.0 751.5 536.7 752.4 537.0C753.3 537.3 757.3 534.0 758.9 533.9C760.5 533.8 766.1 536.8 768.0 536.0C769.9 535.2 776.6 526.3 778.3 525.6C780.0 524.9 783.6 527.7 784.8 528.7C786.0 529.7 788.6 534.3 790.0 535.2C791.4 536.1 797.6 536.8 799.1 537.8C800.6 538.8 804.3 545.6 805.5 545.5C806.7 545.4 809.5 537.1 810.7 536.5C811.9 535.9 816.6 538.1 817.2 539.1C817.9 540.1 817.9 545.9 817.2 546.8C816.6 547.6 812.1 547.0 810.7 547.6C809.3 548.2 803.7 551.6 802.8 552.9C801.9 554.2 801.1 559.4 801.5 560.7C801.9 562.0 806.4 564.5 806.8 565.9C807.2 567.3 805.2 573.5 805.5 575.1C805.8 576.7 809.1 580.4 809.4 581.7C809.7 583.0 809.1 586.6 808.1 588.2C807.1 589.8 799.6 594.6 798.9 597.4C798.2 600.1 800.6 613.4 801.5 615.7C802.4 618.1 807.6 620.0 808.1 620.9C808.6 621.8 807.6 624.9 806.8 624.9C806.0 624.9 801.4 621.0 800.2 620.9C799.0 620.8 794.7 622.7 795.0 623.6C795.3 624.5 802.3 628.9 802.8 630.1C803.3 631.3 801.8 633.3 800.2 635.3C798.6 637.3 790.0 647.6 787.1 649.7C784.2 651.8 774.1 654.2 771.4 656.3C768.6 658.4 761.7 668.2 759.6 670.7C757.5 673.2 751.3 679.6 750.5 681.2C749.7 682.8 751.0 685.5 751.8 686.4C752.6 687.3 758.3 689.2 758.8 690.3C759.3 691.3 757.7 694.7 757.0 696.9C756.3 699.1 752.7 709.7 751.8 712.6C750.9 715.5 748.8 723.7 747.8 725.7C746.8 727.7 742.7 730.5 741.3 732.2C739.9 733.9 735.1 741.1 733.4 742.7C731.7 744.3 726.0 746.3 724.3 747.9C722.6 749.5 716.8 756.4 716.4 758.4C716.0 760.4 720.2 766.3 720.3 767.6C720.4 768.9 718.7 771.2 717.7 771.5C716.7 771.8 711.1 769.8 709.9 770.2C708.7 770.6 705.8 774.5 705.9 775.4C706.0 776.3 709.9 778.4 711.2 779.4C712.5 780.4 718.0 784.3 719.0 785.9C720.0 787.5 721.6 794.2 721.7 795.1C721.8 796.0 721.0 794.4 720.3 795.0C719.6 795.6 716.4 800.1 715.1 801.5C713.8 802.9 708.3 807.7 707.3 809.4C706.3 811.1 705.1 816.1 705.4 818.6C705.7 821.1 709.2 831.4 709.9 834.3C710.6 837.2 712.2 844.5 712.5 847.4C712.8 850.3 712.5 859.8 712.5 863.1C712.5 866.4 712.5 878.4 712.5 880.1M564.4 213.1C565.0 212.9 569.0 212.0 570.0 211.1C571.0 210.2 574.1 205.6 574.4 204.1C574.7 202.6 573.5 196.8 573.1 195.8C572.7 194.8 570.7 193.9 570.0 194.1C569.3 194.3 566.8 198.1 565.8 197.9C564.8 197.7 560.1 193.1 559.5 192.3C558.9 191.5 559.6 190.4 560.2 190.2C560.8 190.0 565.0 190.6 565.8 190.2C566.6 189.8 568.2 187.0 568.6 186.1C569.0 185.2 569.7 182.0 569.3 181.2C568.9 180.4 564.6 179.6 564.4 178.4C564.2 177.2 566.6 170.4 567.2 169.4C567.8 168.4 569.8 167.7 570.6 168.0C571.4 168.3 574.7 172.2 575.5 172.2C576.3 172.2 577.3 168.6 578.3 168.0C579.3 167.4 583.8 166.1 585.2 166.0C586.6 165.9 590.9 167.4 592.2 167.3C593.5 167.2 598.1 165.2 598.4 164.6C598.7 164.0 595.0 162.6 594.9 161.8C594.8 161.0 597.1 157.8 597.0 156.9C596.9 156.0 593.7 153.5 593.5 152.8C593.3 152.1 594.8 151.2 594.9 150.0C595.0 148.8 594.8 143.2 594.3 141.3C593.8 139.4 591.5 132.8 590.2 131.1C588.9 129.4 581.7 125.2 581.4 124.0C581.1 122.8 586.4 120.2 586.9 119.0C587.4 117.8 585.8 113.2 586.4 112.1C587.0 111.0 591.3 108.3 592.8 107.8C594.3 107.3 600.1 108.6 601.6 107.1C603.1 105.6 606.7 94.9 608.0 93.1C609.3 91.2 612.4 89.6 614.3 88.6C616.2 87.6 624.6 84.1 627.0 83.0C629.4 81.9 636.8 78.2 638.4 77.9C640.0 77.6 641.9 79.6 643.4 79.5C644.9 79.4 651.7 78.0 653.6 76.7C655.5 75.4 661.8 68.4 662.4 66.5C663.0 64.6 659.3 59.6 659.4 57.7C659.5 55.9 662.9 49.5 663.7 48.0C664.5 46.5 667.1 43.5 667.5 43.0M83.7 733.9L95.1 745.3L104.0 754.2L106.5 768.1L117.9 780.8L118.4 788.4L112.4 795.5L125.5 809.9L126.8 821.3L116.7 829.5L126.8 839.1L130.1 849.7L138.2 841.6L145.8 839.1L158.5 837.1L173.7 831.5L185.1 819.3L196.5 820.1L209.1 825.1L215.5 832.7L221.3 841.6L228.1 826.4L227.4 816.8L237.0 804.9L245.9 797.3L253.5 795.5L259.8 799.0L271.2 801.1L280.1 807.4L290.2 806.6L297.8 803.1L307.4 808.2L315.6 804.9L317.6 789.7L325.7 785.4L334.6 792.2L343.4 797.3L354.1 801.6M712.5 880.1L719.0 882.7L728.2 882.7L737.4 880.1L743.9 872.2L750.5 870.9L755.7 877.5L762.2 878.8L768.8 884.0L775.3 880.9L785.8 893.2L797.6 897.1L810.7 907.6L821.2 911.5L830.3 920.7L834.8 927.2L827.7 931.2L822.5 937.7L825.1 945.6L831.6 950.8L836.9 957.3L848.7 958.7L853.9 963.9L852.6 975.7L859.1 975.7L864.4 980.9L859.1 988.8L855.2 996.6L848.7 990.1L842.1 988.8L839.5 996.6L844.7 1004.5L850.0 1011.0L856.5 1009.7L859.1 1017.6L856.5 1024.1L865.7 1033.3L873.5 1042.4L881.4 1047.7" fill="none" stroke="#000" stroke-width="2.85" stroke-linejoin="round" stroke-linecap="round"/>
<path d="M215.1 45.5V1046.5M344.7 45.5V1046.5M474.3 45.5V1046.5M603.9 45.5V1046.5M733.5 45.5V1046.5M863.1 45.5V1046.5M85.5 96.2H992.5M85.5 246.2H992.5M85.5 396.3H992.5M85.5 546.3H992.5M85.5 696.3H992.5M85.5 846.4H992.5M85.5 996.4H992.5" stroke="#808080" stroke-opacity="0.45" stroke-width="0.6" stroke-dasharray="2.6 1.1" fill="none"/>
<circle cx="829" cy="237" r="5.3" fill="#f00808" stroke="#000" stroke-width="1"/>
<path d="M425.79999999999995 378.4H433.0M429.4 374.2V382.59999999999997" stroke="#000" stroke-width="1.1" fill="none"/><circle cx="429.4" cy="378.4" r="1.7"/>
<text x="398.2" y="367.4" font-size="18.2" textLength="52.3" lengthAdjust="spacingAndGlyphs" font-weight="bold">Wiltz</text>
<path d="M535.6999999999999 498.4H542.9M539.3 494.2V502.59999999999997" stroke="#000" stroke-width="1.1" fill="none"/><circle cx="539.3" cy="498.4" r="1.7"/>
<text x="507.6" y="487.8" font-size="18.2" textLength="112.6" lengthAdjust="spacingAndGlyphs" font-weight="bold">Ettelbruck</text>
<path d="M606.8 721.3H614.0M610.4 717.0999999999999V725.5" stroke="#000" stroke-width="1.1" fill="none"/><circle cx="610.4" cy="721.3" r="1.7"/>
<text x="578.4" y="710.5" font-size="18.2" textLength="65.6" lengthAdjust="spacingAndGlyphs" font-weight="bold">Findel</text>
<path d="M464.0 848.5H471.20000000000005M467.6 844.3V852.7" stroke="#000" stroke-width="1.1" fill="none"/><circle cx="467.6" cy="848.5" r="1.7"/>
<text x="436.8" y="837.0" font-size="18.2" textLength="133.4" lengthAdjust="spacingAndGlyphs" font-weight="bold">Esch/Alzette</text>
<rect x="94.7" y="50.7" width="217.7" height="49" fill="#fff" fill-opacity="0.9" stroke="#000" stroke-width="1"/>
<text x="99.4" y="69.4" font-size="16.9" textLength="206.5" lengthAdjust="spacingAndGlyphs">Product: 0.5° Reflectivity</text>
<text x="99.4" y="90.4" font-size="16.9" textLength="92.5" lengthAdjust="spacingAndGlyphs">Data: DWD</text>
</g>
<rect x="85.5" y="45.5" width="907.0" height="1001.0" fill="none" stroke="#000" stroke-width="1"/>
<text x="344.3" y="37.9" font-size="37.4" textLength="390.5" lengthAdjust="spacingAndGlyphs">19.11.2025 09:33 UTC</text>
<text x="77.6" y="100.8" font-size="16.9" text-anchor="end" textLength="67.5" lengthAdjust="spacingAndGlyphs">50.25°N</text>
<text x="77.6" y="250.8" font-size="16.9" text-anchor="end" textLength="56.9" lengthAdjust="spacingAndGlyphs">50.1°N</text>
<text x="77.6" y="400.9" font-size="16.9" text-anchor="end" textLength="67.5" lengthAdjust="spacingAndGlyphs">49.95°N</text>
<text x="77.6" y="550.9" font-size="16.9" text-anchor="end" textLength="56.9" lengthAdjust="spacingAndGlyphs">49.8°N</text>
<text x="77.6" y="700.9" font-size="16.9" text-anchor="end" textLength="67.5" lengthAdjust="spacingAndGlyphs">49.65°N</text>
<text x="77.6" y="851.0" font-size="16.9" text-anchor="end" textLength="56.9" lengthAdjust="spacingAndGlyphs">49.5°N</text>
<text x="77.6" y="1001.0" font-size="16.9" text-anchor="end" textLength="67.5" lengthAdjust="spacingAndGlyphs">49.35°N</text>
<text x="215.1" y="1067.2" font-size="16.9" text-anchor="middle" textLength="44" lengthAdjust="spacingAndGlyphs">5.6°E</text>
<text x="344.7" y="1067.2" font-size="16.9" text-anchor="middle" textLength="44" lengthAdjust="spacingAndGlyphs">5.8°E</text>
<text x="473.1" y="1067.2" font-size="16.9" text-anchor="middle" textLength="28.5" lengthAdjust="spacingAndGlyphs">6°E</text>
<text x="603.9" y="1067.2" font-size="16.9" text-anchor="middle" textLength="44" lengthAdjust="spacingAndGlyphs">6.2°E</text>
<text x="733.5" y="1067.2" font-size="16.9" text-anchor="middle" textLength="44" lengthAdjust="spacingAndGlyphs">6.4°E</text>
<text x="863.1" y="1067.2" font-size="16.9" text-anchor="middle" textLength="44" lengthAdjust="spacingAndGlyphs">6.6°E</text>
<rect x="1050.6" y="963.55" width="45.1" height="32.45" fill="#6678AA"/>
<rect x="1050.6" y="931.41" width="45.1" height="32.45" fill="#546BA5"/>
<rect x="1050.6" y="899.26" width="45.1" height="32.45" fill="#4462A6"/>
<rect x="1050.6" y="867.11" width="45.1" height="32.45" fill="#4A7FB6"/>
<rect x="1050.6" y="834.97" width="45.1" height="32.45" fill="#5CA0C8"/>
<rect x="1050.6" y="802.82" width="45.1" height="32.45" fill="#66C2DC"/>
<rect x="1050.6" y="770.68" width="45.1" height="32.45" fill="#64D6C4"/>
<rect x="1050.6" y="738.53" width="45.1" height="32.45" fill="#3FD670"/>
<rect x="1050.6" y="706.38" width="45.1" height="32.45" fill="#13C61E"/>
<rect x="1050.6" y="674.24" width="45.1" height="32.45" fill="#12B51C"/>
<rect x="1050.6" y="642.09" width="45.1" height="32.45" fill="#11A41B"/>
<rect x="1050.6" y="609.94" width="45.1" height="32.45" fill="#0F9218"/>
<rect x="1050.6" y="577.80" width="45.1" height="32.45" fill="#0D7B14"/>
<rect x="1050.6" y="545.65" width="45.1" height="32.45" fill="#0A6511"/>
<rect x="1050.6" y="513.50" width="45.1" height="32.45" fill="#447C0C"/>
<rect x="1050.6" y="481.36" width="45.1" height="32.45" fill="#AEB40C"/>
<rect x="1050.6" y="449.21" width="45.1" height="32.45" fill="#FFD900"/>
<rect x="1050.6" y="417.06" width="45.1" height="32.45" fill="#FFB900"/>
<rect x="1050.6" y="384.92" width="45.1" height="32.45" fill="#FF9D00"/>
<rect x="1050.6" y="352.77" width="45.1" height="32.45" fill="#FF8100"/>
<rect x="1050.6" y="320.62" width="45.1" height="32.45" fill="#E20000"/>
<rect x="1050.6" y="288.48" width="45.1" height="32.45" fill="#C20000"/>
<rect x="1050.6" y="256.33" width="45.1" height="32.45" fill="#A10000"/>
<rect x="1050.6" y="224.19" width="45.1" height="32.45" fill="#7C0000"/>
<rect x="1050.6" y="192.04" width="45.1" height="32.45" fill="#FFE1FF"/>
<rect x="1050.6" y="159.89" width="45.1" height="32.45" fill="#FFB1FF"/>
<rect x="1050.6" y="127.75" width="45.1" height="32.45" fill="#FF67FF"/>
<rect x="1050.6" y="95.60" width="45.1" height="32.45" fill="#EE34EE"/>
<rect x="1050.6" y="95.6" width="45.1" height="900.1" fill="none" stroke="#000" stroke-width="1"/>
<path d="M1095.7 995.7h4.6" stroke="#000" stroke-width="1"/>
<text x="1105.2" y="1006.1" font-size="30.0" textLength="17.3" lengthAdjust="spacingAndGlyphs">0</text>
<path d="M1095.7 867.1h4.6" stroke="#000" stroke-width="1"/>
<text x="1105.2" y="877.5" font-size="30.0" textLength="34.6" lengthAdjust="spacingAndGlyphs">10</text>
<path d="M1095.7 738.5h4.6" stroke="#000" stroke-width="1"/>
<text x="1105.2" y="748.9" font-size="30.0" textLength="34.6" lengthAdjust="spacingAndGlyphs">20</text>
<path d="M1095.7 609.9h4.6" stroke="#000" stroke-width="1"/>
<text x="1105.2" y="620.3" font-size="30.0" textLength="34.6" lengthAdjust="spacingAndGlyphs">30</text>
<path d="M1095.7 481.4h4.6" stroke="#000" stroke-width="1"/>
<text x="1105.2" y="491.8" font-size="30.0" textLength="34.6" lengthAdjust="spacingAndGlyphs">40</text>
<path d="M1095.7 352.8h4.6" stroke="#000" stroke-width="1"/>
<text x="1105.2" y="363.2" font-size="30.0" textLength="34.6" lengthAdjust="spacingAndGlyphs">50</text>
<path d="M1095.7 224.2h4.6" stroke="#000" stroke-width="1"/>
<text x="1105.2" y="234.6" font-size="30.0" textLength="34.6" lengthAdjust="spacingAndGlyphs">60</text>
<path d="M1095.7 95.6h4.6" stroke="#000" stroke-width="1"/>
<text x="1105.2" y="106.0" font-size="30.0" textLength="34.6" lengthAdjust="spacingAndGlyphs">70</text>
<text x="0" y="0" font-size="29.6" textLength="55" lengthAdjust="spacingAndGlyphs" transform="translate(1169.2 576.2) rotate(-90)">dBZ</text>
</svg>
</body></html>
